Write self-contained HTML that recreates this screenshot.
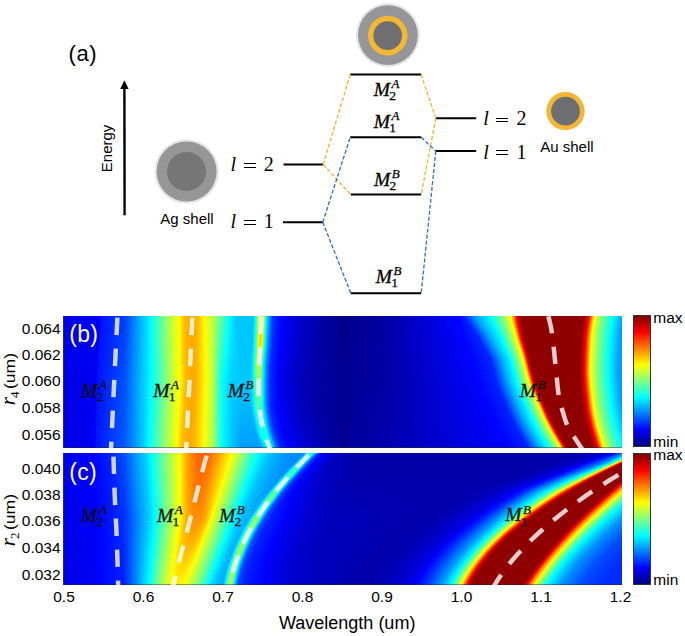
<!DOCTYPE html><html><head><meta charset="utf-8"><style>
html,body{margin:0;padding:0;background:#fff;}
body{width:685px;height:636px;position:relative;overflow:hidden;font-family:'Liberation Sans', sans-serif;}
.t{position:absolute;white-space:nowrap;line-height:1;}
.hm{position:absolute;overflow:hidden;}
.hm i{display:block;width:100%;}
.cb{position:absolute;box-sizing:border-box;border:1px solid #333;background:linear-gradient(180deg,#800000 0%,#ff0000 12.5%,#ffff00 37.5%,#00ffff 62.5%,#0000ff 87.5%,#000080 100%);}
svg{position:absolute;left:0;top:0;}
</style></head><body>
<div class="hm" style="left:63px;top:316px;width:559px;height:132px">
<i style="height:1px;background:linear-gradient(90deg,#0000e6 0px,#0000f5 33.5px,#0004ff 37.5px,#0014ff 38.5px,#003cff 61.5px,#00fbff 87.5px,#2cffd3 92.5px,#e4ff1b 112.5px,#fbff04 115.5px,#ffea00 117.5px,#ffc400 120.5px,#ffaf00 124.5px,#ffa800 130.5px,#ffb800 134.5px,#fffa00 141.5px,#c1ff3e 149.5px,#06fff9 165.5px,#00ebff 168.5px,#00c7ff 173.5px,#00cbff 190.5px,#00edff 191.5px,#0ffff0 192.5px,#37ffc8 193.5px,#d9ff26 195.5px,#ffe700 196.5px,#ffb600 197.5px,#ff9200 198.5px,#ffcf00 199.5px,#eeff11 200.5px,#27ffd8 202.5px,#00ecff 203.5px,#0077ff 207.5px,#002dff 210.5px,#0001ff 219.5px,#0000d3 234.5px,#00009b 265.5px,#00008b 279.5px,#0000a5 322.5px,#0004ff 395.5px,#0022ff 401.5px,#00a1ff 412.5px,#00fcff 427.5px,#40ffbf 433.5px,#95ff6a 440.5px,#fbff04 447.5px,#ffe300 448.5px,#ff9300 450.5px,#fc0000 453.5px,#9c0000 457.5px,#8f0000 458.5px,#8f0000 520.5px,#930000 521.5px,#f10000 525.5px,#ff1200 526.5px,#fffa00 531.5px,#a8ff57 536.5px,#77ff88 539.5px,#04fffb 549.5px,#00abff 559px)"></i>
<i style="height:1px;background:linear-gradient(90deg,#0000e6 0px,#0000f6 33.5px,#0005ff 37.5px,#0015ff 38.5px,#003cff 61.5px,#00fbff 87.5px,#2bffd4 92.5px,#e4ff1b 112.5px,#fbff04 115.5px,#ffea00 117.5px,#ffc400 120.5px,#ffaf00 124.5px,#ffa800 130.5px,#ffb800 134.5px,#fffa00 141.5px,#cbff34 148.5px,#05fffa 165.5px,#00e3ff 169.5px,#00c7ff 173.5px,#00c7ff 189.5px,#00ccff 190.5px,#00edff 191.5px,#10ffef 192.5px,#38ffc7 193.5px,#daff25 195.5px,#ffe800 196.5px,#ffb700 197.5px,#ff9500 198.5px,#ffd200 199.5px,#eaff15 200.5px,#24ffdb 202.5px,#00ebff 203.5px,#0076ff 207.5px,#002dff 210.5px,#0001ff 219.5px,#0000d3 234.5px,#00009d 264.5px,#00008b 278.5px,#0000a5 322.5px,#0003ff 395.5px,#0026ff 402.5px,#009dff 412.5px,#02fffd 428.5px,#90ff6f 440.5px,#f7ff08 447.5px,#ffeb00 448.5px,#ff6d00 451.5px,#ff0100 453.5px,#9f0000 457.5px,#8f0000 458.5px,#8f0000 520.5px,#980000 521.5px,#f50000 525.5px,#ff1b00 526.5px,#feff01 531.5px,#82ff7d 538.5px,#01fffe 549.5px,#00a9ff 559px)"></i>
<i style="height:1px;background:linear-gradient(90deg,#0000e6 0px,#0000f6 33.5px,#0000f9 36.5px,#0006ff 37.5px,#0015ff 38.5px,#003cff 61.5px,#00fbff 87.5px,#2bffd4 92.5px,#e4ff1b 112.5px,#fbff04 115.5px,#ffea00 117.5px,#ffc400 120.5px,#ffaf00 124.5px,#ffa800 130.5px,#ffb800 134.5px,#fffa00 141.5px,#d3ff2c 147.5px,#91ff6e 153.5px,#05fffa 165.5px,#00c7ff 173.5px,#00c7ff 189.5px,#00ccff 190.5px,#00eeff 191.5px,#10ffef 192.5px,#3affc5 193.5px,#daff25 195.5px,#ffe800 196.5px,#ffb800 197.5px,#ff9900 198.5px,#ffd600 199.5px,#e5ff1a 200.5px,#20ffdf 202.5px,#00eaff 203.5px,#0075ff 207.5px,#002dff 210.5px,#0001ff 219.5px,#0000d2 234.5px,#00009d 264.5px,#00008b 278.5px,#0000a5 322.5px,#0003ff 395.5px,#0022ff 402.5px,#00a0ff 413.5px,#00fdff 428.5px,#8cff73 440.5px,#f4ff0b 447.5px,#fff400 448.5px,#ff7700 451.5px,#ff0900 453.5px,#eb0000 454.5px,#a10000 457.5px,#8f0000 458.5px,#8f0000 520.5px,#9c0000 521.5px,#f90000 525.5px,#ff2400 526.5px,#ffdd00 530.5px,#fbff04 531.5px,#7fff80 538.5px,#00feff 549.5px,#00a7ff 559px)"></i>
<i style="height:1px;background:linear-gradient(90deg,#0000e6 0px,#0000f6 33.5px,#0000fa 36.5px,#0015ff 38.5px,#003dff 61.5px,#00fbff 87.5px,#35ffca 93.5px,#e4ff1b 112.5px,#fbff04 115.5px,#ffeb00 117.5px,#ffc400 120.5px,#ffaf00 124.5px,#ffa800 130.5px,#ffb800 134.5px,#fffa00 141.5px,#dbff24 146.5px,#a9ff56 151.5px,#04fffb 165.5px,#00c7ff 173.5px,#00c7ff 189.5px,#00cdff 190.5px,#00efff 191.5px,#11ffee 192.5px,#3bffc4 193.5px,#dbff24 195.5px,#ffe900 196.5px,#ffb800 197.5px,#ff9d00 198.5px,#ffd900 199.5px,#e1ff1e 200.5px,#1dffe2 202.5px,#00e9ff 203.5px,#0074ff 207.5px,#002cff 210.5px,#0001ff 219.5px,#0000d2 234.5px,#00009e 263.5px,#00008b 278.5px,#0000a5 322.5px,#0004ff 396.5px,#0023ff 403.5px,#00a2ff 414.5px,#03fffc 429.5px,#87ff78 440.5px,#fffd00 448.5px,#ff8100 451.5px,#ff1200 453.5px,#ee0000 454.5px,#8f0000 458.5px,#8f0000 520.5px,#b80000 522.5px,#fd0000 525.5px,#ffe500 530.5px,#f7ff08 531.5px,#7dff82 538.5px,#00fdff 549.5px,#00a6ff 559px)"></i>
<i style="height:1px;background:linear-gradient(90deg,#0000e6 0px,#0000f6 33.5px,#0000fa 36.5px,#0015ff 38.5px,#003dff 61.5px,#00fbff 87.5px,#35ffca 93.5px,#e4ff1b 112.5px,#fbff04 115.5px,#ffeb00 117.5px,#ffc400 120.5px,#ffaf00 124.5px,#ffa800 130.5px,#ffb800 134.5px,#fffa00 141.5px,#dbff24 146.5px,#b5ff4a 150.5px,#03fffc 165.5px,#00c7ff 173.5px,#00c7ff 189.5px,#00ceff 190.5px,#00efff 191.5px,#11ffee 192.5px,#3dffc2 193.5px,#dbff24 195.5px,#ffea00 196.5px,#ffb900 197.5px,#ffa100 198.5px,#ffdd00 199.5px,#dcff23 200.5px,#1affe5 202.5px,#00e8ff 203.5px,#0073ff 207.5px,#002cff 210.5px,#0000ff 219.5px,#0000d2 234.5px,#00009e 263.5px,#00008c 279.5px,#0000a5 322.5px,#0004ff 396.5px,#0027ff 404.5px,#009eff 414.5px,#00feff 429.5px,#91ff6e 441.5px,#fcff03 448.5px,#ffb300 450.5px,#ff8900 451.5px,#ff1c00 453.5px,#f20000 454.5px,#900000 458.5px,#8f0000 520.5px,#ff0500 525.5px,#ffed00 530.5px,#f4ff0b 531.5px,#7bff84 538.5px,#07fff8 548.5px,#00f1ff 550.5px,#00a4ff 559px)"></i>
<i style="height:1px;background:linear-gradient(90deg,#0000e6 0px,#0000f6 33.5px,#0000fa 36.5px,#0015ff 38.5px,#003dff 61.5px,#00fbff 87.5px,#34ffcb 93.5px,#e4ff1b 112.5px,#fbff04 115.5px,#fff900 116.5px,#ffc400 120.5px,#ffaf00 124.5px,#ffa800 130.5px,#ffb800 134.5px,#fffa00 141.5px,#e3ff1c 145.5px,#b4ff4b 150.5px,#03fffc 165.5px,#00c7ff 173.5px,#00c7ff 189.5px,#00cfff 190.5px,#00f0ff 191.5px,#12ffed 192.5px,#3effc1 193.5px,#dcff23 195.5px,#ffea00 196.5px,#ffba00 197.5px,#ffa400 198.5px,#ffe100 199.5px,#d8ff27 200.5px,#17ffe8 202.5px,#00e7ff 203.5px,#008bff 206.5px,#002cff 210.5px,#0000ff 219.5px,#0000d2 234.5px,#0000a0 262.5px,#00008b 278.5px,#0000a5 322.5px,#0003ff 396.5px,#0022ff 404.5px,#00a0ff 415.5px,#04fffb 430.5px,#8cff73 441.5px,#f8ff07 448.5px,#ffe600 449.5px,#ff9100 451.5px,#ff2600 453.5px,#f70000 454.5px,#930000 458.5px,#910000 520.5px,#ee0000 524.5px,#ff0d00 525.5px,#fff500 530.5px,#f1ff0e 531.5px,#79ff86 538.5px,#05fffa 548.5px,#00d3ff 553.5px,#00a2ff 559px)"></i>
<i style="height:1px;background:linear-gradient(90deg,#0000e6 0px,#0000f6 33.5px,#0000fa 36.5px,#0015ff 38.5px,#003eff 61.5px,#00fbff 87.5px,#34ffcb 93.5px,#e4ff1b 112.5px,#faff05 115.5px,#fff900 116.5px,#ffc400 120.5px,#ffaf00 124.5px,#ffa800 130.5px,#ffb800 134.5px,#fffa00 141.5px,#e3ff1c 145.5px,#b4ff4b 150.5px,#0efff1 164.5px,#02fffd 165.5px,#00c7ff 173.5px,#00c7ff 189.5px,#00d0ff 190.5px,#00f1ff 191.5px,#12ffed 192.5px,#40ffbf 193.5px,#ddff22 195.5px,#ffea00 196.5px,#ffba00 197.5px,#ffa800 198.5px,#ffe500 199.5px,#d3ff2c 200.5px,#14ffeb 202.5px,#00e5ff 203.5px,#008aff 206.5px,#003fff 209.5px,#002bff 210.5px,#0000ff 219.5px,#0000d2 234.5px,#0000a0 262.5px,#00008c 279.5px,#0000a5 322.5px,#0003ff 396.5px,#0024ff 405.5px,#00a2ff 416.5px,#00feff 430.5px,#87ff78 441.5px,#f5ff0a 448.5px,#fff100 449.5px,#ff6a00 452.5px,#ff3100 453.5px,#fb0000 454.5px,#960000 458.5px,#8f0000 460.5px,#8f0000 519.5px,#950000 520.5px,#f20000 524.5px,#ff1500 525.5px,#fffd00 530.5px,#77ff88 538.5px,#03fffc 548.5px,#00a1ff 559px)"></i>
<i style="height:1px;background:linear-gradient(90deg,#0000e6 0px,#0000f6 33.5px,#0000fa 36.5px,#0015ff 38.5px,#003eff 61.5px,#00fbff 87.5px,#34ffcb 93.5px,#e4ff1b 112.5px,#faff05 115.5px,#fffa00 116.5px,#ffc400 120.5px,#ffaf00 124.5px,#ffa800 130.5px,#ffb800 134.5px,#fffa00 141.5px,#e3ff1c 145.5px,#c1ff3e 149.5px,#2fffd0 161.5px,#02fffd 165.5px,#00c7ff 173.5px,#00c7ff 189.5px,#00d1ff 190.5px,#00f1ff 191.5px,#13ffec 192.5px,#42ffbd 193.5px,#ddff22 195.5px,#ffeb00 196.5px,#ffbb00 197.5px,#ffac00 198.5px,#ffe900 199.5px,#ceff31 200.5px,#10ffef 202.5px,#00e4ff 203.5px,#0089ff 206.5px,#003eff 209.5px,#002bff 210.5px,#0000fe 219.5px,#0000d1 234.5px,#0000a1 261.5px,#00008c 279.5px,#0000a5 322.5px,#0004ff 397.5px,#0028ff 406.5px,#009eff 416.5px,#00fbff 430.5px,#04fffb 431.5px,#91ff6e 442.5px,#fffb00 449.5px,#ff7600 452.5px,#ff0200 454.5px,#9a0000 458.5px,#8f0000 459.5px,#8f0000 519.5px,#990000 520.5px,#f60000 524.5px,#ff1d00 525.5px,#ffd700 529.5px,#fdff02 530.5px,#81ff7e 537.5px,#01fffe 548.5px,#009fff 559px)"></i>
<i style="height:1px;background:linear-gradient(90deg,#0000e6 0px,#0000f6 33.5px,#0000fa 36.5px,#0015ff 38.5px,#003eff 61.5px,#00f4ff 86.5px,#05fffa 88.5px,#dcff23 111.5px,#faff05 115.5px,#fffa00 116.5px,#ffc400 120.5px,#ffaf00 124.5px,#ffa800 130.5px,#ffb800 134.5px,#fffa00 141.5px,#ecff13 144.5px,#c1ff3e 149.5px,#39ffc6 160.5px,#01fffe 165.5px,#00c7ff 173.5px,#00c7ff 189.5px,#00d2ff 190.5px,#00f2ff 191.5px,#14ffeb 192.5px,#43ffbc 193.5px,#deff21 195.5px,#ffeb00 196.5px,#ffbb00 197.5px,#ffb000 198.5px,#ffed00 199.5px,#caff35 200.5px,#0dfff2 202.5px,#00e3ff 203.5px,#0087ff 206.5px,#003dff 209.5px,#002bff 210.5px,#0000fe 219.5px,#0000d1 234.5px,#0000a1 261.5px,#00008c 279.5px,#0000a5 322.5px,#0004ff 397.5px,#0023ff 406.5px,#00a0ff 417.5px,#00feff 431.5px,#8cff73 442.5px,#fcff03 449.5px,#ffae00 451.5px,#ff8200 452.5px,#ff0d00 454.5px,#ea0000 455.5px,#9d0000 458.5px,#8f0000 459.5px,#8f0000 519.5px,#9d0000 520.5px,#fa0000 524.5px,#ff2500 525.5px,#ffde00 529.5px,#faff05 530.5px,#7fff80 537.5px,#00feff 548.5px,#009eff 559px)"></i>
<i style="height:1px;background:linear-gradient(90deg,#0000e6 0px,#0000f6 33.5px,#0000fb 36.5px,#0015ff 38.5px,#003fff 61.5px,#00f4ff 86.5px,#05fffa 88.5px,#dcff23 111.5px,#fffa00 116.5px,#ffc400 120.5px,#ffaf00 124.5px,#ffa800 130.5px,#ffb800 134.5px,#fff900 141.5px,#ecff13 144.5px,#c0ff3f 149.5px,#38ffc7 160.5px,#01fffe 165.5px,#00c7ff 173.5px,#00c7ff 189.5px,#00d3ff 190.5px,#00f3ff 191.5px,#14ffeb 192.5px,#45ffba 193.5px,#dfff20 195.5px,#ffec00 196.5px,#ffbc00 197.5px,#ffb400 198.5px,#fff000 199.5px,#c5ff3a 200.5px,#09fff6 202.5px,#00e1ff 203.5px,#0086ff 206.5px,#003cff 209.5px,#002aff 210.5px,#0000fe 219.5px,#0000d1 234.5px,#0000a2 260.5px,#00008c 279.5px,#0000a5 322.5px,#0003ff 397.5px,#0025ff 407.5px,#00a2ff 418.5px,#00fbff 431.5px,#12ffed 433.5px,#96ff69 443.5px,#f8ff07 449.5px,#ffe600 450.5px,#ff8c00 452.5px,#ff1900 454.5px,#ef0000 455.5px,#a10000 458.5px,#8f0000 459.5px,#8f0000 519.5px,#cf0000 522.5px,#fe0000 524.5px,#ffe500 529.5px,#f7ff08 530.5px,#7dff82 537.5px,#00fdff 548.5px,#009eff 559px)"></i>
<i style="height:1px;background:linear-gradient(90deg,#0000e6 0px,#0000f6 33.5px,#0000fc 36.5px,#0015ff 38.5px,#003fff 61.5px,#00f4ff 86.5px,#05fffa 88.5px,#dcff23 111.5px,#fffa00 116.5px,#ffc500 120.5px,#ffaf00 124.5px,#ffa800 130.5px,#ffb800 134.5px,#fff900 141.5px,#ecff13 144.5px,#c0ff3f 149.5px,#42ffbd 159.5px,#00ffff 165.5px,#00c8ff 173.5px,#00c7ff 189.5px,#00d4ff 190.5px,#00f4ff 191.5px,#15ffea 192.5px,#47ffb8 193.5px,#e0ff1f 195.5px,#ffec00 196.5px,#ffbc00 197.5px,#ffb900 198.5px,#fff500 199.5px,#c0ff3f 200.5px,#06fff9 202.5px,#00a1ff 205.5px,#003bff 209.5px,#002aff 210.5px,#0000fe 219.5px,#0000d3 233.5px,#0000a2 260.5px,#00008c 279.5px,#0000a5 322.5px,#0003ff 397.5px,#0029ff 408.5px,#009eff 418.5px,#00feff 432.5px,#91ff6e 443.5px,#f4ff0b 449.5px,#fff100 450.5px,#ff9700 452.5px,#ff2500 454.5px,#f50000 455.5px,#8f0000 459.5px,#8f0000 519.5px,#ff0400 524.5px,#ffed00 529.5px,#f4ff0b 530.5px,#7bff84 537.5px,#07fff8 547.5px,#00f1ff 549.5px,#009eff 559px)"></i>
<i style="height:1px;background:linear-gradient(90deg,#0000e6 0px,#0000f6 33.5px,#0000fd 36.5px,#0015ff 38.5px,#003fff 61.5px,#00f4ff 86.5px,#05fffa 88.5px,#dcff23 111.5px,#fffa00 116.5px,#ffc500 120.5px,#ffaf00 124.5px,#ffa800 130.5px,#ffb800 134.5px,#fff900 141.5px,#ecff13 144.5px,#c0ff3f 149.5px,#41ffbe 159.5px,#00feff 165.5px,#00c8ff 173.5px,#00c7ff 189.5px,#00d5ff 190.5px,#00f5ff 191.5px,#15ffea 192.5px,#49ffb6 193.5px,#e1ff1e 195.5px,#ffec00 196.5px,#ffbc00 197.5px,#ffbd00 198.5px,#fff900 199.5px,#bbff44 200.5px,#02fffd 202.5px,#0083ff 206.5px,#003aff 209.5px,#002aff 210.5px,#0000fd 219.5px,#0000d2 233.5px,#0000a4 259.5px,#00008d 279.5px,#0000a5 322.5px,#0003ff 397.5px,#0023ff 408.5px,#00a0ff 419.5px,#00fbff 432.5px,#05fffa 433.5px,#8bff74 443.5px,#fffe00 450.5px,#ff7000 453.5px,#ff3300 454.5px,#fa0000 455.5px,#910000 459.5px,#900000 519.5px,#ee0000 523.5px,#ff0c00 524.5px,#fff300 529.5px,#f2ff0d 530.5px,#79ff86 537.5px,#05fffa 547.5px,#00ddff 551.5px,#00a3ff 557.5px,#009eff 559px)"></i>
<i style="height:1px;background:linear-gradient(90deg,#0000e6 0px,#0000f5 32.5px,#0000fe 36.5px,#000fff 37.5px,#001cff 42.5px,#003fff 61.5px,#00f4ff 86.5px,#05fffa 88.5px,#dcff23 111.5px,#fffb00 116.5px,#ffc500 120.5px,#ffaf00 124.5px,#ffa800 130.5px,#ffb800 134.5px,#fff900 141.5px,#ecff13 144.5px,#c0ff3f 149.5px,#40ffbf 159.5px,#00feff 165.5px,#00c9ff 173.5px,#00c7ff 189.5px,#00d6ff 190.5px,#00f6ff 191.5px,#16ffe9 192.5px,#4bffb4 193.5px,#e2ff1d 195.5px,#ffec00 196.5px,#ffbd00 197.5px,#ffc100 198.5px,#fffd00 199.5px,#b6ff49 200.5px,#00fdff 202.5px,#0082ff 206.5px,#0039ff 209.5px,#0029ff 210.5px,#0000fd 219.5px,#0000d2 233.5px,#0000a4 259.5px,#00008d 279.5px,#0000a5 322.5px,#0004ff 398.5px,#0025ff 409.5px,#00a2ff 420.5px,#00feff 433.5px,#84ff7b 443.5px,#fbff04 450.5px,#ffdc00 451.5px,#ff7e00 453.5px,#ff0200 455.5px,#950000 459.5px,#8f0000 461.5px,#8f0000 518.5px,#930000 519.5px,#f10000 523.5px,#ff1200 524.5px,#fffa00 529.5px,#a8ff57 534.5px,#77ff88 537.5px,#04fffb 547.5px,#00a1ff 557.5px,#009eff 559px)"></i>
<i style="height:1px;background:linear-gradient(90deg,#0000e6 0px,#0000f5 32.5px,#0000ff 36.5px,#0010ff 37.5px,#0040ff 61.5px,#00f4ff 86.5px,#05fffa 88.5px,#dcff23 111.5px,#fffb00 116.5px,#ffc500 120.5px,#ffaf00 124.5px,#ffa800 130.5px,#ffb800 134.5px,#fff900 141.5px,#ecff13 144.5px,#c0ff3f 149.5px,#49ffb6 158.5px,#00fdff 165.5px,#00c9ff 173.5px,#00c7ff 189.5px,#00d7ff 190.5px,#00f6ff 191.5px,#17ffe8 192.5px,#4dffb2 193.5px,#e2ff1d 195.5px,#ffec00 196.5px,#ffbd00 197.5px,#ffc500 198.5px,#fdff02 199.5px,#b1ff4e 200.5px,#00fbff 202.5px,#0081ff 206.5px,#0037ff 209.5px,#0029ff 210.5px,#0000fd 219.5px,#0000d2 233.5px,#0000a5 258.5px,#00008d 279.5px,#0000a5 322.5px,#0003ff 398.5px,#0028ff 410.5px,#00a4ff 421.5px,#00faff 433.5px,#05fffa 434.5px,#8fff70 444.5px,#f6ff09 450.5px,#ffe800 451.5px,#ff8a00 453.5px,#ff1000 455.5px,#ea0000 456.5px,#9a0000 459.5px,#8f0000 460.5px,#8f0000 518.5px,#970000 519.5px,#f40000 523.5px,#ff1900 524.5px,#feff01 529.5px,#82ff7d 536.5px,#02fffd 547.5px,#00a0ff 557.5px,#009eff 559px)"></i>
<i style="height:1px;background:linear-gradient(90deg,#0000e6 0px,#0000f5 32.5px,#0001ff 36.5px,#0011ff 37.5px,#0040ff 61.5px,#00f4ff 86.5px,#05fffa 88.5px,#dcff23 111.5px,#fffb00 116.5px,#ffc500 120.5px,#ffaf00 124.5px,#ffa800 130.5px,#ffb800 134.5px,#fff900 141.5px,#f4ff0b 143.5px,#c0ff3f 149.5px,#48ffb7 158.5px,#00fdff 165.5px,#00c7ff 174.5px,#00c7ff 189.5px,#00d8ff 190.5px,#00f7ff 191.5px,#17ffe8 192.5px,#4fffb0 193.5px,#e2ff1d 195.5px,#ffed00 196.5px,#ffbd00 197.5px,#ffca00 198.5px,#f9ff06 199.5px,#acff53 200.5px,#51ffae 201.5px,#00faff 202.5px,#007fff 206.5px,#0036ff 209.5px,#0029ff 210.5px,#0000fd 219.5px,#0000d2 233.5px,#0000a5 258.5px,#00008d 279.5px,#0000a5 322.5px,#0003ff 398.5px,#0023ff 410.5px,#00a7ff 422.5px,#00feff 434.5px,#89ff76 444.5px,#f1ff0e 450.5px,#fff600 451.5px,#ff9600 453.5px,#ff1e00 455.5px,#f00000 456.5px,#9e0000 459.5px,#8f0000 460.5px,#8f0000 518.5px,#9a0000 519.5px,#f70000 523.5px,#ff2000 524.5px,#ffd900 528.5px,#fcff03 529.5px,#80ff7f 536.5px,#00ffff 547.5px,#009eff 557.5px,#009eff 559px)"></i>
<i style="height:1px;background:linear-gradient(90deg,#0000e6 0px,#0000f5 32.5px,#0002ff 36.5px,#0012ff 37.5px,#0040ff 61.5px,#00f4ff 86.5px,#05fffa 88.5px,#dcff23 111.5px,#fffb00 116.5px,#ffc500 120.5px,#ffaf00 124.5px,#ffa800 130.5px,#ffb800 134.5px,#fff900 141.5px,#f5ff0a 143.5px,#c0ff3f 149.5px,#47ffb8 158.5px,#00fcff 165.5px,#00c7ff 174.5px,#00c7ff 189.5px,#00d9ff 190.5px,#00f8ff 191.5px,#18ffe7 192.5px,#51ffae 193.5px,#e2ff1d 195.5px,#ffed00 196.5px,#ffbd00 197.5px,#ffce00 198.5px,#f5ff0a 199.5px,#a7ff58 200.5px,#4dffb2 201.5px,#00f8ff 202.5px,#007eff 206.5px,#0035ff 209.5px,#0023ff 211.5px,#0001ff 218.5px,#0000d2 233.5px,#0000a5 258.5px,#00008d 279.5px,#0000a5 322.5px,#0002ff 398.5px,#0024ff 411.5px,#00a2ff 422.5px,#00faff 434.5px,#05fffa 435.5px,#94ff6b 445.5px,#fdff02 451.5px,#ffa300 453.5px,#ff6e00 454.5px,#ff2d00 455.5px,#f60000 456.5px,#a20000 459.5px,#8f0000 460.5px,#8f0000 518.5px,#9d0000 519.5px,#fa0000 523.5px,#ff2600 524.5px,#ffdf00 528.5px,#faff05 529.5px,#7eff81 536.5px,#00feff 547.5px,#009eff 557.5px,#009eff 559px)"></i>
<i style="height:1px;background:linear-gradient(90deg,#0000e6 0px,#0000f5 32.5px,#0003ff 36.5px,#0012ff 37.5px,#0041ff 61.5px,#00f4ff 86.5px,#05fffa 88.5px,#dcff23 111.5px,#fffb00 116.5px,#ffc500 120.5px,#ffaf00 124.5px,#ffa800 130.5px,#ffb800 134.5px,#fff900 141.5px,#f5ff0a 143.5px,#c0ff3f 149.5px,#46ffb9 158.5px,#00fbff 165.5px,#00c7ff 174.5px,#00c7ff 189.5px,#00dbff 190.5px,#00f9ff 191.5px,#19ffe6 192.5px,#53ffac 193.5px,#e2ff1d 195.5px,#ffed00 196.5px,#ffbd00 197.5px,#ffd200 198.5px,#f0ff0f 199.5px,#a2ff5d 200.5px,#49ffb6 201.5px,#00f7ff 202.5px,#007dff 206.5px,#0034ff 209.5px,#0023ff 211.5px,#0000ff 218.5px,#0000d1 233.5px,#0000a6 257.5px,#00008d 279.5px,#0000a5 322.5px,#0004ff 399.5px,#0028ff 412.5px,#00a4ff 423.5px,#00feff 435.5px,#8dff72 445.5px,#f8ff07 451.5px,#ffe100 452.5px,#ff7e00 454.5px,#fd0000 456.5px,#a70000 459.5px,#8f0000 460.5px,#8f0000 518.5px,#b80000 520.5px,#fd0000 523.5px,#ffe500 528.5px,#f8ff07 529.5px,#7dff82 536.5px,#00fdff 547.5px,#009eff 557.5px,#009eff 559px)"></i>
<i style="height:1px;background:linear-gradient(90deg,#0000e6 0px,#0000f5 32.5px,#0004ff 36.5px,#0013ff 37.5px,#0041ff 61.5px,#00f4ff 86.5px,#05fffa 88.5px,#dbff24 111.5px,#fffc00 116.5px,#ffc500 120.5px,#ffaf00 124.5px,#ffa800 130.5px,#ffb800 134.5px,#fff900 141.5px,#f5ff0a 143.5px,#c0ff3f 149.5px,#45ffba 158.5px,#00fbff 165.5px,#00c7ff 174.5px,#00c7ff 189.5px,#00dcff 190.5px,#00faff 191.5px,#19ffe6 192.5px,#55ffaa 193.5px,#e2ff1d 195.5px,#ffed00 196.5px,#ffbe00 197.5px,#ffd700 198.5px,#ecff13 199.5px,#9dff62 200.5px,#44ffbb 201.5px,#00f5ff 202.5px,#007bff 206.5px,#0033ff 209.5px,#0023ff 211.5px,#0000ff 218.5px,#0000d1 233.5px,#0000a6 257.5px,#00008e 279.5px,#0000a5 322.5px,#0003ff 399.5px,#0023ff 412.5px,#00a6ff 424.5px,#04fffb 436.5px,#86ff79 445.5px,#f3ff0c 451.5px,#ffef00 452.5px,#ff8b00 454.5px,#ff0a00 456.5px,#e60000 457.5px,#940000 460.5px,#8f0000 465.5px,#8f0000 518.5px,#ff0200 523.5px,#ffea00 528.5px,#f6ff09 529.5px,#7cff83 536.5px,#00fcff 547.5px,#009eff 557.5px,#009eff 559px)"></i>
<i style="height:1px;background:linear-gradient(90deg,#0000e6 0px,#0000f5 32.5px,#0005ff 36.5px,#0014ff 37.5px,#0041ff 61.5px,#00f4ff 86.5px,#05fffa 88.5px,#dbff24 111.5px,#fffc00 116.5px,#ffc500 120.5px,#ffaf00 124.5px,#ffa800 130.5px,#ffb800 134.5px,#fff800 141.5px,#f5ff0a 143.5px,#c0ff3f 149.5px,#43ffbc 158.5px,#05fffa 164.5px,#00ebff 167.5px,#00c7ff 174.5px,#00c7ff 189.5px,#00ddff 190.5px,#00fbff 191.5px,#1affe5 192.5px,#57ffa8 193.5px,#e2ff1d 195.5px,#ffed00 196.5px,#ffbe00 197.5px,#ffdb00 198.5px,#e8ff17 199.5px,#98ff67 200.5px,#40ffbf 201.5px,#00f4ff 202.5px,#0094ff 205.5px,#0032ff 209.5px,#0018ff 213.5px,#0000ff 218.5px,#0000d1 233.5px,#0000a6 257.5px,#00008e 279.5px,#0000a5 322.5px,#0002ff 399.5px,#0024ff 413.5px,#00a1ff 424.5px,#00fdff 436.5px,#91ff6e 446.5px,#fffe00 452.5px,#ff9800 454.5px,#ff5d00 455.5px,#ff1a00 456.5px,#ec0000 457.5px,#b00000 459.5px,#980000 460.5px,#8f0000 461.5px,#8f0000 518.5px,#eb0000 522.5px,#ff0700 523.5px,#ffef00 528.5px,#f4ff0b 529.5px,#7aff85 536.5px,#06fff9 546.5px,#00f1ff 548.5px,#009eff 557.5px,#009eff 559px)"></i>
<i style="height:1px;background:linear-gradient(90deg,#0000e6 0px,#0000f5 32.5px,#0000f9 35.5px,#0005ff 36.5px,#0014ff 37.5px,#0042ff 61.5px,#00f4ff 86.5px,#05fffa 88.5px,#dbff24 111.5px,#fffc00 116.5px,#ffc600 120.5px,#ffaf00 124.5px,#ffa800 130.5px,#ffb800 134.5px,#fff800 141.5px,#f5ff0a 143.5px,#c0ff3f 149.5px,#42ffbd 158.5px,#05fffa 164.5px,#00e0ff 169.5px,#00c7ff 174.5px,#00c7ff 189.5px,#00fcff 191.5px,#1bffe4 192.5px,#59ffa6 193.5px,#e2ff1d 195.5px,#ffed00 196.5px,#ffbe00 197.5px,#ffe000 198.5px,#e3ff1c 199.5px,#3bffc4 201.5px,#00f2ff 202.5px,#0092ff 205.5px,#0030ff 209.5px,#0003ff 217.5px,#0000cf 234.5px,#0000a6 257.5px,#00008e 279.5px,#0000a5 322.5px,#0002ff 399.5px,#0028ff 414.5px,#00a4ff 425.5px,#00faff 436.5px,#05fffa 437.5px,#8bff74 446.5px,#faff05 452.5px,#ffd900 453.5px,#ff6e00 455.5px,#ff2a00 456.5px,#f30000 457.5px,#b60000 459.5px,#9d0000 460.5px,#8f0000 461.5px,#900000 518.5px,#ed0000 522.5px,#ff0c00 523.5px,#fff300 528.5px,#f2ff0d 529.5px,#79ff86 536.5px,#05fffa 546.5px,#00ddff 550.5px,#00a3ff 556.5px,#009eff 559px)"></i>
<i style="height:1px;background:linear-gradient(90deg,#0000e6 0px,#0000f5 32.5px,#0000fa 35.5px,#0015ff 37.5px,#0042ff 61.5px,#00f4ff 86.5px,#05fffa 88.5px,#dbff24 111.5px,#fffc00 116.5px,#ffc600 120.5px,#ffaf00 124.5px,#ffa800 130.5px,#ffb800 134.5px,#fff800 141.5px,#f5ff0a 143.5px,#c0ff3f 149.5px,#41ffbe 158.5px,#04fffb 164.5px,#00cbff 173.5px,#00c7ff 189.5px,#00fdff 191.5px,#1cffe3 192.5px,#e2ff1d 195.5px,#ffed00 196.5px,#ffbe00 197.5px,#ffe400 198.5px,#dfff20 199.5px,#37ffc8 201.5px,#00f0ff 202.5px,#0090ff 205.5px,#002fff 209.5px,#0000fe 218.5px,#0000d0 233.5px,#0000a7 256.5px,#00008e 279.5px,#0000a5 322.5px,#0003ff 400.5px,#0023ff 414.5px,#00a8ff 426.5px,#00feff 437.5px,#85ff7a 446.5px,#f5ff0a 452.5px,#ffe600 453.5px,#ff7f00 455.5px,#ff3a00 456.5px,#fa0000 457.5px,#a20000 460.5px,#8f0000 461.5px,#920000 518.5px,#f00000 522.5px,#ff1000 523.5px,#fff800 528.5px,#deff21 530.5px,#78ff87 536.5px,#04fffb 546.5px,#00a2ff 556.5px,#009dff 559px)"></i>
<i style="height:1px;background:linear-gradient(90deg,#0000e6 0px,#0000f5 32.5px,#0000fa 35.5px,#0015ff 37.5px,#0042ff 61.5px,#00f4ff 86.5px,#05fffa 88.5px,#dbff24 111.5px,#fffd00 116.5px,#ffc600 120.5px,#ffaf00 124.5px,#ffa800 130.5px,#ffb800 134.5px,#fff800 141.5px,#f5ff0a 143.5px,#c0ff3f 149.5px,#40ffbf 158.5px,#03fffc 164.5px,#00d5ff 171.5px,#00c7ff 175.5px,#00c7ff 189.5px,#00feff 191.5px,#1cffe3 192.5px,#e3ff1c 195.5px,#ffed00 196.5px,#ffbe00 197.5px,#ffe900 198.5px,#dbff24 199.5px,#33ffcc 201.5px,#00efff 202.5px,#008fff 205.5px,#002eff 209.5px,#0000fe 218.5px,#0000d0 233.5px,#0000a7 256.5px,#00008e 279.5px,#0000a5 322.5px,#0003ff 400.5px,#0027ff 415.5px,#00a4ff 426.5px,#00fbff 437.5px,#16ffe9 439.5px,#91ff6e 447.5px,#f0ff0f 452.5px,#fff500 453.5px,#ff8d00 455.5px,#ff0700 457.5px,#c30000 459.5px,#900000 461.5px,#8f0000 517.5px,#940000 518.5px,#f20000 522.5px,#ff1400 523.5px,#fffc00 528.5px,#77ff88 536.5px,#03fffc 546.5px,#00a1ff 556.5px,#009dff 559px)"></i>
<i style="height:1px;background:linear-gradient(90deg,#0000e6 0px,#0000f5 32.5px,#0000fa 35.5px,#0015ff 37.5px,#0042ff 61.5px,#00f4ff 86.5px,#05fffa 88.5px,#dbff24 111.5px,#fffd00 116.5px,#ffc600 120.5px,#ffaf00 124.5px,#ffa800 130.5px,#ffb800 134.5px,#fff800 141.5px,#f5ff0a 143.5px,#c0ff3f 149.5px,#3effc1 158.5px,#03fffc 164.5px,#00dfff 169.5px,#00c7ff 174.5px,#00c7ff 189.5px,#00ffff 191.5px,#1dffe2 192.5px,#a6ff59 194.5px,#e3ff1c 195.5px,#ffed00 196.5px,#ffbe00 197.5px,#ffee00 198.5px,#d6ff29 199.5px,#2effd1 201.5px,#00edff 202.5px,#008dff 205.5px,#002dff 209.5px,#0000fe 218.5px,#0000d0 233.5px,#0000a7 256.5px,#00008e 279.5px,#0000a5 322.5px,#0002ff 400.5px,#0023ff 415.5px,#00a8ff 427.5px,#01fffe 438.5px,#8bff74 447.5px,#fdff02 453.5px,#ff9b00 455.5px,#ff5f00 456.5px,#ff1900 457.5px,#eb0000 458.5px,#ad0000 460.5px,#960000 461.5px,#8f0000 463.5px,#8f0000 517.5px,#960000 518.5px,#f30000 522.5px,#ff1800 523.5px,#ffff00 528.5px,#83ff7c 535.5px,#02fffd 546.5px,#00a0ff 556.5px,#009dff 559px)"></i>
<i style="height:1px;background:linear-gradient(90deg,#0000e6 0px,#0000f5 32.5px,#0000fa 35.5px,#0015ff 37.5px,#0043ff 61.5px,#00f4ff 86.5px,#05fffa 88.5px,#dbff24 111.5px,#fffd00 116.5px,#ffc600 120.5px,#ffaf00 124.5px,#ffa800 130.5px,#ffb800 134.5px,#fff800 141.5px,#f5ff0a 143.5px,#bfff40 149.5px,#3dffc2 158.5px,#02fffd 164.5px,#00e4ff 168.5px,#00c7ff 174.5px,#00c7ff 189.5px,#01fffe 191.5px,#1effe1 192.5px,#a7ff58 194.5px,#e3ff1c 195.5px,#ffec00 196.5px,#ffbe00 197.5px,#fff200 198.5px,#d2ff2d 199.5px,#2affd5 201.5px,#00ebff 202.5px,#008bff 205.5px,#002cff 209.5px,#0000fd 218.5px,#0000d0 233.5px,#0000a6 256.5px,#00008e 279.5px,#0000a5 322.5px,#0004ff 401.5px,#0026ff 416.5px,#00a4ff 427.5px,#00fcff 438.5px,#37ffc8 442.5px,#97ff68 448.5px,#f7ff08 453.5px,#ffe000 454.5px,#ff7300 456.5px,#ff2c00 457.5px,#f30000 458.5px,#b40000 460.5px,#9c0000 461.5px,#8f0000 462.5px,#8f0000 517.5px,#980000 518.5px,#f50000 522.5px,#ff1b00 523.5px,#feff01 528.5px,#82ff7d 535.5px,#02fffd 546.5px,#009fff 556.5px,#009dff 559px)"></i>
<i style="height:1px;background:linear-gradient(90deg,#0000e6 0px,#0000f5 32.5px,#0000fa 35.5px,#0015ff 37.5px,#0043ff 61.5px,#00f4ff 86.5px,#05fffa 88.5px,#c1ff3e 108.5px,#fffd00 116.5px,#ffc600 120.5px,#ffaf00 124.5px,#ffa800 130.5px,#ffb800 134.5px,#fff800 141.5px,#f5ff0a 143.5px,#bfff40 149.5px,#3cffc3 158.5px,#01fffe 164.5px,#00e9ff 167.5px,#00c7ff 174.5px,#00c7ff 189.5px,#01fffe 191.5px,#1effe1 192.5px,#a9ff56 194.5px,#e3ff1c 195.5px,#ffec00 196.5px,#ffbe00 197.5px,#fff700 198.5px,#cdff32 199.5px,#25ffda 201.5px,#00eaff 202.5px,#0089ff 205.5px,#002aff 209.5px,#0000fd 218.5px,#0000cf 233.5px,#0000a7 255.5px,#00008f 279.5px,#0000a5 322.5px,#0003ff 401.5px,#0023ff 416.5px,#00a8ff 428.5px,#03fffc 439.5px,#90ff6f 448.5px,#f1ff0e 453.5px,#fff000 454.5px,#ff8600 456.5px,#fc0000 458.5px,#a20000 461.5px,#8f0000 462.5px,#8f0000 517.5px,#990000 518.5px,#f60000 522.5px,#ff1e00 523.5px,#ffd700 527.5px,#fdff02 528.5px,#81ff7e 535.5px,#01fffe 546.5px,#009fff 556.5px,#009dff 559px)"></i>
<i style="height:1px;background:linear-gradient(90deg,#0000e6 0px,#0000f5 32.5px,#0000fb 35.5px,#0015ff 37.5px,#0043ff 61.5px,#00f4ff 86.5px,#04fffb 88.5px,#b7ff48 107.5px,#f1ff0e 114.5px,#fffd00 116.5px,#ffc600 120.5px,#ffaf00 124.5px,#ffa800 130.5px,#ffb800 134.5px,#fff800 141.5px,#f6ff09 143.5px,#bfff40 149.5px,#3bffc4 158.5px,#01fffe 164.5px,#00e8ff 167.5px,#00c7ff 175.5px,#00c8ff 189.5px,#02fffd 191.5px,#21ffde 192.5px,#abff54 194.5px,#e3ff1c 195.5px,#ffec00 196.5px,#ffc200 197.5px,#fffb00 198.5px,#c8ff37 199.5px,#21ffde 201.5px,#00e8ff 202.5px,#0087ff 205.5px,#002aff 209.5px,#0000fd 218.5px,#0000cf 233.5px,#0000a7 255.5px,#00008f 279.5px,#0000a5 322.5px,#0002ff 401.5px,#0024ff 417.5px,#00a3ff 428.5px,#00fdff 439.5px,#89ff76 448.5px,#feff01 454.5px,#ff9600 456.5px,#ff0e00 458.5px,#e50000 459.5px,#a80000 461.5px,#900000 462.5px,#8f0000 517.5px,#9a0000 518.5px,#f80000 522.5px,#ff2000 523.5px,#ffda00 527.5px,#fcff03 528.5px,#80ff7f 535.5px,#00ffff 546.5px,#009eff 556.5px,#009dff 559px)"></i>
<i style="height:1px;background:linear-gradient(90deg,#0000e6 0px,#0000f5 32.5px,#0000fb 35.5px,#0015ff 37.5px,#0044ff 61.5px,#00f4ff 86.5px,#04fffb 88.5px,#adff52 106.5px,#eaff15 113.5px,#fffe00 116.5px,#ffc600 120.5px,#ffaf00 124.5px,#ffa800 130.5px,#ffb800 134.5px,#fff800 141.5px,#f6ff09 143.5px,#bfff40 149.5px,#39ffc6 158.5px,#00ffff 164.5px,#00e8ff 167.5px,#00c7ff 175.5px,#00c9ff 189.5px,#03fffc 191.5px,#23ffdc 192.5px,#acff53 194.5px,#e4ff1b 195.5px,#ffec00 196.5px,#ffc600 197.5px,#feff01 198.5px,#c2ff3d 199.5px,#1cffe3 201.5px,#00e6ff 202.5px,#0086ff 205.5px,#0029ff 209.5px,#0000fc 218.5px,#0000cf 233.5px,#0000a7 255.5px,#00008f 279.5px,#0000a4 322.5px,#0003ff 402.5px,#0023ff 417.5px,#004dff 421.5px,#00a7ff 429.5px,#00f9ff 439.5px,#05fffa 440.5px,#95ff6a 449.5px,#f7ff08 454.5px,#ffdd00 455.5px,#ff6c00 457.5px,#ff2400 458.5px,#ef0000 459.5px,#af0000 461.5px,#970000 462.5px,#8f0000 463.5px,#8f0000 517.5px,#9c0000 518.5px,#f90000 522.5px,#ff2300 523.5px,#ffdd00 527.5px,#fbff04 528.5px,#7fff80 535.5px,#00ffff 546.5px,#009eff 556.5px,#009dff 559px)"></i>
<i style="height:1px;background:linear-gradient(90deg,#0000e6 0px,#0000f5 32.5px,#0000fc 35.5px,#0015ff 37.5px,#0044ff 61.5px,#00f4ff 86.5px,#04fffb 88.5px,#a3ff5c 105.5px,#e2ff1d 112.5px,#fffe00 116.5px,#ffc600 120.5px,#ffaf00 124.5px,#ffa800 130.5px,#ffb800 134.5px,#fff800 141.5px,#f6ff09 143.5px,#bfff40 149.5px,#38ffc7 158.5px,#00feff 164.5px,#00e7ff 167.5px,#00c7ff 175.5px,#00cbff 189.5px,#04fffb 191.5px,#26ffd9 192.5px,#aeff51 194.5px,#e4ff1b 195.5px,#ffec00 196.5px,#ffcb00 197.5px,#f9ff06 198.5px,#bcff43 199.5px,#18ffe7 201.5px,#00e4ff 202.5px,#0084ff 205.5px,#0029ff 209.5px,#0000ff 217.5px,#0000cf 233.5px,#0000a7 255.5px,#00008f 279.5px,#0000a4 322.5px,#0003ff 402.5px,#0023ff 418.5px,#00a2ff 429.5px,#00feff 440.5px,#8dff72 449.5px,#f1ff0e 454.5px,#fff000 455.5px,#ff8200 457.5px,#ff3a00 458.5px,#f80000 459.5px,#b70000 461.5px,#9e0000 462.5px,#8f0000 463.5px,#8f0000 517.5px,#9d0000 518.5px,#fa0000 522.5px,#ff2600 523.5px,#ffdf00 527.5px,#faff05 528.5px,#7eff81 535.5px,#00feff 546.5px,#009eff 556.5px,#009dff 559px)"></i>
<i style="height:1px;background:linear-gradient(90deg,#0000e6 0px,#0000f5 32.5px,#0000fd 35.5px,#0015ff 37.5px,#0044ff 61.5px,#00edff 85.5px,#04fffb 88.5px,#a3ff5c 105.5px,#e2ff1d 112.5px,#fffe00 116.5px,#ffc600 120.5px,#ffaf00 124.5px,#ffa800 130.5px,#ffb800 134.5px,#fff700 141.5px,#f6ff09 143.5px,#bfff40 149.5px,#37ffc8 158.5px,#00fdff 164.5px,#00e7ff 167.5px,#00c7ff 175.5px,#00c7ff 188.5px,#00ccff 189.5px,#05fffa 191.5px,#28ffd7 192.5px,#afff50 194.5px,#e4ff1b 195.5px,#ffec00 196.5px,#ffd000 197.5px,#f4ff0b 198.5px,#b7ff48 199.5px,#14ffeb 201.5px,#00e2ff 202.5px,#0083ff 205.5px,#0029ff 209.5px,#0000ff 217.5px,#0000ce 233.5px,#0000a7 255.5px,#00008f 279.5px,#0000a4 322.5px,#0004ff 403.5px,#0027ff 419.5px,#00a6ff 430.5px,#00faff 440.5px,#06fff9 441.5px,#85ff7a 449.5px,#feff01 455.5px,#ff9400 457.5px,#ff0700 459.5px,#c00000 461.5px,#8f0000 463.5px,#8f0000 517.5px,#9e0000 518.5px,#fc0000 522.5px,#ff5800 524.5px,#ffe200 527.5px,#f9ff06 528.5px,#7eff81 535.5px,#00fdff 546.5px,#009eff 556.5px,#009dff 559px)"></i>
<i style="height:1px;background:linear-gradient(90deg,#0000e6 0px,#0000f5 32.5px,#0000fe 35.5px,#0015ff 37.5px,#0045ff 61.5px,#00edff 85.5px,#04fffb 88.5px,#99ff66 104.5px,#e2ff1d 112.5px,#fffe00 116.5px,#ffc700 120.5px,#ffaf00 124.5px,#ffa800 130.5px,#ffb800 134.5px,#fff700 141.5px,#ffff00 142.5px,#bfff40 149.5px,#36ffc9 158.5px,#00fdff 164.5px,#00e6ff 167.5px,#00c7ff 175.5px,#00c7ff 188.5px,#00cdff 189.5px,#06fff9 191.5px,#2bffd4 192.5px,#b1ff4e 194.5px,#e4ff1b 195.5px,#ffed00 196.5px,#ffd600 197.5px,#efff10 198.5px,#b1ff4e 199.5px,#0ffff0 201.5px,#00e1ff 202.5px,#0081ff 205.5px,#0028ff 209.5px,#0000ff 217.5px,#0000d0 232.5px,#0000a7 255.5px,#00008f 279.5px,#0000a4 322.5px,#0003ff 403.5px,#0023ff 419.5px,#00aaff 431.5px,#00feff 441.5px,#92ff6d 450.5px,#f7ff08 455.5px,#ffde00 456.5px,#ff6800 458.5px,#ff1e00 459.5px,#eb0000 460.5px,#ab0000 462.5px,#930000 463.5px,#8f0000 469.5px,#8f0000 517.5px,#b70000 519.5px,#fd0000 522.5px,#ffe400 527.5px,#f8ff07 528.5px,#7dff82 535.5px,#00fdff 546.5px,#009eff 556.5px,#009dff 559px)"></i>
<i style="height:1px;background:linear-gradient(90deg,#0000e6 0px,#0000f4 31.5px,#0000ff 35.5px,#0016ff 37.5px,#0045ff 61.5px,#00edff 85.5px,#04fffb 88.5px,#98ff67 104.5px,#e2ff1d 112.5px,#fffe00 116.5px,#ffc700 120.5px,#ffb000 124.5px,#ffa800 130.5px,#ffb800 134.5px,#fff700 141.5px,#ffff00 142.5px,#bfff40 149.5px,#34ffcb 158.5px,#00fcff 164.5px,#00e5ff 167.5px,#00c7ff 175.5px,#00c7ff 188.5px,#00cfff 189.5px,#07fff8 191.5px,#2effd1 192.5px,#b3ff4c 194.5px,#e4ff1b 195.5px,#ffee00 196.5px,#ffde00 197.5px,#e9ff16 198.5px,#abff54 199.5px,#0bfff4 201.5px,#00deff 202.5px,#007fff 205.5px,#0028ff 209.5px,#0000fe 217.5px,#0000d0 232.5px,#0000a7 255.5px,#00008f 279.5px,#0000a4 322.5px,#0002ff 403.5px,#0025ff 420.5px,#00a5ff 431.5px,#00faff 441.5px,#07fff8 442.5px,#8aff75 450.5px,#f0ff0f 455.5px,#fff000 456.5px,#ff8000 458.5px,#ff3500 459.5px,#f50000 460.5px,#b20000 462.5px,#9a0000 463.5px,#8f0000 464.5px,#8f0000 517.5px,#e70000 521.5px,#fe0000 522.5px,#ffe700 527.5px,#f7ff08 528.5px,#7cff83 535.5px,#00fcff 546.5px,#009eff 556.5px,#009dff 559px)"></i>
<i style="height:1px;background:linear-gradient(90deg,#0000e6 0px,#0000f4 31.5px,#0001ff 35.5px,#0010ff 36.5px,#0037ff 55.5px,#0045ff 61.5px,#00edff 85.5px,#04fffb 88.5px,#98ff67 104.5px,#e2ff1d 112.5px,#ffff00 116.5px,#ffc700 120.5px,#ffb000 124.5px,#ffa800 130.5px,#ffb800 134.5px,#ffff00 142.5px,#bfff40 149.5px,#33ffcc 158.5px,#00fbff 164.5px,#00e5ff 167.5px,#00c7ff 175.5px,#00c7ff 188.5px,#00d0ff 189.5px,#00ecff 190.5px,#08fff7 191.5px,#31ffce 192.5px,#b5ff4a 194.5px,#e4ff1b 195.5px,#ffef00 196.5px,#ffe500 197.5px,#e3ff1c 198.5px,#a4ff5b 199.5px,#05fffa 201.5px,#007dff 205.5px,#0038ff 208.5px,#0027ff 209.5px,#0000fe 217.5px,#0000d0 232.5px,#0000a8 254.5px,#000090 279.5px,#0000a4 322.5px,#0004ff 404.5px,#0023ff 420.5px,#0071ff 427.5px,#00a9ff 432.5px,#00ffff 442.5px,#96ff69 451.5px,#fdff02 456.5px,#ff9200 458.5px,#ff0100 460.5px,#bc0000 462.5px,#a10000 463.5px,#8f0000 464.5px,#8f0000 517.5px,#ff0100 522.5px,#ffe900 527.5px,#f6ff09 528.5px,#7cff83 535.5px,#00fcff 546.5px,#009eff 556.5px,#009dff 559px)"></i>
<i style="height:1px;background:linear-gradient(90deg,#0000e6 0px,#0000f4 31.5px,#0002ff 35.5px,#0010ff 36.5px,#0045ff 61.5px,#00edff 85.5px,#04fffb 88.5px,#8eff71 103.5px,#dbff24 111.5px,#ffff00 116.5px,#ffc700 120.5px,#ffb000 124.5px,#ffa800 130.5px,#ffb800 134.5px,#ffff00 142.5px,#bfff40 149.5px,#32ffcd 158.5px,#00faff 164.5px,#00e4ff 167.5px,#00c7ff 175.5px,#00c7ff 188.5px,#00d2ff 189.5px,#00edff 190.5px,#0afff5 191.5px,#35ffca 192.5px,#b8ff47 194.5px,#e4ff1b 195.5px,#fff100 196.5px,#ffed00 197.5px,#dcff23 198.5px,#9dff62 199.5px,#00ffff 201.5px,#0098ff 204.5px,#004dff 207.5px,#0027ff 209.5px,#0000fe 217.5px,#0000cf 232.5px,#0000a8 254.5px,#000090 279.5px,#0000a4 322.5px,#0003ff 404.5px,#0024ff 421.5px,#00a4ff 432.5px,#00fbff 442.5px,#19ffe6 444.5px,#8eff71 451.5px,#f6ff09 456.5px,#ffde00 457.5px,#ff6500 459.5px,#ff1900 460.5px,#e80000 461.5px,#a80000 463.5px,#900000 464.5px,#8f0000 517.5px,#ff0300 522.5px,#ffec00 527.5px,#f5ff0a 528.5px,#7bff84 535.5px,#00fbff 546.5px,#009eff 556.5px,#009dff 559px)"></i>
<i style="height:1px;background:linear-gradient(90deg,#0000e6 0px,#0000f4 31.5px,#0003ff 35.5px,#0011ff 36.5px,#0046ff 61.5px,#00edff 85.5px,#04fffb 88.5px,#8eff71 103.5px,#dbff24 111.5px,#ffff00 116.5px,#ffc700 120.5px,#ffb000 124.5px,#ffa800 130.5px,#ffb800 134.5px,#ffff00 142.5px,#bfff40 149.5px,#30ffcf 158.5px,#04fffb 163.5px,#00e4ff 167.5px,#00c7ff 175.5px,#00c7ff 188.5px,#00d4ff 189.5px,#00efff 190.5px,#0bfff4 191.5px,#39ffc6 192.5px,#bbff44 194.5px,#e4ff1b 195.5px,#fff200 196.5px,#fff500 197.5px,#d6ff29 198.5px,#96ff69 199.5px,#00f9ff 201.5px,#0079ff 205.5px,#0035ff 208.5px,#0026ff 209.5px,#0000fd 217.5px,#0000cf 232.5px,#0000a7 254.5px,#000090 279.5px,#0000a4 322.5px,#0004ff 405.5px,#0028ff 422.5px,#00a8ff 433.5px,#01fffe 443.5px,#86ff79 451.5px,#efff10 456.5px,#fff100 457.5px,#ff7d00 459.5px,#ff3000 460.5px,#f20000 461.5px,#ae0000 463.5px,#970000 464.5px,#8f0000 466.5px,#8f0000 517.5px,#eb0000 521.5px,#ff0600 522.5px,#ffee00 527.5px,#f4ff0b 528.5px,#7bff84 535.5px,#07fff8 545.5px,#00f1ff 547.5px,#009eff 556.5px,#009dff 559px)"></i>
<i style="height:1px;background:linear-gradient(90deg,#0000e6 0px,#0000f4 31.5px,#0003ff 35.5px,#0012ff 36.5px,#0046ff 61.5px,#00edff 85.5px,#04fffb 88.5px,#8eff71 103.5px,#daff25 111.5px,#ffff00 116.5px,#ffc700 120.5px,#ffb000 124.5px,#ffa800 130.5px,#ffb800 134.5px,#fff700 141.5px,#ffff00 142.5px,#bfff40 149.5px,#2fffd0 158.5px,#03fffc 163.5px,#00e3ff 167.5px,#00c7ff 175.5px,#00c7ff 188.5px,#00d6ff 189.5px,#00f1ff 190.5px,#0dfff2 191.5px,#3dffc2 192.5px,#bcff43 194.5px,#e4ff1b 195.5px,#fff300 196.5px,#fffd00 197.5px,#d0ff2f 198.5px,#8fff70 199.5px,#41ffbe 200.5px,#00f5ff 201.5px,#0092ff 204.5px,#0033ff 208.5px,#0021ff 210.5px,#0000fd 217.5px,#0000cf 232.5px,#0000a7 254.5px,#000090 279.5px,#0000a4 322.5px,#0003ff 405.5px,#0023ff 422.5px,#00acff 434.5px,#00fcff 443.5px,#1bffe4 445.5px,#93ff6c 452.5px,#fdff02 457.5px,#ff8f00 459.5px,#fc0000 461.5px,#b60000 463.5px,#9d0000 464.5px,#8f0000 465.5px,#8f0000 517.5px,#ec0000 521.5px,#ff0800 522.5px,#fff000 527.5px,#f3ff0c 528.5px,#7aff85 535.5px,#06fff9 545.5px,#00f1ff 547.5px,#009eff 556.5px,#009dff 559px)"></i>
<i style="height:1px;background:linear-gradient(90deg,#0000e6 0px,#0000f4 31.5px,#0004ff 35.5px,#0013ff 36.5px,#0046ff 61.5px,#00edff 85.5px,#04fffb 88.5px,#8dff72 103.5px,#daff25 111.5px,#ffff00 116.5px,#ffc700 120.5px,#ffb000 124.5px,#ffa800 130.5px,#ffb800 134.5px,#fff700 141.5px,#ffff00 142.5px,#bfff40 149.5px,#2effd1 158.5px,#02fffd 163.5px,#00e3ff 167.5px,#00c7ff 176.5px,#00c7ff 188.5px,#00d8ff 189.5px,#00f3ff 190.5px,#0efff1 191.5px,#41ffbe 192.5px,#bdff42 194.5px,#e3ff1c 195.5px,#fff400 196.5px,#f9ff06 197.5px,#c9ff36 198.5px,#87ff78 199.5px,#3affc5 200.5px,#00f2ff 201.5px,#008fff 204.5px,#0031ff 208.5px,#0020ff 210.5px,#0000fc 217.5px,#0000ce 232.5px,#0000a8 253.5px,#000090 279.5px,#0000a4 322.5px,#0003ff 405.5px,#0026ff 423.5px,#00a7ff 434.5px,#03fffc 444.5px,#8cff73 452.5px,#f6ff09 457.5px,#ffdc00 458.5px,#ffa100 459.5px,#ff5e00 460.5px,#ff1000 461.5px,#e30000 462.5px,#a40000 464.5px,#8f0000 465.5px,#8f0000 517.5px,#ed0000 521.5px,#ff0a00 522.5px,#fff200 527.5px,#f2ff0d 528.5px,#79ff86 535.5px,#06fff9 545.5px,#00e7ff 548.5px,#00a3ff 555.5px,#009dff 559px)"></i>
<i style="height:1px;background:linear-gradient(90deg,#0000e6 0px,#0000f4 31.5px,#0005ff 35.5px,#0013ff 36.5px,#0047ff 61.5px,#00edff 85.5px,#04fffb 88.5px,#83ff7c 102.5px,#daff25 111.5px,#ffff00 116.5px,#ffc800 120.5px,#ffb000 124.5px,#ffa800 130.5px,#ffb800 134.5px,#fff700 141.5px,#ffff00 142.5px,#bfff40 149.5px,#2cffd3 158.5px,#01fffe 163.5px,#00e2ff 167.5px,#00c7ff 176.5px,#00c7ff 188.5px,#00f4ff 190.5px,#10ffef 191.5px,#45ffba 192.5px,#beff41 194.5px,#e3ff1c 195.5px,#fff600 196.5px,#f1ff0e 197.5px,#c3ff3c 198.5px,#7fff80 199.5px,#33ffcc 200.5px,#00efff 201.5px,#008cff 204.5px,#002fff 208.5px,#0010ff 213.5px,#0000fc 217.5px,#0000ce 232.5px,#0000a8 253.5px,#000090 279.5px,#0000a4 322.5px,#0004ff 406.5px,#0023ff 423.5px,#00abff 435.5px,#00fcff 444.5px,#61ff9e 450.5px,#99ff66 453.5px,#f0ff0f 457.5px,#ffee00 458.5px,#ff7500 460.5px,#ff2600 461.5px,#ec0000 462.5px,#aa0000 464.5px,#920000 465.5px,#900000 517.5px,#ee0000 521.5px,#ff0d00 522.5px,#fff400 527.5px,#f1ff0e 528.5px,#79ff86 535.5px,#05fffa 545.5px,#00dcff 549.5px,#00a2ff 555.5px,#009dff 559px)"></i>
<i style="height:1px;background:linear-gradient(90deg,#0000e6 0px,#0000f4 31.5px,#0000f9 34.5px,#0006ff 35.5px,#0014ff 36.5px,#0047ff 61.5px,#00f4ff 86.5px,#04fffb 88.5px,#83ff7c 102.5px,#daff25 111.5px,#ffff00 116.5px,#ffc800 120.5px,#ffb000 124.5px,#ffa800 130.5px,#ffb800 134.5px,#fff700 141.5px,#fffe00 142.5px,#bfff40 149.5px,#2bffd4 158.5px,#00ffff 163.5px,#00e2ff 167.5px,#00c7ff 176.5px,#00c7ff 188.5px,#00f6ff 190.5px,#12ffed 191.5px,#bfff40 194.5px,#fff700 196.5px,#eaff15 197.5px,#bdff42 198.5px,#2cffd3 200.5px,#00ecff 201.5px,#0089ff 204.5px,#002cff 208.5px,#0000ff 216.5px,#0000ce 232.5px,#0000a8 253.5px,#000090 279.5px,#0000a4 322.5px,#0003ff 406.5px,#0025ff 424.5px,#00a7ff 435.5px,#00f9ff 444.5px,#05fffa 445.5px,#92ff6d 453.5px,#feff01 458.5px,#ff8900 460.5px,#ff3c00 461.5px,#f60000 462.5px,#b00000 464.5px,#980000 465.5px,#8f0000 466.5px,#910000 517.5px,#ef0000 521.5px,#ff0f00 522.5px,#fff600 527.5px,#f1ff0e 528.5px,#78ff87 535.5px,#05fffa 545.5px,#00b5ff 553.5px,#009eff 556.5px,#009dff 559px)"></i>
<i style="height:1px;background:linear-gradient(90deg,#0000e6 0px,#0000f4 31.5px,#0000fa 34.5px,#0014ff 36.5px,#0047ff 61.5px,#00f4ff 86.5px,#04fffb 88.5px,#83ff7c 102.5px,#daff25 111.5px,#feff01 116.5px,#ffc800 120.5px,#ffb000 124.5px,#ffa800 130.5px,#ffb800 134.5px,#fff700 141.5px,#fffe00 142.5px,#beff41 149.5px,#2affd5 158.5px,#00feff 163.5px,#00e1ff 167.5px,#00c7ff 176.5px,#00c7ff 188.5px,#00f8ff 190.5px,#13ffec 191.5px,#8cff73 193.5px,#c0ff3f 194.5px,#fff900 196.5px,#e2ff1d 197.5px,#b7ff48 198.5px,#25ffda 200.5px,#00e9ff 201.5px,#0086ff 204.5px,#002aff 208.5px,#0000ff 216.5px,#0000cf 231.5px,#0000a8 253.5px,#000091 279.5px,#0000a4 322.5px,#0003ff 406.5px,#0023ff 424.5px,#0067ff 430.5px,#00b4ff 437.5px,#00feff 445.5px,#8aff75 453.5px,#f8ff07 458.5px,#ffd700 459.5px,#ff9a00 460.5px,#ff5200 461.5px,#ff0200 462.5px,#b70000 464.5px,#9e0000 465.5px,#8f0000 466.5px,#920000 517.5px,#f00000 521.5px,#ff1100 522.5px,#fff800 527.5px,#deff21 529.5px,#78ff87 535.5px,#04fffb 545.5px,#00a1ff 555.5px,#009dff 559px)"></i>
<i style="height:1px;background:linear-gradient(90deg,#0000e6 0px,#0000f4 31.5px,#0000fa 34.5px,#0015ff 36.5px,#0048ff 61.5px,#00f4ff 86.5px,#04fffb 88.5px,#82ff7d 102.5px,#daff25 111.5px,#feff01 116.5px,#ffc800 120.5px,#ffb000 124.5px,#ffa800 130.5px,#ffb800 134.5px,#fff600 141.5px,#f7ff08 143.5px,#beff41 149.5px,#28ffd7 158.5px,#00feff 163.5px,#00e1ff 167.5px,#00c7ff 176.5px,#00c7ff 188.5px,#00faff 190.5px,#15ffea 191.5px,#90ff6f 193.5px,#c1ff3e 194.5px,#fffb00 196.5px,#b2ff4d 198.5px,#1effe1 200.5px,#00e6ff 201.5px,#0082ff 204.5px,#0028ff 208.5px,#0000fe 216.5px,#0000cf 231.5px,#0000a7 253.5px,#000091 279.5px,#0000a4 322.5px,#0004ff 407.5px,#0024ff 425.5px,#00a6ff 436.5px,#00faff 445.5px,#07fff8 446.5px,#82ff7d 453.5px,#f1ff0e 458.5px,#ffe900 459.5px,#ff6900 461.5px,#ff1800 462.5px,#e50000 463.5px,#a40000 465.5px,#8f0000 466.5px,#8f0000 516.5px,#930000 517.5px,#f10000 521.5px,#ff1200 522.5px,#fffa00 527.5px,#a8ff57 532.5px,#77ff88 535.5px,#04fffb 545.5px,#00a1ff 555.5px,#009dff 559px)"></i>
<i style="height:1px;background:linear-gradient(90deg,#0000e6 0px,#0000f4 31.5px,#0000fa 34.5px,#0015ff 36.5px,#0048ff 61.5px,#00f4ff 86.5px,#04fffb 88.5px,#82ff7d 102.5px,#daff25 111.5px,#feff01 116.5px,#ffc800 120.5px,#ffb000 124.5px,#ffa800 130.5px,#ffb800 134.5px,#fff600 141.5px,#f7ff08 143.5px,#beff41 149.5px,#27ffd8 158.5px,#00fdff 163.5px,#00e0ff 167.5px,#00c7ff 176.5px,#00c9ff 188.5px,#00fcff 190.5px,#19ffe6 191.5px,#94ff6b 193.5px,#c1ff3e 194.5px,#fcff03 196.5px,#aaff55 198.5px,#17ffe8 200.5px,#00e3ff 201.5px,#0080ff 204.5px,#0027ff 208.5px,#0000fe 216.5px,#0000cf 231.5px,#0000a8 252.5px,#000091 279.5px,#0000a4 322.5px,#0003ff 407.5px,#0023ff 425.5px,#0041ff 428.5px,#00abff 437.5px,#00ffff 446.5px,#90ff6f 454.5px,#fffb00 459.5px,#ff8000 461.5px,#ff2e00 462.5px,#ef0000 463.5px,#aa0000 465.5px,#920000 466.5px,#8f0000 516.5px,#940000 517.5px,#f20000 521.5px,#ff1400 522.5px,#fffc00 527.5px,#77ff88 535.5px,#03fffc 545.5px,#00a1ff 555.5px,#009dff 559px)"></i>
<i style="height:1px;background:linear-gradient(90deg,#0000e6 0px,#0000f4 31.5px,#0000fa 34.5px,#0015ff 36.5px,#0048ff 61.5px,#00f4ff 86.5px,#04fffb 88.5px,#82ff7d 102.5px,#daff25 111.5px,#feff01 116.5px,#ffc900 120.5px,#ffb000 124.5px,#ffa800 130.5px,#ffb800 134.5px,#fff600 141.5px,#f7ff08 143.5px,#beff41 149.5px,#26ffd9 158.5px,#00fcff 163.5px,#00dfff 167.5px,#00c7ff 176.5px,#00cbff 188.5px,#00feff 190.5px,#1dffe2 191.5px,#98ff67 193.5px,#c1ff3e 194.5px,#e0ff1f 195.5px,#f4ff0b 196.5px,#a2ff5d 198.5px,#10ffef 200.5px,#00e0ff 201.5px,#007dff 204.5px,#0027ff 208.5px,#0000fd 216.5px,#0000ce 231.5px,#0000a8 252.5px,#000091 280.5px,#0000a5 323.5px,#0004ff 408.5px,#0024ff 426.5px,#00afff 438.5px,#00fbff 446.5px,#1cffe3 448.5px,#89ff76 454.5px,#faff05 459.5px,#ffcf00 460.5px,#ff9100 461.5px,#ff4400 462.5px,#f80000 463.5px,#af0000 465.5px,#980000 466.5px,#8f0000 467.5px,#8f0000 516.5px,#950000 517.5px,#f30000 521.5px,#ff1600 522.5px,#fffd00 527.5px,#84ff7b 534.5px,#03fffc 545.5px,#00a0ff 555.5px,#009dff 559px)"></i>
<i style="height:1px;background:linear-gradient(90deg,#0000e6 0px,#0000f4 31.5px,#0000fb 34.5px,#0015ff 36.5px,#0049ff 61.5px,#00f4ff 86.5px,#04fffb 88.5px,#82ff7d 102.5px,#daff25 111.5px,#feff01 116.5px,#ffc900 120.5px,#ffb000 124.5px,#ffa800 130.5px,#ffb800 134.5px,#fff600 141.5px,#f7ff08 143.5px,#beff41 149.5px,#24ffdb 158.5px,#00fbff 163.5px,#00dfff 167.5px,#00c7ff 176.5px,#00c7ff 187.5px,#00cdff 188.5px,#00ffff 190.5px,#22ffdd 191.5px,#9bff64 193.5px,#c1ff3e 194.5px,#deff21 195.5px,#ecff13 196.5px,#c7ff38 197.5px,#9aff65 198.5px,#09fff6 200.5px,#00ddff 201.5px,#007bff 204.5px,#0026ff 208.5px,#0000fd 216.5px,#0000ce 231.5px,#0000a8 252.5px,#000091 280.5px,#0000a5 323.5px,#0004ff 408.5px,#0028ff 427.5px,#00abff 438.5px,#03fffc 447.5px,#81ff7e 454.5px,#f3ff0c 459.5px,#ffe200 460.5px,#ffa300 461.5px,#ff5b00 462.5px,#ff0700 463.5px,#b70000 465.5px,#9e0000 466.5px,#8f0000 467.5px,#8f0000 516.5px,#960000 517.5px,#f30000 521.5px,#ff1800 522.5px,#ffff00 527.5px,#83ff7c 534.5px,#02fffd 545.5px,#00a0ff 555.5px,#009dff 559px)"></i>
<i style="height:1px;background:linear-gradient(90deg,#0000e6 0px,#0000f4 31.5px,#0000fc 34.5px,#0015ff 36.5px,#0049ff 61.5px,#00f4ff 86.5px,#04fffb 88.5px,#82ff7d 102.5px,#daff25 111.5px,#feff01 116.5px,#ffc900 120.5px,#ffb000 124.5px,#ffa800 130.5px,#ffb800 134.5px,#fff600 141.5px,#f8ff07 143.5px,#beff41 149.5px,#23ffdc 158.5px,#00faff 163.5px,#00deff 167.5px,#00c7ff 176.5px,#00c7ff 187.5px,#00cfff 188.5px,#02fffd 190.5px,#26ffd9 191.5px,#9eff61 193.5px,#ddff22 195.5px,#e5ff1a 196.5px,#c2ff3d 197.5px,#93ff6c 198.5px,#03fffc 200.5px,#0079ff 204.5px,#0026ff 208.5px,#0000fc 216.5px,#0000ce 231.5px,#0000a8 252.5px,#000092 280.5px,#0000a5 323.5px,#0003ff 408.5px,#0023ff 427.5px,#00afff 439.5px,#00fcff 447.5px,#56ffa9 452.5px,#90ff6f 455.5px,#ecff13 459.5px,#fff400 460.5px,#ff7200 462.5px,#ff1e00 463.5px,#e60000 464.5px,#c00000 465.5px,#a30000 466.5px,#8f0000 467.5px,#8f0000 516.5px,#970000 517.5px,#f40000 521.5px,#ff1900 522.5px,#feff01 527.5px,#82ff7d 534.5px,#02fffd 545.5px,#00a0ff 555.5px,#009dff 559px)"></i>
<i style="height:1px;background:linear-gradient(90deg,#0000e6 0px,#0000f5 31.5px,#0000fd 34.5px,#0015ff 36.5px,#0049ff 61.5px,#00f4ff 86.5px,#04fffb 88.5px,#77ff88 101.5px,#daff25 111.5px,#feff01 116.5px,#ffc900 120.5px,#ffb000 124.5px,#ffa800 130.5px,#ffb800 134.5px,#fff600 141.5px,#f8ff07 143.5px,#beff41 149.5px,#22ffdd 158.5px,#02fffd 162.5px,#00deff 167.5px,#00c7ff 176.5px,#00c7ff 187.5px,#00d1ff 188.5px,#03fffc 190.5px,#2affd5 191.5px,#a1ff5e 193.5px,#dbff24 195.5px,#deff21 196.5px,#bcff43 197.5px,#8cff73 198.5px,#00fdff 200.5px,#0094ff 203.5px,#0061ff 205.5px,#0034ff 207.5px,#0025ff 208.5px,#0000fc 216.5px,#0000ce 231.5px,#0000a8 252.5px,#000092 280.5px,#0000a5 323.5px,#0004ff 409.5px,#0029ff 428.5px,#00acff 439.5px,#00f9ff 447.5px,#07fff8 448.5px,#89ff76 455.5px,#fdff02 460.5px,#ff8600 462.5px,#ff3300 463.5px,#f00000 464.5px,#a90000 466.5px,#910000 467.5px,#8f0000 516.5px,#970000 517.5px,#f50000 521.5px,#ff1a00 522.5px,#feff01 527.5px,#82ff7d 534.5px,#02fffd 545.5px,#009fff 555.5px,#009dff 559px)"></i>
<i style="height:1px;background:linear-gradient(90deg,#0000e6 0px,#0000f5 31.5px,#0000fd 34.5px,#0015ff 36.5px,#0049ff 61.5px,#00f4ff 86.5px,#04fffb 88.5px,#77ff88 101.5px,#daff25 111.5px,#feff01 116.5px,#ffca00 120.5px,#ffb000 124.5px,#ffa800 130.5px,#ffb800 134.5px,#fff600 141.5px,#f8ff07 143.5px,#beff41 149.5px,#20ffdf 158.5px,#01fffe 162.5px,#00ddff 167.5px,#00c7ff 177.5px,#00c7ff 187.5px,#00d2ff 188.5px,#05fffa 190.5px,#2dffd2 191.5px,#a3ff5c 193.5px,#d8ff27 195.5px,#d7ff28 196.5px,#b7ff48 197.5px,#85ff7a 198.5px,#00f7ff 200.5px,#0091ff 203.5px,#005fff 205.5px,#0033ff 207.5px,#0025ff 208.5px,#0000fb 216.5px,#0000cd 231.5px,#0000a7 252.5px,#000092 280.5px,#0000a5 323.5px,#0003ff 409.5px,#0026ff 428.5px,#00a9ff 439.5px,#03fffc 448.5px,#83ff7c 455.5px,#f7ff08 460.5px,#ffd500 461.5px,#ff9600 462.5px,#f90000 464.5px,#af0000 466.5px,#970000 467.5px,#8f0000 468.5px,#8f0000 516.5px,#980000 517.5px,#f50000 521.5px,#ff1c00 522.5px,#fdff02 527.5px,#81ff7e 534.5px,#01fffe 545.5px,#009fff 555.5px,#009dff 559px)"></i>
<i style="height:1px;background:linear-gradient(90deg,#0000e6 0px,#0000f5 31.5px,#0000fe 34.5px,#0015ff 36.5px,#004aff 61.5px,#00f4ff 86.5px,#04fffb 88.5px,#76ff89 101.5px,#daff25 111.5px,#feff01 116.5px,#ffca00 120.5px,#ffb000 124.5px,#ffa800 130.5px,#ffb800 134.5px,#fff600 141.5px,#f8ff07 143.5px,#beff41 149.5px,#1fffe0 158.5px,#00ffff 162.5px,#00ddff 167.5px,#00c7ff 177.5px,#00c7ff 187.5px,#00d4ff 188.5px,#06fff9 190.5px,#30ffcf 191.5px,#a4ff5b 193.5px,#d6ff29 195.5px,#d1ff2e 196.5px,#b2ff4d 197.5px,#7fff80 198.5px,#39ffc6 199.5px,#00f3ff 200.5px,#008eff 203.5px,#0047ff 206.5px,#0031ff 207.5px,#001fff 209.5px,#0000ff 215.5px,#0000cd 231.5px,#0000a7 252.5px,#000092 280.5px,#0000a5 323.5px,#0003ff 409.5px,#0024ff 428.5px,#00b1ff 440.5px,#00feff 448.5px,#7eff81 455.5px,#f1ff0e 460.5px,#ffe500 461.5px,#ffa500 462.5px,#ff5d00 463.5px,#ff0800 464.5px,#b60000 466.5px,#9d0000 467.5px,#8f0000 468.5px,#8f0000 516.5px,#990000 517.5px,#f60000 521.5px,#ff1d00 522.5px,#ffd700 526.5px,#fdff02 527.5px,#81ff7e 534.5px,#01fffe 545.5px,#009fff 555.5px,#009dff 559px)"></i>
<i style="height:1px;background:linear-gradient(90deg,#0000e6 0px,#0000f5 31.5px,#0000ff 34.5px,#0015ff 36.5px,#004aff 61.5px,#00f4ff 86.5px,#04fffb 88.5px,#76ff89 101.5px,#daff25 111.5px,#fdff02 116.5px,#ffc200 121.5px,#ffad00 125.5px,#ffaa00 131.5px,#ffb800 134.5px,#fff600 141.5px,#f8ff07 143.5px,#beff41 149.5px,#1effe1 158.5px,#00feff 162.5px,#00dcff 167.5px,#00c7ff 177.5px,#00c7ff 187.5px,#00d5ff 188.5px,#07fff8 190.5px,#33ffcc 191.5px,#a4ff5b 193.5px,#d3ff2c 195.5px,#cbff34 196.5px,#aeff51 197.5px,#79ff86 198.5px,#34ffcb 199.5px,#00f1ff 200.5px,#008cff 203.5px,#002fff 207.5px,#001eff 209.5px,#0000ff 215.5px,#0000cd 231.5px,#0000a7 252.5px,#000092 280.5px,#0000a5 323.5px,#0004ff 410.5px,#0023ff 428.5px,#00aeff 440.5px,#00fcff 448.5px,#1effe1 450.5px,#8fff70 456.5px,#ecff13 460.5px,#fff500 461.5px,#ff7200 463.5px,#ff1d00 464.5px,#e60000 465.5px,#bf0000 466.5px,#a30000 467.5px,#8f0000 468.5px,#8f0000 516.5px,#990000 517.5px,#f60000 521.5px,#ff1e00 522.5px,#ffd800 526.5px,#fdff02 527.5px,#81ff7e 534.5px,#01fffe 545.5px,#009fff 555.5px,#009dff 559px)"></i>
<i style="height:1px;background:linear-gradient(90deg,#0000e6 0px,#0000f5 31.5px,#0001ff 34.5px,#0016ff 36.5px,#004aff 61.5px,#00fbff 87.5px,#61ff9e 99.5px,#daff25 111.5px,#fdff02 116.5px,#ffc200 121.5px,#ffad00 125.5px,#ffaa00 131.5px,#ffb800 134.5px,#fff600 141.5px,#f8ff07 143.5px,#beff41 149.5px,#1cffe3 158.5px,#00fdff 162.5px,#00dbff 167.5px,#00c7ff 177.5px,#00c7ff 187.5px,#00d6ff 188.5px,#07fff8 190.5px,#35ffca 191.5px,#a3ff5c 193.5px,#d0ff2f 195.5px,#c6ff39 196.5px,#aaff55 197.5px,#74ff8b 198.5px,#2fffd0 199.5px,#00efff 200.5px,#0089ff 203.5px,#002eff 207.5px,#0019ff 210.5px,#0000fe 215.5px,#0000cc 231.5px,#0000a8 251.5px,#000092 280.5px,#0000a5 323.5px,#0004ff 410.5px,#0023ff 428.5px,#0035ff 430.5px,#00acff 440.5px,#00f9ff 448.5px,#08fff7 449.5px,#89ff76 456.5px,#fdff02 461.5px,#ff8500 463.5px,#ff3200 464.5px,#ef0000 465.5px,#a90000 467.5px,#910000 468.5px,#8f0000 516.5px,#9a0000 517.5px,#f70000 521.5px,#ff1f00 522.5px,#ffd800 526.5px,#fcff03 527.5px,#80ff7f 534.5px,#01fffe 545.5px,#009fff 555.5px,#009dff 559px)"></i>
<i style="height:1px;background:linear-gradient(90deg,#0000e6 0px,#0000f5 31.5px,#0002ff 34.5px,#0016ff 36.5px,#004bff 61.5px,#00fbff 87.5px,#61ff9e 99.5px,#daff25 111.5px,#fdff02 116.5px,#ffc200 121.5px,#ffad00 125.5px,#ffaa00 131.5px,#ffb800 134.5px,#ffee00 140.5px,#fffd00 142.5px,#cbff34 148.5px,#3fffc0 156.5px,#1bffe4 158.5px,#00fcff 162.5px,#00dbff 167.5px,#00c7ff 177.5px,#00c7ff 187.5px,#00efff 189.5px,#08fff7 190.5px,#37ffc8 191.5px,#a2ff5d 193.5px,#ccff33 195.5px,#c0ff3f 196.5px,#a6ff59 197.5px,#6fff90 198.5px,#2bffd4 199.5px,#00edff 200.5px,#0087ff 203.5px,#002dff 207.5px,#0013ff 211.5px,#0000fa 216.5px,#0000cc 231.5px,#0000a8 251.5px,#000092 280.5px,#0000a5 323.5px,#0003ff 410.5px,#0026ff 429.5px,#00a9ff 440.5px,#03fffc 449.5px,#83ff7c 456.5px,#f7ff08 461.5px,#ffd500 462.5px,#ff9500 463.5px,#f90000 465.5px,#af0000 467.5px,#970000 468.5px,#8f0000 469.5px,#8f0000 516.5px,#9a0000 517.5px,#f70000 521.5px,#ff2000 522.5px,#ffd900 526.5px,#fcff03 527.5px,#80ff7f 534.5px,#00ffff 545.5px,#009eff 555.5px,#009dff 559px)"></i>
<i style="height:1px;background:linear-gradient(90deg,#0000e6 0px,#0000f5 31.5px,#0002ff 34.5px,#0016ff 36.5px,#004bff 61.5px,#00fbff 87.5px,#61ff9e 99.5px,#daff25 111.5px,#fdff02 116.5px,#ffc200 121.5px,#ffaa00 126.5px,#ffad00 132.5px,#ffc200 135.5px,#fffd00 142.5px,#cbff34 148.5px,#50ffaf 155.5px,#1affe5 158.5px,#00fbff 162.5px,#00daff 167.5px,#00c7ff 177.5px,#00c7ff 187.5px,#00f0ff 189.5px,#08fff7 190.5px,#38ffc7 191.5px,#71ff8e 192.5px,#a1ff5e 193.5px,#c9ff36 195.5px,#bcff43 196.5px,#a3ff5c 197.5px,#6bff94 198.5px,#28ffd7 199.5px,#00ebff 200.5px,#0085ff 203.5px,#002cff 207.5px,#0000fe 215.5px,#0000cc 231.5px,#0000a7 251.5px,#000093 280.5px,#0000a5 323.5px,#0004ff 411.5px,#0024ff 429.5px,#00b1ff 441.5px,#00feff 449.5px,#7eff81 456.5px,#f1ff0e 461.5px,#ffe500 462.5px,#ffa500 463.5px,#ff5d00 464.5px,#ff0800 465.5px,#b60000 467.5px,#9d0000 468.5px,#8f0000 469.5px,#8f0000 516.5px,#9a0000 517.5px,#f80000 521.5px,#ff2000 522.5px,#ffda00 526.5px,#fcff03 527.5px,#80ff7f 534.5px,#00ffff 545.5px,#009eff 555.5px,#009dff 559px)"></i>
<i style="height:1px;background:linear-gradient(90deg,#0000e6 0px,#0000f5 31.5px,#0003ff 34.5px,#0011ff 35.5px,#004bff 61.5px,#00fbff 87.5px,#60ff9f 99.5px,#daff25 111.5px,#fdff02 116.5px,#ffc200 121.5px,#ffaa00 126.5px,#ffad00 132.5px,#ffc200 135.5px,#fffd00 142.5px,#cbff34 148.5px,#50ffaf 155.5px,#19ffe6 158.5px,#00faff 162.5px,#00daff 167.5px,#00c7ff 178.5px,#00c7ff 187.5px,#00f0ff 189.5px,#09fff6 190.5px,#71ff8e 192.5px,#9fff60 193.5px,#c5ff3a 195.5px,#b7ff48 196.5px,#a0ff5f 197.5px,#67ff98 198.5px,#25ffda 199.5px,#00eaff 200.5px,#0084ff 203.5px,#002bff 207.5px,#0000fd 215.5px,#0000cc 231.5px,#0000a7 251.5px,#000093 280.5px,#0000a5 323.5px,#0004ff 411.5px,#0023ff 429.5px,#00aeff 441.5px,#00fcff 449.5px,#1effe1 451.5px,#8fff70 457.5px,#ebff14 461.5px,#fff500 462.5px,#ff7200 464.5px,#ff1d00 465.5px,#e60000 466.5px,#c00000 467.5px,#a30000 468.5px,#8f0000 469.5px,#8f0000 516.5px,#9a0000 517.5px,#f80000 521.5px,#ff2100 522.5px,#ffda00 526.5px,#fcff03 527.5px,#80ff7f 534.5px,#00ffff 545.5px,#009eff 555.5px,#009dff 559px)"></i>
<i style="height:1px;background:linear-gradient(90deg,#0000e6 0px,#0000f5 31.5px,#0004ff 34.5px,#0011ff 35.5px,#004cff 61.5px,#00fbff 87.5px,#60ff9f 99.5px,#d9ff26 111.5px,#fdff02 116.5px,#ffc200 121.5px,#ffaa00 126.5px,#ffad00 132.5px,#ffc200 135.5px,#fffd00 142.5px,#cbff34 148.5px,#61ff9e 154.5px,#18ffe7 158.5px,#01fffe 161.5px,#00d9ff 167.5px,#00c7ff 178.5px,#00c7ff 187.5px,#00f0ff 189.5px,#09fff6 190.5px,#71ff8e 192.5px,#9eff61 193.5px,#c0ff3f 195.5px,#b3ff4c 196.5px,#9dff62 197.5px,#65ff9a 198.5px,#23ffdc 199.5px,#00e9ff 200.5px,#0083ff 203.5px,#002aff 207.5px,#0000fd 215.5px,#0000cb 231.5px,#0000a7 251.5px,#000093 280.5px,#0000a5 323.5px,#0003ff 411.5px,#0029ff 430.5px,#00acff 441.5px,#00f9ff 449.5px,#07fff8 450.5px,#89ff76 457.5px,#fdff02 462.5px,#ff8600 464.5px,#ff3300 465.5px,#f00000 466.5px,#a90000 468.5px,#910000 469.5px,#8f0000 516.5px,#9b0000 517.5px,#f80000 521.5px,#ff2100 522.5px,#ffda00 526.5px,#fcff03 527.5px,#80ff7f 534.5px,#00ffff 545.5px,#009eff 555.5px,#009dff 559px)"></i>
<i style="height:1px;background:linear-gradient(90deg,#0000e6 0px,#0000f3 30.5px,#0005ff 34.5px,#0012ff 35.5px,#004cff 61.5px,#00fbff 87.5px,#6aff95 100.5px,#d9ff26 111.5px,#fdff02 116.5px,#ffc200 121.5px,#ffaa00 126.5px,#ffad00 132.5px,#ffc200 135.5px,#fffd00 142.5px,#cbff34 148.5px,#61ff9e 154.5px,#17ffe8 158.5px,#00ffff 161.5px,#00d8ff 167.5px,#00c7ff 178.5px,#00c7ff 187.5px,#00f0ff 189.5px,#08fff7 190.5px,#70ff8f 192.5px,#9cff63 193.5px,#bcff43 195.5px,#9bff64 197.5px,#63ff9c 198.5px,#21ffde 199.5px,#00e8ff 200.5px,#0082ff 203.5px,#002aff 207.5px,#0000fd 215.5px,#0000cb 231.5px,#0000a7 251.5px,#000093 280.5px,#0000a5 323.5px,#0004ff 412.5px,#0025ff 430.5px,#00a9ff 441.5px,#02fffd 450.5px,#83ff7c 457.5px,#f6ff09 462.5px,#ffd700 463.5px,#ff9700 464.5px,#fa0000 466.5px,#af0000 468.5px,#980000 469.5px,#8f0000 470.5px,#8f0000 516.5px,#9b0000 517.5px,#f80000 521.5px,#ff2100 522.5px,#ffdb00 526.5px,#fbff04 527.5px,#80ff7f 534.5px,#00ffff 545.5px,#009eff 555.5px,#009dff 559px)"></i>
<i style="height:1px;background:linear-gradient(90deg,#0000e6 0px,#0000f3 30.5px,#0000f9 33.5px,#0013ff 35.5px,#004cff 61.5px,#00fbff 87.5px,#6aff95 100.5px,#d9ff26 111.5px,#fdff02 116.5px,#ffc200 121.5px,#ffaa00 126.5px,#ffad00 132.5px,#ffc200 135.5px,#fff500 141.5px,#f9ff06 143.5px,#beff41 149.5px,#15ffea 158.5px,#00feff 161.5px,#00d8ff 167.5px,#00c7ff 178.5px,#00c7ff 187.5px,#00f0ff 189.5px,#08fff7 190.5px,#6fff90 192.5px,#99ff66 193.5px,#b8ff47 195.5px,#99ff66 197.5px,#61ff9e 198.5px,#21ffde 199.5px,#00e8ff 200.5px,#0081ff 203.5px,#002aff 207.5px,#0000fd 215.5px,#0000cb 231.5px,#0000a7 251.5px,#000093 280.5px,#0000a5 323.5px,#0004ff 412.5px,#0023ff 430.5px,#00b0ff 442.5px,#00feff 450.5px,#7dff82 457.5px,#f0ff0f 462.5px,#ffe800 463.5px,#ff6000 465.5px,#ff0b00 466.5px,#de0000 467.5px,#b80000 468.5px,#9e0000 469.5px,#8f0000 470.5px,#8f0000 516.5px,#9b0000 517.5px,#f80000 521.5px,#ff2100 522.5px,#ffdb00 526.5px,#fbff04 527.5px,#80ff7f 534.5px,#00ffff 545.5px,#009eff 555.5px,#009dff 559px)"></i>
<i style="height:1px;background:linear-gradient(90deg,#0000e6 0px,#0000f3 30.5px,#0000fa 33.5px,#0014ff 35.5px,#004cff 61.5px,#04fffb 88.5px,#74ff8b 101.5px,#d9ff26 111.5px,#fdff02 116.5px,#ffc200 121.5px,#ffaa00 126.5px,#ffad00 132.5px,#ffc200 135.5px,#fff500 141.5px,#f9ff06 143.5px,#cbff34 148.5px,#72ff8d 153.5px,#14ffeb 158.5px,#00fdff 161.5px,#00d7ff 167.5px,#00c7ff 178.5px,#00c7ff 187.5px,#00f0ff 189.5px,#07fff8 190.5px,#6dff92 192.5px,#97ff68 193.5px,#b5ff4a 195.5px,#97ff68 197.5px,#60ff9f 198.5px,#20ffdf 199.5px,#00e8ff 200.5px,#0081ff 203.5px,#002aff 207.5px,#0000fd 215.5px,#0000cb 231.5px,#0000a7 251.5px,#000093 280.5px,#0000a5 323.5px,#0003ff 412.5px,#0023ff 430.5px,#00aeff 442.5px,#00fbff 450.5px,#1dffe2 452.5px,#8dff72 458.5px,#eaff15 462.5px,#fff900 463.5px,#ff7700 465.5px,#ff2200 466.5px,#e80000 467.5px,#c20000 468.5px,#a40000 469.5px,#8f0000 470.5px,#8f0000 516.5px,#9a0000 517.5px,#f80000 521.5px,#ff2100 522.5px,#ffda00 526.5px,#fcff03 527.5px,#80ff7f 534.5px,#00ffff 545.5px,#009eff 555.5px,#009dff 559px)"></i>
<i style="height:1px;background:linear-gradient(90deg,#0000e6 0px,#0000f3 30.5px,#0000fa 33.5px,#0014ff 35.5px,#004dff 61.5px,#04fffb 88.5px,#74ff8b 101.5px,#d9ff26 111.5px,#fcff03 116.5px,#ffc300 121.5px,#ffaa00 126.5px,#ffad00 132.5px,#ffc200 135.5px,#fff500 141.5px,#f9ff06 143.5px,#cbff34 148.5px,#72ff8d 153.5px,#13ffec 158.5px,#00fcff 161.5px,#00d7ff 167.5px,#00c7ff 179.5px,#00c7ff 187.5px,#00efff 189.5px,#07fff8 190.5px,#6cff93 192.5px,#95ff6a 193.5px,#b1ff4e 195.5px,#95ff6a 197.5px,#5effa1 198.5px,#1fffe0 199.5px,#00e8ff 200.5px,#0081ff 203.5px,#0029ff 207.5px,#0000fc 215.5px,#0000cb 231.5px,#0000a7 251.5px,#000093 280.5px,#0000a5 323.5px,#0004ff 413.5px,#0028ff 431.5px,#00abff 442.5px,#00f9ff 450.5px,#06fff9 451.5px,#87ff78 458.5px,#fbff04 463.5px,#ffca00 464.5px,#ff8a00 465.5px,#ff3900 466.5px,#f20000 467.5px,#ab0000 469.5px,#930000 470.5px,#8f0000 516.5px,#9a0000 517.5px,#f80000 521.5px,#ff2000 522.5px,#ffda00 526.5px,#fcff03 527.5px,#80ff7f 534.5px,#00ffff 545.5px,#009eff 555.5px,#009dff 559px)"></i>
<i style="height:1px;background:linear-gradient(90deg,#0000e6 0px,#0000f3 30.5px,#0000fa 33.5px,#0015ff 35.5px,#004dff 61.5px,#04fffb 88.5px,#73ff8c 101.5px,#d9ff26 111.5px,#fcff03 116.5px,#ffc300 121.5px,#ffaa00 126.5px,#ffad00 132.5px,#ffc200 135.5px,#fff500 141.5px,#f9ff06 143.5px,#cbff34 148.5px,#71ff8e 153.5px,#12ffed 158.5px,#00fbff 161.5px,#00d6ff 167.5px,#00c7ff 179.5px,#00c7ff 187.5px,#06fff9 190.5px,#6aff95 192.5px,#93ff6c 193.5px,#aeff51 195.5px,#93ff6c 197.5px,#5dffa2 198.5px,#1fffe0 199.5px,#00e7ff 200.5px,#0080ff 203.5px,#0029ff 207.5px,#0000fc 215.5px,#0000cb 231.5px,#0000a7 251.5px,#000094 280.5px,#0000a5 323.5px,#0004ff 413.5px,#0025ff 431.5px,#00a8ff 442.5px,#01fffe 451.5px,#81ff7e 458.5px,#f5ff0a 463.5px,#ffdb00 464.5px,#ff9b00 465.5px,#fc0000 467.5px,#b10000 469.5px,#990000 470.5px,#8f0000 471.5px,#8f0000 516.5px,#9a0000 517.5px,#f70000 521.5px,#ff1f00 522.5px,#ffd900 526.5px,#fcff03 527.5px,#80ff7f 534.5px,#01fffe 545.5px,#009fff 555.5px,#009dff 559px)"></i>
<i style="height:1px;background:linear-gradient(90deg,#0000e6 0px,#0000f3 30.5px,#0000fa 33.5px,#0015ff 35.5px,#004dff 61.5px,#04fffb 88.5px,#73ff8c 101.5px,#d9ff26 111.5px,#fcff03 116.5px,#ffda00 119.5px,#ffbc00 122.5px,#ffa800 127.5px,#ffad00 132.5px,#ffc200 135.5px,#fff500 141.5px,#f9ff06 143.5px,#cbff34 148.5px,#71ff8e 153.5px,#11ffee 158.5px,#01fffe 160.5px,#00d5ff 167.5px,#00c7ff 179.5px,#00c7ff 187.5px,#05fffa 190.5px,#69ff96 192.5px,#91ff6e 193.5px,#abff54 195.5px,#91ff6e 197.5px,#5cffa3 198.5px,#1effe1 199.5px,#00e7ff 200.5px,#0080ff 203.5px,#0029ff 207.5px,#0000fc 215.5px,#0000cb 231.5px,#0000a7 251.5px,#000094 281.5px,#0000a5 323.5px,#0003ff 413.5px,#0023ff 431.5px,#00b0ff 443.5px,#00fdff 451.5px,#92ff6d 459.5px,#efff10 463.5px,#ffec00 464.5px,#ff6600 466.5px,#ff1100 467.5px,#e00000 468.5px,#ba0000 469.5px,#9f0000 470.5px,#8f0000 471.5px,#8f0000 516.5px,#990000 517.5px,#f60000 521.5px,#ff1e00 522.5px,#ffd700 526.5px,#fdff02 527.5px,#81ff7e 534.5px,#01fffe 545.5px,#009fff 555.5px,#009dff 559px)"></i>
<i style="height:1px;background:linear-gradient(90deg,#0000e6 0px,#0000f3 30.5px,#0000fb 33.5px,#0015ff 35.5px,#004eff 61.5px,#04fffb 88.5px,#73ff8c 101.5px,#d9ff26 111.5px,#fcff03 116.5px,#ffdb00 119.5px,#ffbc00 122.5px,#ffa800 127.5px,#ffad00 132.5px,#ffc200 135.5px,#fff500 141.5px,#f9ff06 143.5px,#cbff34 148.5px,#84ff7b 152.5px,#10ffef 158.5px,#00ffff 160.5px,#00d5ff 167.5px,#00c7ff 179.5px,#00c7ff 187.5px,#05fffa 190.5px,#67ff98 192.5px,#8fff70 193.5px,#a8ff57 195.5px,#8fff70 197.5px,#5affa5 198.5px,#1dffe2 199.5px,#00e7ff 200.5px,#007fff 203.5px,#0029ff 207.5px,#0000fc 215.5px,#0000ca 231.5px,#0000a6 251.5px,#000094 281.5px,#0000a5 323.5px,#0004ff 414.5px,#0023ff 431.5px,#005bff 436.5px,#00adff 443.5px,#00faff 451.5px,#0afff5 452.5px,#8cff73 459.5px,#fffd00 464.5px,#ff7d00 466.5px,#ff2800 467.5px,#eb0000 468.5px,#a60000 470.5px,#8f0000 471.5px,#8f0000 516.5px,#980000 517.5px,#f60000 521.5px,#ff1c00 522.5px,#ffd600 526.5px,#fdff02 527.5px,#81ff7e 534.5px,#01fffe 545.5px,#009fff 555.5px,#009dff 559px)"></i>
<i style="height:1px;background:linear-gradient(90deg,#0000e6 0px,#0000f3 30.5px,#0000fc 33.5px,#0015ff 35.5px,#004eff 61.5px,#04fffb 88.5px,#73ff8c 101.5px,#d9ff26 111.5px,#fcff03 116.5px,#ffdb00 119.5px,#ffbc00 122.5px,#ffa800 127.5px,#ffad00 132.5px,#ffc200 135.5px,#fff500 141.5px,#faff05 143.5px,#ccff33 148.5px,#83ff7c 152.5px,#0ffff0 158.5px,#00fdff 160.5px,#00d4ff 167.5px,#00c7ff 180.5px,#00c7ff 187.5px,#04fffb 190.5px,#66ff99 192.5px,#8dff72 193.5px,#a4ff5b 195.5px,#8dff72 197.5px,#59ffa6 198.5px,#1cffe3 199.5px,#00e7ff 200.5px,#007fff 203.5px,#0029ff 207.5px,#0000fc 215.5px,#0000ca 231.5px,#0000a6 251.5px,#000094 281.5px,#0000a5 323.5px,#0003ff 414.5px,#0027ff 432.5px,#00aaff 443.5px,#00f8ff 451.5px,#05fffa 452.5px,#86ff79 459.5px,#f9ff06 464.5px,#ffcf00 465.5px,#ff8f00 466.5px,#ff3f00 467.5px,#f50000 468.5px,#ac0000 470.5px,#950000 471.5px,#8f0000 474.5px,#8f0000 516.5px,#970000 517.5px,#f50000 521.5px,#ff1a00 522.5px,#feff01 527.5px,#82ff7d 534.5px,#02fffd 545.5px,#00a0ff 555.5px,#009dff 559px)"></i>
<i style="height:1px;background:linear-gradient(90deg,#0000e6 0px,#0000f3 30.5px,#0000fd 33.5px,#0015ff 35.5px,#004eff 61.5px,#04fffb 88.5px,#72ff8d 101.5px,#d9ff26 111.5px,#fcff03 116.5px,#ffe900 118.5px,#ffc300 121.5px,#ffaa00 126.5px,#ffad00 132.5px,#ffc200 135.5px,#fff500 141.5px,#faff05 143.5px,#ccff33 148.5px,#83ff7c 152.5px,#0efff1 158.5px,#00fcff 160.5px,#00d3ff 167.5px,#00c7ff 180.5px,#00c7ff 187.5px,#04fffb 190.5px,#64ff9b 192.5px,#8bff74 193.5px,#a1ff5e 195.5px,#8bff74 197.5px,#58ffa7 198.5px,#1cffe3 199.5px,#00e6ff 200.5px,#007eff 203.5px,#0029ff 207.5px,#0000fc 215.5px,#0000ca 231.5px,#0000a6 251.5px,#000094 281.5px,#0000a5 323.5px,#0003ff 414.5px,#0024ff 432.5px,#00a8ff 443.5px,#00ffff 452.5px,#7fff80 459.5px,#f3ff0c 464.5px,#ffe000 465.5px,#ffa000 466.5px,#ff5600 467.5px,#ff0100 468.5px,#b30000 470.5px,#9b0000 471.5px,#8f0000 472.5px,#8f0000 516.5px,#960000 517.5px,#f30000 521.5px,#ff1800 522.5px,#ffff00 527.5px,#83ff7c 534.5px,#02fffd 545.5px,#00a0ff 555.5px,#009dff 559px)"></i>
<i style="height:1px;background:linear-gradient(90deg,#0000e6 0px,#0000f3 30.5px,#0000fe 33.5px,#0015ff 35.5px,#004fff 61.5px,#04fffb 88.5px,#72ff8d 101.5px,#d9ff26 111.5px,#fcff03 116.5px,#ffe900 118.5px,#ffc300 121.5px,#ffaa00 126.5px,#ffad00 132.5px,#ffc200 135.5px,#fff500 141.5px,#faff05 143.5px,#ccff33 148.5px,#83ff7c 152.5px,#0dfff2 158.5px,#02fffd 159.5px,#00d3ff 167.5px,#00c7ff 181.5px,#00c7ff 187.5px,#03fffc 190.5px,#63ff9c 192.5px,#89ff76 193.5px,#9eff61 195.5px,#89ff76 197.5px,#56ffa9 198.5px,#1bffe4 199.5px,#00e6ff 200.5px,#007eff 203.5px,#0028ff 207.5px,#0000fb 215.5px,#0000ca 231.5px,#0000a6 251.5px,#000095 281.5px,#0000a4 323.5px,#0004ff 415.5px,#0023ff 432.5px,#00afff 444.5px,#00fcff 452.5px,#31ffce 455.5px,#90ff6f 460.5px,#edff12 464.5px,#fff200 465.5px,#ff6e00 467.5px,#ff1900 468.5px,#e40000 469.5px,#be0000 470.5px,#a20000 471.5px,#8f0000 472.5px,#8f0000 516.5px,#950000 517.5px,#f20000 521.5px,#ff1500 522.5px,#fffd00 527.5px,#77ff88 535.5px,#03fffc 545.5px,#00a1ff 555.5px,#009dff 559px)"></i>
<i style="height:1px;background:linear-gradient(90deg,#0000e6 0px,#0000f3 30.5px,#0000fe 33.5px,#0015ff 35.5px,#004fff 61.5px,#04fffb 88.5px,#72ff8d 101.5px,#d9ff26 111.5px,#fcff03 116.5px,#ffe900 118.5px,#ffc300 121.5px,#ffaa00 126.5px,#ffad00 132.5px,#ffc200 135.5px,#fff400 141.5px,#faff05 143.5px,#ccff33 148.5px,#82ff7d 152.5px,#0cfff3 158.5px,#01fffe 159.5px,#00d2ff 167.5px,#00c7ff 181.5px,#00c7ff 187.5px,#02fffd 190.5px,#61ff9e 192.5px,#87ff78 193.5px,#9aff65 195.5px,#87ff78 197.5px,#55ffaa 198.5px,#1affe5 199.5px,#00e6ff 200.5px,#007dff 203.5px,#0028ff 207.5px,#0000fb 215.5px,#0000ca 231.5px,#0000a7 250.5px,#000095 281.5px,#0000a4 323.5px,#0003ff 415.5px,#0023ff 432.5px,#0035ff 434.5px,#00acff 444.5px,#00f9ff 452.5px,#08fff7 453.5px,#89ff76 460.5px,#fdff02 465.5px,#ff8500 467.5px,#ff3200 468.5px,#ef0000 469.5px,#a90000 471.5px,#910000 472.5px,#8f0000 516.5px,#930000 517.5px,#f10000 521.5px,#ff1300 522.5px,#fffa00 527.5px,#a8ff57 532.5px,#77ff88 535.5px,#04fffb 545.5px,#00a1ff 555.5px,#009dff 559px)"></i>
<i style="height:1px;background:linear-gradient(90deg,#0000e6 0px,#0000f3 30.5px,#0000ff 33.5px,#0015ff 35.5px,#004fff 61.5px,#04fffb 88.5px,#72ff8d 101.5px,#d9ff26 111.5px,#fcff03 116.5px,#ffea00 118.5px,#ffc300 121.5px,#ffaa00 126.5px,#ffad00 132.5px,#ffc200 135.5px,#fff400 141.5px,#faff05 143.5px,#ccff33 148.5px,#82ff7d 152.5px,#0bfff4 158.5px,#00feff 159.5px,#00d2ff 167.5px,#00c7ff 182.5px,#00c7ff 187.5px,#02fffd 190.5px,#5fffa0 192.5px,#85ff7a 193.5px,#97ff68 195.5px,#85ff7a 197.5px,#54ffab 198.5px,#1affe5 199.5px,#00e6ff 200.5px,#007dff 203.5px,#0028ff 207.5px,#0000fb 215.5px,#0000ca 231.5px,#0000a7 250.5px,#000095 281.5px,#0000a4 323.5px,#0003ff 415.5px,#0025ff 433.5px,#00a9ff 444.5px,#02fffd 453.5px,#82ff7d 460.5px,#f6ff09 465.5px,#ffd700 466.5px,#ff9800 467.5px,#fa0000 469.5px,#b00000 471.5px,#980000 472.5px,#8f0000 473.5px,#920000 517.5px,#ef0000 521.5px,#ff1000 522.5px,#fff700 527.5px,#dfff20 529.5px,#78ff87 535.5px,#04fffb 545.5px,#00a2ff 555.5px,#009dff 559px)"></i>
<i style="height:1px;background:linear-gradient(90deg,#0000e6 0px,#0000f3 30.5px,#0001ff 33.5px,#0015ff 35.5px,#0050ff 61.5px,#04fffb 88.5px,#71ff8e 101.5px,#d9ff26 111.5px,#fcff03 116.5px,#ffea00 118.5px,#ffc300 121.5px,#ffaa00 126.5px,#ffad00 132.5px,#ffc200 135.5px,#fff400 141.5px,#faff05 143.5px,#ccff33 148.5px,#81ff7e 152.5px,#0afff5 158.5px,#00fdff 159.5px,#00d1ff 167.5px,#00c7ff 183.5px,#00c7ff 187.5px,#01fffe 190.5px,#5effa1 192.5px,#83ff7c 193.5px,#94ff6b 195.5px,#83ff7c 197.5px,#52ffad 198.5px,#19ffe6 199.5px,#00e5ff 200.5px,#007dff 203.5px,#0028ff 207.5px,#0000fb 215.5px,#0000c9 231.5px,#0000a6 250.5px,#000095 281.5px,#0000a4 323.5px,#0004ff 416.5px,#0023ff 433.5px,#00b0ff 445.5px,#00fdff 453.5px,#93ff6c 461.5px,#efff10 465.5px,#ffea00 466.5px,#ff6400 468.5px,#ff0f00 469.5px,#e00000 470.5px,#b90000 471.5px,#9f0000 472.5px,#8f0000 473.5px,#900000 517.5px,#ee0000 521.5px,#ff0c00 522.5px,#fff400 527.5px,#f2ff0d 528.5px,#79ff86 535.5px,#05fffa 545.5px,#00dcff 549.5px,#00a2ff 555.5px,#009dff 559px)"></i>
<i style="height:1px;background:linear-gradient(90deg,#0000e6 0px,#0000f4 30.5px,#0001ff 33.5px,#0016ff 35.5px,#0050ff 61.5px,#00fcff 87.5px,#67ff98 100.5px,#d9ff26 111.5px,#fcff03 116.5px,#ffea00 118.5px,#ffc300 121.5px,#ffaa00 126.5px,#ffad00 132.5px,#ffc200 135.5px,#fff400 141.5px,#faff05 143.5px,#cbff34 148.5px,#81ff7e 152.5px,#0afff5 158.5px,#00fcff 159.5px,#00d1ff 167.5px,#00c7ff 183.5px,#00c7ff 187.5px,#01fffe 190.5px,#5cffa3 192.5px,#81ff7e 193.5px,#91ff6e 195.5px,#80ff7f 197.5px,#51ffae 198.5px,#18ffe7 199.5px,#00e5ff 200.5px,#007cff 203.5px,#0028ff 207.5px,#0000fb 215.5px,#0000c9 231.5px,#0000a6 250.5px,#000095 281.5px,#0000a4 323.5px,#0003ff 416.5px,#0023ff 433.5px,#004fff 437.5px,#00adff 445.5px,#00faff 453.5px,#09fff6 454.5px,#8bff74 461.5px,#fffe00 466.5px,#ff7e00 468.5px,#ff2900 469.5px,#eb0000 470.5px,#a60000 472.5px,#8f0000 473.5px,#8f0000 517.5px,#ec0000 521.5px,#ff0900 522.5px,#fff100 527.5px,#f3ff0c 528.5px,#7aff85 535.5px,#06fff9 545.5px,#00e7ff 548.5px,#009eff 556.5px,#009dff 559px)"></i>
<i style="height:1px;background:linear-gradient(90deg,#0000e6 0px,#0000f4 30.5px,#0002ff 33.5px,#0016ff 35.5px,#0050ff 61.5px,#00fcff 87.5px,#67ff98 100.5px,#d9ff26 111.5px,#fcff03 116.5px,#ffe900 118.5px,#ffc300 121.5px,#ffaa00 126.5px,#ffaa00 131.5px,#ffb800 134.5px,#ffed00 140.5px,#faff05 143.5px,#cbff34 148.5px,#81ff7e 152.5px,#0afff5 158.5px,#00fcff 159.5px,#00d0ff 167.5px,#00c6ff 183.5px,#00c6ff 187.5px,#00ffff 190.5px,#5bffa4 192.5px,#7fff80 193.5px,#8dff72 195.5px,#7eff81 197.5px,#4fffb0 198.5px,#17ffe8 199.5px,#00e5ff 200.5px,#007cff 203.5px,#0028ff 207.5px,#0000fb 215.5px,#0000ca 231.5px,#0000a7 250.5px,#000095 281.5px,#0000a5 323.5px,#0003ff 416.5px,#0026ff 434.5px,#00aaff 445.5px,#04fffb 454.5px,#84ff7b 461.5px,#f8ff07 466.5px,#ffd300 467.5px,#ff9300 468.5px,#ff4400 469.5px,#f80000 470.5px,#ae0000 472.5px,#960000 473.5px,#8f0000 475.5px,#8f0000 517.5px,#ea0000 521.5px,#ff0500 522.5px,#ffed00 527.5px,#f4ff0b 528.5px,#7bff84 535.5px,#07fff8 545.5px,#00f1ff 547.5px,#009eff 556.5px,#009dff 559px)"></i>
<i style="height:1px;background:linear-gradient(90deg,#0000e6 0px,#0000f4 30.5px,#0002ff 33.5px,#0016ff 35.5px,#0050ff 61.5px,#00fcff 87.5px,#68ff97 100.5px,#d9ff26 111.5px,#fcff03 116.5px,#ffda00 119.5px,#ffbc00 122.5px,#ffa800 127.5px,#ffae00 132.5px,#ffc300 135.5px,#fff500 141.5px,#faff05 143.5px,#cbff34 148.5px,#81ff7e 152.5px,#0afff5 158.5px,#00fcff 159.5px,#00d0ff 167.5px,#00c5ff 182.5px,#00c5ff 187.5px,#00feff 190.5px,#59ffa6 192.5px,#7cff83 193.5px,#8aff75 195.5px,#7cff83 197.5px,#4effb1 198.5px,#16ffe9 199.5px,#00e4ff 200.5px,#007bff 203.5px,#0028ff 207.5px,#0000fb 215.5px,#0000ca 231.5px,#0000a7 250.5px,#000095 281.5px,#0000a5 323.5px,#0004ff 417.5px,#0023ff 434.5px,#00b0ff 446.5px,#00feff 454.5px,#7dff82 461.5px,#f0ff0f 466.5px,#ffe800 467.5px,#ff6000 469.5px,#ff0b00 470.5px,#de0000 471.5px,#b80000 472.5px,#9e0000 473.5px,#8f0000 474.5px,#8f0000 517.5px,#ff0200 522.5px,#ffea00 527.5px,#f6ff09 528.5px,#7cff83 535.5px,#00fcff 546.5px,#009eff 556.5px,#009dff 559px)"></i>
<i style="height:1px;background:linear-gradient(90deg,#0000e6 0px,#0000f4 30.5px,#0003ff 33.5px,#0016ff 35.5px,#0050ff 61.5px,#00f5ff 86.5px,#05fffa 88.5px,#73ff8c 101.5px,#daff25 111.5px,#fdff02 116.5px,#ffc200 121.5px,#ffa900 126.5px,#ffab00 131.5px,#ffb900 134.5px,#ffee00 140.5px,#f9ff06 143.5px,#caff35 148.5px,#81ff7e 152.5px,#0afff5 158.5px,#00fcff 159.5px,#00d0ff 167.5px,#00c5ff 182.5px,#00c5ff 187.5px,#00fdff 190.5px,#57ffa8 192.5px,#7aff85 193.5px,#87ff78 195.5px,#7aff85 197.5px,#4cffb3 198.5px,#15ffea 199.5px,#00e4ff 200.5px,#007bff 203.5px,#0028ff 207.5px,#0000fb 215.5px,#0000ca 231.5px,#0000a7 250.5px,#000095 281.5px,#0000a5 323.5px,#0003ff 417.5px,#0023ff 434.5px,#005bff 439.5px,#00adff 446.5px,#00faff 454.5px,#0afff5 455.5px,#8cff73 462.5px,#fffd00 467.5px,#ff7d00 469.5px,#ff2800 470.5px,#eb0000 471.5px,#a60000 473.5px,#8f0000 474.5px,#8f0000 517.5px,#cf0000 520.5px,#fe0000 522.5px,#ffe600 527.5px,#f7ff08 528.5px,#7dff82 535.5px,#00fdff 546.5px,#009eff 556.5px,#009dff 559px)"></i>
<i style="height:1px;background:linear-gradient(90deg,#0000e6 0px,#0000f4 30.5px,#0003ff 33.5px,#0016ff 35.5px,#0050ff 61.5px,#00eeff 85.5px,#05fffa 88.5px,#74ff8b 101.5px,#daff25 111.5px,#fdff02 116.5px,#ffc200 121.5px,#ffa900 126.5px,#ffab00 131.5px,#ffba00 134.5px,#ffee00 140.5px,#f9ff06 143.5px,#caff35 148.5px,#80ff7f 152.5px,#0afff5 158.5px,#00fcff 159.5px,#00d0ff 167.5px,#00c4ff 181.5px,#00c4ff 187.5px,#00fdff 190.5px,#56ffa9 192.5px,#78ff87 193.5px,#83ff7c 195.5px,#78ff87 197.5px,#4bffb4 198.5px,#15ffea 199.5px,#00e3ff 200.5px,#007bff 203.5px,#0028ff 207.5px,#0000fb 215.5px,#0000ca 231.5px,#0000a7 250.5px,#000095 281.5px,#0000a5 323.5px,#0003ff 417.5px,#0026ff 435.5px,#00a9ff 446.5px,#03fffc 455.5px,#83ff7c 462.5px,#f7ff08 467.5px,#ffd400 468.5px,#ff9400 469.5px,#f80000 471.5px,#ae0000 473.5px,#970000 474.5px,#8f0000 476.5px,#8f0000 517.5px,#b60000 519.5px,#fc0000 522.5px,#ff5800 524.5px,#ffe200 527.5px,#f9ff06 528.5px,#7eff81 535.5px,#00fdff 546.5px,#009eff 556.5px,#009dff 559px)"></i>
<i style="height:1px;background:linear-gradient(90deg,#0000e6 0px,#0000f4 30.5px,#0003ff 33.5px,#0016ff 35.5px,#0051ff 61.5px,#00efff 85.5px,#05fffa 88.5px,#74ff8b 101.5px,#daff25 111.5px,#fdff02 116.5px,#ffc200 121.5px,#ffa900 126.5px,#ffab00 131.5px,#ffba00 134.5px,#ffee00 140.5px,#fffd00 142.5px,#caff35 148.5px,#80ff7f 152.5px,#0afff5 158.5px,#00fcff 159.5px,#00d0ff 167.5px,#00c3ff 181.5px,#00c3ff 187.5px,#00fcff 190.5px,#26ffd9 191.5px,#54ffab 192.5px,#76ff89 193.5px,#80ff7f 195.5px,#76ff89 197.5px,#49ffb6 198.5px,#14ffeb 199.5px,#00e3ff 200.5px,#007bff 203.5px,#0028ff 207.5px,#0000fb 215.5px,#0000ca 231.5px,#0000a6 251.5px,#000095 281.5px,#0000a5 323.5px,#0004ff 418.5px,#0023ff 435.5px,#00b0ff 447.5px,#00fdff 455.5px,#92ff6d 463.5px,#efff10 467.5px,#ffec00 468.5px,#ff6600 470.5px,#ff1100 471.5px,#e00000 472.5px,#ba0000 473.5px,#9f0000 474.5px,#8f0000 475.5px,#8f0000 517.5px,#9c0000 518.5px,#fa0000 522.5px,#ff2400 523.5px,#ffde00 527.5px,#faff05 528.5px,#7fff80 535.5px,#00feff 546.5px,#009eff 556.5px,#009dff 559px)"></i>
<i style="height:1px;background:linear-gradient(90deg,#0000e6 0px,#0000f4 30.5px,#0004ff 33.5px,#0016ff 35.5px,#0051ff 61.5px,#00e8ff 84.5px,#00fdff 87.5px,#6aff95 100.5px,#dbff24 111.5px,#feff01 116.5px,#ffca00 120.5px,#ffb000 124.5px,#ffa800 129.5px,#ffb200 133.5px,#ffef00 140.5px,#fffd00 142.5px,#caff35 148.5px,#80ff7f 152.5px,#0afff5 158.5px,#00fcff 159.5px,#00d0ff 167.5px,#00c3ff 181.5px,#00c3ff 187.5px,#00fbff 190.5px,#25ffda 191.5px,#52ffad 192.5px,#74ff8b 193.5px,#7dff82 195.5px,#73ff8c 197.5px,#48ffb7 198.5px,#13ffec 199.5px,#00e2ff 200.5px,#007aff 203.5px,#0028ff 207.5px,#0000fb 215.5px,#0000ca 231.5px,#0000a7 251.5px,#000095 281.5px,#0000a6 324.5px,#0003ff 418.5px,#0023ff 435.5px,#0035ff 437.5px,#00acff 447.5px,#00f9ff 455.5px,#08fff7 456.5px,#89ff76 463.5px,#fdff02 468.5px,#ff8500 470.5px,#ff3200 471.5px,#ef0000 472.5px,#a90000 474.5px,#910000 475.5px,#8f0000 517.5px,#9a0000 518.5px,#f80000 522.5px,#ff2000 523.5px,#ffda00 527.5px,#fcff03 528.5px,#80ff7f 535.5px,#00ffff 546.5px,#009eff 556.5px,#009dff 559px)"></i>
<i style="height:1px;background:linear-gradient(90deg,#0000e6 0px,#0000f4 30.5px,#0004ff 33.5px,#0016ff 35.5px,#0051ff 61.5px,#00e8ff 84.5px,#00fdff 87.5px,#6bff94 100.5px,#d4ff2b 110.5px,#feff01 116.5px,#ffc900 120.5px,#ffb000 124.5px,#ffa800 129.5px,#ffb200 133.5px,#ffef00 140.5px,#fffd00 142.5px,#c9ff36 148.5px,#80ff7f 152.5px,#0afff5 158.5px,#00fcff 159.5px,#00cfff 167.5px,#00c2ff 181.5px,#00c2ff 187.5px,#00faff 190.5px,#23ffdc 191.5px,#51ffae 192.5px,#71ff8e 193.5px,#7aff85 195.5px,#71ff8e 197.5px,#46ffb9 198.5px,#12ffed 199.5px,#00e2ff 200.5px,#007aff 203.5px,#0028ff 207.5px,#0000fb 215.5px,#0000cb 231.5px,#0000a7 251.5px,#000095 281.5px,#0000a6 324.5px,#0002ff 418.5px,#0024ff 436.5px,#00a8ff 447.5px,#00ffff 456.5px,#80ff7f 463.5px,#f4ff0b 468.5px,#ffde00 469.5px,#ff9e00 470.5px,#ff5400 471.5px,#fe0000 472.5px,#b20000 474.5px,#9a0000 475.5px,#8f0000 476.5px,#8f0000 517.5px,#980000 518.5px,#f50000 522.5px,#ff1b00 523.5px,#feff01 528.5px,#82ff7d 535.5px,#01fffe 546.5px,#009fff 556.5px,#009dff 559px)"></i>
<i style="height:1px;background:linear-gradient(90deg,#0000e6 0px,#0000f4 30.5px,#0005ff 33.5px,#0011ff 34.5px,#0051ff 61.5px,#00e1ff 83.5px,#00fdff 87.5px,#6cff93 100.5px,#d4ff2b 110.5px,#feff01 116.5px,#ffc800 120.5px,#ffaf00 124.5px,#ffa800 129.5px,#ffb200 133.5px,#ffe800 139.5px,#fffd00 142.5px,#c9ff36 148.5px,#80ff7f 152.5px,#0afff5 158.5px,#00fcff 159.5px,#00cfff 167.5px,#00c2ff 181.5px,#00c2ff 187.5px,#00f9ff 190.5px,#22ffdd 191.5px,#4fffb0 192.5px,#6fff90 193.5px,#76ff89 195.5px,#6fff90 197.5px,#45ffba 198.5px,#11ffee 199.5px,#00e1ff 200.5px,#007aff 203.5px,#0028ff 207.5px,#0000fb 215.5px,#0000cb 231.5px,#0000a7 251.5px,#000095 281.5px,#0000a6 324.5px,#0003ff 419.5px,#0023ff 436.5px,#00aeff 448.5px,#00fbff 456.5px,#1dffe2 458.5px,#8eff71 464.5px,#eaff15 468.5px,#fff800 469.5px,#ff7700 471.5px,#ff2200 472.5px,#e80000 473.5px,#c20000 474.5px,#a40000 475.5px,#8f0000 476.5px,#8f0000 517.5px,#960000 518.5px,#f30000 522.5px,#ff1700 523.5px,#fffe00 528.5px,#83ff7c 535.5px,#02fffd 546.5px,#00a0ff 556.5px,#009dff 559px)"></i>
<i style="height:1px;background:linear-gradient(90deg,#0000e6 0px,#0000f4 30.5px,#0005ff 33.5px,#0012ff 34.5px,#0051ff 61.5px,#00e1ff 83.5px,#00feff 87.5px,#6cff93 100.5px,#d4ff2b 110.5px,#ffff00 116.5px,#ffc800 120.5px,#ffaf00 124.5px,#ffa800 129.5px,#ffb200 133.5px,#ffe800 139.5px,#fffe00 142.5px,#c9ff36 148.5px,#7fff80 152.5px,#0afff5 158.5px,#00fcff 159.5px,#00cfff 167.5px,#00c1ff 180.5px,#00c1ff 187.5px,#00f9ff 190.5px,#21ffde 191.5px,#4dffb2 192.5px,#6dff92 193.5px,#71ff8e 196.5px,#6dff92 197.5px,#43ffbc 198.5px,#10ffef 199.5px,#00e1ff 200.5px,#0079ff 203.5px,#0028ff 207.5px,#0000fb 215.5px,#0000cb 231.5px,#0000a7 251.5px,#000095 281.5px,#0000a6 324.5px,#0003ff 419.5px,#0026ff 437.5px,#00aaff 448.5px,#03fffc 457.5px,#84ff7b 464.5px,#f8ff07 469.5px,#ffd300 470.5px,#ff9400 471.5px,#ff4500 472.5px,#f80000 473.5px,#ae0000 475.5px,#960000 476.5px,#8f0000 478.5px,#8f0000 517.5px,#930000 518.5px,#f10000 522.5px,#ff1200 523.5px,#fffa00 528.5px,#baff45 532.5px,#78ff87 536.5px,#04fffb 546.5px,#00a1ff 556.5px,#009dff 559px)"></i>
<i style="height:1px;background:linear-gradient(90deg,#0000e6 0px,#0000f4 30.5px,#0005ff 33.5px,#0012ff 34.5px,#0051ff 61.5px,#00e1ff 83.5px,#00feff 87.5px,#6dff92 100.5px,#d5ff2a 110.5px,#ffff00 116.5px,#ffc700 120.5px,#ffaf00 124.5px,#ffa800 128.5px,#ffaf00 132.5px,#ffbc00 134.5px,#ffef00 140.5px,#fffe00 142.5px,#c8ff37 148.5px,#7fff80 152.5px,#0afff5 158.5px,#00fcff 159.5px,#00cfff 167.5px,#00c0ff 180.5px,#00c0ff 187.5px,#00f8ff 190.5px,#20ffdf 191.5px,#4bffb4 192.5px,#6bff94 193.5px,#6eff91 196.5px,#6bff94 197.5px,#42ffbd 198.5px,#0ffff0 199.5px,#00e0ff 200.5px,#0079ff 203.5px,#0028ff 207.5px,#0000fb 215.5px,#0000cb 231.5px,#0000a7 251.5px,#000095 281.5px,#0000a7 324.5px,#0004ff 420.5px,#0023ff 437.5px,#00afff 449.5px,#00fdff 457.5px,#7bff84 464.5px,#eeff11 469.5px,#ffee00 470.5px,#ff6900 472.5px,#ff1400 473.5px,#e20000 474.5px,#bc0000 475.5px,#a00000 476.5px,#8f0000 477.5px,#910000 518.5px,#ee0000 522.5px,#ff0d00 523.5px,#fff500 528.5px,#f1ff0e 529.5px,#79ff86 536.5px,#05fffa 546.5px,#00d3ff 551.5px,#00a2ff 556.5px,#009dff 559px)"></i>
<i style="height:1px;background:linear-gradient(90deg,#0000e6 0px,#0000f4 30.5px,#0006ff 33.5px,#0013ff 34.5px,#0051ff 61.5px,#00daff 82.5px,#00feff 87.5px,#6eff91 100.5px,#d5ff2a 110.5px,#ffff00 116.5px,#ffc700 120.5px,#ffaf00 124.5px,#ffa800 128.5px,#ffaf00 132.5px,#ffbd00 134.5px,#fff000 140.5px,#fffe00 142.5px,#c8ff37 148.5px,#7fff80 152.5px,#0afff5 158.5px,#00fcff 159.5px,#00cfff 167.5px,#00c0ff 180.5px,#00c0ff 187.5px,#00f7ff 190.5px,#1fffe0 191.5px,#4affb5 192.5px,#69ff96 193.5px,#69ff96 197.5px,#40ffbf 198.5px,#0efff1 199.5px,#00e0ff 200.5px,#0079ff 203.5px,#0028ff 207.5px,#0000fb 215.5px,#0000cb 231.5px,#0000a7 251.5px,#000095 281.5px,#0000a7 324.5px,#0003ff 420.5px,#0028ff 438.5px,#00abff 449.5px,#00f8ff 457.5px,#06fff9 458.5px,#87ff78 465.5px,#fbff04 470.5px,#ffca00 471.5px,#ff8b00 472.5px,#ff3900 473.5px,#f20000 474.5px,#ab0000 476.5px,#930000 477.5px,#8f0000 512.5px,#8f0000 518.5px,#ec0000 522.5px,#ff0900 523.5px,#fff000 528.5px,#f3ff0c 529.5px,#7aff85 536.5px,#06fff9 546.5px,#00f1ff 548.5px,#009eff 557.5px,#009eff 559px)"></i>
<i style="height:1px;background:linear-gradient(90deg,#0000e6 0px,#0000f4 30.5px,#0000fa 32.5px,#0013ff 34.5px,#0052ff 61.5px,#00daff 82.5px,#00feff 87.5px,#6eff91 100.5px,#d5ff2a 110.5px,#fffe00 116.5px,#ffc600 120.5px,#ffab00 125.5px,#ffac00 131.5px,#ffb300 133.5px,#ffe900 139.5px,#fffe00 142.5px,#c8ff37 148.5px,#7fff80 152.5px,#0afff5 158.5px,#00fcff 159.5px,#00cfff 167.5px,#00bfff 180.5px,#00bfff 187.5px,#00f6ff 190.5px,#1dffe2 191.5px,#48ffb7 192.5px,#66ff99 193.5px,#66ff99 197.5px,#3fffc0 198.5px,#0dfff2 199.5px,#00dfff 200.5px,#0078ff 203.5px,#0028ff 207.5px,#0000fb 215.5px,#0000cb 231.5px,#0000a7 251.5px,#000095 280.5px,#0000a7 324.5px,#0004ff 421.5px,#0023ff 438.5px,#00b0ff 450.5px,#00feff 458.5px,#7eff81 465.5px,#f1ff0e 470.5px,#ffe600 471.5px,#ffa600 472.5px,#ff5e00 473.5px,#ff0900 474.5px,#dd0000 475.5px,#b70000 476.5px,#9d0000 477.5px,#8f0000 478.5px,#8f0000 518.5px,#ff0400 523.5px,#ffec00 528.5px,#f5ff0a 529.5px,#7bff84 536.5px,#00fbff 547.5px,#009eff 557.5px,#009eff 559px)"></i>
<i style="height:1px;background:linear-gradient(90deg,#0000e6 0px,#0000f4 30.5px,#0000fa 32.5px,#0013ff 34.5px,#0052ff 61.5px,#00daff 82.5px,#00feff 87.5px,#79ff86 101.5px,#d5ff2a 110.5px,#fffd00 116.5px,#ffc600 120.5px,#ffab00 125.5px,#ffac00 131.5px,#ffbd00 134.5px,#fff000 140.5px,#fffe00 142.5px,#c7ff38 148.5px,#7fff80 152.5px,#0afff5 158.5px,#00fcff 159.5px,#00ceff 167.5px,#00beff 180.5px,#00beff 187.5px,#00f6ff 190.5px,#1cffe3 191.5px,#46ffb9 192.5px,#64ff9b 193.5px,#64ff9b 197.5px,#3dffc2 198.5px,#0cfff3 199.5px,#00dfff 200.5px,#0078ff 203.5px,#0028ff 207.5px,#0000fb 215.5px,#0000cb 231.5px,#0000a7 251.5px,#000095 280.5px,#0000a7 324.5px,#0003ff 421.5px,#0023ff 438.5px,#0042ff 441.5px,#00acff 450.5px,#00faff 458.5px,#08fff7 459.5px,#8aff75 466.5px,#feff01 471.5px,#ff8300 473.5px,#ff2f00 474.5px,#ee0000 475.5px,#a80000 477.5px,#900000 478.5px,#8f0000 518.5px,#fe0000 523.5px,#ffe700 528.5px,#f7ff08 529.5px,#7cff83 536.5px,#00fcff 547.5px,#009eff 557.5px,#009eff 559px)"></i>
<i style="height:1px;background:linear-gradient(90deg,#0000e6 0px,#0000f4 30.5px,#0000fa 32.5px,#0014ff 34.5px,#0052ff 61.5px,#00daff 82.5px,#00ffff 87.5px,#7aff85 101.5px,#d6ff29 110.5px,#fffd00 116.5px,#ffc600 120.5px,#ffab00 125.5px,#ffac00 131.5px,#ffbe00 134.5px,#fff000 140.5px,#ffff00 142.5px,#c7ff38 148.5px,#7eff81 152.5px,#0afff5 158.5px,#00fcff 159.5px,#00ceff 167.5px,#00beff 180.5px,#00beff 187.5px,#00f5ff 190.5px,#1bffe4 191.5px,#45ffba 192.5px,#62ff9d 193.5px,#62ff9d 197.5px,#3cffc3 198.5px,#0bfff4 199.5px,#00dfff 200.5px,#0078ff 203.5px,#0028ff 207.5px,#0000fb 215.5px,#0000cc 231.5px,#0000a8 251.5px,#000095 280.5px,#0000a8 325.5px,#0002ff 421.5px,#0024ff 439.5px,#00a8ff 450.5px,#00ffff 459.5px,#80ff7f 466.5px,#f4ff0b 471.5px,#ffde00 472.5px,#ff9e00 473.5px,#ff5400 474.5px,#fe0000 475.5px,#b20000 477.5px,#9a0000 478.5px,#8f0000 479.5px,#8f0000 518.5px,#b60000 520.5px,#fc0000 523.5px,#ff5800 525.5px,#ffe200 528.5px,#f8ff07 529.5px,#7eff81 536.5px,#00fdff 547.5px,#009eff 557.5px,#009eff 559px)"></i>
<i style="height:1px;background:linear-gradient(90deg,#0000e6 0px,#0000f4 30.5px,#0000fa 32.5px,#0014ff 34.5px,#0052ff 61.5px,#00d3ff 81.5px,#00ffff 87.5px,#7aff85 101.5px,#d6ff29 110.5px,#fffc00 116.5px,#ffc500 120.5px,#ffab00 125.5px,#ffac00 131.5px,#ffbe00 134.5px,#fff100 140.5px,#ffff00 142.5px,#c7ff38 148.5px,#6bff94 153.5px,#0afff5 158.5px,#00fcff 159.5px,#00ceff 167.5px,#00bdff 180.5px,#00bdff 187.5px,#00f4ff 190.5px,#1affe5 191.5px,#43ffbc 192.5px,#60ff9f 193.5px,#60ff9f 197.5px,#3affc5 198.5px,#0bfff4 199.5px,#00deff 200.5px,#0077ff 203.5px,#0028ff 207.5px,#0000fb 215.5px,#0000cc 231.5px,#0000a8 251.5px,#000095 280.5px,#0000a8 325.5px,#0003ff 422.5px,#0023ff 439.5px,#00adff 451.5px,#00fbff 459.5px,#1dffe2 461.5px,#8dff72 467.5px,#fffa00 472.5px,#ff7900 474.5px,#ff2400 475.5px,#e90000 476.5px,#c30000 477.5px,#8f0000 479.5px,#8f0000 518.5px,#9c0000 519.5px,#f90000 523.5px,#ff2400 524.5px,#ffdd00 528.5px,#faff05 529.5px,#7fff80 536.5px,#00feff 547.5px,#009eff 557.5px,#009eff 559px)"></i>
<i style="height:1px;background:linear-gradient(90deg,#0000e6 0px,#0000f4 30.5px,#0000fa 32.5px,#0014ff 34.5px,#0052ff 61.5px,#00d3ff 81.5px,#00ffff 87.5px,#7bff84 101.5px,#d6ff29 110.5px,#fffb00 116.5px,#ffc500 120.5px,#ffab00 125.5px,#ffad00 131.5px,#ffbf00 134.5px,#fff100 140.5px,#ffff00 142.5px,#c6ff39 148.5px,#6bff94 153.5px,#0afff5 158.5px,#00fcff 159.5px,#00ccff 168.5px,#00bdff 180.5px,#00bdff 187.5px,#00f3ff 190.5px,#19ffe6 191.5px,#41ffbe 192.5px,#5effa1 193.5px,#5effa1 197.5px,#38ffc7 198.5px,#0afff5 199.5px,#00deff 200.5px,#0077ff 203.5px,#0028ff 207.5px,#0000fb 215.5px,#0000ca 232.5px,#0000a8 251.5px,#000095 280.5px,#0000a8 325.5px,#0003ff 422.5px,#0025ff 440.5px,#00a9ff 451.5px,#03fffc 460.5px,#83ff7c 467.5px,#f7ff08 472.5px,#ffd600 473.5px,#ff9600 474.5px,#fa0000 476.5px,#af0000 478.5px,#970000 479.5px,#8f0000 480.5px,#8f0000 518.5px,#9a0000 519.5px,#f70000 523.5px,#ff1f00 524.5px,#ffd900 528.5px,#fcff03 529.5px,#80ff7f 536.5px,#00ffff 547.5px,#009fff 557.5px,#009eff 559px)"></i>
<i style="height:1px;background:linear-gradient(90deg,#0000e6 0px,#0000f4 30.5px,#0000fa 32.5px,#0014ff 34.5px,#0052ff 61.5px,#00d3ff 81.5px,#00ffff 87.5px,#7cff83 101.5px,#d6ff29 110.5px,#fffb00 116.5px,#ffc500 120.5px,#ffab00 125.5px,#ffad00 131.5px,#ffbf00 134.5px,#fff100 140.5px,#ffff00 142.5px,#c6ff39 148.5px,#6aff95 153.5px,#0afff5 158.5px,#00fcff 159.5px,#00ccff 168.5px,#00bcff 179.5px,#00bcff 187.5px,#00f2ff 190.5px,#18ffe7 191.5px,#40ffbf 192.5px,#5bffa4 193.5px,#5bffa4 197.5px,#37ffc8 198.5px,#09fff6 199.5px,#00ddff 200.5px,#0077ff 203.5px,#0028ff 207.5px,#0000fb 215.5px,#0000ca 232.5px,#0000a8 251.5px,#000095 280.5px,#0000a8 325.5px,#0004ff 423.5px,#0023ff 440.5px,#00afff 452.5px,#00fcff 460.5px,#44ffbb 464.5px,#90ff6f 468.5px,#edff12 472.5px,#fff100 473.5px,#ff6d00 475.5px,#ff1800 476.5px,#e40000 477.5px,#bd0000 478.5px,#a20000 479.5px,#8f0000 480.5px,#8f0000 518.5px,#970000 519.5px,#f50000 523.5px,#ff1a00 524.5px,#feff01 529.5px,#82ff7d 536.5px,#02fffd 547.5px,#00a0ff 557.5px,#009eff 559px)"></i>
<i style="height:1px;background:linear-gradient(90deg,#0000e6 0px,#0000f4 30.5px,#0000fb 32.5px,#0015ff 34.5px,#0052ff 61.5px,#00d4ff 81.5px,#01fffe 87.5px,#7cff83 101.5px,#d7ff28 110.5px,#faff05 115.5px,#fffa00 116.5px,#ffc400 120.5px,#ffaa00 125.5px,#ffad00 131.5px,#ffbf00 134.5px,#fff800 141.5px,#feff01 142.5px,#c6ff39 148.5px,#6aff95 153.5px,#0afff5 158.5px,#00fcff 159.5px,#00ccff 168.5px,#00bbff 179.5px,#00bbff 187.5px,#00f2ff 190.5px,#16ffe9 191.5px,#3effc1 192.5px,#59ffa6 193.5px,#59ffa6 197.5px,#35ffca 198.5px,#08fff7 199.5px,#00bbff 201.5px,#0076ff 203.5px,#0028ff 207.5px,#0000fb 215.5px,#0000ca 232.5px,#0000a8 251.5px,#000095 280.5px,#0000a8 325.5px,#0003ff 423.5px,#0027ff 441.5px,#00abff 452.5px,#00f8ff 460.5px,#05fffa 461.5px,#86ff79 468.5px,#faff05 473.5px,#ffcd00 474.5px,#ff8d00 475.5px,#ff3c00 476.5px,#f40000 477.5px,#ac0000 479.5px,#940000 480.5px,#8f0000 484.5px,#8f0000 518.5px,#950000 519.5px,#f20000 523.5px,#ff1500 524.5px,#fffd00 529.5px,#77ff88 537.5px,#03fffc 547.5px,#00a1ff 557.5px,#009eff 559px)"></i>
<i style="height:1px;background:linear-gradient(90deg,#0000e6 0px,#0000f4 30.5px,#0000fb 32.5px,#0015ff 34.5px,#0053ff 61.5px,#00d4ff 81.5px,#01fffe 87.5px,#7dff82 101.5px,#d7ff28 110.5px,#fbff04 115.5px,#fff900 116.5px,#ffc400 120.5px,#ffaa00 125.5px,#ffad00 131.5px,#ffc000 134.5px,#fff900 141.5px,#feff01 142.5px,#c5ff3a 148.5px,#6aff95 153.5px,#0afff5 158.5px,#00fcff 159.5px,#00ccff 168.5px,#00bbff 179.5px,#00bbff 187.5px,#00f1ff 190.5px,#14ffeb 191.5px,#3cffc3 192.5px,#57ffa8 193.5px,#57ffa8 197.5px,#35ffca 198.5px,#08fff7 199.5px,#00bbff 201.5px,#0077ff 203.5px,#0028ff 207.5px,#0000fb 215.5px,#0000ca 232.5px,#0000a8 251.5px,#000095 280.5px,#0000a9 326.5px,#0004ff 424.5px,#0023ff 441.5px,#00b0ff 453.5px,#00feff 461.5px,#7dff82 468.5px,#f0ff0f 473.5px,#ffe800 474.5px,#ff6000 476.5px,#ff0b00 477.5px,#de0000 478.5px,#b80000 479.5px,#9e0000 480.5px,#8f0000 481.5px,#920000 519.5px,#f00000 523.5px,#ff1000 524.5px,#fff700 529.5px,#dfff20 531.5px,#78ff87 537.5px,#04fffb 547.5px,#00a2ff 557.5px,#009eff 559px)"></i>
<i style="height:1px;background:linear-gradient(90deg,#0000e6 0px,#0000f4 30.5px,#0000fc 32.5px,#0015ff 34.5px,#0053ff 61.5px,#00ccff 80.5px,#01fffe 87.5px,#7dff82 101.5px,#d7ff28 110.5px,#fbff04 115.5px,#ffeb00 117.5px,#ffc400 120.5px,#ffaa00 125.5px,#ffad00 131.5px,#ffc000 134.5px,#fff900 141.5px,#feff01 142.5px,#c5ff3a 148.5px,#6aff95 153.5px,#0afff5 158.5px,#00fcff 159.5px,#00ccff 168.5px,#00baff 179.5px,#00baff 187.5px,#00efff 190.5px,#12ffed 191.5px,#38ffc7 192.5px,#55ffaa 193.5px,#52ffad 196.5px,#55ffaa 197.5px,#35ffca 198.5px,#08fff7 199.5px,#00deff 200.5px,#0078ff 203.5px,#0028ff 207.5px,#0000fb 215.5px,#0000cb 232.5px,#0000a8 251.5px,#000095 280.5px,#0000a9 326.5px,#0003ff 424.5px,#0023ff 441.5px,#0042ff 444.5px,#00acff 453.5px,#00faff 461.5px,#08fff7 462.5px,#8aff75 469.5px,#feff01 474.5px,#ff8300 476.5px,#ff2f00 477.5px,#ee0000 478.5px,#a80000 480.5px,#900000 481.5px,#8f0000 519.5px,#ed0000 523.5px,#ff0a00 524.5px,#fff200 529.5px,#f2ff0d 530.5px,#7aff85 537.5px,#06fff9 547.5px,#00e7ff 550.5px,#00a3ff 557.5px,#009eff 559px)"></i>
<i style="height:1px;background:linear-gradient(90deg,#0000e6 0px,#0000f4 30.5px,#0000fc 32.5px,#0015ff 34.5px,#0053ff 61.5px,#00ccff 80.5px,#01fffe 87.5px,#7eff81 101.5px,#d8ff27 110.5px,#fbff04 115.5px,#ffea00 117.5px,#ffc400 120.5px,#ffaa00 125.5px,#ffad00 131.5px,#ffc100 134.5px,#fff900 141.5px,#f4ff0b 143.5px,#c5ff3a 148.5px,#6aff95 153.5px,#0afff5 158.5px,#00fcff 159.5px,#00cbff 168.5px,#00b9ff 179.5px,#00b9ff 187.5px,#00edff 190.5px,#0ffff0 191.5px,#53ffac 193.5px,#50ffaf 196.5px,#53ffac 197.5px,#35ffca 198.5px,#0afff5 199.5px,#00dfff 200.5px,#0079ff 203.5px,#0029ff 207.5px,#0002ff 214.5px,#0000cb 232.5px,#0000a9 251.5px,#000095 280.5px,#0000aa 326.5px,#0002ff 424.5px,#0024ff 442.5px,#00a8ff 453.5px,#01fffe 462.5px,#80ff7f 469.5px,#f4ff0b 474.5px,#ffdd00 475.5px,#ff9d00 476.5px,#fe0000 478.5px,#b20000 480.5px,#9a0000 481.5px,#8f0000 482.5px,#8f0000 519.5px,#ff0400 524.5px,#ffec00 529.5px,#f5ff0a 530.5px,#7bff84 537.5px,#07fff8 547.5px,#00f2ff 549.5px,#009eff 559px)"></i>
<i style="height:1px;background:linear-gradient(90deg,#0000e6 0px,#0000f4 30.5px,#0000fc 32.5px,#0015ff 34.5px,#0053ff 61.5px,#00ccff 80.5px,#02fffd 87.5px,#7eff81 101.5px,#d8ff27 110.5px,#fcff03 115.5px,#ffe900 117.5px,#ffc300 120.5px,#ffaa00 125.5px,#ffaa00 130.5px,#ffb800 133.5px,#fff200 140.5px,#fdff02 142.5px,#c5ff3a 148.5px,#6aff95 153.5px,#0afff5 158.5px,#00fcff 159.5px,#00cbff 168.5px,#00b9ff 179.5px,#00b9ff 187.5px,#00d8ff 189.5px,#00ebff 190.5px,#0bfff4 191.5px,#51ffae 193.5px,#4dffb2 196.5px,#50ffaf 197.5px,#37ffc8 198.5px,#0cfff3 199.5px,#00e1ff 200.5px,#007bff 203.5px,#003dff 206.5px,#002bff 207.5px,#0011ff 211.5px,#0000fc 215.5px,#0000cb 232.5px,#0000a9 251.5px,#000095 280.5px,#0000aa 326.5px,#0003ff 425.5px,#0023ff 442.5px,#00aeff 454.5px,#00fbff 462.5px,#1dffe2 464.5px,#8eff71 470.5px,#eaff15 474.5px,#fff800 475.5px,#ff7600 477.5px,#ff2100 478.5px,#e80000 479.5px,#c10000 480.5px,#a40000 481.5px,#8f0000 482.5px,#8f0000 519.5px,#d00000 522.5px,#fe0000 524.5px,#ffe600 529.5px,#f7ff08 530.5px,#7dff82 537.5px,#00fdff 548.5px,#009eff 559px)"></i>
<i style="height:1px;background:linear-gradient(90deg,#0000e6 0px,#0000f4 30.5px,#0000fd 32.5px,#0015ff 34.5px,#0053ff 61.5px,#00cdff 80.5px,#02fffd 87.5px,#7fff80 101.5px,#d8ff27 110.5px,#fcff03 115.5px,#ffdb00 118.5px,#ffbc00 121.5px,#ffa800 126.5px,#ffae00 131.5px,#ffc100 134.5px,#fff900 141.5px,#f3ff0c 143.5px,#c4ff3b 148.5px,#69ff96 153.5px,#0afff5 158.5px,#00fcff 159.5px,#00cbff 168.5px,#00b8ff 179.5px,#00b8ff 187.5px,#00c3ff 188.5px,#00e9ff 190.5px,#07fff8 191.5px,#4fffb0 193.5px,#4bffb4 196.5px,#4effb1 197.5px,#38ffc7 198.5px,#0efff1 199.5px,#00e3ff 200.5px,#007dff 203.5px,#0051ff 205.5px,#002cff 207.5px,#001cff 209.5px,#0000fc 215.5px,#0000cc 232.5px,#0000a9 251.5px,#000095 280.5px,#0000aa 326.5px,#0003ff 425.5px,#0026ff 443.5px,#00aaff 454.5px,#04fffb 463.5px,#84ff7b 470.5px,#f8ff07 475.5px,#ffd300 476.5px,#ff9300 477.5px,#ff4400 478.5px,#f70000 479.5px,#ae0000 481.5px,#960000 482.5px,#8f0000 484.5px,#8f0000 519.5px,#9d0000 520.5px,#fb0000 524.5px,#ff2600 525.5px,#ffe000 529.5px,#f9ff06 530.5px,#7eff81 537.5px,#00feff 548.5px,#009eff 559px)"></i>
<i style="height:1px;background:linear-gradient(90deg,#0000e6 0px,#0000f4 30.5px,#0000fd 32.5px,#0015ff 34.5px,#0053ff 61.5px,#00cdff 80.5px,#02fffd 87.5px,#80ff7f 101.5px,#d8ff27 110.5px,#fcff03 115.5px,#ffc300 120.5px,#ffaa00 125.5px,#ffaa00 130.5px,#ffb800 133.5px,#fff300 140.5px,#fdff02 142.5px,#c4ff3b 148.5px,#69ff96 153.5px,#0afff5 158.5px,#00fcff 159.5px,#00cbff 168.5px,#00b8ff 179.5px,#00b8ff 187.5px,#00c0ff 188.5px,#03fffc 191.5px,#4cffb3 193.5px,#48ffb7 196.5px,#4cffb3 197.5px,#3affc5 198.5px,#11ffee 199.5px,#00e6ff 200.5px,#0080ff 203.5px,#0065ff 204.5px,#002eff 207.5px,#001cff 209.5px,#0000fd 215.5px,#0000cc 232.5px,#0000a9 251.5px,#000095 280.5px,#0000ab 327.5px,#0004ff 426.5px,#0023ff 443.5px,#00afff 455.5px,#00fdff 463.5px,#7bff84 470.5px,#eeff11 475.5px,#ffed00 476.5px,#ff6800 478.5px,#ff1300 479.5px,#e10000 480.5px,#bb0000 481.5px,#a00000 482.5px,#8f0000 483.5px,#8f0000 519.5px,#9a0000 520.5px,#f70000 524.5px,#ff1f00 525.5px,#ffd900 529.5px,#fcff03 530.5px,#80ff7f 537.5px,#00ffff 548.5px,#009eff 559px)"></i>
<i style="height:1px;background:linear-gradient(90deg,#0000e6 0px,#0000f4 30.5px,#0000fe 32.5px,#0015ff 34.5px,#0054ff 61.5px,#00cdff 80.5px,#02fffd 87.5px,#80ff7f 101.5px,#d9ff26 110.5px,#fdff02 115.5px,#ffc200 120.5px,#ffa900 125.5px,#ffab00 130.5px,#ffb900 133.5px,#fffa00 141.5px,#f3ff0c 143.5px,#c4ff3b 148.5px,#69ff96 153.5px,#0afff5 158.5px,#00fcff 159.5px,#00cbff 168.5px,#00b7ff 179.5px,#00b7ff 187.5px,#00beff 188.5px,#00e4ff 190.5px,#00fdff 191.5px,#46ffb9 193.5px,#49ffb6 197.5px,#3dffc2 198.5px,#14ffeb 199.5px,#00eaff 200.5px,#0083ff 203.5px,#0067ff 204.5px,#0022ff 208.5px,#0000fd 215.5px,#0000cc 232.5px,#0000a9 252.5px,#000095 280.5px,#0000ab 327.5px,#0003ff 426.5px,#0028ff 444.5px,#00abff 455.5px,#00f9ff 463.5px,#07fff8 464.5px,#88ff77 471.5px,#fcff03 476.5px,#ffc800 477.5px,#ff8800 478.5px,#ff3600 479.5px,#f10000 480.5px,#aa0000 482.5px,#920000 483.5px,#8f0000 519.5px,#960000 520.5px,#f40000 524.5px,#ff1800 525.5px,#ffff00 530.5px,#83ff7c 537.5px,#02fffd 548.5px,#00a0ff 559px)"></i>
<i style="height:1px;background:linear-gradient(90deg,#0000e6 0px,#0000f5 30.5px,#0000fe 32.5px,#0015ff 34.5px,#0054ff 61.5px,#00cdff 80.5px,#03fffc 87.5px,#81ff7e 101.5px,#d9ff26 110.5px,#fdff02 115.5px,#ffc200 120.5px,#ffa900 125.5px,#ffab00 130.5px,#ffb900 133.5px,#fffa00 141.5px,#f3ff0c 143.5px,#c3ff3c 148.5px,#69ff96 153.5px,#0afff5 158.5px,#00fcff 159.5px,#00caff 168.5px,#00b6ff 179.5px,#00b6ff 187.5px,#00bbff 188.5px,#00f8ff 191.5px,#40ffbf 193.5px,#47ffb8 194.5px,#42ffbd 196.5px,#46ffb9 197.5px,#40ffbf 198.5px,#17ffe8 199.5px,#00eeff 200.5px,#0069ff 204.5px,#0022ff 208.5px,#0000fe 215.5px,#0000cd 232.5px,#0000a9 252.5px,#000095 280.5px,#0000ab 327.5px,#0004ff 427.5px,#0024ff 444.5px,#00a7ff 455.5px,#00feff 464.5px,#7eff81 471.5px,#f2ff0d 476.5px,#ffe300 477.5px,#ffa300 478.5px,#ff5a00 479.5px,#ff0500 480.5px,#b50000 482.5px,#9c0000 483.5px,#8f0000 484.5px,#920000 520.5px,#f00000 524.5px,#ff1100 525.5px,#fff800 530.5px,#deff21 532.5px,#78ff87 538.5px,#04fffb 548.5px,#00a1ff 559px)"></i>
<i style="height:1px;background:linear-gradient(90deg,#0000e6 0px,#0000f1 29.5px,#0000fe 32.5px,#0015ff 34.5px,#0054ff 61.5px,#00cdff 80.5px,#03fffc 87.5px,#81ff7e 101.5px,#d9ff26 110.5px,#fdff02 115.5px,#ffc200 120.5px,#ffa900 125.5px,#ffab00 130.5px,#ffba00 133.5px,#fffa00 141.5px,#f2ff0d 143.5px,#b5ff4a 149.5px,#0afff5 158.5px,#00fcff 159.5px,#00caff 168.5px,#00b6ff 179.5px,#00b8ff 188.5px,#00f3ff 191.5px,#17ffe8 192.5px,#3affc5 193.5px,#45ffba 194.5px,#3fffc0 196.5px,#43ffbc 198.5px,#1bffe4 199.5px,#00f2ff 200.5px,#006bff 204.5px,#0023ff 208.5px,#0000fe 215.5px,#0000cd 232.5px,#0000a9 252.5px,#000095 280.5px,#0000ac 328.5px,#0003ff 427.5px,#0023ff 444.5px,#004fff 448.5px,#00adff 456.5px,#00faff 464.5px,#09fff6 465.5px,#8cff73 472.5px,#fffe00 477.5px,#ff7e00 479.5px,#ff2900 480.5px,#eb0000 481.5px,#a60000 483.5px,#8f0000 484.5px,#8f0000 520.5px,#ec0000 524.5px,#ff0900 525.5px,#fff100 530.5px,#f3ff0c 531.5px,#7aff85 538.5px,#06fff9 548.5px,#00e7ff 551.5px,#00a3ff 559px)"></i>
<i style="height:1px;background:linear-gradient(90deg,#0000e6 0px,#0000f1 29.5px,#0000ff 32.5px,#0015ff 34.5px,#0054ff 61.5px,#00c5ff 79.5px,#03fffc 87.5px,#8cff73 102.5px,#d9ff26 110.5px,#feff01 115.5px,#ffc900 119.5px,#ffb000 123.5px,#ffa800 128.5px,#ffb200 132.5px,#fffb00 141.5px,#e9ff16 144.5px,#b4ff4b 149.5px,#09fff6 158.5px,#00fcff 159.5px,#00caff 168.5px,#00b5ff 179.5px,#00b5ff 188.5px,#00edff 191.5px,#11ffee 192.5px,#33ffcc 193.5px,#44ffbb 194.5px,#3cffc3 196.5px,#45ffba 198.5px,#1fffe0 199.5px,#00f7ff 200.5px,#006dff 204.5px,#0024ff 208.5px,#0000ff 215.5px,#0000cd 232.5px,#0000a9 252.5px,#000095 280.5px,#0000ac 328.5px,#0002ff 427.5px,#0025ff 445.5px,#00a9ff 456.5px,#02fffd 465.5px,#82ff7d 472.5px,#f6ff09 477.5px,#ffd900 478.5px,#ff9900 479.5px,#fb0000 481.5px,#b00000 483.5px,#980000 484.5px,#8f0000 485.5px,#8f0000 520.5px,#ff0100 525.5px,#ffe900 530.5px,#f6ff09 531.5px,#7cff83 538.5px,#00fcff 549.5px,#00a5ff 559px)"></i>
<i style="height:1px;background:linear-gradient(90deg,#0000e6 0px,#0000f1 29.5px,#0000ff 32.5px,#0015ff 34.5px,#0054ff 61.5px,#00c5ff 79.5px,#04fffb 87.5px,#8cff73 102.5px,#daff25 110.5px,#feff01 115.5px,#ffc900 119.5px,#ffb000 123.5px,#ffa800 128.5px,#ffb200 132.5px,#fffb00 141.5px,#e8ff17 144.5px,#b4ff4b 149.5px,#09fff6 158.5px,#00fcff 159.5px,#00caff 168.5px,#00b4ff 179.5px,#00b4ff 188.5px,#00eaff 191.5px,#0bfff4 192.5px,#2dffd2 193.5px,#42ffbd 194.5px,#3affc5 196.5px,#43ffbc 198.5px,#00fbff 200.5px,#0071ff 204.5px,#0027ff 208.5px,#0001ff 215.5px,#0000cc 233.5px,#0000aa 252.5px,#000095 280.5px,#0000ac 328.5px,#0004ff 428.5px,#0023ff 445.5px,#00aeff 457.5px,#00fcff 465.5px,#1effe1 467.5px,#8fff70 473.5px,#ecff13 477.5px,#fff500 478.5px,#ff7200 480.5px,#ff1d00 481.5px,#e60000 482.5px,#bf0000 483.5px,#a30000 484.5px,#8f0000 485.5px,#8f0000 520.5px,#9e0000 521.5px,#fb0000 525.5px,#ff5700 527.5px,#ffe100 530.5px,#f9ff06 531.5px,#7eff81 538.5px,#00feff 549.5px,#00a6ff 559px)"></i>
<i style="height:1px;background:linear-gradient(90deg,#0000e6 0px,#0000f1 29.5px,#0000ff 32.5px,#0015ff 34.5px,#0054ff 61.5px,#00c6ff 79.5px,#04fffb 87.5px,#8dff72 102.5px,#daff25 110.5px,#feff01 115.5px,#ffc800 119.5px,#ffaf00 123.5px,#ffa800 128.5px,#ffb200 132.5px,#fffb00 141.5px,#deff21 145.5px,#b4ff4b 149.5px,#09fff6 158.5px,#00fcff 159.5px,#00caff 168.5px,#00b4ff 178.5px,#00b4ff 188.5px,#00e6ff 191.5px,#05fffa 192.5px,#40ffbf 194.5px,#38ffc7 196.5px,#40ffbf 198.5px,#27ffd8 199.5px,#01fffe 200.5px,#0076ff 204.5px,#0029ff 208.5px,#0000fb 216.5px,#0000ca 234.5px,#0000a9 253.5px,#000095 280.5px,#0000ac 328.5px,#0003ff 428.5px,#0027ff 446.5px,#00aaff 457.5px,#04fffb 466.5px,#85ff7a 473.5px,#f9ff06 478.5px,#ffd000 479.5px,#ff9100 480.5px,#ff4100 481.5px,#f60000 482.5px,#ad0000 484.5px,#950000 485.5px,#8f0000 487.5px,#8f0000 520.5px,#9a0000 521.5px,#f70000 525.5px,#ff1f00 526.5px,#ffd900 530.5px,#fcff03 531.5px,#80ff7f 538.5px,#00ffff 549.5px,#00a8ff 559px)"></i>
<i style="height:1px;background:linear-gradient(90deg,#0000e6 0px,#0000f1 29.5px,#0001ff 32.5px,#0015ff 34.5px,#0054ff 61.5px,#00c6ff 79.5px,#04fffb 87.5px,#8dff72 102.5px,#daff25 110.5px,#ffff00 115.5px,#ffc800 119.5px,#ffaf00 123.5px,#ffa800 127.5px,#ffaf00 131.5px,#ffc400 134.5px,#fffb00 141.5px,#deff21 145.5px,#b4ff4b 149.5px,#09fff6 158.5px,#00fcff 159.5px,#00caff 168.5px,#00b3ff 178.5px,#00b3ff 188.5px,#00bdff 189.5px,#00e3ff 191.5px,#00fdff 192.5px,#3fffc0 194.5px,#37ffc8 197.5px,#3dffc2 198.5px,#2bffd4 199.5px,#06fff9 200.5px,#009cff 203.5px,#007bff 204.5px,#0050ff 206.5px,#002cff 208.5px,#0017ff 211.5px,#0000fc 216.5px,#0000cb 234.5px,#0000a9 253.5px,#000095 280.5px,#0000ad 329.5px,#0004ff 429.5px,#0023ff 446.5px,#00afff 458.5px,#00fdff 466.5px,#92ff6d 474.5px,#efff10 478.5px,#ffec00 479.5px,#ff6600 481.5px,#ff1100 482.5px,#e10000 483.5px,#ba0000 484.5px,#a00000 485.5px,#8f0000 486.5px,#8f0000 520.5px,#950000 521.5px,#f30000 525.5px,#ff1700 526.5px,#fffe00 531.5px,#83ff7c 538.5px,#03fffc 549.5px,#00aaff 559px)"></i>
<i style="height:1px;background:linear-gradient(90deg,#0000e6 0px,#0000f1 29.5px,#0001ff 32.5px,#0016ff 34.5px,#0055ff 61.5px,#00c6ff 79.5px,#04fffb 87.5px,#8eff71 102.5px,#dbff24 110.5px,#ffff00 115.5px,#ffc700 119.5px,#ffaf00 123.5px,#ffa800 127.5px,#ffaf00 131.5px,#ffc500 134.5px,#fffb00 141.5px,#cbff34 147.5px,#b3ff4c 149.5px,#09fff6 158.5px,#00fcff 159.5px,#00c9ff 168.5px,#00b3ff 178.5px,#00b3ff 188.5px,#00baff 189.5px,#00f7ff 192.5px,#3affc5 194.5px,#34ffcb 197.5px,#3affc5 198.5px,#2fffd0 199.5px,#0afff5 200.5px,#00e4ff 201.5px,#0080ff 204.5px,#0064ff 205.5px,#0022ff 209.5px,#0000fd 216.5px,#0000cb 234.5px,#0000a9 253.5px,#000095 280.5px,#0000ad 329.5px,#0003ff 429.5px,#0028ff 447.5px,#00abff 458.5px,#00f9ff 466.5px,#06fff9 467.5px,#88ff77 474.5px,#fcff03 479.5px,#ffc900 480.5px,#ff8900 481.5px,#ff3700 482.5px,#f20000 483.5px,#aa0000 485.5px,#920000 486.5px,#910000 521.5px,#ef0000 525.5px,#ff0e00 526.5px,#fff600 531.5px,#f1ff0e 532.5px,#79ff86 539.5px,#05fffa 549.5px,#00c9ff 555.5px,#00acff 559px)"></i>
<i style="height:1px;background:linear-gradient(90deg,#0000e6 0px,#0000f1 29.5px,#0002ff 32.5px,#0016ff 34.5px,#0055ff 61.5px,#00c6ff 79.5px,#00fbff 86.5px,#71ff8e 99.5px,#dbff24 110.5px,#fffe00 115.5px,#ffc700 119.5px,#ffaf00 123.5px,#ffa800 128.5px,#ffb300 132.5px,#fffc00 141.5px,#c1ff3e 148.5px,#55ffaa 154.5px,#09fff6 158.5px,#00fcff 159.5px,#00c9ff 168.5px,#00b2ff 178.5px,#00b6ff 189.5px,#00f1ff 192.5px,#12ffed 193.5px,#32ffcd 194.5px,#38ffc7 195.5px,#31ffce 197.5px,#37ffc8 198.5px,#33ffcc 199.5px,#0ffff0 200.5px,#00eaff 201.5px,#0067ff 205.5px,#0023ff 209.5px,#0000fe 216.5px,#0000cc 234.5px,#0000aa 253.5px,#000095 280.5px,#0000ae 330.5px,#0004ff 430.5px,#0024ff 447.5px,#00b1ff 459.5px,#00feff 467.5px,#7eff81 474.5px,#f1ff0e 479.5px,#ffe500 480.5px,#ffa600 481.5px,#ff5d00 482.5px,#ff0800 483.5px,#dc0000 484.5px,#b60000 485.5px,#9d0000 486.5px,#8f0000 487.5px,#8f0000 521.5px,#ff0500 526.5px,#ffed00 531.5px,#f4ff0b 532.5px,#7bff84 539.5px,#07fff8 549.5px,#00f1ff 551.5px,#00aeff 559px)"></i>
<i style="height:1px;background:linear-gradient(90deg,#0000e6 0px,#0000f1 29.5px,#0002ff 32.5px,#0016ff 34.5px,#0055ff 61.5px,#00c6ff 79.5px,#00fcff 86.5px,#85ff7a 101.5px,#dbff24 110.5px,#fffe00 115.5px,#ffc600 119.5px,#ffab00 124.5px,#ffac00 130.5px,#ffbc00 133.5px,#fffc00 141.5px,#c1ff3e 148.5px,#42ffbd 155.5px,#09fff6 158.5px,#00fcff 159.5px,#00c9ff 168.5px,#00b1ff 178.5px,#00b3ff 189.5px,#00ebff 192.5px,#0cfff3 193.5px,#2bffd4 194.5px,#36ffc9 195.5px,#2dffd2 197.5px,#37ffc8 199.5px,#13ffec 200.5px,#00efff 201.5px,#0069ff 205.5px,#0023ff 209.5px,#0000ff 216.5px,#0000cc 234.5px,#0000aa 253.5px,#000095 280.5px,#0000ae 330.5px,#0003ff 430.5px,#0023ff 447.5px,#0042ff 450.5px,#00acff 459.5px,#00faff 467.5px,#08fff7 468.5px,#8aff75 475.5px,#feff01 480.5px,#ff8300 482.5px,#ff2f00 483.5px,#ee0000 484.5px,#a80000 486.5px,#900000 487.5px,#8f0000 521.5px,#b70000 523.5px,#fd0000 526.5px,#ffe400 531.5px,#f8ff07 532.5px,#7dff82 539.5px,#00fdff 550.5px,#00afff 559px)"></i>
<i style="height:1px;background:linear-gradient(90deg,#0000e6 0px,#0000f1 29.5px,#0002ff 32.5px,#0016ff 34.5px,#0055ff 61.5px,#00c6ff 79.5px,#00fcff 86.5px,#86ff79 101.5px,#dbff24 110.5px,#fffd00 115.5px,#ffc600 119.5px,#ffab00 124.5px,#ffac00 130.5px,#ffbd00 133.5px,#fffc00 141.5px,#c0ff3f 148.5px,#42ffbd 155.5px,#09fff6 158.5px,#00fcff 159.5px,#00c9ff 168.5px,#00b1ff 178.5px,#00b1ff 189.5px,#00e6ff 192.5px,#05fffa 193.5px,#25ffda 194.5px,#35ffca 195.5px,#2bffd4 197.5px,#36ffc9 199.5px,#18ffe7 200.5px,#00f4ff 201.5px,#006dff 205.5px,#0025ff 209.5px,#0000ff 216.5px,#0000cd 234.5px,#0000aa 253.5px,#000095 279.5px,#0000ae 330.5px,#0002ff 430.5px,#0024ff 448.5px,#00a8ff 459.5px,#00ffff 468.5px,#7fff80 475.5px,#f3ff0c 480.5px,#ffe000 481.5px,#ffa000 482.5px,#ff5600 483.5px,#ff0100 484.5px,#b30000 486.5px,#9b0000 487.5px,#8f0000 488.5px,#8f0000 521.5px,#9b0000 522.5px,#f80000 526.5px,#ff2100 527.5px,#ffdb00 531.5px,#fbff04 532.5px,#7fff80 539.5px,#00ffff 550.5px,#00b1ff 559px)"></i>
<i style="height:1px;background:linear-gradient(90deg,#0000e6 0px,#0000f1 29.5px,#0003ff 32.5px,#0016ff 34.5px,#0055ff 61.5px,#00c6ff 79.5px,#00fcff 86.5px,#86ff79 101.5px,#dcff23 110.5px,#fffc00 115.5px,#ffc600 119.5px,#ffab00 124.5px,#ffac00 130.5px,#ffbd00 133.5px,#fffc00 141.5px,#c0ff3f 148.5px,#42ffbd 155.5px,#09fff6 158.5px,#00fcff 159.5px,#00c9ff 168.5px,#00b0ff 178.5px,#00b0ff 189.5px,#00e3ff 192.5px,#00feff 193.5px,#34ffcb 195.5px,#29ffd6 197.5px,#33ffcc 199.5px,#00f8ff 201.5px,#0072ff 205.5px,#0028ff 209.5px,#0000fb 217.5px,#0000c9 236.5px,#0000a9 254.5px,#000095 279.5px,#0000af 331.5px,#0003ff 431.5px,#0023ff 448.5px,#005bff 453.5px,#00adff 460.5px,#00faff 468.5px,#09fff6 469.5px,#8cff73 476.5px,#fffe00 481.5px,#ff7e00 483.5px,#ff2900 484.5px,#eb0000 485.5px,#a60000 487.5px,#8f0000 488.5px,#8f0000 521.5px,#960000 522.5px,#f40000 526.5px,#ff1800 527.5px,#ffff00 532.5px,#83ff7c 539.5px,#02fffd 550.5px,#00b3ff 559px)"></i>
<i style="height:1px;background:linear-gradient(90deg,#0000e6 0px,#0000f1 29.5px,#0003ff 32.5px,#0016ff 34.5px,#0055ff 61.5px,#00c6ff 79.5px,#00fcff 86.5px,#87ff78 101.5px,#dcff23 110.5px,#fffc00 115.5px,#ffc500 119.5px,#ffab00 124.5px,#ffac00 130.5px,#ffbd00 133.5px,#fffd00 141.5px,#c0ff3f 148.5px,#41ffbe 155.5px,#09fff6 158.5px,#00fcff 159.5px,#00c9ff 168.5px,#00afff 178.5px,#00afff 189.5px,#00ccff 191.5px,#00f8ff 193.5px,#33ffcc 195.5px,#27ffd8 197.5px,#30ffcf 199.5px,#20ffdf 200.5px,#00fdff 201.5px,#0078ff 205.5px,#004eff 207.5px,#002bff 209.5px,#0011ff 213.5px,#0000fc 217.5px,#0000ca 236.5px,#0000aa 254.5px,#000095 279.5px,#0000af 331.5px,#0002ff 431.5px,#0024ff 449.5px,#00a8ff 460.5px,#01fffe 469.5px,#80ff7f 476.5px,#f4ff0b 481.5px,#ffdc00 482.5px,#ff9d00 483.5px,#fd0000 485.5px,#b20000 487.5px,#9a0000 488.5px,#8f0000 489.5px,#910000 522.5px,#ef0000 526.5px,#ff0e00 527.5px,#fff600 532.5px,#f1ff0e 533.5px,#79ff86 540.5px,#05fffa 550.5px,#00bfff 557.5px,#00b5ff 559px)"></i>
<i style="height:1px;background:linear-gradient(90deg,#0000e6 0px,#0000f2 29.5px,#0004ff 32.5px,#0016ff 34.5px,#0056ff 61.5px,#00c6ff 79.5px,#00fdff 86.5px,#91ff6e 102.5px,#dcff23 110.5px,#fffb00 115.5px,#ffc500 119.5px,#ffab00 124.5px,#ffad00 130.5px,#ffbe00 133.5px,#fffd00 141.5px,#c0ff3f 148.5px,#41ffbe 155.5px,#09fff6 158.5px,#00fcff 159.5px,#00c8ff 168.5px,#00afff 178.5px,#00afff 189.5px,#00b6ff 190.5px,#00f2ff 193.5px,#11ffee 194.5px,#2fffd0 195.5px,#26ffd9 198.5px,#2dffd2 199.5px,#23ffdc 200.5px,#02fffd 201.5px,#007dff 205.5px,#0062ff 206.5px,#0022ff 210.5px,#0000fd 217.5px,#0000ca 236.5px,#0000a9 255.5px,#000095 279.5px,#0000b0 332.5px,#0003ff 432.5px,#0023ff 449.5px,#0074ff 456.5px,#00c1ff 463.5px,#00fbff 469.5px,#0afff5 470.5px,#8cff73 477.5px,#fffb00 482.5px,#ff7b00 484.5px,#ff2600 485.5px,#ea0000 486.5px,#c30000 487.5px,#8f0000 489.5px,#8f0000 522.5px,#ff0500 527.5px,#ffed00 532.5px,#f4ff0b 533.5px,#7bff84 540.5px,#07fff8 550.5px,#00f1ff 552.5px,#00b7ff 559px)"></i>
<i style="height:1px;background:linear-gradient(90deg,#0000e6 0px,#0000f2 29.5px,#0004ff 32.5px,#0016ff 34.5px,#0056ff 61.5px,#00c6ff 79.5px,#00fdff 86.5px,#92ff6d 102.5px,#ddff22 110.5px,#fffa00 115.5px,#ffc500 119.5px,#ffab00 124.5px,#ffad00 130.5px,#ffbe00 133.5px,#fffd00 141.5px,#bfff40 148.5px,#41ffbe 155.5px,#09fff6 158.5px,#00fcff 159.5px,#00c8ff 168.5px,#00aeff 178.5px,#00aeff 189.5px,#00b3ff 190.5px,#00ecff 193.5px,#0afff5 194.5px,#28ffd7 195.5px,#2bffd4 196.5px,#24ffdb 198.5px,#2affd5 199.5px,#27ffd8 200.5px,#07fff8 201.5px,#00c4ff 203.5px,#0065ff 206.5px,#0022ff 210.5px,#0000fe 217.5px,#0000cb 236.5px,#0000a9 255.5px,#000095 279.5px,#0000b0 332.5px,#0002ff 432.5px,#0024ff 450.5px,#00a8ff 461.5px,#01fffe 470.5px,#81ff7e 477.5px,#f5ff0a 482.5px,#ffdb00 483.5px,#ff9b00 484.5px,#fd0000 486.5px,#b10000 488.5px,#990000 489.5px,#8f0000 490.5px,#8f0000 522.5px,#b70000 524.5px,#fc0000 527.5px,#ffe300 532.5px,#f8ff07 533.5px,#7dff82 540.5px,#00fdff 551.5px,#00b9ff 559px)"></i>
<i style="height:1px;background:linear-gradient(90deg,#0000e6 0px,#0000f2 29.5px,#0004ff 32.5px,#0016ff 34.5px,#0056ff 61.5px,#00c6ff 79.5px,#00fdff 86.5px,#92ff6d 102.5px,#ddff22 110.5px,#faff05 114.5px,#fffa00 115.5px,#ffc400 119.5px,#ffaa00 124.5px,#ffad00 130.5px,#ffbf00 133.5px,#fffd00 141.5px,#bfff40 148.5px,#2fffd0 156.5px,#09fff6 158.5px,#00fcff 159.5px,#00c8ff 168.5px,#00adff 178.5px,#00afff 190.5px,#00e6ff 193.5px,#04fffb 194.5px,#20ffdf 195.5px,#2affd5 196.5px,#22ffdd 198.5px,#2bffd4 200.5px,#0bfff4 201.5px,#00eaff 202.5px,#0067ff 206.5px,#0023ff 210.5px,#0000ff 217.5px,#0000cd 235.5px,#0000aa 255.5px,#000095 279.5px,#0000b1 333.5px,#0003ff 433.5px,#0023ff 450.5px,#0074ff 457.5px,#00c1ff 464.5px,#00fbff 470.5px,#0afff5 471.5px,#8cff73 478.5px,#fffb00 483.5px,#ff7b00 485.5px,#ff2600 486.5px,#ea0000 487.5px,#c30000 488.5px,#8f0000 490.5px,#8f0000 522.5px,#9a0000 523.5px,#f70000 527.5px,#ff1f00 528.5px,#ffd800 532.5px,#fcff03 533.5px,#80ff7f 540.5px,#01fffe 551.5px,#00bcff 559px)"></i>
<i style="height:1px;background:linear-gradient(90deg,#0000e6 0px,#0000f2 29.5px,#0005ff 32.5px,#0012ff 33.5px,#0056ff 61.5px,#00c6ff 79.5px,#00fdff 86.5px,#9cff63 103.5px,#ddff22 110.5px,#fbff04 114.5px,#fff900 115.5px,#ffc400 119.5px,#ffaa00 124.5px,#ffad00 130.5px,#ffbf00 133.5px,#fffd00 141.5px,#bfff40 148.5px,#2effd1 156.5px,#09fff6 158.5px,#00fcff 159.5px,#00c8ff 168.5px,#00adff 178.5px,#00adff 190.5px,#00e1ff 193.5px,#00fcff 194.5px,#19ffe6 195.5px,#29ffd6 196.5px,#22ffdd 198.5px,#2affd5 200.5px,#10ffef 201.5px,#00f0ff 202.5px,#006cff 206.5px,#0026ff 210.5px,#0001ff 217.5px,#0000cc 236.5px,#0000aa 255.5px,#000095 279.5px,#0000b1 333.5px,#0002ff 433.5px,#0024ff 451.5px,#00a8ff 462.5px,#01fffe 471.5px,#81ff7e 478.5px,#f4ff0b 483.5px,#ffdc00 484.5px,#ff9c00 485.5px,#fd0000 487.5px,#b10000 489.5px,#9a0000 490.5px,#8f0000 491.5px,#8f0000 522.5px,#940000 523.5px,#f10000 527.5px,#ff1300 528.5px,#fffb00 533.5px,#77ff88 541.5px,#03fffc 551.5px,#00beff 559px)"></i>
<i style="height:1px;background:linear-gradient(90deg,#0000e6 0px,#0000f2 29.5px,#0005ff 32.5px,#0012ff 33.5px,#0056ff 61.5px,#00beff 78.5px,#00fdff 86.5px,#a7ff58 104.5px,#e5ff1a 111.5px,#fbff04 114.5px,#ffeb00 116.5px,#ffc400 119.5px,#ffaa00 124.5px,#ffad00 130.5px,#ffbf00 133.5px,#fffe00 141.5px,#beff41 148.5px,#2effd1 156.5px,#09fff6 158.5px,#00fcff 159.5px,#00c8ff 168.5px,#00acff 178.5px,#00acff 190.5px,#00ddff 193.5px,#00f5ff 194.5px,#12ffed 195.5px,#28ffd7 196.5px,#23ffdc 199.5px,#27ffd8 200.5px,#14ffeb 201.5px,#00f5ff 202.5px,#0073ff 206.5px,#0029ff 210.5px,#0000fc 218.5px,#0000c8 238.5px,#0000a9 256.5px,#000095 279.5px,#0000b2 334.5px,#0003ff 434.5px,#0023ff 451.5px,#005bff 456.5px,#00adff 463.5px,#00faff 471.5px,#0afff5 472.5px,#8cff73 479.5px,#fffd00 484.5px,#ff7d00 486.5px,#ff2800 487.5px,#eb0000 488.5px,#a60000 490.5px,#8f0000 491.5px,#8f0000 523.5px,#ec0000 527.5px,#ff0800 528.5px,#fff000 533.5px,#f3ff0c 534.5px,#7aff85 541.5px,#06fff9 551.5px,#00f1ff 553.5px,#00c0ff 559px)"></i>
<i style="height:1px;background:linear-gradient(90deg,#0000e6 0px,#0000f2 29.5px,#0006ff 32.5px,#0012ff 33.5px,#0056ff 61.5px,#00beff 78.5px,#00feff 86.5px,#b1ff4e 105.5px,#edff12 112.5px,#fbff04 114.5px,#ffea00 116.5px,#ffc300 119.5px,#ffaa00 124.5px,#ffad00 130.5px,#ffc800 134.5px,#fffe00 141.5px,#beff41 148.5px,#2effd1 156.5px,#09fff6 158.5px,#00fcff 159.5px,#00c8ff 168.5px,#00acff 178.5px,#00acff 190.5px,#00b4ff 191.5px,#00eeff 194.5px,#0bfff4 195.5px,#26ffd9 196.5px,#21ffde 199.5px,#25ffda 200.5px,#19ffe6 201.5px,#00faff 202.5px,#0079ff 206.5px,#0060ff 207.5px,#002dff 210.5px,#001cff 212.5px,#0000fd 218.5px,#0000cb 237.5px,#0000a9 256.5px,#000095 279.5px,#0000b3 335.5px,#0002ff 434.5px,#0024ff 452.5px,#00a8ff 463.5px,#00ffff 472.5px,#7fff80 479.5px,#f3ff0c 484.5px,#ffdf00 485.5px,#ff9f00 486.5px,#ff5500 487.5px,#ff0000 488.5px,#b30000 490.5px,#9b0000 491.5px,#8f0000 492.5px,#8f0000 523.5px,#b70000 525.5px,#fd0000 528.5px,#ffe400 533.5px,#f8ff07 534.5px,#7dff82 541.5px,#00fdff 552.5px,#00c3ff 559px)"></i>
<i style="height:1px;background:linear-gradient(90deg,#0000e6 0px,#0000f2 29.5px,#0006ff 32.5px,#0013ff 33.5px,#0056ff 61.5px,#00beff 78.5px,#00feff 86.5px,#c5ff3a 107.5px,#fcff03 114.5px,#ffe900 116.5px,#ffc300 119.5px,#ffaa00 124.5px,#ffaa00 129.5px,#ffb700 132.5px,#fffe00 141.5px,#beff41 148.5px,#1cffe3 157.5px,#09fff6 158.5px,#00fcff 159.5px,#00c8ff 168.5px,#00abff 178.5px,#00afff 191.5px,#03fffc 195.5px,#1effe1 196.5px,#21ffde 198.5px,#1effe1 201.5px,#01fffe 202.5px,#0063ff 207.5px,#0022ff 211.5px,#0000fe 218.5px,#0000cb 237.5px,#0000aa 256.5px,#000095 279.5px,#0000b4 336.5px,#0003ff 435.5px,#0023ff 452.5px,#0042ff 455.5px,#00acff 464.5px,#00faff 472.5px,#08fff7 473.5px,#8aff75 480.5px,#feff01 485.5px,#ff8200 487.5px,#ff2d00 488.5px,#ed0000 489.5px,#a70000 491.5px,#900000 492.5px,#8f0000 523.5px,#990000 524.5px,#f70000 528.5px,#ff1f00 529.5px,#ffd800 533.5px,#fcff03 534.5px,#80ff7f 541.5px,#01fffe 552.5px,#00c5ff 559px)"></i>
<i style="height:1px;background:linear-gradient(90deg,#0000e6 0px,#0000f2 29.5px,#0000fa 31.5px,#0013ff 33.5px,#0057ff 61.5px,#00beff 78.5px,#00feff 86.5px,#deff21 110.5px,#fcff03 114.5px,#ffdb00 117.5px,#ffbc00 120.5px,#ffa800 125.5px,#ffae00 130.5px,#ffc900 134.5px,#fffe00 141.5px,#bdff42 148.5px,#1cffe3 157.5px,#09fff6 158.5px,#00fcff 159.5px,#00c7ff 168.5px,#00aaff 178.5px,#00aaff 191.5px,#00e1ff 194.5px,#00fbff 195.5px,#16ffe9 196.5px,#22ffdd 197.5px,#20ffdf 200.5px,#22ffdd 201.5px,#06fff9 202.5px,#00e8ff 203.5px,#0067ff 207.5px,#0024ff 211.5px,#0000ff 218.5px,#0000cc 237.5px,#0000aa 256.5px,#000095 279.5px,#0000b4 337.5px,#0004ff 436.5px,#0024ff 453.5px,#00b1ff 465.5px,#00feff 473.5px,#7eff81 480.5px,#f2ff0d 485.5px,#ffe400 486.5px,#ffa400 487.5px,#ff5b00 488.5px,#ff0600 489.5px,#b50000 491.5px,#9c0000 492.5px,#8f0000 493.5px,#8f0000 523.5px,#930000 524.5px,#f10000 528.5px,#ff1200 529.5px,#fff900 534.5px,#ccff33 537.5px,#78ff87 542.5px,#04fffb 552.5px,#00c8ff 559px)"></i>
<i style="height:1px;background:linear-gradient(90deg,#0000e6 0px,#0000f2 29.5px,#0000fa 31.5px,#0014ff 33.5px,#0057ff 61.5px,#00beff 78.5px,#00feff 86.5px,#dfff20 110.5px,#fcff03 114.5px,#ffc300 119.5px,#ffaa00 124.5px,#ffaa00 129.5px,#ffb800 132.5px,#ffff00 141.5px,#afff50 149.5px,#09fff6 158.5px,#00fcff 159.5px,#00c7ff 168.5px,#00aaff 178.5px,#00aaff 191.5px,#00dbff 194.5px,#00f3ff 195.5px,#0efff1 196.5px,#20ffdf 197.5px,#20ffdf 201.5px,#0bfff4 202.5px,#00eeff 203.5px,#006eff 207.5px,#0028ff 211.5px,#0000fb 219.5px,#0000c7 240.5px,#0000a8 258.5px,#000095 279.5px,#0000b5 338.5px,#0003ff 436.5px,#0028ff 454.5px,#00abff 465.5px,#00f9ff 473.5px,#07fff8 474.5px,#88ff77 481.5px,#fcff03 486.5px,#ff8700 488.5px,#ff3500 489.5px,#f00000 490.5px,#a90000 492.5px,#920000 493.5px,#8f0000 524.5px,#ff0500 529.5px,#ffed00 534.5px,#f4ff0b 535.5px,#7bff84 542.5px,#07fff8 552.5px,#00f1ff 554.5px,#00cbff 559px)"></i>
<i style="height:1px;background:linear-gradient(90deg,#0000e6 0px,#0000f2 29.5px,#0000fa 31.5px,#0014ff 33.5px,#0057ff 61.5px,#00bfff 78.5px,#00ffff 86.5px,#dfff20 110.5px,#fdff02 114.5px,#ffc200 119.5px,#ffa900 124.5px,#ffab00 129.5px,#ffb800 132.5px,#ffff00 141.5px,#afff50 149.5px,#09fff6 158.5px,#00fcff 159.5px,#00c7ff 168.5px,#00a9ff 178.5px,#00a9ff 191.5px,#00b2ff 192.5px,#00ecff 195.5px,#06fff9 196.5px,#1fffe0 197.5px,#1effe1 201.5px,#10ffef 202.5px,#00f4ff 203.5px,#0097ff 206.5px,#0076ff 207.5px,#004dff 209.5px,#0021ff 212.5px,#0000fc 219.5px,#0000c9 239.5px,#0000a8 258.5px,#000095 279.5px,#0000b6 339.5px,#0004ff 437.5px,#0023ff 454.5px,#00b0ff 466.5px,#00fdff 474.5px,#93ff6c 482.5px,#efff10 486.5px,#ffea00 487.5px,#ff6400 489.5px,#ff0f00 490.5px,#df0000 491.5px,#b90000 492.5px,#9f0000 493.5px,#8f0000 494.5px,#8f0000 524.5px,#9e0000 525.5px,#fb0000 529.5px,#ff2700 530.5px,#ffe000 534.5px,#f9ff06 535.5px,#7eff81 542.5px,#00feff 553.5px,#00cdff 559px)"></i>
<i style="height:1px;background:linear-gradient(90deg,#0000e6 0px,#0000f2 29.5px,#0000fa 31.5px,#0014ff 33.5px,#0057ff 61.5px,#00bfff 78.5px,#00ffff 86.5px,#dfff20 110.5px,#fdff02 114.5px,#ffc200 119.5px,#ffa900 124.5px,#ffab00 129.5px,#ffb900 132.5px,#ffff00 141.5px,#aeff51 149.5px,#09fff6 158.5px,#00fcff 159.5px,#00c4ff 169.5px,#00a8ff 178.5px,#00a8ff 191.5px,#00adff 192.5px,#00e4ff 195.5px,#00fdff 196.5px,#17ffe8 197.5px,#1cffe3 200.5px,#16ffe9 202.5px,#00faff 203.5px,#009fff 206.5px,#0062ff 208.5px,#0022ff 212.5px,#0000fe 219.5px,#0000ca 239.5px,#0000a9 258.5px,#000095 279.5px,#0000b7 340.5px,#0003ff 437.5px,#0027ff 455.5px,#00aaff 466.5px,#00f8ff 474.5px,#05fffa 475.5px,#86ff79 482.5px,#faff05 487.5px,#ffce00 488.5px,#ff8e00 489.5px,#ff3e00 490.5px,#f50000 491.5px,#ac0000 493.5px,#940000 494.5px,#8f0000 497.5px,#8f0000 524.5px,#970000 525.5px,#f40000 529.5px,#ff1900 530.5px,#feff01 535.5px,#82ff7d 542.5px,#02fffd 553.5px,#00d0ff 559px)"></i>
<i style="height:1px;background:linear-gradient(90deg,#0000e6 0px,#0000f2 29.5px,#0000fa 31.5px,#0014ff 33.5px,#0057ff 61.5px,#00bfff 78.5px,#00ffff 86.5px,#e0ff1f 110.5px,#fdff02 114.5px,#ffc200 119.5px,#ffa900 124.5px,#ffab00 129.5px,#ffb900 132.5px,#ffff00 141.5px,#aeff51 149.5px,#09fff6 158.5px,#00fcff 159.5px,#00c4ff 169.5px,#00a8ff 178.5px,#00a8ff 192.5px,#00ddff 195.5px,#00f5ff 196.5px,#0efff1 197.5px,#1bffe4 198.5px,#1bffe4 202.5px,#01fffe 203.5px,#00a8ff 206.5px,#0066ff 208.5px,#0024ff 212.5px,#0000ff 219.5px,#0000cd 238.5px,#0000a9 258.5px,#000095 279.5px,#0000b7 341.5px,#0004ff 438.5px,#0023ff 455.5px,#00afff 467.5px,#00fcff 475.5px,#44ffbb 479.5px,#90ff6f 483.5px,#edff12 487.5px,#fff200 488.5px,#ff6e00 490.5px,#ff1900 491.5px,#e40000 492.5px,#be0000 493.5px,#a20000 494.5px,#8f0000 495.5px,#900000 525.5px,#ed0000 529.5px,#ff0b00 530.5px,#fff300 535.5px,#f2ff0d 536.5px,#79ff86 543.5px,#05fffa 553.5px,#00ddff 557.5px,#00d3ff 559px)"></i>
<i style="height:1px;background:linear-gradient(90deg,#0000e6 0px,#0000f2 29.5px,#0000fb 31.5px,#0015ff 33.5px,#0057ff 61.5px,#00bfff 78.5px,#00ffff 86.5px,#e0ff1f 110.5px,#feff01 114.5px,#ffc900 118.5px,#ffb000 122.5px,#ffa800 127.5px,#ffb200 131.5px,#feff01 141.5px,#aeff51 149.5px,#09fff6 158.5px,#00fcff 159.5px,#00c3ff 169.5px,#00a7ff 178.5px,#00a7ff 192.5px,#00d7ff 195.5px,#06fff9 197.5px,#19ffe6 198.5px,#19ffe6 202.5px,#06fff9 203.5px,#00d1ff 205.5px,#006fff 208.5px,#0028ff 212.5px,#0000fb 220.5px,#0000c7 241.5px,#0000a7 260.5px,#000095 279.5px,#0000b8 342.5px,#0003ff 438.5px,#0025ff 456.5px,#00a9ff 467.5px,#03fffc 476.5px,#83ff7c 483.5px,#f7ff08 488.5px,#ffd600 489.5px,#ff9600 490.5px,#fa0000 492.5px,#af0000 494.5px,#970000 495.5px,#8f0000 496.5px,#8f0000 525.5px,#cf0000 528.5px,#fe0000 530.5px,#ffe600 535.5px,#f7ff08 536.5px,#7dff82 543.5px,#00fdff 554.5px,#00d6ff 559px)"></i>
<i style="height:1px;background:linear-gradient(90deg,#0000e6 0px,#0000f2 29.5px,#0000fb 31.5px,#0015ff 33.5px,#0058ff 61.5px,#00bfff 78.5px,#01fffe 86.5px,#e0ff1f 110.5px,#feff01 114.5px,#ffc900 118.5px,#ffb000 122.5px,#ffa800 127.5px,#ffb200 131.5px,#feff01 141.5px,#aeff51 149.5px,#09fff6 158.5px,#00fcff 159.5px,#00c3ff 169.5px,#00a7ff 178.5px,#00a7ff 192.5px,#00aeff 193.5px,#00fdff 197.5px,#15ffea 198.5px,#17ffe8 202.5px,#0cfff3 203.5px,#00f2ff 204.5px,#00b9ff 206.5px,#0078ff 208.5px,#005eff 209.5px,#0021ff 213.5px,#0000fd 220.5px,#0000c8 241.5px,#0000a6 261.5px,#000095 279.5px,#0000ba 344.5px,#0003ff 439.5px,#0023ff 456.5px,#008dff 465.5px,#00fbff 476.5px,#1dffe2 478.5px,#8dff72 484.5px,#fffa00 489.5px,#ff7900 491.5px,#ff2400 492.5px,#e90000 493.5px,#c30000 494.5px,#8f0000 496.5px,#8f0000 525.5px,#990000 526.5px,#f70000 530.5px,#ff1f00 531.5px,#ffd800 535.5px,#fcff03 536.5px,#80ff7f 543.5px,#01fffe 554.5px,#00d9ff 559px)"></i>
<i style="height:1px;background:linear-gradient(90deg,#0000e6 0px,#0000f2 29.5px,#0000fb 31.5px,#0015ff 33.5px,#0058ff 61.5px,#00bfff 78.5px,#01fffe 86.5px,#e0ff1f 110.5px,#feff01 114.5px,#ffc800 118.5px,#ffaf00 122.5px,#ffa800 127.5px,#ffb200 131.5px,#feff01 141.5px,#adff52 149.5px,#09fff6 158.5px,#00fcff 159.5px,#00c3ff 169.5px,#00a6ff 178.5px,#00a8ff 193.5px,#00f5ff 197.5px,#0cfff3 198.5px,#17ffe8 200.5px,#11ffee 203.5px,#00f8ff 204.5px,#00c2ff 206.5px,#0063ff 209.5px,#0023ff 213.5px,#0000fe 220.5px,#0000cb 240.5px,#0000a8 260.5px,#000095 279.5px,#0000bb 346.5px,#0002ff 439.5px,#0024ff 457.5px,#00a8ff 468.5px,#00ffff 477.5px,#7fff80 484.5px,#f3ff0c 489.5px,#ffdf00 490.5px,#ff9f00 491.5px,#ff5500 492.5px,#ff0000 493.5px,#b30000 495.5px,#9b0000 496.5px,#8f0000 497.5px,#920000 526.5px,#f00000 530.5px,#ff1100 531.5px,#fff800 536.5px,#deff21 538.5px,#78ff87 544.5px,#04fffb 554.5px,#00dcff 559px)"></i>
<i style="height:1px;background:linear-gradient(90deg,#0000e6 0px,#0000f2 29.5px,#0000fc 31.5px,#0015ff 33.5px,#0058ff 61.5px,#00bfff 78.5px,#01fffe 86.5px,#e1ff1e 110.5px,#ffff00 114.5px,#ffc700 118.5px,#ffaf00 122.5px,#ffa800 126.5px,#ffaf00 130.5px,#ffcc00 134.5px,#feff01 141.5px,#adff52 149.5px,#09fff6 158.5px,#00fcff 159.5px,#00c3ff 169.5px,#00a5ff 178.5px,#00a5ff 193.5px,#04fffb 198.5px,#13ffec 199.5px,#16ffe9 202.5px,#13ffec 203.5px,#00feff 204.5px,#00cbff 206.5px,#006aff 209.5px,#0026ff 213.5px,#0000fb 221.5px,#0000c3 244.5px,#0000a3 264.5px,#000095 279.5px,#0000bd 348.5px,#0003ff 440.5px,#0023ff 457.5px,#0035ff 459.5px,#00acff 469.5px,#00f9ff 477.5px,#08fff7 478.5px,#89ff76 485.5px,#fdff02 490.5px,#ff8500 492.5px,#ff3100 493.5px,#ef0000 494.5px,#a80000 496.5px,#910000 497.5px,#8f0000 526.5px,#ff0200 531.5px,#ffea00 536.5px,#f5ff0a 537.5px,#7bff84 544.5px,#00fcff 555.5px,#00dfff 559px)"></i>
<i style="height:1px;background:linear-gradient(90deg,#0000e6 0px,#0000f2 29.5px,#0000fc 31.5px,#0015ff 33.5px,#0058ff 61.5px,#00bfff 78.5px,#02fffd 86.5px,#e1ff1e 110.5px,#ffff00 114.5px,#ffc700 118.5px,#ffaf00 122.5px,#ffa800 126.5px,#ffaf00 130.5px,#ffd400 135.5px,#fdff02 141.5px,#adff52 149.5px,#09fff6 158.5px,#00fcff 159.5px,#00c3ff 169.5px,#00a5ff 178.5px,#00a5ff 193.5px,#00aeff 194.5px,#00faff 198.5px,#10ffef 199.5px,#15ffea 202.5px,#12ffed 203.5px,#04fffb 204.5px,#00d5ff 206.5px,#0073ff 209.5px,#004bff 211.5px,#0021ff 214.5px,#0000fc 221.5px,#0000c6 243.5px,#0000a4 264.5px,#000095 279.5px,#0000be 350.5px,#0004ff 441.5px,#0023ff 458.5px,#00b0ff 470.5px,#00fdff 478.5px,#7dff82 485.5px,#f0ff0f 490.5px,#ffe900 491.5px,#ff6200 493.5px,#ff0d00 494.5px,#df0000 495.5px,#b90000 496.5px,#9e0000 497.5px,#8f0000 498.5px,#8f0000 526.5px,#9c0000 527.5px,#f90000 531.5px,#ff2300 532.5px,#ffdd00 536.5px,#fbff04 537.5px,#7fff80 544.5px,#00ffff 555.5px,#00e1ff 559px)"></i>
<i style="height:1px;background:linear-gradient(90deg,#0000e6 0px,#0000f2 29.5px,#0000fd 31.5px,#0015ff 33.5px,#0058ff 61.5px,#00bfff 78.5px,#02fffd 86.5px,#e1ff1e 110.5px,#fffe00 114.5px,#ffc600 118.5px,#ffab00 123.5px,#ffac00 129.5px,#ffbb00 132.5px,#fdff02 141.5px,#acff53 149.5px,#09fff6 158.5px,#00fcff 159.5px,#00c2ff 169.5px,#00a4ff 178.5px,#00a8ff 194.5px,#00f2ff 198.5px,#08fff7 199.5px,#16ffe9 202.5px,#09fff6 204.5px,#00f2ff 205.5px,#00beff 207.5px,#0060ff 210.5px,#0023ff 214.5px,#0000fe 221.5px,#0000c9 242.5px,#0000a5 263.5px,#000095 279.5px,#0000c0 353.5px,#0003ff 441.5px,#0027ff 459.5px,#00aaff 470.5px,#00f8ff 478.5px,#05fffa 479.5px,#86ff79 486.5px,#f9ff06 491.5px,#ffcf00 492.5px,#ff8f00 493.5px,#ff3f00 494.5px,#f50000 495.5px,#ac0000 497.5px,#940000 498.5px,#8f0000 501.5px,#8f0000 526.5px,#950000 527.5px,#f20000 531.5px,#ff1500 532.5px,#fffd00 537.5px,#77ff88 545.5px,#03fffc 555.5px,#00e4ff 559px)"></i>
<i style="height:1px;background:linear-gradient(90deg,#0000e6 0px,#0000f2 29.5px,#0000fd 31.5px,#0015ff 33.5px,#0058ff 61.5px,#00bfff 78.5px,#02fffd 86.5px,#e2ff1d 110.5px,#fffd00 114.5px,#ffc600 118.5px,#ffab00 123.5px,#ffac00 129.5px,#ffbc00 132.5px,#fdff02 141.5px,#acff53 149.5px,#09fff6 158.5px,#00fcff 159.5px,#00c2ff 169.5px,#00a3ff 178.5px,#00a3ff 194.5px,#00eaff 198.5px,#00ffff 199.5px,#0efff1 200.5px,#15ffea 202.5px,#0dfff2 204.5px,#00f8ff 205.5px,#00c8ff 207.5px,#0067ff 210.5px,#0025ff 214.5px,#0001ff 221.5px,#0000ca 242.5px,#0000a4 264.5px,#000095 279.5px,#0000c2 356.5px,#0004ff 442.5px,#0023ff 459.5px,#00aeff 471.5px,#00fcff 479.5px,#31ffce 482.5px,#8fff70 487.5px,#ecff13 491.5px,#fff400 492.5px,#ff7000 494.5px,#ff1b00 495.5px,#e50000 496.5px,#bf0000 497.5px,#a20000 498.5px,#8f0000 499.5px,#8f0000 527.5px,#eb0000 531.5px,#ff0700 532.5px,#ffef00 537.5px,#f4ff0b 538.5px,#7aff85 545.5px,#06fff9 555.5px,#00f1ff 557.5px,#00e7ff 559px)"></i>
<i style="height:1px;background:linear-gradient(90deg,#0000e6 0px,#0000f2 29.5px,#0000fd 31.5px,#0015ff 33.5px,#0058ff 61.5px,#00bfff 78.5px,#03fffc 86.5px,#e2ff1d 110.5px,#fffd00 114.5px,#ffc600 118.5px,#ffab00 123.5px,#ffac00 129.5px,#ffbc00 132.5px,#fcff03 141.5px,#acff53 149.5px,#09fff6 158.5px,#00fcff 159.5px,#00c2ff 169.5px,#00a3ff 178.5px,#00a3ff 194.5px,#00beff 196.5px,#00f6ff 199.5px,#0afff5 200.5px,#12ffed 203.5px,#00fdff 205.5px,#00d2ff 207.5px,#0071ff 210.5px,#004aff 212.5px,#002bff 214.5px,#0002ff 221.5px,#0000c7 244.5px,#00009f 268.5px,#000095 279.5px,#0000c4 359.5px,#0002ff 442.5px,#0025ff 460.5px,#00a9ff 471.5px,#02fffd 480.5px,#82ff7d 487.5px,#f6ff09 492.5px,#ffd900 493.5px,#ff9900 494.5px,#fb0000 496.5px,#b00000 498.5px,#980000 499.5px,#8f0000 500.5px,#8f0000 527.5px,#9e0000 528.5px,#fb0000 532.5px,#ff5700 534.5px,#ffe100 537.5px,#f9ff06 538.5px,#7eff81 545.5px,#00feff 556.5px,#00eaff 559px)"></i>
<i style="height:1px;background:linear-gradient(90deg,#0000e6 0px,#0000f2 29.5px,#0000fe 31.5px,#0015ff 33.5px,#0059ff 61.5px,#00bfff 78.5px,#03fffc 86.5px,#e2ff1d 110.5px,#fffc00 114.5px,#ffc600 118.5px,#ffab00 123.5px,#ffac00 129.5px,#ffbc00 132.5px,#fcff03 141.5px,#acff53 149.5px,#09fff6 158.5px,#00fcff 159.5px,#00c2ff 169.5px,#00a2ff 178.5px,#00a6ff 195.5px,#03fffc 200.5px,#13ffec 203.5px,#03fffc 205.5px,#00daff 207.5px,#005fff 211.5px,#0023ff 215.5px,#0000fe 222.5px,#0000c7 244.5px,#00009f 268.5px,#000095 279.5px,#0000c7 364.5px,#0003ff 443.5px,#0023ff 460.5px,#004fff 464.5px,#00adff 472.5px,#00faff 480.5px,#09fff6 481.5px,#8bff74 488.5px,#ffff00 493.5px,#ff7f00 495.5px,#ff2a00 496.5px,#ec0000 497.5px,#a60000 499.5px,#8f0000 500.5px,#8f0000 527.5px,#970000 528.5px,#f50000 532.5px,#ff1a00 533.5px,#feff01 538.5px,#82ff7d 545.5px,#02fffd 556.5px,#00edff 559px)"></i>
<i style="height:1px;background:linear-gradient(90deg,#0000e6 0px,#0000f2 29.5px,#0000fe 31.5px,#0015ff 33.5px,#0059ff 61.5px,#00bfff 78.5px,#03fffc 86.5px,#e3ff1c 110.5px,#fffc00 114.5px,#ffc500 118.5px,#ffab00 123.5px,#ffad00 129.5px,#ffbd00 132.5px,#fcff03 141.5px,#abff54 149.5px,#09fff6 158.5px,#00fcff 159.5px,#00c2ff 169.5px,#00a2ff 178.5px,#00a2ff 195.5px,#00f9ff 200.5px,#13ffec 203.5px,#07fff8 205.5px,#00f4ff 206.5px,#00c7ff 208.5px,#0066ff 211.5px,#0025ff 215.5px,#0001ff 222.5px,#0000c8 244.5px,#00009e 269.5px,#000095 279.5px,#0000cb 369.5px,#0004ff 444.5px,#0024ff 461.5px,#00b1ff 473.5px,#00feff 481.5px,#7eff81 488.5px,#f1ff0e 493.5px,#ffe500 494.5px,#ffa500 495.5px,#ff5d00 496.5px,#ff0800 497.5px,#b60000 499.5px,#9d0000 500.5px,#8f0000 501.5px,#900000 528.5px,#ee0000 532.5px,#ff0c00 533.5px,#fff400 538.5px,#f2ff0d 539.5px,#79ff86 546.5px,#05fffa 556.5px,#00f0ff 559px)"></i>
<i style="height:1px;background:linear-gradient(90deg,#0000e6 0px,#0000f2 29.5px,#0000ff 31.5px,#0015ff 33.5px,#0059ff 61.5px,#00bfff 78.5px,#03fffc 86.5px,#e3ff1c 110.5px,#fffb00 114.5px,#ffc500 118.5px,#ffab00 123.5px,#ffad00 129.5px,#ffbd00 132.5px,#fcff03 141.5px,#abff54 149.5px,#09fff6 158.5px,#00fcff 159.5px,#00c2ff 169.5px,#00a1ff 178.5px,#00a1ff 195.5px,#00bbff 197.5px,#04fffb 201.5px,#10ffef 203.5px,#07fff8 205.5px,#00f9ff 206.5px,#00d2ff 208.5px,#0071ff 211.5px,#004aff 213.5px,#0021ff 216.5px,#0000fc 223.5px,#0000c3 247.5px,#000094 277.5px,#0000cc 371.5px,#0003ff 444.5px,#0027ff 462.5px,#00abff 473.5px,#00f8ff 481.5px,#06fff9 482.5px,#87ff78 489.5px,#faff05 494.5px,#ffcc00 495.5px,#ff8c00 496.5px,#ff3b00 497.5px,#f30000 498.5px,#ab0000 500.5px,#930000 501.5px,#8f0000 507.5px,#8f0000 528.5px,#cf0000 531.5px,#fe0000 533.5px,#ffe500 538.5px,#f7ff08 539.5px,#7dff82 546.5px,#00fdff 557.5px,#00f3ff 559px)"></i>
<i style="height:1px;background:linear-gradient(90deg,#0000e6 0px,#0000f2 29.5px,#0000ff 31.5px,#0015ff 33.5px,#0059ff 61.5px,#00bfff 78.5px,#04fffb 86.5px,#e3ff1c 110.5px,#fffa00 114.5px,#ffc500 118.5px,#ffab00 123.5px,#ffad00 129.5px,#ffbe00 132.5px,#fbff04 141.5px,#abff54 149.5px,#09fff6 158.5px,#00fcff 159.5px,#00c1ff 169.5px,#00a0ff 178.5px,#00a4ff 196.5px,#00fbff 201.5px,#10ffef 204.5px,#00feff 206.5px,#00d9ff 208.5px,#005fff 212.5px,#0023ff 216.5px,#0000fe 223.5px,#0000c6 246.5px,#000095 276.5px,#0000c5 360.5px,#0004ff 445.5px,#0023ff 462.5px,#00aeff 474.5px,#00fcff 482.5px,#31ffce 485.5px,#8fff70 490.5px,#ecff13 494.5px,#fff300 495.5px,#ff6f00 497.5px,#ff1a00 498.5px,#e50000 499.5px,#be0000 500.5px,#a20000 501.5px,#8f0000 502.5px,#8f0000 528.5px,#990000 529.5px,#f60000 533.5px,#ff1d00 534.5px,#ffd700 538.5px,#fdff02 539.5px,#81ff7e 546.5px,#01fffe 557.5px,#00f6ff 559px)"></i>
<i style="height:1px;background:linear-gradient(90deg,#0000e6 0px,#0000f2 29.5px,#0000ff 31.5px,#0015ff 33.5px,#0059ff 61.5px,#00bfff 78.5px,#04fffb 86.5px,#dcff23 109.5px,#faff05 113.5px,#fffa00 114.5px,#ffc400 118.5px,#ffaa00 123.5px,#ffad00 129.5px,#ffc600 133.5px,#fbff04 141.5px,#aaff55 149.5px,#09fff6 158.5px,#00fcff 159.5px,#00c1ff 169.5px,#00a0ff 178.5px,#00a0ff 196.5px,#00f3ff 201.5px,#02fffd 202.5px,#10ffef 204.5px,#01fffe 206.5px,#00deff 208.5px,#00c8ff 209.5px,#0067ff 212.5px,#0026ff 216.5px,#0000fb 224.5px,#0000bb 252.5px,#000095 278.5px,#0000d8 390.5px,#0002ff 445.5px,#0025ff 463.5px,#00a8ff 474.5px,#01fffe 483.5px,#81ff7e 490.5px,#f5ff0a 495.5px,#ffdb00 496.5px,#ff9b00 497.5px,#fc0000 499.5px,#b10000 501.5px,#990000 502.5px,#8f0000 503.5px,#910000 529.5px,#ef0000 533.5px,#ff0e00 534.5px,#fff600 539.5px,#f1ff0e 540.5px,#78ff87 547.5px,#05fffa 557.5px,#00f9ff 559px)"></i>
<i style="height:1px;background:linear-gradient(90deg,#0000e6 0px,#0000f2 29.5px,#0001ff 31.5px,#0015ff 33.5px,#0059ff 61.5px,#00bfff 78.5px,#04fffb 86.5px,#dcff23 109.5px,#fbff04 113.5px,#ffeb00 115.5px,#ffc400 118.5px,#ffaa00 123.5px,#ffad00 129.5px,#ffc600 133.5px,#fbff04 141.5px,#aaff55 149.5px,#09fff6 158.5px,#00fcff 159.5px,#00c1ff 169.5px,#009fff 178.5px,#009fff 196.5px,#00a7ff 197.5px,#00fcff 202.5px,#0cfff3 204.5px,#0cfff3 205.5px,#03fffc 206.5px,#00e4ff 208.5px,#00d3ff 209.5px,#0073ff 212.5px,#005aff 213.5px,#0021ff 217.5px,#0000fd 224.5px,#0000c2 249.5px,#000095 278.5px,#0000e1 404.5px,#0003ff 446.5px,#0023ff 463.5px,#0042ff 466.5px,#00acff 475.5px,#00faff 483.5px,#08fff7 484.5px,#8aff75 491.5px,#feff01 496.5px,#ff8300 498.5px,#ff2f00 499.5px,#ee0000 500.5px,#a80000 502.5px,#900000 503.5px,#8f0000 529.5px,#ff0000 534.5px,#ffe800 539.5px,#f6ff09 540.5px,#7cff83 547.5px,#00fcff 559px)"></i>
<i style="height:1px;background:linear-gradient(90deg,#0000e6 0px,#0000f2 29.5px,#0001ff 31.5px,#0016ff 33.5px,#0059ff 61.5px,#00bfff 78.5px,#00fbff 85.5px,#2bffd4 90.5px,#e4ff1b 110.5px,#fbff04 113.5px,#ffea00 115.5px,#ffc400 118.5px,#ffaa00 123.5px,#ffad00 129.5px,#ffc700 133.5px,#fffb00 140.5px,#d4ff2b 145.5px,#aaff55 149.5px,#09fff6 158.5px,#00fcff 159.5px,#00bdff 170.5px,#009eff 178.5px,#00a0ff 197.5px,#00f4ff 202.5px,#01fffe 203.5px,#0ffff0 205.5px,#00f9ff 207.5px,#00d8ff 209.5px,#009eff 211.5px,#0060ff 213.5px,#0023ff 217.5px,#0000ff 224.5px,#0000c7 247.5px,#000094 277.5px,#0000e9 416.5px,#0004ff 447.5px,#0023ff 464.5px,#00b0ff 476.5px,#00fdff 484.5px,#92ff6d 492.5px,#efff10 496.5px,#ffeb00 497.5px,#ff6500 499.5px,#ff1000 500.5px,#e00000 501.5px,#ba0000 502.5px,#9f0000 503.5px,#8f0000 504.5px,#8f0000 529.5px,#9a0000 530.5px,#f70000 534.5px,#ff1f00 535.5px,#ffd900 539.5px,#fcff03 540.5px,#80ff7f 547.5px,#00ffff 559px)"></i>
<i style="height:1px;background:linear-gradient(90deg,#0000e6 0px,#0000f2 29.5px,#0001ff 31.5px,#0016ff 33.5px,#005aff 61.5px,#00bfff 78.5px,#00fbff 85.5px,#36ffc9 91.5px,#e4ff1b 110.5px,#fbff04 113.5px,#ffea00 115.5px,#ffc300 118.5px,#ffaa00 123.5px,#ffad00 129.5px,#ffc700 133.5px,#fffc00 140.5px,#c1ff3e 147.5px,#a9ff56 149.5px,#09fff6 158.5px,#00fcff 159.5px,#00bdff 170.5px,#009eff 178.5px,#009eff 197.5px,#00fbff 203.5px,#0dfff2 205.5px,#00fbff 207.5px,#00c9ff 210.5px,#0068ff 213.5px,#0027ff 217.5px,#0000fb 225.5px,#0000b7 255.5px,#000095 278.5px,#0000fa 443.5px,#001eff 462.5px,#0026ff 465.5px,#00aaff 476.5px,#04fffb 485.5px,#84ff7b 492.5px,#f8ff07 497.5px,#ffd300 498.5px,#ff9300 499.5px,#ff4500 500.5px,#f80000 501.5px,#ae0000 503.5px,#960000 504.5px,#8f0000 506.5px,#920000 530.5px,#f00000 534.5px,#ff1000 535.5px,#fff800 540.5px,#deff21 542.5px,#78ff87 548.5px,#04fffb 559px)"></i>
</div>
<div class="hm" style="left:63px;top:453px;width:559px;height:132px">
<i style="height:1px;background:linear-gradient(90deg,#0000f0 0px,#0003ff 32.5px,#002aff 50.5px,#0050ff 61.5px,#009eff 73.5px,#00ceff 82.5px,#04fffb 88.5px,#ffff00 116.5px,#ff9f00 124.5px,#ff6a00 133.5px,#ff5900 141.5px,#ff7000 148.5px,#fdff02 169.5px,#63ff9c 184.5px,#00feff 195.5px,#00c5ff 205.5px,#0092ff 223.5px,#0080ff 240.5px,#00ebff 244.5px,#06fff9 245.5px,#39ffc6 247.5px,#06fff9 249.5px,#00c4ff 251.5px,#002fff 255.5px,#0000fa 260.5px,#0000c7 271.5px,#0000b2 279.5px,#0000a0 310.5px,#0000ac 522.5px,#0000b7 532.5px,#0000e1 545.5px,#0004ff 549.5px,#0035ff 554.5px,#006cff 559px)"></i>
<i style="height:1px;background:linear-gradient(90deg,#0000f0 0px,#0003ff 32.5px,#002aff 50.5px,#004fff 61.5px,#009dff 73.5px,#00cdff 82.5px,#04fffb 88.5px,#ffff00 116.5px,#ff9f00 124.5px,#ff6a00 133.5px,#ff5a00 141.5px,#ff7100 148.5px,#fffc00 168.5px,#e5ff1a 171.5px,#5fffa0 184.5px,#04fffb 194.5px,#00c3ff 205.5px,#0092ff 223.5px,#0081ff 239.5px,#00edff 243.5px,#08fff7 244.5px,#3bffc4 246.5px,#07fff8 248.5px,#00c3ff 250.5px,#002eff 254.5px,#0000fb 259.5px,#0000c8 270.5px,#0000b3 278.5px,#0000a1 309.5px,#0000ac 519.5px,#0000b7 529.5px,#0000df 542.5px,#0001ff 546.5px,#002fff 551.5px,#0089ff 559px)"></i>
<i style="height:1px;background:linear-gradient(90deg,#0000f0 0px,#0003ff 32.5px,#0029ff 50.5px,#004fff 61.5px,#009dff 73.5px,#00cdff 82.5px,#03fffc 88.5px,#ffff00 116.5px,#ff9f00 124.5px,#ff6b00 133.5px,#ff5b00 141.5px,#ff7300 148.5px,#fffe00 168.5px,#5cffa3 184.5px,#00ffff 194.5px,#00c2ff 205.5px,#0093ff 222.5px,#0083ff 238.5px,#00f0ff 242.5px,#0bfff4 243.5px,#3cffc3 245.5px,#08fff7 247.5px,#00c3ff 249.5px,#002fff 253.5px,#0000fb 258.5px,#0000c9 269.5px,#0000b4 277.5px,#0000a1 308.5px,#0000ad 516.5px,#0000b7 526.5px,#0000dc 539.5px,#0000fd 543.5px,#0029ff 548.5px,#0098ff 557.5px,#00aaff 559px)"></i>
<i style="height:1px;background:linear-gradient(90deg,#0000f0 0px,#0000fd 30.5px,#0029ff 50.5px,#004eff 61.5px,#009cff 73.5px,#00ccff 82.5px,#03fffc 88.5px,#ffff00 116.5px,#ff9f00 124.5px,#ff6b00 133.5px,#ff5a00 140.5px,#ff7500 148.5px,#feff01 168.5px,#62ff9d 183.5px,#00fdff 194.5px,#00c4ff 204.5px,#0094ff 221.5px,#0084ff 237.5px,#00f2ff 241.5px,#0efff1 242.5px,#3dffc2 244.5px,#09fff6 246.5px,#00e5ff 247.5px,#002fff 252.5px,#0000fc 257.5px,#0000ca 268.5px,#0000b5 276.5px,#0000a2 306.5px,#0000ac 512.5px,#0000b7 523.5px,#0000db 536.5px,#0004ff 541.5px,#0030ff 546.5px,#009aff 555.5px,#00cfff 559px)"></i>
<i style="height:1px;background:linear-gradient(90deg,#0000f0 0px,#0000fd 30.5px,#0029ff 50.5px,#004eff 61.5px,#009cff 73.5px,#00ccff 82.5px,#02fffd 88.5px,#ffff00 116.5px,#ff9f00 124.5px,#ff6c00 133.5px,#ff5a00 140.5px,#ff7600 148.5px,#fffb00 167.5px,#e5ff1a 170.5px,#5fffa0 183.5px,#02fffd 193.5px,#00c3ff 204.5px,#0094ff 221.5px,#0086ff 236.5px,#00f4ff 240.5px,#10ffef 241.5px,#3fffc0 243.5px,#0afff5 245.5px,#00e6ff 246.5px,#002fff 251.5px,#0000fc 256.5px,#0000cb 267.5px,#0000b6 275.5px,#0000a3 305.5px,#0000ac 509.5px,#0000b7 520.5px,#0000e1 534.5px,#0001ff 538.5px,#0036ff 544.5px,#009bff 553.5px,#00f5ff 559px)"></i>
<i style="height:1px;background:linear-gradient(90deg,#0000ef 0px,#0000fd 30.5px,#0028ff 50.5px,#004dff 61.5px,#00a1ff 74.5px,#00cbff 82.5px,#02fffd 88.5px,#ffff00 116.5px,#ffa000 124.5px,#ff6c00 133.5px,#ff5b00 140.5px,#ff7100 147.5px,#fffe00 167.5px,#5bffa4 183.5px,#00feff 193.5px,#00c4ff 203.5px,#0094ff 220.5px,#0087ff 235.5px,#00f5ff 239.5px,#12ffed 240.5px,#41ffbe 242.5px,#0cfff3 244.5px,#00e7ff 245.5px,#002fff 250.5px,#0000fd 255.5px,#0000cc 266.5px,#0000b7 274.5px,#0000a3 304.5px,#0000ac 506.5px,#0000b7 517.5px,#0000df 531.5px,#0000fe 535.5px,#003bff 542.5px,#009dff 551.5px,#00f6ff 556.5px,#14ffeb 557.5px,#3bffc4 559px)"></i>
<i style="height:1px;background:linear-gradient(90deg,#0000ef 0px,#0000fd 30.5px,#0028ff 50.5px,#004dff 61.5px,#00a0ff 74.5px,#00cbff 82.5px,#01fffe 88.5px,#ffff00 116.5px,#ffa000 124.5px,#ff6d00 133.5px,#ff5d00 140.5px,#ff7300 147.5px,#feff01 167.5px,#61ff9e 182.5px,#04fffb 192.5px,#00c3ff 203.5px,#0094ff 220.5px,#0087ff 234.5px,#00f7ff 238.5px,#2effd1 240.5px,#43ffbc 241.5px,#0dfff2 243.5px,#00e8ff 244.5px,#0030ff 249.5px,#0000fd 254.5px,#0000cd 265.5px,#0000b8 273.5px,#0000a4 302.5px,#0000ad 503.5px,#0000b7 514.5px,#0000dd 528.5px,#0004ff 533.5px,#0040ff 540.5px,#0090ff 548.5px,#00f8ff 554.5px,#18ffe7 555.5px,#8eff71 559px)"></i>
<i style="height:1px;background:linear-gradient(90deg,#0000ef 0px,#0000fd 30.5px,#0028ff 50.5px,#004cff 61.5px,#00a0ff 74.5px,#00caff 82.5px,#00ffff 88.5px,#feff01 116.5px,#ffa000 124.5px,#ff6d00 133.5px,#ff5e00 140.5px,#ff7400 147.5px,#fffb00 166.5px,#e5ff1a 169.5px,#55ffaa 183.5px,#00ffff 192.5px,#00c5ff 202.5px,#0095ff 219.5px,#0088ff 233.5px,#00f8ff 237.5px,#30ffcf 239.5px,#45ffba 240.5px,#0ffff0 242.5px,#00eaff 243.5px,#0030ff 248.5px,#0000fe 253.5px,#0000ce 264.5px,#0000b9 272.5px,#0000a5 301.5px,#0000ac 499.5px,#0000b7 511.5px,#0000db 525.5px,#0002ff 530.5px,#0045ff 538.5px,#0091ff 546.5px,#00faff 552.5px,#1bffe4 553.5px,#92ff6d 556.5px,#f1ff0e 559px)"></i>
<i style="height:1px;background:linear-gradient(90deg,#0000ef 0px,#0000fd 30.5px,#0027ff 50.5px,#004cff 61.5px,#009fff 74.5px,#00caff 82.5px,#00ffff 88.5px,#feff01 116.5px,#ffa000 124.5px,#ff6d00 133.5px,#ff5f00 140.5px,#ff7600 147.5px,#fffd00 166.5px,#51ffae 183.5px,#00fdff 192.5px,#00c4ff 202.5px,#0096ff 218.5px,#0088ff 232.5px,#00f9ff 236.5px,#47ffb8 239.5px,#12ffed 241.5px,#00ebff 242.5px,#0031ff 247.5px,#0000ff 252.5px,#0000cf 263.5px,#0000ba 271.5px,#0000a5 300.5px,#0000ac 496.5px,#0000b7 508.5px,#0000e1 523.5px,#0000fe 527.5px,#0040ff 535.5px,#0092ff 544.5px,#00fbff 550.5px,#1effe1 551.5px,#96ff69 554.5px,#f4ff0b 556.5px,#ffc800 557.5px,#ff8200 559px)"></i>
<i style="height:1px;background:linear-gradient(90deg,#0000ef 0px,#0000fd 30.5px,#0027ff 50.5px,#004bff 61.5px,#009fff 74.5px,#00caff 82.5px,#00feff 88.5px,#feff01 116.5px,#ffa000 124.5px,#ff6e00 133.5px,#ff6000 140.5px,#ff7800 147.5px,#feff01 166.5px,#57ffa8 182.5px,#02fffd 191.5px,#00c2ff 202.5px,#0096ff 218.5px,#0089ff 231.5px,#00faff 235.5px,#4affb5 238.5px,#14ffeb 240.5px,#00edff 241.5px,#0032ff 246.5px,#0000ff 251.5px,#0000cd 263.5px,#0000bb 270.5px,#0000a6 299.5px,#0000ac 493.5px,#0000b7 505.5px,#0000df 520.5px,#0004ff 525.5px,#0067ff 537.5px,#0092ff 542.5px,#00fcff 548.5px,#47ffb8 550.5px,#99ff66 552.5px,#f7ff08 554.5px,#ffc400 555.5px,#ff7d00 556.5px,#ff2800 557.5px,#e40000 559px)"></i>
<i style="height:1px;background:linear-gradient(90deg,#0000ef 0px,#0000fc 30.5px,#0027ff 50.5px,#004bff 61.5px,#009eff 74.5px,#00c9ff 82.5px,#00feff 88.5px,#feff01 116.5px,#ffa000 124.5px,#ff6e00 133.5px,#ff6100 140.5px,#ff7900 147.5px,#fffb00 165.5px,#f0ff0f 167.5px,#54ffab 182.5px,#00feff 191.5px,#00c4ff 201.5px,#0097ff 217.5px,#0089ff 230.5px,#00fbff 234.5px,#4cffb3 237.5px,#17ffe8 239.5px,#00f0ff 240.5px,#0032ff 245.5px,#0001ff 250.5px,#0000ce 262.5px,#0000bc 269.5px,#0000a7 297.5px,#0000ab 488.5px,#0000b7 502.5px,#0000dd 517.5px,#0002ff 522.5px,#0059ff 533.5px,#0097ff 540.5px,#03fffc 546.5px,#75ff8a 549.5px,#feff01 552.5px,#ff7400 554.5px,#ff2100 555.5px,#e10000 556.5px,#b00000 557.5px,#8f0000 559px)"></i>
<i style="height:1px;background:linear-gradient(90deg,#0000ef 0px,#0000fc 30.5px,#0027ff 50.5px,#004bff 61.5px,#009eff 74.5px,#00d1ff 83.5px,#00fdff 88.5px,#feff01 116.5px,#ffa100 124.5px,#ff6f00 133.5px,#ff6000 139.5px,#ff7400 146.5px,#fffd00 165.5px,#51ffae 182.5px,#04fffb 190.5px,#00cbff 199.5px,#0098ff 216.5px,#0088ff 229.5px,#00fbff 233.5px,#4fffb0 236.5px,#1affe5 238.5px,#00f2ff 239.5px,#0033ff 244.5px,#0002ff 249.5px,#0000cc 262.5px,#0000bc 269.5px,#0000a7 297.5px,#0000ac 487.5px,#0000b7 499.5px,#0000db 514.5px,#0000fe 519.5px,#003cff 527.5px,#0093ff 537.5px,#00f7ff 543.5px,#13ffec 544.5px,#81ff7e 547.5px,#daff25 549.5px,#fff300 550.5px,#ff6900 552.5px,#ff1900 553.5px,#de0000 554.5px,#af0000 555.5px,#8f0000 556.5px,#8f0000 559px)"></i>
<i style="height:1px;background:linear-gradient(90deg,#0000ef 0px,#0000fc 30.5px,#0026ff 50.5px,#004aff 61.5px,#009eff 74.5px,#00d1ff 83.5px,#00fdff 88.5px,#feff01 116.5px,#ffa100 124.5px,#ff7200 132.5px,#ff6000 139.5px,#ff7600 146.5px,#feff01 165.5px,#57ffa8 181.5px,#01fffe 190.5px,#00c4ff 200.5px,#0097ff 216.5px,#0089ff 228.5px,#00fcff 232.5px,#50ffaf 235.5px,#1dffe2 237.5px,#00f5ff 238.5px,#0035ff 243.5px,#0003ff 248.5px,#0000ca 262.5px,#0000bc 269.5px,#0000a8 296.5px,#0000ac 483.5px,#0000b7 496.5px,#0000e0 512.5px,#0003ff 517.5px,#0040ff 525.5px,#009dff 535.5px,#00feff 541.5px,#8eff71 545.5px,#e4ff1b 547.5px,#ffe700 548.5px,#ff6100 550.5px,#ff1400 551.5px,#dc0000 552.5px,#af0000 553.5px,#8f0000 554.5px,#8f0000 559px)"></i>
<i style="height:1px;background:linear-gradient(90deg,#0000ef 0px,#0000fc 30.5px,#0026ff 50.5px,#004aff 61.5px,#009dff 74.5px,#00d0ff 83.5px,#00fcff 88.5px,#feff01 116.5px,#ffa100 124.5px,#ff7200 132.5px,#ff6200 139.5px,#ff7700 146.5px,#fffb00 164.5px,#f0ff0f 166.5px,#53ffac 181.5px,#00fdff 190.5px,#00c3ff 200.5px,#0098ff 215.5px,#008aff 227.5px,#00fcff 231.5px,#51ffae 234.5px,#20ffdf 236.5px,#00f8ff 237.5px,#0037ff 242.5px,#0004ff 247.5px,#0000c1 264.5px,#0000a9 293.5px,#0000a6 360.5px,#0000ad 481.5px,#0000b9 494.5px,#0000dd 509.5px,#0000ff 514.5px,#003cff 522.5px,#0097ff 532.5px,#00f5ff 538.5px,#0cfff3 539.5px,#99ff66 543.5px,#ecff13 545.5px,#ffdd00 546.5px,#ff5b00 548.5px,#ff1000 549.5px,#dc0000 550.5px,#b00000 551.5px,#8f0000 552.5px,#8f0000 559px)"></i>
<i style="height:1px;background:linear-gradient(90deg,#0000ef 0px,#0000fc 30.5px,#0026ff 50.5px,#0049ff 61.5px,#009dff 74.5px,#00d0ff 83.5px,#00fcff 88.5px,#feff01 116.5px,#ffa100 124.5px,#ff7300 132.5px,#ff6300 139.5px,#ff7900 146.5px,#fffd00 164.5px,#46ffb9 182.5px,#03fffc 189.5px,#00c2ff 200.5px,#0098ff 215.5px,#008bff 226.5px,#00fcff 230.5px,#51ffae 233.5px,#24ffdb 235.5px,#00fcff 236.5px,#003aff 241.5px,#0005ff 246.5px,#0000f1 250.5px,#0000c3 263.5px,#0000aa 292.5px,#0000a6 353.5px,#0000ad 478.5px,#0000b9 491.5px,#0000e2 507.5px,#0004ff 512.5px,#0038ff 519.5px,#0092ff 529.5px,#00fbff 536.5px,#19ffe6 537.5px,#7bff84 540.5px,#f3ff0c 543.5px,#ffd500 544.5px,#ff5600 546.5px,#ff0e00 547.5px,#dc0000 548.5px,#b10000 549.5px,#8f0000 550.5px,#8f0000 559px)"></i>
<i style="height:1px;background:linear-gradient(90deg,#0000ef 0px,#0000fc 30.5px,#0025ff 50.5px,#0049ff 61.5px,#009cff 74.5px,#00d0ff 83.5px,#00fbff 88.5px,#feff01 116.5px,#ffa100 124.5px,#ff7300 132.5px,#ff6400 139.5px,#ff7b00 146.5px,#feff01 164.5px,#56ffa9 180.5px,#00feff 189.5px,#00c4ff 199.5px,#0099ff 214.5px,#008cff 225.5px,#00dcff 228.5px,#00fbff 229.5px,#52ffad 232.5px,#42ffbd 233.5px,#27ffd8 234.5px,#01fffe 235.5px,#003dff 240.5px,#001aff 243.5px,#0001ff 246.5px,#0000cd 259.5px,#0000be 267.5px,#0000a9 293.5px,#0000a9 469.5px,#0000b9 488.5px,#0000df 504.5px,#0001ff 509.5px,#0033ff 516.5px,#009aff 527.5px,#04fffb 534.5px,#84ff7b 538.5px,#f9ff06 541.5px,#ffce00 542.5px,#ff5200 544.5px,#ff0c00 545.5px,#dc0000 546.5px,#b30000 547.5px,#920000 548.5px,#8f0000 559px)"></i>
<i style="height:1px;background:linear-gradient(90deg,#0000ef 0px,#0000fc 30.5px,#0025ff 50.5px,#0048ff 61.5px,#009cff 74.5px,#00cfff 83.5px,#05fffa 89.5px,#feff01 116.5px,#ffa100 124.5px,#ff7300 132.5px,#ff6500 139.5px,#ff7c00 146.5px,#fbff04 164.5px,#53ffac 180.5px,#05fffa 188.5px,#00e3ff 193.5px,#00c2ff 199.5px,#0099ff 214.5px,#008dff 224.5px,#00beff 226.5px,#00faff 228.5px,#52ffad 231.5px,#46ffb9 232.5px,#2bffd4 233.5px,#05fffa 234.5px,#0040ff 239.5px,#0025ff 241.5px,#0002ff 245.5px,#0000c8 260.5px,#0000ac 288.5px,#0000a6 327.5px,#0000ac 471.5px,#0000b8 485.5px,#0000dd 501.5px,#0004ff 507.5px,#0037ff 514.5px,#0094ff 524.5px,#00f8ff 531.5px,#0ffff0 532.5px,#8dff72 536.5px,#feff01 539.5px,#ff9000 541.5px,#ff0c00 543.5px,#de0000 544.5px,#b50000 545.5px,#950000 546.5px,#8f0000 549.5px,#8f0000 559px)"></i>
<i style="height:1px;background:linear-gradient(90deg,#0000ef 0px,#0000fc 30.5px,#0025ff 50.5px,#0048ff 61.5px,#009bff 74.5px,#00cfff 83.5px,#04fffb 89.5px,#feff01 116.5px,#ffa200 124.5px,#ff7400 132.5px,#ff6600 139.5px,#ff7e00 146.5px,#fffd00 163.5px,#3cffc3 182.5px,#01fffe 188.5px,#00c4ff 198.5px,#0099ff 213.5px,#008dff 223.5px,#00a0ff 224.5px,#00f9ff 227.5px,#52ffad 230.5px,#49ffb6 231.5px,#2fffd0 232.5px,#09fff6 233.5px,#00deff 234.5px,#0043ff 238.5px,#0030ff 239.5px,#0003ff 244.5px,#0000c6 260.5px,#0000ac 288.5px,#0000a7 329.5px,#0000ac 468.5px,#0000b8 482.5px,#0000e0 499.5px,#0001ff 504.5px,#0032ff 511.5px,#009cff 522.5px,#00fdff 529.5px,#73ff8c 533.5px,#fffb00 537.5px,#ff8d00 539.5px,#ff0d00 541.5px,#df0000 542.5px,#980000 544.5px,#8f0000 545.5px,#8f0000 559px)"></i>
<i style="height:1px;background:linear-gradient(90deg,#0000ee 0px,#0000fc 30.5px,#0025ff 50.5px,#0047ff 61.5px,#009bff 74.5px,#00ceff 83.5px,#04fffb 89.5px,#feff01 116.5px,#ffa200 124.5px,#ff7400 132.5px,#ff6700 139.5px,#ff7900 145.5px,#ffff00 163.5px,#4cffb3 180.5px,#00fdff 188.5px,#00c3ff 198.5px,#009aff 212.5px,#008eff 222.5px,#009fff 223.5px,#00f8ff 226.5px,#37ffc8 228.5px,#52ffad 229.5px,#4dffb2 230.5px,#33ffcc 231.5px,#0efff1 232.5px,#00e2ff 233.5px,#0046ff 237.5px,#0031ff 238.5px,#0004ff 243.5px,#0000c6 260.5px,#0000ac 288.5px,#0000a7 332.5px,#0000ac 465.5px,#0000b8 479.5px,#0000de 496.5px,#0004ff 502.5px,#002dff 508.5px,#00a4ff 520.5px,#00f4ff 526.5px,#05fffa 527.5px,#79ff86 531.5px,#e2ff1d 534.5px,#fff500 535.5px,#ff8b00 537.5px,#ff0e00 539.5px,#e10000 540.5px,#9b0000 542.5px,#8f0000 543.5px,#8f0000 559px)"></i>
<i style="height:1px;background:linear-gradient(90deg,#0000ee 0px,#0000fc 30.5px,#0024ff 50.5px,#0047ff 61.5px,#009bff 74.5px,#00ceff 83.5px,#03fffc 89.5px,#feff01 116.5px,#ffa200 124.5px,#ff7500 132.5px,#ff6800 139.5px,#ff7a00 145.5px,#fbff04 163.5px,#48ffb7 180.5px,#03fffc 187.5px,#00c4ff 197.5px,#009aff 212.5px,#008fff 221.5px,#009dff 222.5px,#00f7ff 225.5px,#19ffe6 226.5px,#52ffad 228.5px,#52ffad 229.5px,#37ffc8 230.5px,#13ffec 231.5px,#00e7ff 232.5px,#0070ff 235.5px,#004aff 236.5px,#0032ff 237.5px,#0005ff 242.5px,#0000d5 254.5px,#0000c2 263.5px,#0000ac 288.5px,#0000a7 338.5px,#0000ac 462.5px,#0000b9 477.5px,#0000e1 494.5px,#0001ff 499.5px,#0031ff 506.5px,#009eff 517.5px,#00f9ff 524.5px,#0efff1 525.5px,#7fff80 529.5px,#e6ff19 532.5px,#fff100 533.5px,#ff8a00 535.5px,#ff1000 537.5px,#e30000 538.5px,#9f0000 540.5px,#8f0000 541.5px,#8f0000 559px)"></i>
<i style="height:1px;background:linear-gradient(90deg,#0000ee 0px,#0000fc 30.5px,#0024ff 50.5px,#0046ff 61.5px,#009aff 74.5px,#00cdff 83.5px,#02fffd 89.5px,#feff01 116.5px,#ffa200 124.5px,#ff7500 132.5px,#ff6700 138.5px,#ff7c00 145.5px,#fffc00 162.5px,#27ffd8 183.5px,#00ffff 187.5px,#00c3ff 197.5px,#009bff 211.5px,#0090ff 220.5px,#009cff 221.5px,#00f5ff 224.5px,#18ffe7 225.5px,#52ffad 227.5px,#56ffa9 228.5px,#19ffe6 230.5px,#00ecff 231.5px,#0073ff 234.5px,#004dff 235.5px,#0033ff 236.5px,#0006ff 241.5px,#0000eb 247.5px,#0000c6 260.5px,#0000ad 287.5px,#0000a8 332.5px,#0000ac 459.5px,#0000b9 474.5px,#0000df 491.5px,#0004ff 497.5px,#002cff 503.5px,#00a4ff 515.5px,#00fdff 522.5px,#69ff96 526.5px,#e9ff16 530.5px,#ffed00 531.5px,#ff8900 533.5px,#ff1200 535.5px,#e60000 536.5px,#a20000 538.5px,#8f0000 539.5px,#8f0000 559px)"></i>
<i style="height:1px;background:linear-gradient(90deg,#0000ee 0px,#0000fc 30.5px,#0024ff 50.5px,#0046ff 61.5px,#009aff 74.5px,#00cdff 83.5px,#02fffd 89.5px,#feff01 116.5px,#ffa200 124.5px,#ff7600 132.5px,#ff6800 138.5px,#ff7e00 145.5px,#ffff00 162.5px,#41ffbe 180.5px,#00fcff 187.5px,#00c5ff 196.5px,#009bff 211.5px,#0091ff 219.5px,#009aff 220.5px,#00f3ff 223.5px,#16ffe9 224.5px,#51ffae 226.5px,#5affa5 227.5px,#1fffe0 229.5px,#00f1ff 230.5px,#009dff 232.5px,#0051ff 234.5px,#0035ff 235.5px,#0007ff 240.5px,#0000f5 244.5px,#0000c8 258.5px,#0000ae 285.5px,#0000a8 322.5px,#0000ac 456.5px,#0000b9 471.5px,#0000e2 489.5px,#0001ff 494.5px,#0030ff 501.5px,#00abff 513.5px,#04fffb 520.5px,#8bff74 525.5px,#ecff13 528.5px,#ffea00 529.5px,#ff8900 531.5px,#ff1500 533.5px,#e90000 534.5px,#a60000 536.5px,#8f0000 537.5px,#8f0000 559px)"></i>
<i style="height:1px;background:linear-gradient(90deg,#0000ee 0px,#0000fb 30.5px,#0023ff 50.5px,#0045ff 61.5px,#0099ff 74.5px,#00ccff 83.5px,#01fffe 89.5px,#fdff02 116.5px,#ffa200 124.5px,#ff7600 132.5px,#ff6900 138.5px,#ff7f00 145.5px,#fbff04 162.5px,#3dffc2 180.5px,#01fffe 186.5px,#00c4ff 196.5px,#009cff 210.5px,#0092ff 218.5px,#0098ff 219.5px,#00f1ff 222.5px,#14ffeb 223.5px,#50ffaf 225.5px,#5fffa0 226.5px,#25ffda 228.5px,#00f7ff 229.5px,#00a1ff 231.5px,#0056ff 233.5px,#0036ff 234.5px,#0008ff 239.5px,#0000f6 243.5px,#0000c9 257.5px,#0000af 284.5px,#0000a8 319.5px,#0000ac 453.5px,#0000b8 468.5px,#0000e0 486.5px,#0004ff 492.5px,#002aff 498.5px,#00b0ff 511.5px,#00f8ff 517.5px,#0bfff4 518.5px,#90ff6f 523.5px,#efff10 526.5px,#ffe800 527.5px,#ff8900 529.5px,#ff1800 531.5px,#eb0000 532.5px,#aa0000 534.5px,#8f0000 535.5px,#8f0000 559px)"></i>
<i style="height:1px;background:linear-gradient(90deg,#0000ee 0px,#0000fb 30.5px,#0023ff 50.5px,#0045ff 61.5px,#0099ff 74.5px,#00ccff 83.5px,#01fffe 89.5px,#fdff02 116.5px,#ffa300 124.5px,#ff7700 132.5px,#ff6a00 138.5px,#ff8100 145.5px,#fffc00 161.5px,#07fff8 185.5px,#00f7ff 187.5px,#00c2ff 196.5px,#009dff 209.5px,#0095ff 218.5px,#00efff 221.5px,#12ffed 222.5px,#4fffb0 224.5px,#64ff9b 225.5px,#2bffd4 227.5px,#00fdff 228.5px,#00a6ff 230.5px,#0038ff 233.5px,#0009ff 238.5px,#0000f7 242.5px,#0000cb 256.5px,#0000af 283.5px,#0000a9 316.5px,#0000ac 450.5px,#0000b8 465.5px,#0000de 483.5px,#0001ff 489.5px,#002fff 496.5px,#00b6ff 509.5px,#00fcff 515.5px,#2bffd4 517.5px,#94ff6b 521.5px,#f1ff0e 524.5px,#ffe600 525.5px,#ff8900 527.5px,#ff1c00 529.5px,#ee0000 530.5px,#ad0000 532.5px,#930000 533.5px,#8f0000 541.5px,#8f0000 559px)"></i>
<i style="height:1px;background:linear-gradient(90deg,#0000ee 0px,#0000fb 30.5px,#0023ff 50.5px,#0045ff 61.5px,#0098ff 74.5px,#00cbff 83.5px,#00ffff 89.5px,#fdff02 116.5px,#ffa300 124.5px,#ff7700 132.5px,#ff6b00 138.5px,#ff8300 145.5px,#fff700 160.5px,#ffff00 161.5px,#36ffc9 180.5px,#03fffc 185.5px,#00c4ff 195.5px,#009cff 209.5px,#0093ff 217.5px,#00ecff 220.5px,#10ffef 221.5px,#4effb1 223.5px,#69ff96 224.5px,#32ffcd 226.5px,#04fffb 227.5px,#0085ff 230.5px,#0039ff 232.5px,#000aff 237.5px,#0000f8 241.5px,#0000cc 255.5px,#0000b0 282.5px,#0000a9 314.5px,#0000ac 446.5px,#0000b8 462.5px,#0000e1 481.5px,#0005ff 487.5px,#0029ff 493.5px,#00c6ff 508.5px,#00ffff 513.5px,#98ff67 519.5px,#f3ff0c 522.5px,#ffe400 523.5px,#ff8a00 525.5px,#ff2000 527.5px,#f20000 528.5px,#b10000 530.5px,#980000 531.5px,#8f0000 532.5px,#8f0000 559px)"></i>
<i style="height:1px;background:linear-gradient(90deg,#0000ee 0px,#0000fb 30.5px,#0025ff 51.5px,#0044ff 61.5px,#0098ff 74.5px,#00cbff 83.5px,#00ffff 89.5px,#fdff02 116.5px,#ffa300 124.5px,#ff7700 132.5px,#ff6c00 138.5px,#ff7d00 144.5px,#ffd800 156.5px,#fcff03 161.5px,#32ffcd 180.5px,#00ffff 185.5px,#00c3ff 195.5px,#009dff 208.5px,#0093ff 216.5px,#00e9ff 219.5px,#0dfff2 220.5px,#4dffb2 222.5px,#68ff97 223.5px,#37ffc8 225.5px,#0bfff4 226.5px,#00dbff 227.5px,#0064ff 230.5px,#003eff 231.5px,#000cff 236.5px,#0000fa 240.5px,#0000cd 254.5px,#0000b1 281.5px,#0000aa 312.5px,#0000ac 443.5px,#0000b8 459.5px,#0000df 478.5px,#0002ff 484.5px,#002eff 491.5px,#00d6ff 507.5px,#00f7ff 510.5px,#07fff8 511.5px,#7fff80 516.5px,#f4ff0b 520.5px,#ffe300 521.5px,#ff8b00 523.5px,#ff2400 525.5px,#f50000 526.5px,#b50000 528.5px,#9c0000 529.5px,#8f0000 530.5px,#8f0000 559px)"></i>
<i style="height:1px;background:linear-gradient(90deg,#0000ee 0px,#0000fb 30.5px,#0025ff 51.5px,#0044ff 61.5px,#0098ff 74.5px,#00caff 83.5px,#00feff 89.5px,#fdff02 116.5px,#ffa300 124.5px,#ff7a00 131.5px,#ff6d00 138.5px,#ff7f00 144.5px,#ffdb00 156.5px,#fffc00 160.5px,#06fff9 184.5px,#00efff 187.5px,#00c5ff 194.5px,#009dff 208.5px,#0094ff 215.5px,#00c9ff 217.5px,#00e7ff 218.5px,#0afff5 219.5px,#4bffb4 221.5px,#67ff98 222.5px,#58ffa7 223.5px,#3dffc2 224.5px,#12ffed 225.5px,#00e2ff 226.5px,#008fff 228.5px,#0043ff 230.5px,#002aff 232.5px,#0008ff 236.5px,#0000fb 239.5px,#0000ce 253.5px,#0000b1 280.5px,#0000aa 311.5px,#0000ac 440.5px,#0000b8 456.5px,#0000dd 475.5px,#0000fe 481.5px,#0028ff 488.5px,#00faff 508.5px,#0cfff3 509.5px,#82ff7d 514.5px,#f5ff0a 518.5px,#ffe300 519.5px,#ff5c00 522.5px,#ff2900 523.5px,#f80000 524.5px,#a10000 527.5px,#8f0000 528.5px,#8f0000 559px)"></i>
<i style="height:1px;background:linear-gradient(90deg,#0000ee 0px,#0000fb 30.5px,#0025ff 51.5px,#0043ff 61.5px,#0097ff 74.5px,#00caff 83.5px,#00feff 89.5px,#fdff02 116.5px,#ffa300 124.5px,#ff7b00 131.5px,#ff6e00 138.5px,#ff8100 144.5px,#ffd500 155.5px,#ffff00 160.5px,#20ffdf 181.5px,#02fffd 184.5px,#00c3ff 194.5px,#009eff 207.5px,#0095ff 214.5px,#00a8ff 215.5px,#00e4ff 217.5px,#07fff8 218.5px,#4affb5 220.5px,#65ff9a 221.5px,#5effa1 222.5px,#42ffbd 223.5px,#1affe5 224.5px,#00e9ff 225.5px,#00baff 226.5px,#0049ff 229.5px,#0035ff 230.5px,#0009ff 235.5px,#0000f8 239.5px,#0000ce 253.5px,#0000b2 279.5px,#0000ab 309.5px,#0000ac 437.5px,#0000b8 453.5px,#0000e1 473.5px,#0002ff 479.5px,#002dff 486.5px,#00fcff 506.5px,#28ffd7 508.5px,#a0ff5f 513.5px,#f5ff0a 516.5px,#ffe400 517.5px,#ff6100 520.5px,#fc0000 522.5px,#a50000 525.5px,#8f0000 526.5px,#8f0000 559px)"></i>
<i style="height:1px;background:linear-gradient(90deg,#0000ee 0px,#0000fb 30.5px,#0024ff 51.5px,#0043ff 61.5px,#0097ff 74.5px,#00c9ff 83.5px,#00fdff 89.5px,#fdff02 116.5px,#ffa300 124.5px,#ff7b00 131.5px,#ff6d00 137.5px,#ff8200 144.5px,#ffcf00 154.5px,#fcff03 160.5px,#27ffd8 180.5px,#00feff 184.5px,#00c5ff 193.5px,#009fff 206.5px,#0096ff 213.5px,#00a5ff 214.5px,#03fffc 217.5px,#48ffb7 219.5px,#63ff9c 220.5px,#64ff9b 221.5px,#48ffb7 222.5px,#22ffdd 223.5px,#00f0ff 224.5px,#00c0ff 225.5px,#004eff 228.5px,#0036ff 229.5px,#000bff 234.5px,#0000fa 238.5px,#0000ce 253.5px,#0000b3 278.5px,#0000ab 308.5px,#0000ac 434.5px,#0000b9 451.5px,#0000de 470.5px,#0000ff 476.5px,#0027ff 483.5px,#00fdff 504.5px,#85ff7a 510.5px,#f3ff0c 514.5px,#ffe700 515.5px,#ff6600 518.5px,#ff0300 520.5px,#920000 524.5px,#920000 557.5px,#a60000 559px)"></i>
<i style="height:1px;background:linear-gradient(90deg,#0000ee 0px,#0000fb 30.5px,#0024ff 51.5px,#0042ff 61.5px,#0096ff 74.5px,#00c9ff 83.5px,#00fdff 89.5px,#fdff02 116.5px,#ffa300 124.5px,#ff7c00 131.5px,#ff6e00 137.5px,#ff8400 144.5px,#ffc800 153.5px,#fffc00 159.5px,#04fffb 183.5px,#00c4ff 193.5px,#009fff 206.5px,#0097ff 212.5px,#00a1ff 213.5px,#00feff 216.5px,#46ffb9 218.5px,#62ff9d 219.5px,#69ff96 220.5px,#2affd5 222.5px,#00f8ff 223.5px,#00c7ff 224.5px,#0054ff 227.5px,#0038ff 228.5px,#000cff 233.5px,#0000fb 237.5px,#0000cf 252.5px,#0000b3 277.5px,#0000ab 306.5px,#0000ac 430.5px,#0000b9 448.5px,#0000e2 468.5px,#0002ff 474.5px,#002aff 481.5px,#00feff 502.5px,#85ff7a 508.5px,#f2ff0d 512.5px,#ffea00 513.5px,#ff6d00 516.5px,#ff0b00 518.5px,#e80000 519.5px,#980000 522.5px,#8f0000 523.5px,#8f0000 555.5px,#960000 556.5px,#c10000 559px)"></i>
<i style="height:1px;background:linear-gradient(90deg,#0000ee 0px,#0000fb 30.5px,#0024ff 51.5px,#0042ff 61.5px,#0096ff 74.5px,#00c9ff 83.5px,#00fcff 89.5px,#fdff02 116.5px,#ffa400 124.5px,#ff7c00 131.5px,#ff6f00 137.5px,#ff8600 144.5px,#ffcb00 153.5px,#fffe00 159.5px,#0afff5 182.5px,#00ffff 183.5px,#00c2ff 193.5px,#00a0ff 205.5px,#0098ff 211.5px,#009dff 212.5px,#00faff 215.5px,#5fffa0 218.5px,#6fff90 219.5px,#33ffcc 221.5px,#02fffd 222.5px,#00a6ff 224.5px,#005aff 226.5px,#003aff 227.5px,#000dff 232.5px,#0000fc 236.5px,#0000d1 251.5px,#0000b4 276.5px,#0000ac 304.5px,#0000ac 427.5px,#0000b9 445.5px,#0000df 465.5px,#0000ff 471.5px,#0024ff 478.5px,#00ffff 500.5px,#85ff7a 506.5px,#f0ff0f 510.5px,#ffee00 511.5px,#ff7300 514.5px,#ff1300 516.5px,#ee0000 517.5px,#b40000 519.5px,#9d0000 520.5px,#8f0000 521.5px,#8f0000 554.5px,#9b0000 555.5px,#e00000 559px)"></i>
<i style="height:1px;background:linear-gradient(90deg,#0000ed 0px,#0000fb 30.5px,#0024ff 51.5px,#0041ff 61.5px,#0095ff 74.5px,#00c8ff 83.5px,#00fbff 89.5px,#fdff02 116.5px,#ffa400 124.5px,#ff7c00 131.5px,#ff7000 137.5px,#ff8700 144.5px,#ffc400 152.5px,#fcff03 159.5px,#10ffef 181.5px,#00fcff 183.5px,#00c4ff 192.5px,#009fff 205.5px,#009aff 211.5px,#00f5ff 214.5px,#1cffe3 215.5px,#41ffbe 216.5px,#76ff89 218.5px,#3dffc2 220.5px,#0afff5 221.5px,#00d7ff 222.5px,#0060ff 225.5px,#003cff 226.5px,#000eff 231.5px,#0000fa 236.5px,#0000d2 250.5px,#0000b5 275.5px,#0000ac 302.5px,#0000ac 424.5px,#0000b9 442.5px,#0000dd 462.5px,#0002ff 469.5px,#0028ff 476.5px,#02fffd 498.5px,#9eff61 505.5px,#edff12 508.5px,#fff200 509.5px,#ff7b00 512.5px,#ff1c00 514.5px,#f30000 515.5px,#a20000 518.5px,#8f0000 519.5px,#8f0000 553.5px,#b20000 555.5px,#ff0000 559px)"></i>
<i style="height:1px;background:linear-gradient(90deg,#0000ed 0px,#0000fb 30.5px,#0023ff 51.5px,#0041ff 61.5px,#0095ff 74.5px,#00c8ff 83.5px,#00fbff 89.5px,#40ffbf 96.5px,#fdff02 116.5px,#ffa400 124.5px,#ff7d00 131.5px,#ff7100 137.5px,#ff8200 143.5px,#ffc600 152.5px,#fffb00 158.5px,#b6ff49 165.5px,#02fffd 182.5px,#00c3ff 192.5px,#00a0ff 204.5px,#0099ff 210.5px,#00f1ff 213.5px,#18ffe7 214.5px,#3effc1 215.5px,#77ff88 217.5px,#44ffbb 219.5px,#14ffeb 220.5px,#00e0ff 221.5px,#008cff 223.5px,#0041ff 225.5px,#0010ff 230.5px,#0000fb 235.5px,#0000d2 250.5px,#0000b5 274.5px,#0000ad 301.5px,#0000ac 421.5px,#0000b8 439.5px,#0000e0 460.5px,#0004ff 467.5px,#002bff 474.5px,#03fffc 496.5px,#9dff62 503.5px,#eaff15 506.5px,#fff700 507.5px,#ff8200 510.5px,#ff2500 512.5px,#f90000 513.5px,#a80000 516.5px,#920000 517.5px,#8f0000 552.5px,#d10000 555.5px,#ff0700 557.5px,#ff2a00 559px)"></i>
<i style="height:1px;background:linear-gradient(90deg,#0000ed 0px,#0000fb 30.5px,#0023ff 51.5px,#0040ff 61.5px,#0095ff 74.5px,#00c7ff 83.5px,#05fffa 90.5px,#fdff02 116.5px,#ffa400 124.5px,#ff7d00 131.5px,#ff7200 137.5px,#ff8400 143.5px,#ffc000 151.5px,#fffe00 158.5px,#08fff7 181.5px,#00feff 182.5px,#00c5ff 191.5px,#00a1ff 203.5px,#009aff 209.5px,#00b0ff 210.5px,#00edff 212.5px,#13ffec 213.5px,#58ffa7 215.5px,#74ff8b 216.5px,#67ff98 217.5px,#4bffb4 218.5px,#1dffe2 219.5px,#00e9ff 220.5px,#00b9ff 221.5px,#0047ff 224.5px,#002eff 226.5px,#000dff 230.5px,#0000f9 235.5px,#0000d3 249.5px,#0000b6 273.5px,#0000ad 300.5px,#0000ac 418.5px,#0000b8 436.5px,#0000dd 457.5px,#0001ff 464.5px,#002eff 472.5px,#03fffc 494.5px,#9bff64 501.5px,#fffc00 505.5px,#ff8900 508.5px,#ff0100 511.5px,#ae0000 514.5px,#990000 515.5px,#8f0000 516.5px,#930000 551.5px,#d60000 554.5px,#ef0000 555.5px,#ff0e00 556.5px,#ff5500 559px)"></i>
<i style="height:1px;background:linear-gradient(90deg,#0000ed 0px,#0000fa 30.5px,#0023ff 51.5px,#0040ff 61.5px,#009aff 75.5px,#00cfff 84.5px,#04fffb 90.5px,#fdff02 116.5px,#ffa400 124.5px,#ff7e00 131.5px,#ff7300 137.5px,#ff8500 143.5px,#ffc200 151.5px,#fcff03 158.5px,#04fffb 181.5px,#00c3ff 191.5px,#00a1ff 203.5px,#009bff 208.5px,#00acff 209.5px,#00e9ff 211.5px,#0dfff2 212.5px,#55ffaa 214.5px,#71ff8e 215.5px,#6eff91 216.5px,#51ffae 217.5px,#28ffd7 218.5px,#00f3ff 219.5px,#00c0ff 220.5px,#004eff 223.5px,#0039ff 224.5px,#000eff 229.5px,#0000fa 234.5px,#0000d4 248.5px,#0000b6 273.5px,#0000ad 300.5px,#0000ac 415.5px,#0000b9 434.5px,#0000e0 455.5px,#0003ff 462.5px,#0028ff 469.5px,#04fffb 492.5px,#98ff67 499.5px,#fdff02 503.5px,#ff6700 507.5px,#ff0c00 509.5px,#eb0000 510.5px,#9f0000 513.5px,#8f0000 514.5px,#8f0000 549.5px,#960000 550.5px,#db0000 553.5px,#f40000 554.5px,#ff1400 555.5px,#ff7f00 559px)"></i>
<i style="height:1px;background:linear-gradient(90deg,#0000ed 0px,#0000fa 30.5px,#0022ff 51.5px,#003fff 61.5px,#0099ff 75.5px,#00cfff 84.5px,#03fffc 90.5px,#fcff03 116.5px,#ffa400 124.5px,#ff7e00 131.5px,#ff7400 137.5px,#ff8700 143.5px,#ffbb00 150.5px,#fffb00 157.5px,#ccff33 162.5px,#00ffff 181.5px,#00c5ff 190.5px,#00a2ff 202.5px,#009cff 207.5px,#00a7ff 208.5px,#00e5ff 210.5px,#08fff7 211.5px,#52ffad 213.5px,#6eff91 214.5px,#75ff8a 215.5px,#58ffa7 216.5px,#33ffcc 217.5px,#00fdff 218.5px,#00c9ff 219.5px,#0056ff 222.5px,#003bff 223.5px,#000fff 228.5px,#0000fc 233.5px,#0000d4 248.5px,#0000b7 272.5px,#0000ae 298.5px,#0000ac 411.5px,#0000b9 431.5px,#0000dd 452.5px,#0000ff 459.5px,#002aff 467.5px,#04fffb 490.5px,#96ff69 497.5px,#f9ff06 501.5px,#ffe300 502.5px,#ff7000 505.5px,#ff1700 507.5px,#f20000 508.5px,#a50000 511.5px,#910000 512.5px,#8f0000 548.5px,#9a0000 549.5px,#f90000 553.5px,#ff1b00 554.5px,#ff8300 557.5px,#ff9b00 559px)"></i>
<i style="height:1px;background:linear-gradient(90deg,#0000ed 0px,#0000fa 30.5px,#001dff 49.5px,#003fff 61.5px,#0099ff 75.5px,#00ceff 84.5px,#03fffc 90.5px,#fcff03 116.5px,#ffa500 124.5px,#ff7f00 131.5px,#ff7500 137.5px,#ff8900 143.5px,#ffbd00 150.5px,#fffe00 157.5px,#07fff8 180.5px,#00f6ff 182.5px,#00c4ff 190.5px,#00a3ff 201.5px,#009dff 206.5px,#00a2ff 207.5px,#01fffe 210.5px,#4effb1 212.5px,#6bff94 213.5px,#7cff83 214.5px,#3effc1 216.5px,#09fff6 217.5px,#00d3ff 218.5px,#005dff 221.5px,#003dff 222.5px,#0011ff 227.5px,#0000fa 233.5px,#0000d5 247.5px,#0000b8 271.5px,#0000ae 297.5px,#0000ac 408.5px,#0000b9 428.5px,#0000e0 450.5px,#0002ff 457.5px,#002dff 465.5px,#03fffc 488.5px,#93ff6c 495.5px,#f5ff0a 499.5px,#ffe900 500.5px,#ff7b00 503.5px,#ff2200 505.5px,#f90000 506.5px,#970000 510.5px,#8f0000 511.5px,#8f0000 547.5px,#b10000 549.5px,#fd0000 552.5px,#ff8700 556.5px,#ffb700 559px)"></i>
<i style="height:1px;background:linear-gradient(90deg,#0000ed 0px,#0000fc 31.5px,#0024ff 52.5px,#003fff 61.5px,#0098ff 75.5px,#00ceff 84.5px,#02fffd 90.5px,#fcff03 116.5px,#ffa500 124.5px,#ff7f00 131.5px,#ff7600 137.5px,#ff8a00 143.5px,#ffbf00 150.5px,#fdff02 157.5px,#02fffd 180.5px,#00c2ff 190.5px,#00a3ff 201.5px,#009dff 206.5px,#00faff 209.5px,#4bffb4 211.5px,#83ff7c 213.5px,#4bffb4 215.5px,#15ffea 216.5px,#00dfff 217.5px,#008bff 219.5px,#003fff 221.5px,#0012ff 226.5px,#0000fb 232.5px,#0000d7 246.5px,#0000b8 270.5px,#0000af 295.5px,#0000ac 406.5px,#0000b9 426.5px,#0000e0 448.5px,#0002ff 455.5px,#002dff 463.5px,#03fffc 486.5px,#90ff6f 493.5px,#f1ff0e 497.5px,#fff100 498.5px,#ff8400 501.5px,#ff0300 504.5px,#9e0000 508.5px,#8f0000 509.5px,#8f0000 546.5px,#b50000 548.5px,#ff0400 551.5px,#ff6e00 554.5px,#ffbb00 557.5px,#ffd200 559px)"></i>
<i style="height:1px;background:linear-gradient(90deg,#0000ed 0px,#0000fc 31.5px,#0024ff 52.5px,#003eff 61.5px,#0098ff 75.5px,#00cdff 84.5px,#02fffd 90.5px,#fcff03 116.5px,#ffac00 123.5px,#ff8200 130.5px,#ff7700 137.5px,#ff8c00 143.5px,#ffc200 150.5px,#fffb00 156.5px,#d7ff28 160.5px,#00feff 180.5px,#00c4ff 189.5px,#00a4ff 200.5px,#009dff 205.5px,#00d5ff 207.5px,#00f4ff 208.5px,#1cffe3 209.5px,#44ffbb 210.5px,#80ff7f 212.5px,#6fff90 213.5px,#52ffad 214.5px,#21ffde 215.5px,#00eaff 216.5px,#00b9ff 217.5px,#0047ff 220.5px,#0027ff 223.5px,#0010ff 226.5px,#0000f9 232.5px,#0000d6 246.5px,#0000b9 269.5px,#0000af 294.5px,#0000ac 404.5px,#0000b8 424.5px,#0000de 446.5px,#0001ff 453.5px,#002aff 461.5px,#00f7ff 483.5px,#02fffd 484.5px,#8dff72 491.5px,#ecff13 495.5px,#fff800 496.5px,#ff6500 500.5px,#ff0f00 502.5px,#ee0000 503.5px,#a50000 506.5px,#910000 507.5px,#900000 545.5px,#d30000 548.5px,#ec0000 549.5px,#ff0900 550.5px,#ff7400 553.5px,#ffee00 559px)"></i>
<i style="height:1px;background:linear-gradient(90deg,#0000ed 0px,#0000fc 31.5px,#0024ff 52.5px,#003eff 61.5px,#0097ff 75.5px,#00cdff 84.5px,#01fffe 90.5px,#fcff03 116.5px,#ffac00 123.5px,#ff8200 130.5px,#ff7600 136.5px,#ff8700 142.5px,#ffba00 149.5px,#fffe00 156.5px,#05fffa 179.5px,#00d9ff 185.5px,#00bfff 190.5px,#00a3ff 200.5px,#009fff 204.5px,#00b0ff 205.5px,#00efff 207.5px,#15ffea 208.5px,#5fffa0 210.5px,#7cff83 211.5px,#77ff88 212.5px,#5affa5 213.5px,#2effd1 214.5px,#00f7ff 215.5px,#00c2ff 216.5px,#0050ff 219.5px,#003bff 220.5px,#0011ff 225.5px,#0000fb 231.5px,#0000d8 245.5px,#0000ba 268.5px,#0000b0 293.5px,#0000ac 402.5px,#0000b8 422.5px,#0000e2 445.5px,#0004ff 452.5px,#0027ff 459.5px,#00daff 478.5px,#00feff 482.5px,#86ff79 489.5px,#fdff02 494.5px,#ff7200 498.5px,#ff1d00 500.5px,#f70000 501.5px,#980000 505.5px,#8f0000 506.5px,#8f0000 543.5px,#930000 544.5px,#d70000 547.5px,#f00000 548.5px,#ff0f00 549.5px,#ff7900 552.5px,#fff100 557.5px,#f6ff09 559px)"></i>
<i style="height:1px;background:linear-gradient(90deg,#0000ed 0px,#0000fc 31.5px,#0024ff 52.5px,#003dff 61.5px,#0097ff 75.5px,#00ccff 84.5px,#00ffff 90.5px,#fcff03 116.5px,#ffac00 123.5px,#ff8300 130.5px,#ff7700 136.5px,#ff8800 142.5px,#ffb300 148.5px,#fdff02 156.5px,#00ffff 179.5px,#00c5ff 188.5px,#00a4ff 199.5px,#00a0ff 203.5px,#00aaff 204.5px,#00e9ff 206.5px,#0dfff2 207.5px,#5bffa4 209.5px,#77ff88 210.5px,#7fff80 211.5px,#62ff9d 212.5px,#3cffc3 213.5px,#05fffa 214.5px,#00ccff 215.5px,#0059ff 218.5px,#003dff 219.5px,#0013ff 224.5px,#0000fc 230.5px,#0000d8 245.5px,#0000ba 268.5px,#0000b0 293.5px,#0000ac 401.5px,#0000b9 421.5px,#0000e0 443.5px,#0002ff 450.5px,#0024ff 457.5px,#00faff 480.5px,#09fff6 481.5px,#95ff6a 488.5px,#f3ff0c 492.5px,#ffed00 493.5px,#ff8200 496.5px,#ff0200 499.5px,#9f0000 503.5px,#8f0000 504.5px,#8f0000 542.5px,#960000 543.5px,#db0000 546.5px,#f40000 547.5px,#ff1400 548.5px,#ff7f00 551.5px,#fff500 556.5px,#f3ff0c 557.5px,#ddff22 559px)"></i>
<i style="height:1px;background:linear-gradient(90deg,#0000ed 0px,#0000fc 31.5px,#0023ff 52.5px,#003dff 61.5px,#0097ff 75.5px,#00ccff 84.5px,#00ffff 90.5px,#fcff03 116.5px,#ffac00 123.5px,#ff8300 130.5px,#ff7800 136.5px,#ff8a00 142.5px,#ffb500 148.5px,#fffa00 155.5px,#e3ff1c 158.5px,#00fdff 179.5px,#00c3ff 188.5px,#00a5ff 198.5px,#00a4ff 203.5px,#05fffa 206.5px,#56ffa9 208.5px,#73ff8c 209.5px,#87ff78 210.5px,#4affb5 212.5px,#12ffed 213.5px,#00daff 214.5px,#0087ff 216.5px,#0040ff 218.5px,#0014ff 223.5px,#0000fb 230.5px,#0000d7 245.5px,#0000bb 267.5px,#0000b0 291.5px,#0000ac 399.5px,#0000b8 419.5px,#0000de 441.5px,#0000ff 448.5px,#0029ff 456.5px,#00ffff 479.5px,#8bff74 486.5px,#fffb00 491.5px,#ff6800 495.5px,#ff1300 497.5px,#f00000 498.5px,#a70000 501.5px,#930000 502.5px,#8f0000 541.5px,#990000 542.5px,#f80000 546.5px,#ff1a00 547.5px,#ff8300 550.5px,#fff900 555.5px,#daff25 557.5px,#c5ff3a 559px)"></i>
<i style="height:1px;background:linear-gradient(90deg,#0000ed 0px,#0000fc 31.5px,#0023ff 52.5px,#003cff 61.5px,#0096ff 75.5px,#00ccff 84.5px,#00feff 90.5px,#fcff03 116.5px,#ffac00 123.5px,#ff8400 130.5px,#ff7900 136.5px,#ff8c00 142.5px,#ffb700 148.5px,#fffd00 155.5px,#03fffc 178.5px,#00c2ff 188.5px,#00a5ff 198.5px,#00a0ff 202.5px,#00fcff 205.5px,#50ffaf 207.5px,#8bff74 209.5px,#56ffa9 211.5px,#20ffdf 212.5px,#00e7ff 213.5px,#00b6ff 214.5px,#0045ff 217.5px,#0016ff 222.5px,#0000fc 229.5px,#0000d9 244.5px,#0000bc 266.5px,#0000b1 290.5px,#0000ac 397.5px,#0000b9 418.5px,#0000e1 440.5px,#0003ff 447.5px,#0026ff 454.5px,#00fbff 477.5px,#0bfff4 478.5px,#98ff67 485.5px,#f8ff07 489.5px,#ffe600 490.5px,#ff7900 493.5px,#ff2300 495.5px,#fb0000 496.5px,#ae0000 499.5px,#9a0000 500.5px,#8f0000 501.5px,#8f0000 540.5px,#b00000 542.5px,#fc0000 545.5px,#ff8600 549.5px,#fffc00 554.5px,#adff52 559px)"></i>
<i style="height:1px;background:linear-gradient(90deg,#0000ed 0px,#0000fc 31.5px,#0023ff 52.5px,#003cff 61.5px,#0096ff 75.5px,#00cbff 84.5px,#00feff 90.5px,#fcff03 116.5px,#ffac00 123.5px,#ff8400 130.5px,#ff7a00 136.5px,#ff8d00 142.5px,#ffba00 148.5px,#fdff02 155.5px,#00feff 178.5px,#00c4ff 187.5px,#00a6ff 197.5px,#00a1ff 201.5px,#00b7ff 202.5px,#00f6ff 204.5px,#1effe1 205.5px,#48ffb7 206.5px,#86ff79 208.5px,#7cff83 209.5px,#5fffa0 210.5px,#2fffd0 211.5px,#00f5ff 212.5px,#00c0ff 213.5px,#004eff 216.5px,#003cff 217.5px,#0013ff 222.5px,#0000fb 229.5px,#0000d8 244.5px,#0000bc 265.5px,#0000b1 289.5px,#0000ab 395.5px,#0000b9 416.5px,#0000df 438.5px,#0002ff 445.5px,#002bff 453.5px,#02fffd 476.5px,#8eff71 483.5px,#eeff11 487.5px,#fff500 488.5px,#ff6000 492.5px,#ff0a00 494.5px,#eb0000 495.5px,#a20000 498.5px,#8f0000 499.5px,#8f0000 539.5px,#b30000 541.5px,#ff0000 544.5px,#ff8900 548.5px,#ffff00 553.5px,#95ff6a 559px)"></i>
<i style="height:1px;background:linear-gradient(90deg,#0000ec 0px,#0000fc 31.5px,#0022ff 52.5px,#003bff 61.5px,#0095ff 75.5px,#00cbff 84.5px,#00fdff 90.5px,#fcff03 116.5px,#ffac00 123.5px,#ff8500 130.5px,#ff7b00 136.5px,#ff8f00 142.5px,#ffbc00 148.5px,#fffa00 154.5px,#e3ff1c 157.5px,#05fffa 177.5px,#00e7ff 181.5px,#00c2ff 187.5px,#00a6ff 197.5px,#00a3ff 200.5px,#00b0ff 201.5px,#00efff 203.5px,#15ffea 204.5px,#64ff9b 206.5px,#81ff7e 207.5px,#85ff7a 208.5px,#68ff97 209.5px,#3fffc0 210.5px,#05fffa 211.5px,#00cbff 212.5px,#0058ff 215.5px,#003fff 216.5px,#0015ff 221.5px,#0000fc 228.5px,#0000d8 244.5px,#0000bc 265.5px,#0000b2 289.5px,#0000ac 394.5px,#0000b8 414.5px,#0000dd 436.5px,#0004ff 444.5px,#0028ff 451.5px,#00fcff 474.5px,#20ffdf 476.5px,#9bff64 482.5px,#fbff04 486.5px,#ff9800 489.5px,#ff1c00 492.5px,#f60000 493.5px,#aa0000 496.5px,#960000 497.5px,#8f0000 499.5px,#8f0000 538.5px,#d00000 541.5px,#ff0500 543.5px,#ff6f00 546.5px,#ffbc00 549.5px,#fcff03 552.5px,#7dff82 559px)"></i>
<i style="height:1px;background:linear-gradient(90deg,#0000ec 0px,#0000fc 31.5px,#0022ff 52.5px,#003bff 61.5px,#0095ff 75.5px,#00caff 84.5px,#00fdff 90.5px,#fcff03 116.5px,#ffac00 123.5px,#ff8500 130.5px,#ff7c00 136.5px,#ff9000 142.5px,#ffb400 147.5px,#fffd00 154.5px,#01fffe 177.5px,#00c4ff 186.5px,#00a7ff 196.5px,#00a4ff 199.5px,#00a9ff 200.5px,#00e8ff 202.5px,#0bfff4 203.5px,#5fffa0 205.5px,#7cff83 206.5px,#8eff71 207.5px,#4fffb0 209.5px,#15ffea 210.5px,#00daff 211.5px,#0088ff 213.5px,#0041ff 215.5px,#0016ff 220.5px,#0000fb 228.5px,#0000d8 244.5px,#0000bd 264.5px,#0000b2 288.5px,#0000ac 392.5px,#0000b9 413.5px,#0000e0 435.5px,#0002ff 442.5px,#002dff 450.5px,#03fffc 473.5px,#90ff6f 480.5px,#f1ff0e 484.5px,#fff000 485.5px,#ff8400 488.5px,#ff0300 491.5px,#9e0000 495.5px,#8f0000 496.5px,#900000 537.5px,#d30000 540.5px,#ed0000 541.5px,#ff0a00 542.5px,#ff7400 545.5px,#ffee00 550.5px,#f9ff06 551.5px,#7bff84 557.5px,#6cff93 559px)"></i>
<i style="height:1px;background:linear-gradient(90deg,#0000ec 0px,#0000fb 31.5px,#0022ff 52.5px,#003aff 61.5px,#0094ff 75.5px,#00caff 84.5px,#00fcff 90.5px,#fcff03 116.5px,#ffac00 123.5px,#ff8600 130.5px,#ff7d00 136.5px,#ff8b00 141.5px,#ffb700 147.5px,#fdff02 154.5px,#00fdff 177.5px,#00c3ff 186.5px,#00a8ff 195.5px,#00a4ff 199.5px,#02fffd 202.5px,#58ffa7 204.5px,#93ff6c 206.5px,#5dffa2 208.5px,#25ffda 209.5px,#00e9ff 210.5px,#00b8ff 211.5px,#0046ff 214.5px,#0018ff 219.5px,#0000fc 227.5px,#0000d8 244.5px,#0000be 263.5px,#0000b3 286.5px,#0000ab 390.5px,#0000b8 411.5px,#0000de 433.5px,#0000ff 440.5px,#0029ff 448.5px,#00fcff 471.5px,#21ffde 473.5px,#9dff62 479.5px,#feff01 483.5px,#ff6d00 487.5px,#ff1500 489.5px,#f20000 490.5px,#a70000 493.5px,#920000 494.5px,#930000 536.5px,#d60000 539.5px,#f00000 540.5px,#ff0e00 541.5px,#ff7800 544.5px,#fff100 549.5px,#f6ff09 550.5px,#79ff86 556.5px,#5bffa4 559px)"></i>
<i style="height:1px;background:linear-gradient(90deg,#0000ec 0px,#0000fb 31.5px,#0021ff 52.5px,#003aff 61.5px,#0094ff 75.5px,#00c9ff 84.5px,#00fcff 90.5px,#fcff03 116.5px,#ffac00 123.5px,#ff8600 130.5px,#ff7e00 136.5px,#ff8d00 141.5px,#ffb900 147.5px,#fff900 153.5px,#e3ff1c 156.5px,#03fffc 176.5px,#00c5ff 185.5px,#00a8ff 195.5px,#00a5ff 198.5px,#00baff 199.5px,#00faff 201.5px,#23ffdc 202.5px,#4fffb0 203.5px,#8eff71 205.5px,#84ff7b 206.5px,#67ff98 207.5px,#00faff 209.5px,#00c2ff 210.5px,#0050ff 213.5px,#003eff 214.5px,#0016ff 219.5px,#0000fb 227.5px,#0000d6 245.5px,#0000be 263.5px,#0000b3 286.5px,#0000ac 389.5px,#0000b9 410.5px,#0000e1 432.5px,#0003ff 439.5px,#002eff 447.5px,#03fffc 470.5px,#91ff6e 477.5px,#f2ff0d 481.5px,#ffed00 482.5px,#ff8000 485.5px,#fd0000 488.5px,#b00000 491.5px,#9b0000 492.5px,#8f0000 493.5px,#8f0000 534.5px,#950000 535.5px,#d90000 538.5px,#f30000 539.5px,#ff1300 540.5px,#ff7d00 543.5px,#fff400 548.5px,#f4ff0b 549.5px,#77ff88 555.5px,#4affb5 559px)"></i>
<i style="height:1px;background:linear-gradient(90deg,#0000ec 0px,#0000fb 31.5px,#0021ff 52.5px,#0039ff 61.5px,#0094ff 75.5px,#00c9ff 84.5px,#00fbff 90.5px,#57ffa8 99.5px,#fcff03 116.5px,#ffad00 123.5px,#ff8600 130.5px,#ff7d00 135.5px,#ff8f00 141.5px,#ffbb00 147.5px,#fffd00 153.5px,#00feff 176.5px,#00c3ff 185.5px,#00a9ff 194.5px,#00a6ff 197.5px,#00b2ff 198.5px,#00f2ff 200.5px,#18ffe7 201.5px,#6bff94 203.5px,#88ff77 204.5px,#8eff71 205.5px,#70ff8f 206.5px,#47ffb8 207.5px,#0bfff4 208.5px,#00cfff 209.5px,#005bff 212.5px,#0041ff 213.5px,#0018ff 218.5px,#0000fd 226.5px,#0000d5 245.5px,#0000be 263.5px,#0000b3 286.5px,#0000ab 387.5px,#0000b9 408.5px,#0000df 430.5px,#0001ff 437.5px,#002aff 445.5px,#00fcff 468.5px,#21ffde 470.5px,#9eff61 476.5px,#ffff00 480.5px,#ff6900 484.5px,#ff1100 486.5px,#ef0000 487.5px,#a40000 490.5px,#900000 491.5px,#8f0000 533.5px,#970000 534.5px,#f60000 538.5px,#ff1700 539.5px,#ff8100 542.5px,#fff800 547.5px,#dbff24 549.5px,#75ff8a 554.5px,#38ffc7 559px)"></i>
<i style="height:1px;background:linear-gradient(90deg,#0000ec 0px,#0000fb 31.5px,#0021ff 52.5px,#0039ff 61.5px,#0093ff 75.5px,#00c8ff 84.5px,#00fbff 90.5px,#24ffdb 94.5px,#fbff04 116.5px,#ffad00 123.5px,#ff8700 130.5px,#ff7e00 135.5px,#ff9000 141.5px,#ffb300 146.5px,#feff01 153.5px,#06fff9 175.5px,#00edff 178.5px,#00c2ff 185.5px,#00a9ff 193.5px,#00aaff 197.5px,#00ebff 199.5px,#0efff1 200.5px,#65ff9a 202.5px,#98ff67 204.5px,#59ffa6 206.5px,#1dffe2 207.5px,#00e0ff 208.5px,#00b1ff 209.5px,#0044ff 212.5px,#0019ff 217.5px,#0000fc 226.5px,#0000d3 246.5px,#0000bd 264.5px,#0000b3 287.5px,#0000ac 386.5px,#0000b9 407.5px,#0000e1 429.5px,#0003ff 436.5px,#002fff 444.5px,#02fffd 467.5px,#91ff6e 474.5px,#f3ff0c 478.5px,#ffec00 479.5px,#ff7e00 482.5px,#fc0000 485.5px,#ae0000 488.5px,#990000 489.5px,#8f0000 490.5px,#8f0000 532.5px,#990000 533.5px,#f90000 537.5px,#ff1b00 538.5px,#ff8400 541.5px,#fffb00 546.5px,#82ff7d 552.5px,#26ffd9 559px)"></i>
<i style="height:1px;background:linear-gradient(90deg,#0000ec 0px,#0000fb 31.5px,#0020ff 52.5px,#0038ff 61.5px,#0093ff 75.5px,#00c8ff 84.5px,#04fffb 91.5px,#e8ff17 114.5px,#fbff04 116.5px,#ffad00 123.5px,#ff8700 130.5px,#ff7f00 135.5px,#ff9200 141.5px,#ffb500 146.5px,#fff900 152.5px,#efff10 154.5px,#01fffe 175.5px,#00c4ff 184.5px,#00aaff 192.5px,#00a7ff 196.5px,#04fffb 199.5px,#5cffa3 201.5px,#99ff66 203.5px,#84ff7b 204.5px,#67ff98 205.5px,#2fffd0 206.5px,#00f1ff 207.5px,#00bcff 208.5px,#004bff 211.5px,#001bff 216.5px,#0000fe 225.5px,#0000d1 247.5px,#0000b8 270.5px,#0000ab 383.5px,#0000b9 405.5px,#0000df 427.5px,#0001ff 434.5px,#002aff 442.5px,#00fbff 465.5px,#0bfff4 466.5px,#9dff62 473.5px,#ffff00 477.5px,#ff6800 481.5px,#ff1000 483.5px,#ee0000 484.5px,#a30000 487.5px,#8f0000 488.5px,#8f0000 531.5px,#b00000 533.5px,#fc0000 536.5px,#ff8700 540.5px,#fffe00 545.5px,#7fff80 551.5px,#14ffeb 559px)"></i>
<i style="height:1px;background:linear-gradient(90deg,#0000ec 0px,#0000fb 31.5px,#0020ff 52.5px,#0038ff 61.5px,#0092ff 75.5px,#00c7ff 84.5px,#04fffb 91.5px,#e8ff17 114.5px,#fbff04 116.5px,#ffc500 121.5px,#ffa700 124.5px,#ff8800 130.5px,#ff8000 135.5px,#ff9300 141.5px,#ffb800 146.5px,#fffc00 152.5px,#00fdff 175.5px,#00c2ff 184.5px,#00aaff 192.5px,#00a8ff 195.5px,#00baff 196.5px,#00fbff 198.5px,#24ffdb 199.5px,#51ffae 200.5px,#93ff6c 202.5px,#8fff70 203.5px,#71ff8e 204.5px,#41ffbe 205.5px,#04fffb 206.5px,#00c8ff 207.5px,#0056ff 210.5px,#0041ff 211.5px,#0019ff 216.5px,#0000fd 225.5px,#0000c8 252.5px,#0000b5 280.5px,#0000ab 382.5px,#0000b8 403.5px,#0000e1 426.5px,#0004ff 433.5px,#002fff 441.5px,#00ffff 464.5px,#90ff6f 471.5px,#f2ff0d 475.5px,#ffee00 476.5px,#ff7f00 479.5px,#fb0000 482.5px,#ad0000 485.5px,#990000 486.5px,#8f0000 487.5px,#8f0000 530.5px,#b20000 532.5px,#ff0000 535.5px,#ff8a00 539.5px,#fdff02 544.5px,#7dff82 550.5px,#02fffd 559px)"></i>
<i style="height:1px;background:linear-gradient(90deg,#0000ec 0px,#0000fb 31.5px,#0020ff 52.5px,#0038ff 61.5px,#0092ff 75.5px,#00c7ff 84.5px,#03fffc 91.5px,#e8ff17 114.5px,#fbff04 116.5px,#ffc500 121.5px,#ffa700 124.5px,#ff8800 130.5px,#ff8100 135.5px,#ff8e00 140.5px,#ffaf00 145.5px,#feff01 152.5px,#04fffb 174.5px,#00c4ff 183.5px,#00abff 191.5px,#00a9ff 194.5px,#00b1ff 195.5px,#00f3ff 197.5px,#18ffe7 198.5px,#6fff90 200.5px,#8dff72 201.5px,#99ff66 202.5px,#7cff83 203.5px,#55ffaa 204.5px,#17ffe8 205.5px,#00d8ff 206.5px,#0061ff 209.5px,#0044ff 210.5px,#001aff 215.5px,#0000fc 225.5px,#0000c7 253.5px,#0000b5 279.5px,#0000ab 381.5px,#0000b9 402.5px,#0000df 424.5px,#0001ff 431.5px,#002aff 439.5px,#00f9ff 462.5px,#08fff7 463.5px,#9aff65 470.5px,#fdff02 474.5px,#ff6a00 478.5px,#ff1100 480.5px,#ef0000 481.5px,#a30000 484.5px,#8f0000 485.5px,#8f0000 529.5px,#b40000 531.5px,#ff0300 534.5px,#ff6f00 537.5px,#ffbd00 540.5px,#faff05 543.5px,#7bff84 549.5px,#00ffff 557.5px,#00f8ff 559px)"></i>
<i style="height:1px;background:linear-gradient(90deg,#0000ec 0px,#0000fb 31.5px,#0020ff 52.5px,#0037ff 61.5px,#0091ff 75.5px,#00c6ff 84.5px,#03fffc 91.5px,#e8ff17 114.5px,#fbff04 116.5px,#ffd200 120.5px,#ffad00 123.5px,#ff8b00 129.5px,#ff8200 135.5px,#ff9000 140.5px,#ffb100 145.5px,#fff800 151.5px,#efff10 153.5px,#00feff 174.5px,#00c3ff 183.5px,#00acff 190.5px,#00a9ff 194.5px,#00eaff 196.5px,#0cfff3 197.5px,#68ff97 199.5px,#a3ff5c 201.5px,#69ff96 203.5px,#2affd5 204.5px,#00ebff 205.5px,#00b9ff 206.5px,#0047ff 209.5px,#001cff 214.5px,#0000fb 225.5px,#0000c6 254.5px,#0000b6 279.5px,#0000ab 379.5px,#0000b9 401.5px,#0000e1 423.5px,#0003ff 430.5px,#002eff 438.5px,#00fdff 461.5px,#8cff73 468.5px,#efff10 472.5px,#fff100 473.5px,#ff8200 476.5px,#fd0000 479.5px,#ae0000 482.5px,#990000 483.5px,#8f0000 484.5px,#8f0000 528.5px,#b60000 530.5px,#ea0000 532.5px,#ff0700 533.5px,#ff7300 536.5px,#ffef00 541.5px,#f7ff08 542.5px,#78ff87 548.5px,#00feff 556.5px,#00f1ff 559px)"></i>
<i style="height:1px;background:linear-gradient(90deg,#0000ec 0px,#0000fb 31.5px,#0022ff 53.5px,#0037ff 61.5px,#0097ff 76.5px,#00c6ff 84.5px,#02fffd 91.5px,#deff21 113.5px,#fbff04 116.5px,#ffd200 120.5px,#ffae00 123.5px,#ff8b00 129.5px,#ff8300 135.5px,#ff9200 140.5px,#ffb400 145.5px,#fffc00 151.5px,#06fff9 173.5px,#00f4ff 175.5px,#00c5ff 182.5px,#00acff 190.5px,#00aaff 193.5px,#00c0ff 194.5px,#03fffc 196.5px,#5cffa3 198.5px,#9cff63 200.5px,#91ff6e 201.5px,#73ff8c 202.5px,#3fffc0 203.5px,#00ffff 204.5px,#00c5ff 205.5px,#0053ff 208.5px,#0041ff 209.5px,#001bff 214.5px,#0000fd 224.5px,#0000c6 254.5px,#0000b6 278.5px,#0000ab 378.5px,#0000b8 399.5px,#0000df 421.5px,#0001ff 428.5px,#0029ff 436.5px,#00dbff 456.5px,#04fffb 460.5px,#96ff69 467.5px,#faff05 471.5px,#ffbc00 473.5px,#ff6f00 475.5px,#ff1500 477.5px,#f10000 478.5px,#a40000 481.5px,#900000 482.5px,#8f0000 527.5px,#d20000 530.5px,#ec0000 531.5px,#ff0a00 532.5px,#ff7700 535.5px,#fff200 540.5px,#f5ff0a 541.5px,#76ff89 547.5px,#0afff5 554.5px,#00fdff 555.5px,#00e9ff 559px)"></i>
<i style="height:1px;background:linear-gradient(90deg,#0000ec 0px,#0000fb 31.5px,#0021ff 53.5px,#0036ff 61.5px,#0096ff 76.5px,#00ceff 85.5px,#01fffe 91.5px,#deff21 113.5px,#fbff04 116.5px,#ffd200 120.5px,#ffae00 123.5px,#ff8c00 129.5px,#ff8400 135.5px,#ff9300 140.5px,#ffb600 145.5px,#feff01 151.5px,#02fffd 173.5px,#00c3ff 182.5px,#00adff 189.5px,#00abff 192.5px,#00b7ff 193.5px,#00f9ff 195.5px,#20ffdf 196.5px,#77ff88 198.5px,#95ff6a 199.5px,#9cff63 200.5px,#7eff81 201.5px,#54ffab 202.5px,#14ffeb 203.5px,#00d4ff 204.5px,#005fff 207.5px,#0044ff 208.5px,#001cff 213.5px,#0000fc 224.5px,#0000c6 254.5px,#0000b7 278.5px,#0000ab 376.5px,#0000b9 398.5px,#0000e1 420.5px,#0003ff 427.5px,#002dff 435.5px,#00ccff 453.5px,#00fbff 458.5px,#0cfff3 459.5px,#87ff78 465.5px,#ebff14 469.5px,#fff700 470.5px,#ff8700 473.5px,#ff0200 476.5px,#b00000 479.5px,#9b0000 480.5px,#8f0000 481.5px,#900000 526.5px,#d40000 529.5px,#ef0000 530.5px,#ff0e00 531.5px,#ff7a00 534.5px,#fff500 539.5px,#f2ff0d 540.5px,#74ff8b 546.5px,#07fff8 553.5px,#00f5ff 555.5px,#00e1ff 559px)"></i>
<i style="height:1px;background:linear-gradient(90deg,#0000ec 0px,#0000fb 31.5px,#0021ff 53.5px,#0036ff 61.5px,#0096ff 76.5px,#00cdff 85.5px,#01fffe 91.5px,#deff21 113.5px,#fbff04 116.5px,#ffdf00 119.5px,#ffae00 123.5px,#ff8c00 129.5px,#ff8500 135.5px,#ff9500 140.5px,#ffb900 145.5px,#fff800 150.5px,#efff10 152.5px,#00fdff 173.5px,#00c5ff 181.5px,#00adff 189.5px,#00adff 192.5px,#00efff 194.5px,#12ffed 195.5px,#70ff8f 197.5px,#a8ff57 199.5px,#6aff95 201.5px,#2affd5 202.5px,#00e9ff 203.5px,#00b7ff 204.5px,#0048ff 207.5px,#001eff 212.5px,#0000fc 224.5px,#0000c7 253.5px,#0000b7 277.5px,#0000ab 375.5px,#0000b8 396.5px,#0000de 418.5px,#0000ff 425.5px,#0028ff 433.5px,#00c6ff 451.5px,#00feff 457.5px,#91ff6e 464.5px,#f5ff0a 468.5px,#ffe800 469.5px,#ff7600 472.5px,#ff1c00 474.5px,#f50000 475.5px,#a70000 478.5px,#920000 479.5px,#910000 525.5px,#d70000 528.5px,#f10000 529.5px,#ff1100 530.5px,#ff7e00 533.5px,#fff800 538.5px,#daff25 540.5px,#83ff7c 544.5px,#05fffa 552.5px,#00e7ff 556.5px,#00daff 559px)"></i>
<i style="height:1px;background:linear-gradient(90deg,#0000eb 0px,#0000fa 31.5px,#0021ff 53.5px,#0035ff 61.5px,#0095ff 76.5px,#00cdff 85.5px,#00ffff 91.5px,#deff21 113.5px,#fbff04 116.5px,#ffdf00 119.5px,#ffae00 123.5px,#ff8d00 129.5px,#ff8400 134.5px,#ff9600 140.5px,#ffb000 144.5px,#fffc00 150.5px,#04fffb 172.5px,#00c4ff 181.5px,#00aeff 188.5px,#00acff 191.5px,#00c4ff 192.5px,#08fff7 194.5px,#63ff9c 196.5px,#a4ff5b 198.5px,#96ff69 199.5px,#78ff87 200.5px,#40ffbf 201.5px,#00ffff 202.5px,#00c4ff 203.5px,#0053ff 206.5px,#003aff 208.5px,#001cff 212.5px,#0000fb 224.5px,#0000c8 252.5px,#0000b7 276.5px,#0000ab 373.5px,#0000b9 395.5px,#0000e0 417.5px,#0002ff 424.5px,#002cff 432.5px,#00bfff 449.5px,#00f8ff 455.5px,#06fff9 456.5px,#9aff65 463.5px,#ffff00 467.5px,#ff6400 471.5px,#ff0a00 473.5px,#ea0000 474.5px,#9e0000 477.5px,#8f0000 478.5px,#930000 524.5px,#d90000 527.5px,#f30000 528.5px,#ff1400 529.5px,#ff8000 532.5px,#fffa00 537.5px,#96ff69 542.5px,#70ff8f 544.5px,#03fffc 551.5px,#00d2ff 559px)"></i>
<i style="height:1px;background:linear-gradient(90deg,#0000eb 0px,#0000fa 31.5px,#001cff 51.5px,#0035ff 61.5px,#0095ff 76.5px,#00cdff 85.5px,#00ffff 91.5px,#e7ff18 114.5px,#fbff04 116.5px,#ffdf00 119.5px,#ffae00 123.5px,#ff8d00 129.5px,#ff8500 134.5px,#ff9800 140.5px,#ffb200 144.5px,#feff01 150.5px,#00ffff 172.5px,#00c2ff 181.5px,#00afff 187.5px,#00adff 190.5px,#00baff 191.5px,#00fdff 193.5px,#25ffda 194.5px,#7eff81 196.5px,#9cff63 197.5px,#a2ff5d 198.5px,#84ff7b 199.5px,#57ffa8 200.5px,#16ffe9 201.5px,#00d4ff 202.5px,#0060ff 205.5px,#0046ff 206.5px,#001eff 211.5px,#0000fd 223.5px,#0000c8 252.5px,#0000b8 276.5px,#0000ab 372.5px,#0000b8 393.5px,#0000e2 416.5px,#0004ff 423.5px,#002fff 431.5px,#00b9ff 447.5px,#00fbff 454.5px,#0dfff2 455.5px,#8aff75 461.5px,#efff10 465.5px,#fff100 466.5px,#ff8000 469.5px,#ff2500 471.5px,#fa0000 472.5px,#ab0000 475.5px,#950000 476.5px,#8f0000 478.5px,#8f0000 522.5px,#940000 523.5px,#da0000 526.5px,#f50000 527.5px,#ff1600 528.5px,#ff8300 531.5px,#fffc00 536.5px,#7eff81 542.5px,#01fffe 550.5px,#00cbff 559px)"></i>
<i style="height:1px;background:linear-gradient(90deg,#0000eb 0px,#0000fa 31.5px,#0017ff 49.5px,#0034ff 61.5px,#0095ff 76.5px,#00ccff 85.5px,#00feff 91.5px,#f1ff0e 115.5px,#fff800 117.5px,#ffae00 123.5px,#ff8e00 129.5px,#ff8600 134.5px,#ff9300 139.5px,#ffb500 144.5px,#fff700 149.5px,#fbff04 150.5px,#07fff8 171.5px,#00f5ff 173.5px,#00c4ff 180.5px,#00afff 187.5px,#00b0ff 190.5px,#00f2ff 192.5px,#15ffea 193.5px,#75ff8a 195.5px,#aeff51 197.5px,#6fff90 199.5px,#2effd1 200.5px,#00ebff 201.5px,#00b9ff 202.5px,#0049ff 205.5px,#0020ff 210.5px,#0000fc 223.5px,#0000c9 251.5px,#0000b8 274.5px,#0000ab 370.5px,#0000b9 392.5px,#0000df 414.5px,#0001ff 421.5px,#002aff 429.5px,#00b2ff 445.5px,#00feff 453.5px,#93ff6c 460.5px,#f8ff07 464.5px,#ffe300 465.5px,#ff6f00 468.5px,#ff1400 470.5px,#ef0000 471.5px,#a20000 474.5px,#8f0000 475.5px,#8f0000 521.5px,#950000 522.5px,#dc0000 525.5px,#f60000 526.5px,#ff1900 527.5px,#ff8400 530.5px,#ffff00 535.5px,#7cff83 541.5px,#00feff 549.5px,#00c3ff 559px)"></i>
<i style="height:1px;background:linear-gradient(90deg,#0000eb 0px,#0000fa 31.5px,#0014ff 47.5px,#0034ff 61.5px,#0094ff 76.5px,#00ccff 85.5px,#00feff 91.5px,#fbff04 116.5px,#ffdf00 119.5px,#ffaf00 123.5px,#ff8e00 129.5px,#ff8700 134.5px,#ff9500 139.5px,#ffb800 144.5px,#fffb00 149.5px,#02fffd 171.5px,#00c2ff 180.5px,#00b0ff 186.5px,#00aeff 189.5px,#00c6ff 190.5px,#00e8ff 191.5px,#0afff5 192.5px,#67ff98 194.5px,#a9ff56 196.5px,#9cff63 197.5px,#7eff81 198.5px,#46ffb9 199.5px,#04fffb 200.5px,#00c6ff 201.5px,#0055ff 204.5px,#0044ff 205.5px,#001eff 210.5px,#0000fc 223.5px,#0000ca 250.5px,#0000b9 274.5px,#0000ab 369.5px,#0000b9 391.5px,#0000e1 413.5px,#0003ff 420.5px,#002dff 428.5px,#00b5ff 444.5px,#00f8ff 451.5px,#05fffa 452.5px,#9bff64 459.5px,#fffc00 463.5px,#ff8a00 466.5px,#ff0300 469.5px,#9a0000 473.5px,#8f0000 474.5px,#8f0000 520.5px,#960000 521.5px,#de0000 524.5px,#f80000 525.5px,#ff1b00 526.5px,#ff8600 529.5px,#fdff02 534.5px,#7bff84 540.5px,#00feff 548.5px,#00bbff 559px)"></i>
<i style="height:1px;background:linear-gradient(90deg,#0000eb 0px,#0000fa 31.5px,#0012ff 46.5px,#0033ff 61.5px,#0094ff 76.5px,#00cbff 85.5px,#00fdff 91.5px,#faff05 116.5px,#ffdf00 119.5px,#ffaf00 123.5px,#ff8f00 129.5px,#ff8800 134.5px,#ff9600 139.5px,#ffaf00 143.5px,#ffff00 149.5px,#00fdff 171.5px,#00c5ff 179.5px,#00b0ff 185.5px,#00afff 188.5px,#00bbff 189.5px,#00feff 191.5px,#26ffd9 192.5px,#82ff7d 194.5px,#a0ff5f 195.5px,#a9ff56 196.5px,#8bff74 197.5px,#5fffa0 198.5px,#1cffe3 199.5px,#00d8ff 200.5px,#0063ff 203.5px,#0047ff 204.5px,#0020ff 209.5px,#0000fb 223.5px,#0000ca 250.5px,#0000b9 273.5px,#0000ab 367.5px,#0000b8 389.5px,#0000de 411.5px,#0000ff 418.5px,#0030ff 427.5px,#00adff 442.5px,#00fbff 450.5px,#0bfff4 451.5px,#8aff75 457.5px,#f0ff0f 461.5px,#ffef00 462.5px,#ff7c00 465.5px,#ff2000 467.5px,#f70000 468.5px,#a70000 471.5px,#920000 472.5px,#8f0000 519.5px,#970000 520.5px,#fa0000 524.5px,#ff4200 526.5px,#ff8800 528.5px,#fbff04 533.5px,#79ff86 539.5px,#0afff5 546.5px,#00fdff 547.5px,#00b4ff 559px)"></i>
<i style="height:1px;background:linear-gradient(90deg,#0000eb 0px,#0000fa 31.5px,#0011ff 45.5px,#0033ff 61.5px,#0093ff 76.5px,#00cbff 85.5px,#00fdff 91.5px,#faff05 116.5px,#ffec00 118.5px,#ffaf00 123.5px,#ff8f00 129.5px,#ff8900 134.5px,#ff9800 139.5px,#ffb100 143.5px,#fff600 148.5px,#fbff04 149.5px,#05fffa 170.5px,#00c7ff 178.5px,#00b1ff 185.5px,#00b0ff 188.5px,#00f3ff 190.5px,#16ffe9 191.5px,#79ff86 193.5px,#b6ff49 195.5px,#79ff86 197.5px,#36ffc9 198.5px,#00f1ff 199.5px,#00bdff 200.5px,#004bff 203.5px,#0022ff 208.5px,#0000fd 222.5px,#0000cb 249.5px,#0000ba 272.5px,#0000ab 366.5px,#0000b9 388.5px,#0000df 410.5px,#0002ff 417.5px,#002bff 425.5px,#00b0ff 441.5px,#00fdff 449.5px,#92ff6d 456.5px,#f8ff07 460.5px,#ffe300 461.5px,#ff6c00 464.5px,#ff1000 466.5px,#ed0000 467.5px,#a00000 470.5px,#8f0000 471.5px,#8f0000 518.5px,#980000 519.5px,#e00000 522.5px,#fb0000 523.5px,#ff8a00 527.5px,#ffec00 531.5px,#faff05 532.5px,#78ff87 538.5px,#09fff6 545.5px,#00fcff 546.5px,#00acff 559px)"></i>
<i style="height:1px;background:linear-gradient(90deg,#0000eb 0px,#0000fa 31.5px,#000fff 44.5px,#0032ff 61.5px,#0093ff 76.5px,#00caff 85.5px,#00fcff 91.5px,#faff05 116.5px,#ffec00 118.5px,#ffaf00 123.5px,#ff9000 129.5px,#ff8a00 134.5px,#ff9900 139.5px,#ffb200 143.5px,#fffa00 148.5px,#a6ff59 156.5px,#00ffff 170.5px,#00c1ff 179.5px,#00b1ff 184.5px,#00b1ff 187.5px,#00c6ff 188.5px,#00e8ff 189.5px,#0afff5 190.5px,#68ff97 192.5px,#adff52 194.5px,#a4ff5b 195.5px,#86ff79 196.5px,#50ffaf 197.5px,#0cfff3 198.5px,#00cbff 199.5px,#0059ff 202.5px,#0046ff 203.5px,#0020ff 208.5px,#0000fd 222.5px,#0000cb 249.5px,#0000ba 272.5px,#0000ab 364.5px,#0000b8 386.5px,#0000e1 409.5px,#0003ff 416.5px,#002dff 424.5px,#00a9ff 439.5px,#02fffd 448.5px,#9aff65 455.5px,#fffd00 459.5px,#ff8900 462.5px,#ff0100 465.5px,#ae0000 468.5px,#980000 469.5px,#8f0000 470.5px,#8f0000 517.5px,#990000 518.5px,#e20000 521.5px,#fc0000 522.5px,#ff8b00 526.5px,#ffee00 530.5px,#f8ff07 531.5px,#76ff89 537.5px,#07fff8 544.5px,#00f4ff 546.5px,#00a4ff 559px)"></i>
<i style="height:1px;background:linear-gradient(90deg,#0000eb 0px,#0000fa 31.5px,#000eff 43.5px,#0032ff 61.5px,#0092ff 76.5px,#00caff 85.5px,#00fcff 91.5px,#faff05 116.5px,#ffec00 118.5px,#ffaf00 123.5px,#ff9000 129.5px,#ff8b00 134.5px,#ff9b00 139.5px,#ffb500 143.5px,#ffff00 148.5px,#07fff8 169.5px,#00f5ff 171.5px,#00c3ff 178.5px,#00b2ff 183.5px,#00b1ff 186.5px,#00baff 187.5px,#00feff 189.5px,#25ffda 190.5px,#85ff7a 192.5px,#a3ff5c 193.5px,#b2ff4d 194.5px,#93ff6c 195.5px,#6bff94 196.5px,#26ffd9 197.5px,#00e1ff 198.5px,#008eff 200.5px,#004aff 202.5px,#0022ff 207.5px,#0000fc 222.5px,#0000cc 248.5px,#0000ba 271.5px,#0000ab 363.5px,#0000b8 385.5px,#0000de 407.5px,#0000ff 414.5px,#0030ff 423.5px,#00abff 438.5px,#00f9ff 446.5px,#08fff7 447.5px,#87ff78 453.5px,#efff10 457.5px,#fff100 458.5px,#ff7d00 461.5px,#ff2000 463.5px,#f60000 464.5px,#a60000 467.5px,#910000 468.5px,#8f0000 516.5px,#990000 517.5px,#e30000 520.5px,#fe0000 521.5px,#ff6e00 524.5px,#ffbe00 527.5px,#fff000 529.5px,#f6ff09 530.5px,#75ff8a 536.5px,#05fffa 543.5px,#00e6ff 547.5px,#009dff 559px)"></i>
<i style="height:1px;background:linear-gradient(90deg,#0000eb 0px,#0000fa 31.5px,#000cff 42.5px,#002dff 60.5px,#009dff 78.5px,#00c9ff 85.5px,#00fbff 91.5px,#30ffcf 96.5px,#faff05 116.5px,#ffec00 118.5px,#ffaf00 123.5px,#ff9100 129.5px,#ff8c00 134.5px,#ff9c00 139.5px,#ffb900 143.5px,#fff500 147.5px,#fbff04 148.5px,#02fffd 169.5px,#00c2ff 178.5px,#00b2ff 183.5px,#00b2ff 186.5px,#00f2ff 188.5px,#15ffea 189.5px,#78ff87 191.5px,#b8ff47 193.5px,#82ff7d 195.5px,#00fcff 197.5px,#00c2ff 198.5px,#0051ff 201.5px,#0024ff 206.5px,#0000fc 222.5px,#0000cd 247.5px,#0000bb 270.5px,#0000ab 362.5px,#0000b9 384.5px,#0000e0 406.5px,#0002ff 413.5px,#002bff 421.5px,#00a3ff 436.5px,#00fbff 445.5px,#0dfff2 446.5px,#8fff70 452.5px,#f6ff09 456.5px,#ffe600 457.5px,#ff6f00 460.5px,#ff1100 462.5px,#ee0000 463.5px,#9f0000 466.5px,#8f0000 467.5px,#8f0000 515.5px,#9a0000 516.5px,#e40000 519.5px,#ff0000 520.5px,#ff6f00 523.5px,#ffbf00 526.5px,#fff100 528.5px,#f5ff0a 529.5px,#85ff7a 534.5px,#03fffc 542.5px,#0095ff 559px)"></i>
<i style="height:1px;background:linear-gradient(90deg,#0000eb 0px,#0000fa 31.5px,#000cff 42.5px,#002dff 60.5px,#00a3ff 79.5px,#00d2ff 86.5px,#00fbff 91.5px,#30ffcf 96.5px,#fbff04 116.5px,#ffde00 119.5px,#ffaf00 123.5px,#ff9300 128.5px,#ff8c00 133.5px,#ff9900 138.5px,#ffb100 142.5px,#fffa00 147.5px,#b1ff4e 154.5px,#00feff 169.5px,#00c4ff 177.5px,#00b2ff 182.5px,#00b2ff 185.5px,#00c3ff 186.5px,#00e5ff 187.5px,#08fff7 188.5px,#33ffcc 189.5px,#66ff99 190.5px,#8fff70 191.5px,#adff52 192.5px,#aeff51 193.5px,#8fff70 194.5px,#5dffa2 195.5px,#18ffe7 196.5px,#00d1ff 197.5px,#0060ff 200.5px,#0048ff 201.5px,#0022ff 206.5px,#0000fb 222.5px,#0000cd 247.5px,#0000bb 270.5px,#0000ab 360.5px,#0000b8 382.5px,#0000e1 405.5px,#0003ff 412.5px,#002dff 420.5px,#00a5ff 435.5px,#00feff 444.5px,#96ff69 451.5px,#fdff02 455.5px,#ff8d00 458.5px,#ff0300 461.5px,#980000 465.5px,#8f0000 466.5px,#8f0000 514.5px,#9b0000 515.5px,#e50000 518.5px,#ff0100 519.5px,#ff7100 522.5px,#fff300 527.5px,#f4ff0b 528.5px,#83ff7c 533.5px,#02fffd 541.5px,#0091ff 559px)"></i>
<i style="height:1px;background:linear-gradient(90deg,#0000eb 0px,#0000f9 31.5px,#000bff 41.5px,#002cff 60.5px,#00a4ff 79.5px,#00d3ff 86.5px,#00fcff 91.5px,#fcff03 116.5px,#ffb700 122.5px,#ff9400 128.5px,#ff8e00 133.5px,#ff9c00 138.5px,#ffb500 142.5px,#feff01 147.5px,#05fffa 168.5px,#00e4ff 172.5px,#00c2ff 177.5px,#00b2ff 182.5px,#00b6ff 185.5px,#00faff 187.5px,#1fffe0 188.5px,#83ff7c 190.5px,#baff45 192.5px,#78ff87 194.5px,#33ffcc 195.5px,#00edff 196.5px,#00baff 197.5px,#004cff 200.5px,#0023ff 205.5px,#0000fc 221.5px,#0000cd 246.5px,#0000bb 269.5px,#0000ab 359.5px,#0000b8 381.5px,#0000de 403.5px,#0000ff 410.5px,#002fff 419.5px,#00a7ff 434.5px,#02fffd 443.5px,#9cff63 450.5px,#eaff15 453.5px,#fff700 454.5px,#ff8200 457.5px,#ff2500 459.5px,#f90000 460.5px,#a80000 463.5px,#920000 464.5px,#8f0000 513.5px,#9b0000 514.5px,#ff0200 518.5px,#ff7300 521.5px,#fff400 526.5px,#f2ff0d 527.5px,#82ff7d 532.5px,#00ffff 540.5px,#0090ff 557.5px,#008dff 559px)"></i>
<i style="height:1px;background:linear-gradient(90deg,#0000eb 0px,#0000f9 31.5px,#000bff 41.5px,#002cff 60.5px,#00aaff 80.5px,#00dcff 87.5px,#00fdff 91.5px,#f4ff0b 115.5px,#feff01 116.5px,#ffb500 122.5px,#ff9500 128.5px,#ff9000 133.5px,#ff9f00 138.5px,#ffbb00 142.5px,#fff700 146.5px,#eeff11 148.5px,#01fffe 168.5px,#00c1ff 177.5px,#00b2ff 182.5px,#00b2ff 184.5px,#00caff 185.5px,#00ecff 186.5px,#10ffef 187.5px,#71ff8e 189.5px,#b4ff4b 191.5px,#a7ff58 192.5px,#88ff77 193.5px,#4effb1 194.5px,#09fff6 195.5px,#00c9ff 196.5px,#0058ff 199.5px,#0047ff 200.5px,#0022ff 205.5px,#0000fb 221.5px,#0000cd 246.5px,#0000bb 269.5px,#0000ab 358.5px,#0000b9 380.5px,#0000df 402.5px,#0001ff 409.5px,#002aff 417.5px,#00a9ff 433.5px,#00f8ff 441.5px,#06fff9 442.5px,#88ff77 448.5px,#f1ff0e 452.5px,#ffed00 453.5px,#ff7600 456.5px,#ff1800 458.5px,#f10000 459.5px,#a10000 462.5px,#8f0000 463.5px,#8f0000 512.5px,#9b0000 513.5px,#ff0300 517.5px,#ff7400 520.5px,#fff500 525.5px,#f1ff0e 526.5px,#80ff7f 531.5px,#00ffff 539.5px,#0090ff 556.5px,#0089ff 559px)"></i>
<i style="height:1px;background:linear-gradient(90deg,#0000eb 0px,#0000f9 31.5px,#000bff 41.5px,#002cff 60.5px,#00aaff 80.5px,#00dcff 87.5px,#00fdff 91.5px,#ceff31 111.5px,#ffff00 116.5px,#ffb500 122.5px,#ff9600 128.5px,#ff9200 133.5px,#ffa300 138.5px,#ffb500 141.5px,#fffd00 146.5px,#15ffea 166.5px,#00fdff 168.5px,#00c3ff 176.5px,#00b2ff 181.5px,#00b2ff 183.5px,#00bcff 184.5px,#02fffd 186.5px,#29ffd6 187.5px,#89ff76 189.5px,#a8ff57 190.5px,#b4ff4b 191.5px,#95ff6a 192.5px,#6aff95 193.5px,#25ffda 194.5px,#00deff 195.5px,#008dff 197.5px,#0067ff 198.5px,#004aff 199.5px,#0023ff 204.5px,#0000fc 220.5px,#0000cd 245.5px,#0000bc 268.5px,#0000ab 356.5px,#0000b8 378.5px,#0000e0 401.5px,#0003ff 408.5px,#002cff 416.5px,#00a1ff 431.5px,#00faff 440.5px,#0bfff4 441.5px,#8eff71 447.5px,#f7ff08 451.5px,#ffe300 452.5px,#ff6a00 455.5px,#ff0b00 457.5px,#e90000 458.5px,#b10000 460.5px,#9b0000 461.5px,#8f0000 462.5px,#8f0000 511.5px,#9b0000 512.5px,#ff0300 516.5px,#ff7500 519.5px,#fff600 524.5px,#f0ff0f 525.5px,#7fff80 530.5px,#00feff 538.5px,#0093ff 554.5px,#0085ff 559px)"></i>
<i style="height:1px;background:linear-gradient(90deg,#0000ea 0px,#0000f9 31.5px,#000bff 41.5px,#002cff 60.5px,#00b1ff 81.5px,#00feff 91.5px,#c5ff3a 110.5px,#fffd00 116.5px,#ffb500 122.5px,#ff9900 127.5px,#ff9200 132.5px,#ffa000 137.5px,#ffb900 141.5px,#fcff03 146.5px,#04fffb 167.5px,#00c2ff 176.5px,#00b2ff 181.5px,#00b2ff 183.5px,#00f3ff 185.5px,#16ffe9 186.5px,#7aff85 188.5px,#baff45 190.5px,#83ff7c 192.5px,#00fbff 194.5px,#00c2ff 195.5px,#0050ff 198.5px,#0025ff 203.5px,#0000fd 219.5px,#0000ce 244.5px,#0000bc 267.5px,#0000ab 355.5px,#0000b8 377.5px,#0000e2 400.5px,#0004ff 407.5px,#002eff 415.5px,#00a2ff 430.5px,#00fcff 439.5px,#25ffda 441.5px,#94ff6b 446.5px,#fdff02 450.5px,#ff8b00 453.5px,#fe0000 456.5px,#ab0000 459.5px,#950000 460.5px,#8f0000 462.5px,#8f0000 510.5px,#9b0000 511.5px,#ff0400 515.5px,#ff7600 518.5px,#fff700 523.5px,#d9ff26 525.5px,#7eff81 529.5px,#00fdff 537.5px,#0092ff 553.5px,#0081ff 559px)"></i>
<i style="height:1px;background:linear-gradient(90deg,#0000ea 0px,#0000f9 31.5px,#0009ff 40.5px,#002aff 59.5px,#003eff 63.5px,#00abff 80.5px,#00deff 87.5px,#00ffff 91.5px,#bdff42 109.5px,#fffb00 116.5px,#ffb500 122.5px,#ff9a00 127.5px,#ff9400 132.5px,#ffa300 137.5px,#ffbf00 141.5px,#fffa00 145.5px,#c9ff36 150.5px,#00feff 167.5px,#00c4ff 175.5px,#00b2ff 180.5px,#00b2ff 182.5px,#00c2ff 183.5px,#00e5ff 184.5px,#08fff7 185.5px,#33ffcc 186.5px,#66ff99 187.5px,#8fff70 188.5px,#aeff51 189.5px,#aeff51 190.5px,#8fff70 191.5px,#5dffa2 192.5px,#18ffe7 193.5px,#00d2ff 194.5px,#0060ff 197.5px,#0048ff 198.5px,#0022ff 203.5px,#0000fc 219.5px,#0000cd 244.5px,#0000bc 267.5px,#0000ab 354.5px,#0000b8 376.5px,#0000de 398.5px,#0000ff 405.5px,#0030ff 414.5px,#00a4ff 429.5px,#00feff 438.5px,#7fff80 444.5px,#e9ff16 448.5px,#fff900 449.5px,#ff8200 452.5px,#ff2300 454.5px,#f80000 455.5px,#a60000 458.5px,#8f0000 459.5px,#8f0000 509.5px,#9b0000 510.5px,#ff0400 514.5px,#ff7600 517.5px,#fff800 522.5px,#d8ff27 524.5px,#7dff82 528.5px,#0bfff4 535.5px,#00fdff 536.5px,#0092ff 552.5px,#007eff 559px)"></i>
<i style="height:1px;background:linear-gradient(90deg,#0000ea 0px,#0000f9 31.5px,#0009ff 40.5px,#0029ff 59.5px,#003eff 63.5px,#00acff 80.5px,#00dfff 87.5px,#01fffe 91.5px,#b4ff4b 108.5px,#f9ff06 115.5px,#ffed00 117.5px,#ffbc00 121.5px,#ff9b00 127.5px,#ff9700 132.5px,#ffa700 137.5px,#ffb900 140.5px,#feff01 145.5px,#13ffec 165.5px,#00fcff 167.5px,#00c2ff 175.5px,#00b2ff 180.5px,#00b4ff 182.5px,#00f9ff 184.5px,#1dffe2 185.5px,#82ff7d 187.5px,#bbff44 189.5px,#7aff85 191.5px,#35ffca 192.5px,#00efff 193.5px,#00bbff 194.5px,#004cff 197.5px,#0024ff 202.5px,#0000fd 218.5px,#0000ce 243.5px,#0000bc 266.5px,#0000ab 352.5px,#0000b9 375.5px,#0000df 397.5px,#0002ff 404.5px,#0031ff 413.5px,#00a5ff 428.5px,#01fffe 437.5px,#84ff7b 443.5px,#eeff11 447.5px,#fff100 448.5px,#ff7800 451.5px,#ff1800 453.5px,#f10000 454.5px,#a00000 457.5px,#8f0000 458.5px,#8f0000 508.5px,#9b0000 509.5px,#ff0400 513.5px,#ff7600 516.5px,#fff800 521.5px,#d7ff28 523.5px,#7dff82 527.5px,#0afff5 534.5px,#00fdff 535.5px,#0091ff 551.5px,#007aff 559px)"></i>
<i style="height:1px;background:linear-gradient(90deg,#0000ea 0px,#0000f9 31.5px,#0009ff 40.5px,#0029ff 59.5px,#003eff 63.5px,#00b2ff 81.5px,#02fffd 91.5px,#b6ff49 108.5px,#fbff04 115.5px,#ffbb00 121.5px,#ff9c00 127.5px,#ff9700 131.5px,#ffa400 136.5px,#ffbd00 140.5px,#fff700 144.5px,#eeff11 146.5px,#0efff1 165.5px,#02fffd 166.5px,#00c1ff 175.5px,#00b2ff 180.5px,#00b1ff 181.5px,#00c8ff 182.5px,#00eaff 183.5px,#0dfff2 184.5px,#6eff91 186.5px,#b3ff4c 188.5px,#aaff55 189.5px,#8aff75 190.5px,#53ffac 191.5px,#0dfff2 192.5px,#00ccff 193.5px,#005aff 196.5px,#0047ff 197.5px,#0022ff 202.5px,#0000fc 218.5px,#0000ce 243.5px,#0000bc 266.5px,#0000ab 351.5px,#0000b7 373.5px,#0000e0 396.5px,#0003ff 403.5px,#002bff 411.5px,#009cff 426.5px,#04fffb 436.5px,#89ff76 442.5px,#f3ff0c 446.5px,#ffe900 447.5px,#ff6e00 450.5px,#ff0e00 452.5px,#eb0000 453.5px,#b10000 455.5px,#9b0000 456.5px,#8f0000 457.5px,#8f0000 507.5px,#9a0000 508.5px,#ff0400 512.5px,#ff7600 515.5px,#fff900 520.5px,#d7ff28 522.5px,#7cff83 526.5px,#0afff5 533.5px,#00fcff 534.5px,#0091ff 550.5px,#0076ff 559px)"></i>
<i style="height:1px;background:linear-gradient(90deg,#0000ea 0px,#0000f9 31.5px,#0009ff 40.5px,#0029ff 59.5px,#003dff 63.5px,#00d0ff 85.5px,#03fffc 91.5px,#adff52 107.5px,#fcff03 115.5px,#ffbb00 121.5px,#ff9d00 127.5px,#ff9900 131.5px,#ffa700 136.5px,#ffc300 140.5px,#fffd00 144.5px,#3bffc4 161.5px,#00feff 166.5px,#00c3ff 174.5px,#00b2ff 179.5px,#00b9ff 181.5px,#00fdff 183.5px,#25ffda 184.5px,#86ff79 186.5px,#a6ff59 187.5px,#b7ff48 188.5px,#98ff67 189.5px,#71ff8e 190.5px,#2bffd4 191.5px,#00e5ff 192.5px,#00b6ff 193.5px,#006aff 195.5px,#004bff 196.5px,#0023ff 201.5px,#0000fd 217.5px,#0000ce 242.5px,#0000bc 265.5px,#0000ab 350.5px,#0000b8 372.5px,#0000e1 395.5px,#0004ff 402.5px,#0034ff 411.5px,#009dff 425.5px,#00f8ff 434.5px,#08fff7 435.5px,#8dff72 441.5px,#f8ff07 445.5px,#ffe100 446.5px,#ff6400 449.5px,#ff0400 451.5px,#960000 455.5px,#8f0000 457.5px,#8f0000 506.5px,#9a0000 507.5px,#ff0300 511.5px,#ff7600 514.5px,#fff900 519.5px,#bfff40 522.5px,#7cff83 525.5px,#09fff6 532.5px,#00fcff 533.5px,#0091ff 549.5px,#0072ff 559px)"></i>
<i style="height:1px;background:linear-gradient(90deg,#0000ea 0px,#0000f9 31.5px,#0009ff 40.5px,#0029ff 59.5px,#003dff 63.5px,#00d0ff 85.5px,#04fffb 91.5px,#afff50 107.5px,#feff01 115.5px,#ffba00 121.5px,#ffa000 126.5px,#ff9b00 131.5px,#ffab00 136.5px,#ffbc00 139.5px,#fcff03 144.5px,#36ffc9 161.5px,#05fffa 165.5px,#00e4ff 169.5px,#00c2ff 174.5px,#00b2ff 179.5px,#00b1ff 180.5px,#00eeff 182.5px,#12ffed 183.5px,#74ff8b 185.5px,#b7ff48 187.5px,#a6ff59 188.5px,#87ff78 189.5px,#4affb5 190.5px,#04fffb 191.5px,#00c7ff 192.5px,#0055ff 195.5px,#003eff 197.5px,#0022ff 201.5px,#0000fc 217.5px,#0000ce 242.5px,#0000bc 265.5px,#0000ab 349.5px,#0000b8 371.5px,#0000de 393.5px,#0000ff 400.5px,#002eff 409.5px,#009eff 424.5px,#00faff 433.5px,#0bfff4 434.5px,#92ff6d 440.5px,#fdff02 444.5px,#ff8900 447.5px,#fc0000 450.5px,#a80000 453.5px,#910000 454.5px,#8f0000 505.5px,#990000 506.5px,#ff0200 510.5px,#ff7600 513.5px,#fff900 518.5px,#bfff40 521.5px,#7bff84 524.5px,#08fff7 531.5px,#00fbff 532.5px,#0090ff 548.5px,#006eff 559px)"></i>
<i style="height:1px;background:linear-gradient(90deg,#0000ea 0px,#0000f9 31.5px,#0009ff 40.5px,#0028ff 59.5px,#003dff 63.5px,#00d1ff 85.5px,#00fbff 90.5px,#10ffef 92.5px,#b0ff4f 107.5px,#fffe00 115.5px,#ffba00 121.5px,#ffa100 126.5px,#ff9d00 131.5px,#ffa800 135.5px,#ffc100 139.5px,#fffa00 143.5px,#d5ff2a 147.5px,#0dfff2 164.5px,#01fffe 165.5px,#00c4ff 173.5px,#00b2ff 178.5px,#00b1ff 179.5px,#00bcff 180.5px,#02fffd 182.5px,#2affd5 183.5px,#8aff75 185.5px,#a9ff56 186.5px,#b4ff4b 187.5px,#95ff6a 188.5px,#69ff96 189.5px,#23ffdc 190.5px,#00ddff 191.5px,#0066ff 194.5px,#004aff 195.5px,#0023ff 200.5px,#0000fd 216.5px,#0000ce 241.5px,#0000bc 265.5px,#0000ab 347.5px,#0000b8 370.5px,#0000de 392.5px,#0001ff 399.5px,#0030ff 408.5px,#009fff 423.5px,#00fbff 432.5px,#0dfff2 433.5px,#96ff69 439.5px,#fffc00 443.5px,#ff8200 446.5px,#ff2200 448.5px,#f60000 449.5px,#a30000 452.5px,#8f0000 453.5px,#8f0000 504.5px,#980000 505.5px,#e40000 508.5px,#ff0100 509.5px,#ff7500 512.5px,#fff900 517.5px,#bfff40 520.5px,#7bff84 523.5px,#07fff8 530.5px,#00f4ff 532.5px,#0090ff 547.5px,#006bff 559px)"></i>
<i style="height:1px;background:linear-gradient(90deg,#0000ea 0px,#0000f9 31.5px,#0009ff 40.5px,#0028ff 59.5px,#003dff 63.5px,#00d2ff 85.5px,#00fbff 90.5px,#27ffd8 94.5px,#b1ff4e 107.5px,#fffc00 115.5px,#ffc100 120.5px,#ffa200 126.5px,#ff9d00 130.5px,#ffac00 135.5px,#ffc700 139.5px,#feff01 143.5px,#39ffc6 160.5px,#00fdff 165.5px,#00c3ff 173.5px,#00b2ff 178.5px,#00b1ff 179.5px,#00f1ff 181.5px,#15ffea 182.5px,#79ff86 184.5px,#baff45 186.5px,#a3ff5c 187.5px,#84ff7b 188.5px,#00fdff 190.5px,#00c3ff 191.5px,#0051ff 194.5px,#0025ff 199.5px,#0000fc 216.5px,#0000ce 241.5px,#0000bc 264.5px,#0000ab 346.5px,#0000b9 369.5px,#0000df 391.5px,#0002ff 398.5px,#0031ff 407.5px,#00a0ff 422.5px,#00fcff 431.5px,#3dffc2 434.5px,#9aff65 438.5px,#ebff14 441.5px,#fff500 442.5px,#ff7b00 445.5px,#ff1900 447.5px,#f10000 448.5px,#9f0000 451.5px,#8f0000 452.5px,#8f0000 503.5px,#970000 504.5px,#e30000 507.5px,#ff0000 508.5px,#ff7400 511.5px,#fff900 516.5px,#d6ff29 518.5px,#7bff84 522.5px,#07fff8 529.5px,#00f4ff 531.5px,#0090ff 546.5px,#0067ff 559px)"></i>
<i style="height:1px;background:linear-gradient(90deg,#0000ea 0px,#0000f9 31.5px,#0009ff 40.5px,#0028ff 59.5px,#003dff 63.5px,#00d3ff 85.5px,#00fcff 90.5px,#bdff42 108.5px,#fffb00 115.5px,#ffc000 120.5px,#ffa300 126.5px,#ff9f00 130.5px,#ffaf00 135.5px,#ffc000 138.5px,#fff700 142.5px,#eeff11 144.5px,#35ffca 160.5px,#04fffb 164.5px,#00c1ff 173.5px,#00b1ff 178.5px,#00bfff 179.5px,#05fffa 181.5px,#2effd1 182.5px,#8cff73 184.5px,#acff53 185.5px,#b2ff4d 186.5px,#92ff6d 187.5px,#63ff9c 188.5px,#1effe1 189.5px,#00d8ff 190.5px,#0063ff 193.5px,#0049ff 194.5px,#0023ff 199.5px,#0000fb 216.5px,#0000cf 240.5px,#0000bc 264.5px,#0000ab 345.5px,#0000b7 367.5px,#0000e0 390.5px,#0003ff 397.5px,#0032ff 406.5px,#00a2ff 421.5px,#00feff 430.5px,#83ff7c 436.5px,#efff10 440.5px,#ffef00 441.5px,#ff7300 444.5px,#ff1100 446.5px,#ec0000 447.5px,#b20000 449.5px,#9b0000 450.5px,#8f0000 451.5px,#8f0000 502.5px,#960000 503.5px,#e20000 506.5px,#fe0000 507.5px,#ff7300 510.5px,#fff900 515.5px,#d6ff29 517.5px,#7bff84 521.5px,#06fff9 528.5px,#00f4ff 530.5px,#0090ff 545.5px,#0063ff 559px)"></i>
<i style="height:1px;background:linear-gradient(90deg,#0000ea 0px,#0000f9 31.5px,#0009ff 40.5px,#0028ff 59.5px,#003dff 63.5px,#00d4ff 85.5px,#00fdff 90.5px,#b4ff4b 107.5px,#f9ff06 114.5px,#ffe100 117.5px,#ffc000 120.5px,#ffa600 125.5px,#ffa100 130.5px,#ffac00 134.5px,#ffc500 138.5px,#fffd00 142.5px,#49ffb6 158.5px,#00feff 164.5px,#00c3ff 172.5px,#00b1ff 177.5px,#00b0ff 178.5px,#00f4ff 180.5px,#17ffe8 181.5px,#7cff83 183.5px,#bdff42 185.5px,#82ff7d 187.5px,#00f8ff 189.5px,#00c1ff 190.5px,#004fff 193.5px,#0024ff 198.5px,#0000fc 215.5px,#0000cf 239.5px,#0000bd 263.5px,#0000ab 344.5px,#0000b8 366.5px,#0000e1 389.5px,#0003ff 396.5px,#0033ff 405.5px,#00a3ff 420.5px,#00ffff 429.5px,#86ff79 435.5px,#f3ff0c 439.5px,#ffe900 440.5px,#ff6b00 443.5px,#ff0a00 445.5px,#e80000 446.5px,#980000 449.5px,#8f0000 450.5px,#8f0000 501.5px,#950000 502.5px,#e10000 505.5px,#fd0000 506.5px,#ff7200 509.5px,#fff800 514.5px,#d7ff28 516.5px,#7bff84 520.5px,#06fff9 527.5px,#00f4ff 529.5px,#0093ff 543.5px,#005fff 559px)"></i>
<i style="height:1px;background:linear-gradient(90deg,#0000ea 0px,#0000f9 31.5px,#0009ff 40.5px,#0028ff 59.5px,#003cff 63.5px,#00d4ff 85.5px,#00feff 90.5px,#acff53 106.5px,#fbff04 114.5px,#ffc000 120.5px,#ffa700 125.5px,#ffa100 129.5px,#ffb000 134.5px,#ffcb00 138.5px,#fcff03 142.5px,#44ffbb 158.5px,#07fff8 163.5px,#00f4ff 165.5px,#00c2ff 172.5px,#00b1ff 177.5px,#00c0ff 178.5px,#07fff8 180.5px,#31ffce 181.5px,#64ff9b 182.5px,#8eff71 183.5px,#aeff51 184.5px,#b0ff4f 185.5px,#91ff6e 186.5px,#60ff9f 187.5px,#1affe5 188.5px,#00d4ff 189.5px,#0061ff 192.5px,#0049ff 193.5px,#0023ff 198.5px,#0000fb 215.5px,#0000cf 239.5px,#0000bd 263.5px,#0000ab 343.5px,#0000b8 365.5px,#0000e2 388.5px,#0004ff 395.5px,#0034ff 404.5px,#009aff 418.5px,#03fffc 428.5px,#8aff75 434.5px,#f6ff09 438.5px,#ffe400 439.5px,#ff6500 442.5px,#ff0300 444.5px,#940000 448.5px,#8f0000 451.5px,#8f0000 500.5px,#940000 501.5px,#df0000 504.5px,#fb0000 505.5px,#ff7000 508.5px,#ffdd00 512.5px,#fff700 513.5px,#d7ff28 515.5px,#7bff84 519.5px,#06fff9 526.5px,#00ecff 529.5px,#0092ff 542.5px,#005bff 559px)"></i>
<i style="height:1px;background:linear-gradient(90deg,#0000ea 0px,#0000f9 31.5px,#0009ff 40.5px,#0027ff 59.5px,#003cff 63.5px,#00d5ff 85.5px,#00feff 90.5px,#a3ff5c 105.5px,#fdff02 114.5px,#ffc000 120.5px,#ffa800 125.5px,#ffa400 129.5px,#ffb300 134.5px,#ffc400 137.5px,#fffa00 141.5px,#d6ff29 145.5px,#33ffcc 159.5px,#02fffd 163.5px,#00c4ff 171.5px,#00b0ff 177.5px,#00f5ff 179.5px,#19ffe6 180.5px,#7eff81 182.5px,#beff41 184.5px,#80ff7f 186.5px,#3cffc3 187.5px,#00f6ff 188.5px,#00bfff 189.5px,#004dff 192.5px,#0024ff 197.5px,#0000fc 214.5px,#0000cf 238.5px,#0000bd 262.5px,#0000ab 341.5px,#0000b8 364.5px,#0000dd 386.5px,#0004ff 394.5px,#0035ff 403.5px,#009aff 417.5px,#00f7ff 426.5px,#05fffa 427.5px,#8cff73 433.5px,#f9ff06 437.5px,#ffdf00 438.5px,#ff5f00 441.5px,#fd0000 443.5px,#a80000 446.5px,#920000 447.5px,#920000 500.5px,#de0000 503.5px,#fa0000 504.5px,#ff4700 506.5px,#ff8e00 508.5px,#fff700 512.5px,#efff10 513.5px,#7bff84 518.5px,#06fff9 525.5px,#00ecff 528.5px,#0092ff 541.5px,#0057ff 559px)"></i>
<i style="height:1px;background:linear-gradient(90deg,#0000ea 0px,#0000f9 31.5px,#0009ff 40.5px,#0027ff 59.5px,#003cff 63.5px,#00d6ff 85.5px,#00ffff 90.5px,#a5ff5a 105.5px,#feff01 114.5px,#ffc600 119.5px,#ffa900 125.5px,#ffa600 129.5px,#ffb600 134.5px,#ffc900 137.5px,#ffff00 141.5px,#47ffb8 157.5px,#00fdff 163.5px,#00c3ff 171.5px,#00b1ff 176.5px,#00c1ff 177.5px,#08fff7 179.5px,#32ffcd 180.5px,#65ff9a 181.5px,#8fff70 182.5px,#afff50 183.5px,#b0ff4f 184.5px,#90ff6f 185.5px,#5effa1 186.5px,#19ffe6 187.5px,#00d2ff 188.5px,#0060ff 191.5px,#0049ff 192.5px,#0022ff 197.5px,#0000fb 214.5px,#0000cf 238.5px,#0000bd 262.5px,#0000ab 340.5px,#0000b8 363.5px,#0000de 385.5px,#0000ff 392.5px,#002fff 401.5px,#009bff 416.5px,#00f8ff 425.5px,#06fff9 426.5px,#8fff70 432.5px,#fcff03 436.5px,#ff8900 439.5px,#ff2900 441.5px,#fa0000 442.5px,#a60000 445.5px,#8f0000 446.5px,#910000 499.5px,#dc0000 502.5px,#f80000 503.5px,#ff1e00 504.5px,#ff6d00 506.5px,#ffa700 508.5px,#fff600 511.5px,#f0ff0f 512.5px,#7bff84 517.5px,#06fff9 524.5px,#00ecff 527.5px,#0092ff 540.5px,#0054ff 559px)"></i>
<i style="height:1px;background:linear-gradient(90deg,#0000e9 0px,#0000f9 31.5px,#0007ff 39.5px,#0025ff 58.5px,#0035ff 62.5px,#00d7ff 85.5px,#01fffe 90.5px,#9cff63 104.5px,#fffe00 114.5px,#ffc600 119.5px,#ffac00 124.5px,#ffa800 129.5px,#ffb400 133.5px,#ffcf00 137.5px,#fff700 140.5px,#eeff11 142.5px,#4fffb0 156.5px,#05fffa 162.5px,#00e3ff 166.5px,#00c1ff 171.5px,#00b0ff 176.5px,#00f5ff 178.5px,#19ffe6 179.5px,#7fff80 181.5px,#bfff40 183.5px,#80ff7f 185.5px,#3bffc4 186.5px,#00f5ff 187.5px,#00bfff 188.5px,#004dff 191.5px,#0024ff 196.5px,#0000fd 213.5px,#0000d0 237.5px,#0000bd 261.5px,#0000ab 339.5px,#0000b8 362.5px,#0000de 384.5px,#0001ff 391.5px,#002fff 400.5px,#009cff 415.5px,#00f8ff 424.5px,#08fff7 425.5px,#91ff6e 431.5px,#feff01 435.5px,#ff8600 438.5px,#ff2500 440.5px,#f80000 441.5px,#a40000 444.5px,#8f0000 445.5px,#8f0000 498.5px,#da0000 501.5px,#f70000 502.5px,#ff1c00 503.5px,#ff6a00 505.5px,#ffa600 507.5px,#fff500 510.5px,#f0ff0f 511.5px,#7cff83 516.5px,#06fff9 523.5px,#00ecff 526.5px,#0092ff 539.5px,#0050ff 559px)"></i>
<i style="height:1px;background:linear-gradient(90deg,#0000e9 0px,#0000f9 31.5px,#0007ff 39.5px,#0025ff 58.5px,#0034ff 62.5px,#00d7ff 85.5px,#02fffd 90.5px,#9dff62 104.5px,#fffc00 114.5px,#ffc600 119.5px,#ffad00 124.5px,#ffa800 128.5px,#ffb700 133.5px,#ffc800 136.5px,#fffd00 140.5px,#57ffa8 155.5px,#01fffe 162.5px,#00c3ff 170.5px,#00b1ff 175.5px,#00c1ff 176.5px,#08fff7 178.5px,#32ffcd 179.5px,#65ff9a 180.5px,#8fff70 181.5px,#afff50 182.5px,#b0ff4f 183.5px,#90ff6f 184.5px,#5effa1 185.5px,#18ffe7 186.5px,#00d2ff 187.5px,#0060ff 190.5px,#0049ff 191.5px,#0022ff 196.5px,#0000fc 213.5px,#0000cf 237.5px,#0000bd 261.5px,#0000ab 338.5px,#0000b9 361.5px,#0000df 383.5px,#0001ff 390.5px,#0030ff 399.5px,#009cff 414.5px,#00f9ff 423.5px,#09fff6 424.5px,#92ff6d 430.5px,#fffe00 434.5px,#ff8300 437.5px,#ff2200 439.5px,#f60000 440.5px,#a20000 443.5px,#8f0000 444.5px,#8f0000 497.5px,#bc0000 499.5px,#f50000 501.5px,#ff1900 502.5px,#ff8a00 505.5px,#fff400 509.5px,#f1ff0e 510.5px,#7cff83 515.5px,#06fff9 522.5px,#00ecff 525.5px,#0092ff 538.5px,#004cff 559px)"></i>
<i style="height:1px;background:linear-gradient(90deg,#0000e9 0px,#0000f8 31.5px,#0007ff 39.5px,#0024ff 58.5px,#0034ff 62.5px,#00d8ff 85.5px,#03fffc 90.5px,#9fff60 104.5px,#fffb00 114.5px,#ffc600 119.5px,#ffae00 124.5px,#ffaa00 128.5px,#ffba00 133.5px,#ffcd00 136.5px,#fcff03 140.5px,#52ffad 155.5px,#00fcff 162.5px,#00c2ff 170.5px,#00b0ff 175.5px,#00f5ff 177.5px,#19ffe6 178.5px,#7eff81 180.5px,#bfff40 182.5px,#80ff7f 184.5px,#3cffc3 185.5px,#00f5ff 186.5px,#00bfff 187.5px,#004dff 190.5px,#0024ff 195.5px,#0000fd 212.5px,#0000d0 236.5px,#0000bd 260.5px,#0000ab 337.5px,#0000b9 360.5px,#0000df 382.5px,#0001ff 389.5px,#0030ff 398.5px,#009cff 413.5px,#00f9ff 422.5px,#0afff5 423.5px,#94ff6b 429.5px,#fffc00 433.5px,#ff8100 436.5px,#ff1f00 438.5px,#f40000 439.5px,#a00000 442.5px,#8f0000 443.5px,#8f0000 496.5px,#ba0000 498.5px,#f30000 500.5px,#ff1600 501.5px,#ff8900 504.5px,#fff300 508.5px,#f2ff0d 509.5px,#7dff82 514.5px,#06fff9 521.5px,#00ecff 524.5px,#0092ff 537.5px,#004bff 559px)"></i>
<i style="height:1px;background:linear-gradient(90deg,#0000e9 0px,#0000f8 31.5px,#0007ff 39.5px,#0026ff 59.5px,#003bff 63.5px,#00e1ff 86.5px,#04fffb 90.5px,#a0ff5f 104.5px,#faff05 113.5px,#ffe300 116.5px,#ffc600 119.5px,#ffaf00 124.5px,#ffac00 128.5px,#ffb800 132.5px,#ffd300 136.5px,#fffa00 139.5px,#ccff33 144.5px,#4effb1 155.5px,#04fffb 161.5px,#00c0ff 170.5px,#00b1ff 174.5px,#00bfff 175.5px,#07fff8 177.5px,#31ffce 178.5px,#64ff9b 179.5px,#8eff71 180.5px,#aeff51 181.5px,#b1ff4e 182.5px,#91ff6e 183.5px,#60ff9f 184.5px,#1affe5 185.5px,#00d4ff 186.5px,#0061ff 189.5px,#0049ff 190.5px,#0023ff 195.5px,#0000fc 212.5px,#0000d0 236.5px,#0000bd 260.5px,#0000ab 336.5px,#0000b9 359.5px,#0000df 381.5px,#0002ff 388.5px,#0031ff 397.5px,#009cff 412.5px,#00f9ff 421.5px,#0afff5 422.5px,#95ff6a 428.5px,#fffa00 432.5px,#ff7f00 435.5px,#ff1c00 437.5px,#f20000 438.5px,#9f0000 441.5px,#8f0000 442.5px,#8f0000 495.5px,#b70000 497.5px,#f00000 499.5px,#ff1400 500.5px,#ff8700 503.5px,#fff100 507.5px,#f4ff0b 508.5px,#7dff82 513.5px,#06fff9 520.5px,#00ecff 523.5px,#0091ff 536.5px,#004aff 557.5px,#0049ff 559px)"></i>
<i style="height:1px;background:linear-gradient(90deg,#0000e9 0px,#0000f8 31.5px,#0007ff 39.5px,#0026ff 59.5px,#003bff 63.5px,#00e2ff 86.5px,#05fffa 90.5px,#98ff67 103.5px,#fbff04 113.5px,#ffcb00 118.5px,#ffb000 124.5px,#ffae00 128.5px,#ffc000 133.5px,#ffcb00 135.5px,#ffff00 139.5px,#55ffaa 154.5px,#00feff 161.5px,#00c3ff 169.5px,#00afff 174.5px,#00f3ff 176.5px,#17ffe8 177.5px,#7cff83 179.5px,#beff41 181.5px,#81ff7e 183.5px,#00f8ff 185.5px,#00c0ff 186.5px,#004fff 189.5px,#0024ff 194.5px,#0000fd 211.5px,#0000d0 235.5px,#0000be 259.5px,#0000ab 335.5px,#0000b9 358.5px,#0000df 380.5px,#0002ff 387.5px,#0031ff 396.5px,#009cff 411.5px,#00f9ff 420.5px,#0afff5 421.5px,#95ff6a 427.5px,#e7ff18 430.5px,#fff900 431.5px,#ff7d00 434.5px,#ff1b00 436.5px,#f10000 437.5px,#9e0000 440.5px,#8f0000 441.5px,#8f0000 494.5px,#b50000 496.5px,#ee0000 498.5px,#ff1000 499.5px,#ff8500 502.5px,#fff000 506.5px,#f5ff0a 507.5px,#7eff81 512.5px,#06fff9 519.5px,#00f3ff 521.5px,#0091ff 535.5px,#004aff 556.5px,#0047ff 559px)"></i>
<i style="height:1px;background:linear-gradient(90deg,#0000e9 0px,#0000f8 31.5px,#0007ff 39.5px,#0026ff 59.5px,#0034ff 62.5px,#00e3ff 86.5px,#00fbff 89.5px,#29ffd6 93.5px,#a3ff5c 104.5px,#fdff02 113.5px,#ffcb00 118.5px,#ffb300 123.5px,#ffae00 127.5px,#ffbe00 132.5px,#ffd100 135.5px,#fff800 138.5px,#efff10 140.5px,#51ffae 154.5px,#07fff8 160.5px,#00f3ff 162.5px,#00c1ff 169.5px,#00b1ff 173.5px,#00beff 174.5px,#05fffa 176.5px,#2fffd0 177.5px,#8dff72 179.5px,#adff52 180.5px,#b3ff4c 181.5px,#92ff6d 182.5px,#63ff9c 183.5px,#1effe1 184.5px,#00d7ff 185.5px,#0063ff 188.5px,#0049ff 189.5px,#0023ff 194.5px,#0000fd 211.5px,#0000d0 235.5px,#0000be 259.5px,#0000ab 334.5px,#0000b9 357.5px,#0000e0 379.5px,#0002ff 386.5px,#0031ff 395.5px,#009cff 410.5px,#00f9ff 419.5px,#0afff5 420.5px,#95ff6a 426.5px,#e8ff17 429.5px,#fff900 430.5px,#ff7d00 433.5px,#ff1a00 435.5px,#f10000 436.5px,#9e0000 439.5px,#8f0000 440.5px,#8f0000 493.5px,#9c0000 494.5px,#cf0000 496.5px,#ec0000 497.5px,#ff0d00 498.5px,#ff8300 501.5px,#ffee00 505.5px,#f6ff09 506.5px,#7fff80 511.5px,#06fff9 518.5px,#00f3ff 520.5px,#0091ff 534.5px,#004aff 555.5px,#0046ff 559px)"></i>
<i style="height:1px;background:linear-gradient(90deg,#0000e9 0px,#0000f8 31.5px,#0007ff 39.5px,#0026ff 59.5px,#0033ff 62.5px,#00e3ff 86.5px,#00fcff 89.5px,#a4ff5b 104.5px,#feff01 113.5px,#ffcb00 118.5px,#ffb400 123.5px,#ffb000 127.5px,#ffbc00 131.5px,#ffd700 135.5px,#fffd00 138.5px,#59ffa6 153.5px,#02fffd 160.5px,#00c4ff 168.5px,#00afff 173.5px,#00f1ff 175.5px,#15ffea 176.5px,#79ff86 178.5px,#bdff42 180.5px,#83ff7c 182.5px,#00fcff 184.5px,#00c3ff 185.5px,#0051ff 188.5px,#0025ff 193.5px,#0000fe 210.5px,#0000d0 235.5px,#0000be 259.5px,#0000ab 333.5px,#0000b9 356.5px,#0000e0 378.5px,#0002ff 385.5px,#0031ff 394.5px,#009cff 409.5px,#00f9ff 418.5px,#0afff5 419.5px,#95ff6a 425.5px,#e8ff17 428.5px,#fff900 429.5px,#ff7c00 432.5px,#ff1900 434.5px,#f00000 435.5px,#b50000 437.5px,#9d0000 438.5px,#8f0000 439.5px,#8f0000 492.5px,#990000 493.5px,#cc0000 495.5px,#e90000 496.5px,#ff0900 497.5px,#ff8100 500.5px,#ffec00 504.5px,#f8ff07 505.5px,#7fff80 510.5px,#07fff8 517.5px,#00f3ff 519.5px,#0091ff 533.5px,#004aff 554.5px,#0044ff 559px)"></i>
<i style="height:1px;background:linear-gradient(90deg,#0000e9 0px,#0000f8 31.5px,#0007ff 39.5px,#0025ff 59.5px,#0033ff 62.5px,#00e4ff 86.5px,#00fdff 89.5px,#9cff63 103.5px,#fffe00 113.5px,#ffcb00 118.5px,#ffb300 124.5px,#ffb600 129.5px,#ffcf00 134.5px,#fcff03 138.5px,#54ffab 153.5px,#00fdff 160.5px,#00c2ff 168.5px,#00b1ff 172.5px,#00bbff 173.5px,#02fffd 175.5px,#2bffd4 176.5px,#8bff74 178.5px,#abff54 179.5px,#b5ff4a 180.5px,#95ff6a 181.5px,#67ff98 182.5px,#22ffdd 183.5px,#00dcff 184.5px,#0065ff 187.5px,#004aff 188.5px,#0023ff 193.5px,#0000fd 210.5px,#0000d0 234.5px,#0000be 259.5px,#0000ab 332.5px,#0000b9 355.5px,#0000e0 377.5px,#0002ff 384.5px,#0031ff 393.5px,#009bff 408.5px,#00f9ff 417.5px,#09fff6 418.5px,#95ff6a 424.5px,#e7ff18 427.5px,#fff900 428.5px,#ff7d00 431.5px,#ff1900 433.5px,#f00000 434.5px,#b50000 436.5px,#9d0000 437.5px,#8f0000 438.5px,#8f0000 491.5px,#970000 492.5px,#e60000 495.5px,#ff0500 496.5px,#ff7e00 499.5px,#ffea00 503.5px,#faff05 504.5px,#81ff7e 509.5px,#08fff7 516.5px,#00f4ff 518.5px,#0091ff 532.5px,#004aff 553.5px,#0043ff 559px)"></i>
<i style="height:1px;background:linear-gradient(90deg,#0000e9 0px,#0000f8 31.5px,#0007ff 39.5px,#0025ff 59.5px,#0033ff 62.5px,#00edff 87.5px,#00feff 89.5px,#9dff62 103.5px,#fffd00 113.5px,#ffcb00 118.5px,#ffb600 123.5px,#ffb500 127.5px,#ffc700 132.5px,#ffe100 135.5px,#fffa00 137.5px,#b7ff48 144.5px,#43ffbc 154.5px,#05fffa 159.5px,#00e2ff 163.5px,#00c0ff 168.5px,#00afff 172.5px,#00eeff 174.5px,#13ffec 175.5px,#76ff89 177.5px,#baff45 179.5px,#a6ff59 180.5px,#86ff79 181.5px,#02fffd 183.5px,#00c6ff 184.5px,#0054ff 187.5px,#0036ff 190.5px,#0022ff 193.5px,#0000fc 210.5px,#0000d0 234.5px,#0000be 258.5px,#0000ab 331.5px,#0000b9 354.5px,#0000e0 376.5px,#0002ff 383.5px,#0031ff 392.5px,#009bff 407.5px,#00f8ff 416.5px,#08fff7 417.5px,#94ff6b 423.5px,#fffa00 427.5px,#ff7e00 430.5px,#ff1a00 432.5px,#f10000 433.5px,#b50000 435.5px,#9d0000 436.5px,#8f0000 437.5px,#8f0000 490.5px,#940000 491.5px,#e30000 494.5px,#ff0100 495.5px,#ff7a00 498.5px,#fcff03 503.5px,#82ff7d 508.5px,#08fff7 515.5px,#00fbff 516.5px,#0091ff 531.5px,#004aff 552.5px,#0041ff 559px)"></i>
<i style="height:1px;background:linear-gradient(90deg,#0000e9 0px,#0000f6 30.5px,#0006ff 38.5px,#0025ff 59.5px,#0033ff 62.5px,#00eeff 87.5px,#00feff 89.5px,#95ff6a 102.5px,#fffb00 113.5px,#ffd100 117.5px,#ffb900 122.5px,#ffb500 126.5px,#ffc500 131.5px,#ffda00 134.5px,#ffff00 137.5px,#57ffa8 152.5px,#01fffe 159.5px,#00c3ff 167.5px,#00b1ff 171.5px,#00b8ff 172.5px,#00feff 174.5px,#27ffd8 175.5px,#88ff77 177.5px,#a9ff56 178.5px,#b8ff47 179.5px,#98ff67 180.5px,#6eff91 181.5px,#28ffd7 182.5px,#00e2ff 183.5px,#008eff 185.5px,#004aff 187.5px,#0023ff 192.5px,#0000fd 209.5px,#0000d1 233.5px,#0000be 258.5px,#0000ab 330.5px,#0000b9 353.5px,#0000e0 375.5px,#0002ff 382.5px,#0031ff 391.5px,#009aff 406.5px,#00f8ff 415.5px,#07fff8 416.5px,#93ff6c 422.5px,#fffc00 426.5px,#ff7f00 429.5px,#ff1c00 431.5px,#f20000 432.5px,#9e0000 435.5px,#8f0000 436.5px,#910000 490.5px,#df0000 493.5px,#fd0000 494.5px,#ff7600 497.5px,#feff01 502.5px,#84ff7b 507.5px,#09fff6 514.5px,#00fcff 515.5px,#0091ff 530.5px,#004aff 551.5px,#0040ff 559px)"></i>
<i style="height:1px;background:linear-gradient(90deg,#0000e9 0px,#0000f6 30.5px,#0006ff 38.5px,#0025ff 59.5px,#0033ff 62.5px,#00efff 87.5px,#00ffff 89.5px,#96ff69 102.5px,#faff05 112.5px,#ffda00 116.5px,#ffba00 122.5px,#ffb700 126.5px,#ffc800 131.5px,#ffd300 133.5px,#fff800 136.5px,#efff10 138.5px,#5fffa0 151.5px,#00fcff 159.5px,#00c1ff 167.5px,#00afff 171.5px,#00c7ff 172.5px,#00ebff 173.5px,#0ffff0 174.5px,#70ff8f 176.5px,#b7ff48 178.5px,#aaff55 179.5px,#89ff76 180.5px,#4fffb0 181.5px,#09fff6 182.5px,#00c9ff 183.5px,#0058ff 186.5px,#0047ff 187.5px,#0022ff 192.5px,#0000fd 209.5px,#0000d1 233.5px,#0000be 257.5px,#0000ab 329.5px,#0000b9 352.5px,#0000df 374.5px,#0002ff 381.5px,#0030ff 390.5px,#0099ff 405.5px,#00f7ff 414.5px,#06fff9 415.5px,#91ff6e 421.5px,#fffe00 425.5px,#ff8100 428.5px,#ff1d00 430.5px,#f30000 431.5px,#9f0000 434.5px,#8f0000 435.5px,#8f0000 489.5px,#dc0000 492.5px,#f90000 493.5px,#ff2000 494.5px,#ff7200 496.5px,#fffe00 501.5px,#86ff79 506.5px,#0afff5 513.5px,#00fcff 514.5px,#0091ff 529.5px,#004aff 550.5px,#003eff 559px)"></i>
<i style="height:1px;background:linear-gradient(90deg,#0000e9 0px,#0000f6 30.5px,#0006ff 38.5px,#0024ff 59.5px,#0032ff 62.5px,#01fffe 89.5px,#97ff68 102.5px,#fbff04 112.5px,#ffd100 117.5px,#ffb900 123.5px,#ffbd00 128.5px,#ffd900 133.5px,#fffd00 136.5px,#67ff98 150.5px,#04fffb 158.5px,#00c4ff 166.5px,#00b2ff 170.5px,#00b3ff 171.5px,#00faff 173.5px,#21ffde 174.5px,#84ff7b 176.5px,#a5ff5a 177.5px,#bcff43 178.5px,#76ff89 180.5px,#30ffcf 181.5px,#00eaff 182.5px,#00b9ff 183.5px,#004bff 186.5px,#0023ff 191.5px,#0000fe 208.5px,#0000d1 232.5px,#0000be 257.5px,#0000ab 328.5px,#0000b9 351.5px,#0000df 373.5px,#0001ff 380.5px,#0030ff 389.5px,#0098ff 404.5px,#04fffb 414.5px,#8fff70 420.5px,#feff01 424.5px,#ff8300 427.5px,#ff2000 429.5px,#f40000 430.5px,#a00000 433.5px,#8f0000 434.5px,#8f0000 488.5px,#bb0000 490.5px,#f50000 492.5px,#ff1b00 493.5px,#ff6d00 495.5px,#ffaa00 497.5px,#fffb00 500.5px,#74ff8b 506.5px,#0bfff4 512.5px,#00fcff 513.5px,#0091ff 528.5px,#004aff 549.5px,#003cff 559px)"></i>
<i style="height:1px;background:linear-gradient(90deg,#0000e8 0px,#0000f6 30.5px,#0005ff 38.5px,#0024ff 59.5px,#0032ff 62.5px,#02fffd 89.5px,#99ff66 102.5px,#fdff02 112.5px,#ffd100 117.5px,#ffbc00 122.5px,#ffb900 125.5px,#ffc900 130.5px,#ffde00 133.5px,#fcff03 136.5px,#62ff9d 150.5px,#00feff 158.5px,#00c2ff 166.5px,#00b0ff 170.5px,#00c2ff 171.5px,#00e6ff 172.5px,#0afff5 173.5px,#6aff95 175.5px,#b3ff4c 177.5px,#aeff51 178.5px,#8eff71 179.5px,#58ffa7 180.5px,#13ffec 181.5px,#00ceff 182.5px,#005dff 185.5px,#0048ff 186.5px,#0022ff 191.5px,#0000fd 208.5px,#0000d1 232.5px,#0000be 257.5px,#0000ab 327.5px,#0000b9 350.5px,#0000df 372.5px,#0001ff 379.5px,#0037ff 389.5px,#0097ff 403.5px,#02fffd 413.5px,#8dff72 419.5px,#fdff02 423.5px,#ff8600 426.5px,#ff2300 428.5px,#f60000 429.5px,#a10000 432.5px,#8f0000 433.5px,#8f0000 487.5px,#b70000 489.5px,#f20000 491.5px,#ff1600 492.5px,#ff8b00 495.5px,#fff800 499.5px,#d4ff2b 501.5px,#76ff89 505.5px,#0cfff3 511.5px,#00fdff 512.5px,#0091ff 527.5px,#004aff 548.5px,#003bff 559px)"></i>
<i style="height:1px;background:linear-gradient(90deg,#0000e8 0px,#0000f6 30.5px,#0005ff 38.5px,#0024ff 59.5px,#0032ff 62.5px,#03fffc 89.5px,#90ff6f 101.5px,#feff01 112.5px,#ffd100 117.5px,#ffbd00 122.5px,#ffbd00 126.5px,#ffd100 131.5px,#ffef00 134.5px,#f7ff08 136.5px,#5effa1 150.5px,#07fff8 157.5px,#00f3ff 159.5px,#00c0ff 166.5px,#00aeff 170.5px,#00f5ff 172.5px,#19ffe6 173.5px,#7fff80 175.5px,#c1ff3e 177.5px,#80ff7f 179.5px,#3bffc4 180.5px,#00f4ff 181.5px,#00beff 182.5px,#004dff 185.5px,#0024ff 190.5px,#0000ff 207.5px,#0000d2 231.5px,#0000be 256.5px,#0000ab 326.5px,#0000b9 349.5px,#0000df 371.5px,#0001ff 378.5px,#0036ff 388.5px,#00a0ff 403.5px,#00ffff 412.5px,#8bff74 418.5px,#faff05 422.5px,#ffb200 424.5px,#ff5800 426.5px,#ff2600 427.5px,#f80000 428.5px,#a20000 431.5px,#8f0000 432.5px,#8f0000 486.5px,#9b0000 487.5px,#d00000 489.5px,#ed0000 490.5px,#ff1100 491.5px,#ff8800 494.5px,#fff500 498.5px,#efff10 499.5px,#77ff88 504.5px,#00fdff 511.5px,#0091ff 526.5px,#0049ff 547.5px,#0039ff 559px)"></i>
<i style="height:1px;background:linear-gradient(90deg,#0000e8 0px,#0000f6 30.5px,#0005ff 38.5px,#0024ff 59.5px,#0032ff 62.5px,#00faff 88.5px,#10ffef 90.5px,#91ff6e 101.5px,#fffe00 112.5px,#ffd100 117.5px,#ffbd00 122.5px,#ffc100 127.5px,#ffdd00 132.5px,#feff01 135.5px,#65ff9a 149.5px,#02fffd 157.5px,#00c3ff 165.5px,#00b1ff 169.5px,#00bcff 170.5px,#04fffb 172.5px,#2effd1 173.5px,#8dff72 175.5px,#aeff51 176.5px,#b4ff4b 177.5px,#93ff6c 178.5px,#63ff9c 179.5px,#1effe1 180.5px,#00d8ff 181.5px,#0063ff 184.5px,#0049ff 185.5px,#0023ff 190.5px,#0000fe 207.5px,#0000d1 231.5px,#0000be 256.5px,#0000ab 325.5px,#0000b8 348.5px,#0000de 370.5px,#0001ff 377.5px,#0035ff 387.5px,#009fff 402.5px,#00feff 411.5px,#88ff77 417.5px,#f8ff07 421.5px,#ffe000 422.5px,#ff5d00 425.5px,#fa0000 427.5px,#a40000 430.5px,#8f0000 431.5px,#8f0000 485.5px,#980000 486.5px,#cb0000 488.5px,#e90000 489.5px,#ff0b00 490.5px,#ff8400 493.5px,#fff200 497.5px,#f2ff0d 498.5px,#79ff86 503.5px,#00feff 510.5px,#0091ff 525.5px,#0049ff 546.5px,#0038ff 559px)"></i>
<i style="height:1px;background:linear-gradient(90deg,#0000e8 0px,#0000f6 30.5px,#0004ff 37.5px,#0024ff 59.5px,#0032ff 62.5px,#00fbff 88.5px,#12ffed 90.5px,#93ff6c 101.5px,#fffd00 112.5px,#ffd600 116.5px,#ffbe00 122.5px,#ffc300 127.5px,#ffd700 131.5px,#fff900 134.5px,#efff10 136.5px,#61ff9e 149.5px,#00fdff 157.5px,#00c1ff 165.5px,#00aeff 169.5px,#00eeff 171.5px,#13ffec 172.5px,#76ff89 174.5px,#bbff44 176.5px,#a7ff58 177.5px,#86ff79 178.5px,#02fffd 180.5px,#00c5ff 181.5px,#0054ff 184.5px,#0036ff 187.5px,#0022ff 190.5px,#0000ff 206.5px,#0000d1 231.5px,#0000be 256.5px,#0000ab 324.5px,#0000b8 347.5px,#0000de 369.5px,#0000ff 376.5px,#0035ff 386.5px,#009eff 401.5px,#00fdff 410.5px,#6dff92 415.5px,#f5ff0a 420.5px,#ffe400 421.5px,#ff6100 424.5px,#fd0000 426.5px,#a60000 429.5px,#8f0000 430.5px,#8f0000 484.5px,#940000 485.5px,#ff0500 489.5px,#ff8000 492.5px,#ffef00 496.5px,#f5ff0a 497.5px,#7bff84 502.5px,#00ffff 509.5px,#0091ff 524.5px,#0049ff 545.5px,#0036ff 559px)"></i>
<i style="height:1px;background:linear-gradient(90deg,#0000e8 0px,#0000f5 30.5px,#0004ff 37.5px,#0023ff 59.5px,#0031ff 62.5px,#00fbff 88.5px,#1fffe0 91.5px,#94ff6b 101.5px,#fffc00 112.5px,#ffd600 116.5px,#ffbf00 122.5px,#ffcb00 128.5px,#ffdb00 131.5px,#fffe00 134.5px,#69ff96 148.5px,#05fffa 156.5px,#00e2ff 160.5px,#00bfff 165.5px,#00b1ff 168.5px,#00b5ff 169.5px,#00fcff 171.5px,#24ffdb 172.5px,#86ff79 174.5px,#a8ff57 175.5px,#bbff44 176.5px,#71ff8e 178.5px,#2cffd3 179.5px,#00e5ff 180.5px,#00b6ff 181.5px,#006aff 183.5px,#004bff 184.5px,#0023ff 189.5px,#0000ff 206.5px,#0000d2 230.5px,#0000bf 255.5px,#0000ab 323.5px,#0000b8 346.5px,#0000dd 368.5px,#0004ff 376.5px,#0034ff 385.5px,#009cff 400.5px,#00fbff 409.5px,#0ffff0 410.5px,#82ff7d 415.5px,#f2ff0d 419.5px,#ffe900 420.5px,#ff6700 423.5px,#ff0200 425.5px,#a90000 428.5px,#910000 429.5px,#900000 484.5px,#e00000 487.5px,#fe0000 488.5px,#ff7b00 491.5px,#ffeb00 495.5px,#f8ff07 496.5px,#7dff82 501.5px,#00ffff 508.5px,#0092ff 523.5px,#004bff 543.5px,#0034ff 559px)"></i>
<i style="height:1px;background:linear-gradient(90deg,#0000e8 0px,#0000f5 30.5px,#0004ff 37.5px,#0023ff 59.5px,#0031ff 62.5px,#00fcff 88.5px,#6aff95 97.5px,#f9ff06 111.5px,#ffe600 114.5px,#ffc700 119.5px,#ffc200 124.5px,#ffd800 130.5px,#fcff03 134.5px,#64ff9b 148.5px,#00ffff 156.5px,#00c2ff 164.5px,#00afff 168.5px,#00c3ff 169.5px,#00e7ff 170.5px,#0bfff4 171.5px,#6bff94 173.5px,#b5ff4a 175.5px,#aeff51 176.5px,#8dff72 177.5px,#56ffa9 178.5px,#10ffef 179.5px,#00cdff 180.5px,#005cff 183.5px,#0048ff 184.5px,#0022ff 189.5px,#0000fe 206.5px,#0000d2 230.5px,#0000bf 255.5px,#0000aa 322.5px,#0000b8 345.5px,#0000e2 368.5px,#0004ff 375.5px,#003aff 385.5px,#009aff 399.5px,#00faff 408.5px,#0cfff3 409.5px,#7eff81 414.5px,#eeff11 418.5px,#ffee00 419.5px,#ff6d00 422.5px,#ff0800 424.5px,#e60000 425.5px,#940000 428.5px,#8f0000 433.5px,#8f0000 483.5px,#bd0000 485.5px,#f90000 487.5px,#ff2100 488.5px,#ff7500 490.5px,#fbff04 495.5px,#7fff80 500.5px,#02fffd 507.5px,#0092ff 522.5px,#004bff 542.5px,#0033ff 559px)"></i>
<i style="height:1px;background:linear-gradient(90deg,#0000e8 0px,#0000f5 30.5px,#0004ff 37.5px,#0023ff 59.5px,#0031ff 62.5px,#00fdff 88.5px,#97ff68 101.5px,#fbff04 111.5px,#ffd600 116.5px,#ffc300 121.5px,#ffc800 126.5px,#ffdb00 130.5px,#fffc00 133.5px,#6cff93 147.5px,#00fcff 156.5px,#00c5ff 163.5px,#00adff 168.5px,#00f4ff 170.5px,#19ffe6 171.5px,#7fff80 173.5px,#c2ff3d 175.5px,#80ff7f 177.5px,#3bffc4 178.5px,#00f4ff 179.5px,#00bfff 180.5px,#004dff 183.5px,#0024ff 188.5px,#0000ff 205.5px,#0000d1 230.5px,#0000bf 255.5px,#0000aa 321.5px,#0000b8 344.5px,#0000e1 367.5px,#0003ff 374.5px,#0039ff 384.5px,#0098ff 398.5px,#00f8ff 407.5px,#08fff7 408.5px,#96ff69 414.5px,#eaff15 417.5px,#fff500 418.5px,#ff7400 421.5px,#ff0f00 423.5px,#ea0000 424.5px,#ae0000 426.5px,#970000 427.5px,#8f0000 428.5px,#8f0000 482.5px,#b80000 484.5px,#f40000 486.5px,#ff1b00 487.5px,#ff6e00 489.5px,#ffc700 492.5px,#ffff00 494.5px,#82ff7d 499.5px,#04fffb 506.5px,#0092ff 521.5px,#004bff 541.5px,#0031ff 559px)"></i>
<i style="height:1px;background:linear-gradient(90deg,#0000e8 0px,#0000f5 30.5px,#0004ff 37.5px,#0023ff 59.5px,#0031ff 62.5px,#00feff 88.5px,#98ff67 101.5px,#fcff03 111.5px,#ffd700 116.5px,#ffc200 122.5px,#ffd400 128.5px,#ffea00 131.5px,#feff01 133.5px,#67ff98 147.5px,#04fffb 155.5px,#00c3ff 163.5px,#00b0ff 167.5px,#00baff 168.5px,#03fffc 170.5px,#2cffd3 171.5px,#8cff73 173.5px,#adff52 174.5px,#b6ff49 175.5px,#95ff6a 176.5px,#66ff99 177.5px,#20ffdf 178.5px,#00daff 179.5px,#0064ff 182.5px,#0049ff 183.5px,#0023ff 188.5px,#0000ff 205.5px,#0000d2 229.5px,#0000bf 255.5px,#0000aa 320.5px,#0000b7 343.5px,#0000e0 366.5px,#0002ff 373.5px,#0031ff 382.5px,#0096ff 397.5px,#04fffb 407.5px,#91ff6e 413.5px,#fffb00 417.5px,#ff7c00 420.5px,#ff1700 422.5px,#ef0000 423.5px,#b20000 425.5px,#9a0000 426.5px,#8f0000 427.5px,#8f0000 481.5px,#9b0000 482.5px,#d10000 484.5px,#ef0000 485.5px,#ff1400 486.5px,#ff8b00 489.5px,#fffb00 493.5px,#85ff7a 498.5px,#06fff9 505.5px,#00ebff 508.5px,#0092ff 520.5px,#004bff 540.5px,#0030ff 559px)"></i>
<i style="height:1px;background:linear-gradient(90deg,#0000e8 0px,#0000f5 30.5px,#0004ff 37.5px,#0022ff 59.5px,#0031ff 62.5px,#00feff 88.5px,#90ff6f 100.5px,#fdff02 111.5px,#ffd700 116.5px,#ffc400 122.5px,#ffd700 128.5px,#ffef00 131.5px,#f9ff06 133.5px,#63ff9c 147.5px,#00feff 155.5px,#00c1ff 163.5px,#00aeff 167.5px,#00c7ff 168.5px,#00ebff 169.5px,#10ffef 170.5px,#72ff8d 172.5px,#baff45 174.5px,#aaff55 175.5px,#88ff77 176.5px,#4cffb3 177.5px,#07fff8 178.5px,#00c8ff 179.5px,#0056ff 182.5px,#003eff 184.5px,#0022ff 188.5px,#0000fe 205.5px,#0000d2 229.5px,#0000be 255.5px,#0000aa 319.5px,#0000b9 343.5px,#0000df 365.5px,#0002ff 372.5px,#0037ff 382.5px,#009fff 397.5px,#00ffff 406.5px,#8cff73 412.5px,#fcff03 416.5px,#ff8400 419.5px,#ff2000 421.5px,#f30000 422.5px,#9e0000 425.5px,#8f0000 426.5px,#8f0000 480.5px,#970000 481.5px,#cc0000 483.5px,#ea0000 484.5px,#ff0d00 485.5px,#ff8700 488.5px,#fff700 492.5px,#d4ff2b 494.5px,#74ff8b 498.5px,#08fff7 504.5px,#00f3ff 506.5px,#0092ff 519.5px,#004bff 539.5px,#002eff 559px)"></i>
<i style="height:1px;background:linear-gradient(90deg,#0000e8 0px,#0000f5 30.5px,#0004ff 37.5px,#0022ff 59.5px,#0030ff 62.5px,#00ffff 88.5px,#91ff6e 100.5px,#ffff00 111.5px,#ffdc00 115.5px,#ffc600 121.5px,#ffd000 126.5px,#ffe900 130.5px,#fffe00 132.5px,#6bff94 146.5px,#07fff8 154.5px,#00f3ff 156.5px,#00c4ff 162.5px,#00b1ff 167.5px,#00f9ff 169.5px,#1fffe0 170.5px,#83ff7c 172.5px,#bfff40 174.5px,#78ff87 176.5px,#32ffcd 177.5px,#00ecff 178.5px,#00baff 179.5px,#004cff 182.5px,#0023ff 187.5px,#0001ff 204.5px,#0000d2 229.5px,#0000bf 254.5px,#0000aa 318.5px,#0000b9 342.5px,#0000df 364.5px,#0001ff 371.5px,#0036ff 381.5px,#009dff 396.5px,#00fdff 405.5px,#40ffbf 408.5px,#a3ff5c 412.5px,#f7ff08 415.5px,#ffe000 416.5px,#ff8c00 418.5px,#ff2800 420.5px,#f90000 421.5px,#a20000 424.5px,#8f0000 425.5px,#930000 480.5px,#ff0500 484.5px,#ff8200 487.5px,#fff300 491.5px,#f1ff0e 492.5px,#76ff89 497.5px,#0afff5 503.5px,#00fbff 504.5px,#0093ff 518.5px,#004bff 538.5px,#002eff 559px)"></i>
<i style="height:1px;background:linear-gradient(90deg,#0000e8 0px,#0000f5 30.5px,#0004ff 37.5px,#0022ff 59.5px,#0030ff 62.5px,#01fffe 88.5px,#92ff6d 100.5px,#fffe00 111.5px,#ffdc00 115.5px,#ffc700 121.5px,#ffd300 126.5px,#ffee00 130.5px,#fbff04 132.5px,#66ff99 146.5px,#02fffd 154.5px,#00c2ff 162.5px,#00afff 166.5px,#00bdff 167.5px,#06fff9 169.5px,#8fff70 172.5px,#b1ff4e 173.5px,#b3ff4c 174.5px,#91ff6e 175.5px,#5fffa0 176.5px,#19ffe6 177.5px,#00d3ff 178.5px,#0061ff 181.5px,#0049ff 182.5px,#0022ff 187.5px,#0000ff 204.5px,#0000d3 228.5px,#0000bf 254.5px,#0000ab 318.5px,#0000b8 341.5px,#0000de 363.5px,#0000ff 370.5px,#0034ff 380.5px,#009aff 395.5px,#00faff 404.5px,#0dfff2 405.5px,#81ff7e 410.5px,#f2ff0d 414.5px,#ffe900 415.5px,#ff6500 418.5px,#fe0000 420.5px,#a60000 423.5px,#8f0000 424.5px,#8f0000 479.5px,#df0000 482.5px,#fd0000 483.5px,#ff7c00 486.5px,#ffee00 490.5px,#f5ff0a 491.5px,#79ff86 496.5px,#0cfff3 502.5px,#00fcff 503.5px,#0093ff 517.5px,#004bff 537.5px,#002dff 559px)"></i>
<i style="height:1px;background:linear-gradient(90deg,#0000e8 0px,#0000f5 30.5px,#0004ff 37.5px,#0022ff 59.5px,#0030ff 62.5px,#02fffd 88.5px,#8aff75 99.5px,#fffd00 111.5px,#ffdc00 115.5px,#ffc900 121.5px,#ffdb00 127.5px,#fffc00 131.5px,#6eff91 145.5px,#00fdff 154.5px,#00c0ff 162.5px,#00adff 166.5px,#00eeff 168.5px,#13ffec 169.5px,#77ff88 171.5px,#bdff42 173.5px,#a7ff58 174.5px,#85ff7a 175.5px,#01fffe 177.5px,#00c5ff 178.5px,#0053ff 181.5px,#002dff 185.5px,#001cff 189.5px,#0000fc 205.5px,#0000d2 228.5px,#0000bf 254.5px,#0000aa 317.5px,#0000b8 340.5px,#0000e2 363.5px,#0004ff 370.5px,#003aff 380.5px,#0098ff 394.5px,#00f8ff 403.5px,#08fff7 404.5px,#97ff68 410.5px,#ecff13 413.5px,#fff100 414.5px,#ff6f00 417.5px,#ff0900 419.5px,#e60000 420.5px,#930000 423.5px,#8f0000 433.5px,#8f0000 478.5px,#ba0000 480.5px,#f80000 482.5px,#ff2000 483.5px,#ff7500 485.5px,#ffea00 489.5px,#f9ff06 490.5px,#7bff84 495.5px,#00fdff 502.5px,#0093ff 516.5px,#004bff 536.5px,#002dff 559px)"></i>
<i style="height:1px;background:linear-gradient(90deg,#0000e8 0px,#0000f5 30.5px,#0004ff 37.5px,#0022ff 59.5px,#0030ff 62.5px,#03fffc 88.5px,#8bff74 99.5px,#fffc00 111.5px,#ffdc00 115.5px,#ffcb00 121.5px,#ffde00 127.5px,#fdff02 131.5px,#69ff96 145.5px,#05fffa 153.5px,#00e1ff 157.5px,#00c3ff 161.5px,#00b0ff 165.5px,#00b2ff 166.5px,#00fbff 168.5px,#22ffdd 169.5px,#85ff7a 171.5px,#a7ff58 172.5px,#bdff42 173.5px,#73ff8c 175.5px,#2effd1 176.5px,#00e8ff 177.5px,#00b8ff 178.5px,#004bff 181.5px,#0023ff 186.5px,#0003ff 202.5px,#0000d2 228.5px,#0000bf 254.5px,#0000aa 316.5px,#0000b8 339.5px,#0000e1 362.5px,#0003ff 369.5px,#0038ff 379.5px,#00a0ff 394.5px,#03fffc 403.5px,#91ff6e 409.5px,#fffa00 413.5px,#ff7a00 416.5px,#ff1400 418.5px,#ec0000 419.5px,#b00000 421.5px,#980000 422.5px,#8f0000 423.5px,#8f0000 477.5px,#9c0000 478.5px,#d30000 480.5px,#f20000 481.5px,#ff1800 482.5px,#ff6d00 484.5px,#ffac00 486.5px,#fdff02 489.5px,#7eff81 494.5px,#00ffff 501.5px,#0090ff 516.5px,#0049ff 536.5px,#002dff 557.5px,#002dff 559px)"></i>
<i style="height:1px;background:linear-gradient(90deg,#0000e7 0px,#0000f5 30.5px,#0004ff 37.5px,#0023ff 60.5px,#00b0ff 78.5px,#00faff 87.5px,#05fffa 88.5px,#8dff72 99.5px,#faff05 110.5px,#ffe100 114.5px,#ffcc00 120.5px,#ffd700 125.5px,#fff100 129.5px,#f9ff06 131.5px,#65ff9a 145.5px,#00ffff 153.5px,#00c1ff 161.5px,#00aeff 165.5px,#00bfff 166.5px,#00e3ff 167.5px,#08fff7 168.5px,#91ff6e 171.5px,#b3ff4c 172.5px,#b2ff4d 173.5px,#90ff6f 174.5px,#5cffa3 175.5px,#16ffe9 176.5px,#00d0ff 177.5px,#005fff 180.5px,#0048ff 181.5px,#0022ff 186.5px,#0000ff 203.5px,#0000d3 227.5px,#0000bf 254.5px,#0000aa 315.5px,#0000b9 339.5px,#0000e0 361.5px,#0002ff 368.5px,#0037ff 378.5px,#009dff 393.5px,#00feff 402.5px,#8aff75 408.5px,#fcff03 412.5px,#ff8400 415.5px,#ff1f00 417.5px,#f30000 418.5px,#b60000 420.5px,#9d0000 421.5px,#8f0000 422.5px,#8f0000 476.5px,#970000 477.5px,#cd0000 479.5px,#eb0000 480.5px,#ff0f00 481.5px,#ff8a00 484.5px,#fffb00 488.5px,#83ff7c 493.5px,#03fffc 500.5px,#0091ff 515.5px,#004aff 535.5px,#002dff 556.5px,#002dff 559px)"></i>
<i style="height:1px;background:linear-gradient(90deg,#0000e7 0px,#0000f5 30.5px,#0004ff 37.5px,#0023ff 60.5px,#00a8ff 77.5px,#00fbff 87.5px,#13ffec 89.5px,#8eff71 99.5px,#fbff04 110.5px,#ffdd00 115.5px,#ffcd00 120.5px,#ffdf00 126.5px,#ffff00 130.5px,#6cff93 144.5px,#00fcff 153.5px,#00c4ff 160.5px,#00acff 165.5px,#00efff 167.5px,#14ffeb 168.5px,#78ff87 170.5px,#bfff40 172.5px,#a6ff59 173.5px,#84ff7b 174.5px,#00feff 176.5px,#00c4ff 177.5px,#0052ff 180.5px,#0025ff 185.5px,#0006ff 199.5px,#0000f9 206.5px,#0000d3 227.5px,#0000bf 253.5px,#0000aa 314.5px,#0000b8 338.5px,#0000de 360.5px,#0001ff 367.5px,#0035ff 377.5px,#009bff 392.5px,#00fbff 401.5px,#0ffff0 402.5px,#84ff7b 407.5px,#f5ff0a 411.5px,#ffe300 412.5px,#ff5e00 415.5px,#fa0000 417.5px,#a30000 420.5px,#8f0000 421.5px,#920000 476.5px,#e50000 479.5px,#ff0600 480.5px,#ff8400 483.5px,#fff500 487.5px,#eeff11 488.5px,#74ff8b 493.5px,#06fff9 499.5px,#00f2ff 501.5px,#0091ff 514.5px,#004aff 534.5px,#002dff 556.5px,#002dff 559px)"></i>
<i style="height:1px;background:linear-gradient(90deg,#0000e7 0px,#0000f5 30.5px,#0004ff 37.5px,#0023ff 60.5px,#00a0ff 76.5px,#00fbff 87.5px,#21ffde 90.5px,#8fff70 99.5px,#fcff03 110.5px,#ffe200 114.5px,#ffcf00 120.5px,#ffe200 126.5px,#fbff04 130.5px,#68ff97 144.5px,#03fffc 152.5px,#00c2ff 160.5px,#00afff 164.5px,#00b3ff 165.5px,#00fbff 167.5px,#23ffdc 168.5px,#86ff79 170.5px,#a8ff57 171.5px,#bdff42 172.5px,#72ff8d 174.5px,#2dffd2 175.5px,#00e6ff 176.5px,#00b7ff 177.5px,#004bff 180.5px,#0023ff 185.5px,#0004ff 200.5px,#0000ee 211.5px,#0000d2 228.5px,#0000bf 254.5px,#0000ab 314.5px,#0000b8 337.5px,#0000dd 359.5px,#0004ff 367.5px,#003aff 377.5px,#0098ff 391.5px,#00f9ff 400.5px,#09fff6 401.5px,#99ff66 407.5px,#eeff11 410.5px,#ffee00 411.5px,#ff6b00 414.5px,#ff0500 416.5px,#910000 420.5px,#8f0000 475.5px,#c00000 477.5px,#fd0000 479.5px,#ff7d00 482.5px,#ffef00 486.5px,#f4ff0b 487.5px,#78ff87 492.5px,#0afff5 498.5px,#00fcff 499.5px,#0092ff 513.5px,#004aff 533.5px,#002dff 555.5px,#002cff 559px)"></i>
<i style="height:1px;background:linear-gradient(90deg,#0000e7 0px,#0000f5 30.5px,#0004ff 37.5px,#0022ff 60.5px,#00a1ff 76.5px,#00fcff 87.5px,#48ffb7 93.5px,#91ff6e 99.5px,#fdff02 110.5px,#ffe200 114.5px,#ffd100 119.5px,#ffdb00 124.5px,#fff400 128.5px,#fffe00 129.5px,#70ff8f 143.5px,#00feff 152.5px,#00c0ff 160.5px,#00aeff 164.5px,#00beff 165.5px,#00e3ff 166.5px,#08fff7 167.5px,#91ff6e 170.5px,#b3ff4c 171.5px,#b2ff4d 172.5px,#90ff6f 173.5px,#5bffa4 174.5px,#16ffe9 175.5px,#00d0ff 176.5px,#005fff 179.5px,#0048ff 180.5px,#0022ff 185.5px,#0003ff 201.5px,#0000d3 227.5px,#0000bf 254.5px,#0000aa 313.5px,#0000b8 336.5px,#0000e1 359.5px,#0003ff 366.5px,#0038ff 376.5px,#0095ff 390.5px,#03fffc 400.5px,#92ff6d 406.5px,#e7ff18 409.5px,#fff900 410.5px,#ff7800 413.5px,#ff1200 415.5px,#eb0000 416.5px,#af0000 418.5px,#970000 419.5px,#8f0000 420.5px,#8f0000 474.5px,#a00000 475.5px,#f60000 478.5px,#ff1e00 479.5px,#ff7300 481.5px,#ffe900 485.5px,#faff05 486.5px,#7cff83 491.5px,#00fdff 498.5px,#0093ff 512.5px,#004bff 532.5px,#002dff 554.5px,#002cff 559px)"></i>
<i style="height:1px;background:linear-gradient(90deg,#0000e7 0px,#0000f5 30.5px,#0003ff 37.5px,#0022ff 60.5px,#0098ff 75.5px,#00fdff 87.5px,#92ff6d 99.5px,#feff01 110.5px,#ffe200 114.5px,#ffd200 119.5px,#ffe300 125.5px,#fcff03 129.5px,#6bff94 143.5px,#07fff8 151.5px,#00f3ff 153.5px,#00c3ff 159.5px,#00acff 164.5px,#00eeff 166.5px,#14ffeb 167.5px,#78ff87 169.5px,#bfff40 171.5px,#a7ff58 172.5px,#85ff7a 173.5px,#00ffff 175.5px,#00c4ff 176.5px,#0052ff 179.5px,#0025ff 184.5px,#0007ff 198.5px,#0000f7 206.5px,#0000d3 226.5px,#0000bf 253.5px,#0000aa 312.5px,#0000b9 336.5px,#0000df 358.5px,#0002ff 365.5px,#0037ff 375.5px,#009dff 390.5px,#00fdff 399.5px,#8aff75 405.5px,#fbff04 409.5px,#ffb000 411.5px,#ff5400 413.5px,#ff2100 414.5px,#f40000 415.5px,#9e0000 418.5px,#8f0000 419.5px,#8f0000 473.5px,#9a0000 474.5px,#d10000 476.5px,#ef0000 477.5px,#ff1500 478.5px,#ff6a00 480.5px,#ffaa00 482.5px,#ffff00 485.5px,#80ff7f 490.5px,#00ffff 497.5px,#0090ff 512.5px,#0049ff 532.5px,#002dff 553.5px,#002cff 559px)"></i>
<i style="height:1px;background:linear-gradient(90deg,#0000e7 0px,#0000f5 30.5px,#0003ff 37.5px,#0022ff 60.5px,#0099ff 75.5px,#00feff 87.5px,#89ff76 98.5px,#ffff00 110.5px,#ffe300 114.5px,#ffd300 119.5px,#ffe500 125.5px,#fffc00 128.5px,#73ff8c 142.5px,#02fffd 151.5px,#00c1ff 159.5px,#00afff 163.5px,#00b1ff 164.5px,#00faff 166.5px,#22ffdd 167.5px,#85ff7a 169.5px,#a7ff58 170.5px,#bfff40 171.5px,#74ff8b 173.5px,#2fffd0 174.5px,#00e9ff 175.5px,#00b8ff 176.5px,#004bff 179.5px,#0023ff 184.5px,#0006ff 198.5px,#0000f9 205.5px,#0000d3 226.5px,#0000bf 253.5px,#0000aa 311.5px,#0000b8 335.5px,#0000de 357.5px,#0000ff 364.5px,#0035ff 374.5px,#009aff 389.5px,#00faff 398.5px,#0dfff2 399.5px,#81ff7e 404.5px,#f3ff0c 408.5px,#ffe700 409.5px,#ff6300 412.5px,#fd0000 414.5px,#a50000 417.5px,#8f0000 418.5px,#8f0000 472.5px,#950000 473.5px,#e80000 476.5px,#ff0b00 477.5px,#ff8700 480.5px,#fff800 484.5px,#d2ff2d 486.5px,#86ff79 489.5px,#04fffb 496.5px,#00b4ff 506.5px,#0091ff 511.5px,#004aff 531.5px,#002dff 553.5px,#002cff 559px)"></i>
<i style="height:1px;background:linear-gradient(90deg,#0000e7 0px,#0000f5 30.5px,#0003ff 37.5px,#0022ff 60.5px,#0099ff 75.5px,#00feff 87.5px,#8bff74 98.5px,#fffe00 110.5px,#ffe300 114.5px,#ffd500 119.5px,#ffe800 125.5px,#feff01 128.5px,#6eff91 142.5px,#00fdff 151.5px,#00c4ff 158.5px,#00adff 163.5px,#00bcff 164.5px,#06fff9 166.5px,#90ff6f 169.5px,#b2ff4d 170.5px,#b4ff4b 171.5px,#92ff6d 172.5px,#5fffa0 173.5px,#1affe5 174.5px,#00d3ff 175.5px,#0061ff 178.5px,#0049ff 179.5px,#0023ff 184.5px,#0005ff 199.5px,#0000f0 209.5px,#0000d3 226.5px,#0000be 254.5px,#0000aa 311.5px,#0000b8 334.5px,#0000e1 357.5px,#0004ff 364.5px,#0039ff 374.5px,#0097ff 388.5px,#00f7ff 397.5px,#06fff9 398.5px,#95ff6a 404.5px,#eaff15 407.5px,#fff400 408.5px,#ff7200 411.5px,#ff0c00 413.5px,#e80000 414.5px,#940000 417.5px,#8f0000 420.5px,#8f0000 472.5px,#e10000 475.5px,#ff0100 476.5px,#ff8000 479.5px,#fff100 483.5px,#f2ff0d 484.5px,#76ff89 489.5px,#09fff6 495.5px,#00fbff 496.5px,#0092ff 510.5px,#004aff 530.5px,#002dff 552.5px,#002cff 559px)"></i>
<i style="height:1px;background:linear-gradient(90deg,#0000e7 0px,#0000f5 30.5px,#0003ff 37.5px,#0022ff 60.5px,#0090ff 74.5px,#00ffff 87.5px,#8cff73 98.5px,#f9ff06 109.5px,#fff400 111.5px,#ffd900 117.5px,#ffde00 122.5px,#fff200 126.5px,#faff05 128.5px,#6aff95 142.5px,#05fffa 150.5px,#00e0ff 154.5px,#00c2ff 158.5px,#00acff 163.5px,#00c7ff 164.5px,#00ebff 165.5px,#11ffee 166.5px,#74ff8b 168.5px,#bcff43 170.5px,#aaff55 171.5px,#87ff78 172.5px,#4affb5 173.5px,#05fffa 174.5px,#00c7ff 175.5px,#0055ff 178.5px,#003eff 180.5px,#0022ff 184.5px,#0006ff 198.5px,#0000f4 207.5px,#0000d4 225.5px,#0000bf 252.5px,#0000aa 310.5px,#0000b7 333.5px,#0000e0 356.5px,#0002ff 363.5px,#0037ff 373.5px,#009eff 388.5px,#00feff 397.5px,#8cff73 403.5px,#feff01 407.5px,#ff8200 410.5px,#ff1c00 412.5px,#f10000 413.5px,#b40000 415.5px,#9c0000 416.5px,#8f0000 417.5px,#8f0000 471.5px,#bb0000 473.5px,#f80000 475.5px,#ff2100 476.5px,#ff7600 478.5px,#ffeb00 482.5px,#f8ff07 483.5px,#7aff85 488.5px,#0dfff2 494.5px,#00fdff 495.5px,#0093ff 509.5px,#004bff 529.5px,#002dff 551.5px,#002cff 559px)"></i>
<i style="height:1px;background:linear-gradient(90deg,#0000e7 0px,#0000f4 30.5px,#0003ff 37.5px,#0021ff 60.5px,#0091ff 74.5px,#01fffe 87.5px,#8dff72 98.5px,#faff05 109.5px,#ffec00 112.5px,#ffd800 118.5px,#ffe900 124.5px,#ffff00 127.5px,#72ff8d 141.5px,#00ffff 150.5px,#00c0ff 158.5px,#00adff 163.5px,#00f6ff 165.5px,#1cffe3 166.5px,#82ff7d 168.5px,#c2ff3d 170.5px,#7bff84 172.5px,#36ffc9 173.5px,#00f0ff 174.5px,#00bcff 175.5px,#004cff 178.5px,#0024ff 183.5px,#0007ff 197.5px,#0000f7 205.5px,#0000d4 225.5px,#0000bf 252.5px,#0000aa 309.5px,#0000b8 333.5px,#0000de 355.5px,#0001ff 362.5px,#0035ff 372.5px,#009bff 387.5px,#00fbff 396.5px,#0efff1 397.5px,#83ff7c 402.5px,#f4ff0b 406.5px,#ffe400 407.5px,#ff6000 410.5px,#fb0000 412.5px,#a40000 415.5px,#8f0000 416.5px,#8f0000 470.5px,#9c0000 471.5px,#d20000 473.5px,#f10000 474.5px,#ff1700 475.5px,#ff6c00 477.5px,#ffab00 479.5px,#feff01 482.5px,#7fff80 487.5px,#00ffff 494.5px,#0090ff 509.5px,#004bff 528.5px,#002dff 550.5px,#002bff 559px)"></i>
<i style="height:1px;background:linear-gradient(90deg,#0000e7 0px,#0000f4 30.5px,#0003ff 37.5px,#0021ff 60.5px,#0091ff 74.5px,#00f8ff 86.5px,#02fffd 87.5px,#8fff70 98.5px,#fbff04 109.5px,#ffe000 115.5px,#ffdc00 119.5px,#fff200 125.5px,#fbff04 127.5px,#6dff92 141.5px,#00fcff 150.5px,#00c3ff 157.5px,#00adff 162.5px,#00b7ff 163.5px,#01fffe 165.5px,#2bffd4 166.5px,#8bff74 168.5px,#aeff51 169.5px,#b9ff46 170.5px,#96ff69 171.5px,#68ff97 172.5px,#23ffdc 173.5px,#00dcff 174.5px,#0066ff 177.5px,#004aff 178.5px,#0023ff 183.5px,#0007ff 197.5px,#0000f9 204.5px,#0000d4 225.5px,#0000bf 253.5px,#0000aa 308.5px,#0000b8 332.5px,#0000e1 355.5px,#0004ff 362.5px,#0039ff 372.5px,#0097ff 386.5px,#00f7ff 395.5px,#07fff8 396.5px,#96ff69 402.5px,#ebff14 405.5px,#fff300 406.5px,#ff7100 409.5px,#ff0b00 411.5px,#e70000 412.5px,#940000 415.5px,#8f0000 419.5px,#8f0000 469.5px,#960000 470.5px,#cb0000 472.5px,#e90000 473.5px,#ff0c00 474.5px,#ff8800 477.5px,#fff900 481.5px,#d1ff2e 483.5px,#85ff7a 486.5px,#04fffb 493.5px,#0091ff 508.5px,#004aff 528.5px,#002dff 549.5px,#002bff 559px)"></i>
<i style="height:1px;background:linear-gradient(90deg,#0000e7 0px,#0000f4 30.5px,#0003ff 37.5px,#0021ff 60.5px,#0091ff 74.5px,#00f9ff 86.5px,#04fffb 87.5px,#86ff79 97.5px,#fbff04 109.5px,#ffe000 115.5px,#ffde00 119.5px,#fff600 125.5px,#f8ff07 127.5px,#75ff8a 140.5px,#03fffc 149.5px,#00c1ff 157.5px,#00acff 162.5px,#00c1ff 163.5px,#00e6ff 164.5px,#0bfff4 165.5px,#6cff93 167.5px,#b7ff48 169.5px,#b0ff4f 170.5px,#8dff72 171.5px,#55ffaa 172.5px,#0ffff0 173.5px,#00cdff 174.5px,#005bff 177.5px,#0047ff 178.5px,#0022ff 183.5px,#0006ff 197.5px,#0000f7 205.5px,#0000d5 224.5px,#0000bf 252.5px,#0000aa 308.5px,#0000b7 331.5px,#0000e0 354.5px,#0002ff 361.5px,#0037ff 371.5px,#009eff 386.5px,#00feff 395.5px,#8cff73 401.5px,#fdff02 405.5px,#ff8200 408.5px,#ff1d00 410.5px,#f20000 411.5px,#b40000 413.5px,#9c0000 414.5px,#8f0000 415.5px,#900000 469.5px,#e10000 472.5px,#ff0100 473.5px,#ff8000 476.5px,#fff200 480.5px,#f1ff0e 481.5px,#76ff89 486.5px,#09fff6 492.5px,#00fbff 493.5px,#0092ff 507.5px,#004aff 527.5px,#002dff 549.5px,#002bff 559px)"></i>
<i style="height:1px;background:linear-gradient(90deg,#0000e7 0px,#0000f4 30.5px,#0003ff 37.5px,#0021ff 60.5px,#0088ff 73.5px,#00f2ff 85.5px,#05fffa 87.5px,#88ff77 97.5px,#fcff03 109.5px,#ffe100 115.5px,#ffe000 119.5px,#fff200 124.5px,#fcff03 126.5px,#70ff8f 140.5px,#00feff 149.5px,#00c4ff 156.5px,#00abff 162.5px,#00efff 164.5px,#15ffea 165.5px,#7aff85 167.5px,#c1ff3e 169.5px,#a6ff59 170.5px,#84ff7b 171.5px,#00fcff 173.5px,#00c3ff 174.5px,#0051ff 177.5px,#0025ff 182.5px,#0009ff 195.5px,#0000f8 204.5px,#0000d4 224.5px,#0000bf 252.5px,#0000aa 307.5px,#0000b8 331.5px,#0000de 353.5px,#0000ff 360.5px,#0035ff 370.5px,#009aff 385.5px,#00faff 394.5px,#0dfff2 395.5px,#81ff7e 400.5px,#f3ff0c 404.5px,#ffe700 405.5px,#ff6200 408.5px,#fd0000 410.5px,#a50000 413.5px,#8f0000 414.5px,#8f0000 468.5px,#bb0000 470.5px,#f80000 472.5px,#ff2100 473.5px,#ff7600 475.5px,#ffea00 479.5px,#f8ff07 480.5px,#7bff84 485.5px,#0dfff2 491.5px,#00fdff 492.5px,#0093ff 506.5px,#004bff 526.5px,#002dff 548.5px,#002bff 559px)"></i>
<i style="height:1px;background:linear-gradient(90deg,#0000e7 0px,#0000f4 30.5px,#0003ff 37.5px,#0020ff 60.5px,#0088ff 73.5px,#00eaff 84.5px,#00fbff 86.5px,#13ffec 88.5px,#89ff76 97.5px,#fdff02 109.5px,#ffe200 115.5px,#ffe200 119.5px,#fff500 124.5px,#f9ff06 126.5px,#6cff93 140.5px,#07fff8 148.5px,#00f2ff 150.5px,#00c2ff 156.5px,#00adff 161.5px,#00b0ff 162.5px,#00f9ff 164.5px,#21ffde 165.5px,#85ff7a 167.5px,#a7ff58 168.5px,#c0ff3f 169.5px,#75ff8a 171.5px,#30ffcf 172.5px,#00eaff 173.5px,#00b9ff 174.5px,#004bff 177.5px,#0023ff 182.5px,#0008ff 195.5px,#0000f8 204.5px,#0000d4 224.5px,#0000bf 252.5px,#0000aa 306.5px,#0000b8 330.5px,#0000e1 353.5px,#0003ff 360.5px,#0039ff 370.5px,#0096ff 384.5px,#00f6ff 393.5px,#04fffb 394.5px,#93ff6c 400.5px,#e8ff17 403.5px,#fff700 404.5px,#ff7600 407.5px,#ff1000 409.5px,#ea0000 410.5px,#ae0000 412.5px,#960000 413.5px,#8f0000 415.5px,#8f0000 467.5px,#9b0000 468.5px,#d10000 470.5px,#f00000 471.5px,#ff1600 472.5px,#ff6b00 474.5px,#ffaa00 476.5px,#ffff00 479.5px,#7fff80 484.5px,#00ffff 491.5px,#0090ff 506.5px,#004bff 525.5px,#002dff 547.5px,#002bff 559px)"></i>
<i style="height:1px;background:linear-gradient(90deg,#0000e6 0px,#0000f4 30.5px,#0003ff 37.5px,#0020ff 60.5px,#0089ff 73.5px,#00e3ff 83.5px,#00fbff 86.5px,#15ffea 88.5px,#8aff75 97.5px,#f6ff09 108.5px,#fff800 110.5px,#ffe100 116.5px,#ffee00 122.5px,#fdff02 125.5px,#74ff8b 139.5px,#02fffd 148.5px,#00c0ff 156.5px,#00acff 161.5px,#00b9ff 162.5px,#04fffb 164.5px,#2effd1 165.5px,#8eff71 167.5px,#b1ff4e 168.5px,#b7ff48 169.5px,#94ff6b 170.5px,#63ff9c 171.5px,#1effe1 172.5px,#00d8ff 173.5px,#0063ff 176.5px,#0049ff 177.5px,#0023ff 182.5px,#0008ff 195.5px,#0000f9 203.5px,#0000d4 224.5px,#0000bf 253.5px,#0000aa 306.5px,#0000b9 330.5px,#0000df 352.5px,#0001ff 359.5px,#0036ff 369.5px,#009cff 384.5px,#00fdff 393.5px,#6fff90 398.5px,#f9ff06 403.5px,#ffdd00 404.5px,#ff8800 406.5px,#ff2400 408.5px,#f60000 409.5px,#9f0000 412.5px,#8f0000 413.5px,#8f0000 466.5px,#940000 467.5px,#e80000 470.5px,#ff0a00 471.5px,#ff8600 474.5px,#fff800 478.5px,#d3ff2c 480.5px,#86ff79 483.5px,#05fffa 490.5px,#00d3ff 496.5px,#0091ff 505.5px,#004aff 525.5px,#002dff 546.5px,#002bff 559px)"></i>
<i style="height:1px;background:linear-gradient(90deg,#0000e6 0px,#0000f4 30.5px,#0003ff 37.5px,#0020ff 60.5px,#0089ff 73.5px,#00e4ff 83.5px,#00fcff 86.5px,#3fffc0 91.5px,#8cff73 97.5px,#f7ff08 108.5px,#fff800 110.5px,#ffe200 116.5px,#fff100 122.5px,#faff05 125.5px,#6fff90 139.5px,#00fdff 148.5px,#00c3ff 155.5px,#00abff 161.5px,#00c2ff 162.5px,#00e7ff 163.5px,#0dfff2 164.5px,#6eff91 166.5px,#b9ff46 168.5px,#afff50 169.5px,#8cff73 170.5px,#52ffad 171.5px,#0dfff2 172.5px,#00cbff 173.5px,#005aff 176.5px,#0047ff 177.5px,#0022ff 182.5px,#0008ff 195.5px,#0000f9 203.5px,#0000d5 223.5px,#0000bf 252.5px,#0000aa 305.5px,#0000b8 329.5px,#0000e2 352.5px,#0004ff 359.5px,#003aff 369.5px,#0098ff 383.5px,#00f9ff 392.5px,#09fff6 393.5px,#99ff66 399.5px,#eeff11 402.5px,#ffee00 403.5px,#ff6b00 406.5px,#ff0500 408.5px,#910000 412.5px,#8f0000 466.5px,#df0000 469.5px,#fe0000 470.5px,#ff7e00 473.5px,#fff000 477.5px,#f3ff0c 478.5px,#77ff88 483.5px,#0afff5 489.5px,#00fbff 490.5px,#0092ff 504.5px,#004aff 524.5px,#002dff 546.5px,#002bff 559px)"></i>
<i style="height:1px;background:linear-gradient(90deg,#0000e6 0px,#0000f4 30.5px,#0003ff 37.5px,#0020ff 60.5px,#0089ff 73.5px,#00ddff 82.5px,#00fdff 86.5px,#8dff72 97.5px,#f0ff0f 107.5px,#ffff00 109.5px,#ffe500 115.5px,#ffef00 121.5px,#feff01 124.5px,#83ff7c 137.5px,#05fffa 147.5px,#00d7ff 152.5px,#00bcff 156.5px,#00aaff 161.5px,#00f0ff 163.5px,#16ffe9 164.5px,#7aff85 166.5px,#c2ff3d 168.5px,#83ff7c 170.5px,#00fbff 172.5px,#00c2ff 173.5px,#0050ff 176.5px,#0025ff 181.5px,#000aff 193.5px,#0000fb 202.5px,#0000d5 223.5px,#0000bf 252.5px,#0000aa 305.5px,#0000b7 328.5px,#0000e0 351.5px,#0002ff 358.5px,#0037ff 368.5px,#009eff 383.5px,#00ffff 392.5px,#8dff72 398.5px,#feff01 402.5px,#ff8000 405.5px,#ff1b00 407.5px,#f00000 408.5px,#b30000 410.5px,#9b0000 411.5px,#8f0000 412.5px,#8f0000 465.5px,#9f0000 466.5px,#f50000 469.5px,#ff1d00 470.5px,#ff7200 472.5px,#ffe800 476.5px,#faff05 477.5px,#7cff83 482.5px,#00feff 489.5px,#008fff 504.5px,#004bff 523.5px,#002dff 545.5px,#002aff 559px)"></i>
<i style="height:1px;background:linear-gradient(90deg,#0000e6 0px,#0000f4 30.5px,#0003ff 37.5px,#0020ff 60.5px,#0089ff 73.5px,#00ddff 82.5px,#00feff 86.5px,#8eff71 97.5px,#f1ff0e 107.5px,#fffe00 109.5px,#ffe600 115.5px,#fff200 121.5px,#fbff04 124.5px,#72ff8d 138.5px,#00ffff 147.5px,#00c4ff 154.5px,#00acff 160.5px,#00afff 161.5px,#00f9ff 163.5px,#21ffde 164.5px,#84ff7b 166.5px,#a7ff58 167.5px,#c1ff3e 168.5px,#76ff89 170.5px,#31ffce 171.5px,#00eaff 172.5px,#00b9ff 173.5px,#004bff 176.5px,#0023ff 181.5px,#0009ff 194.5px,#0000f8 203.5px,#0000d5 223.5px,#0000bf 252.5px,#0000aa 304.5px,#0000b8 328.5px,#0000de 350.5px,#0000ff 357.5px,#0035ff 367.5px,#009aff 382.5px,#00faff 391.5px,#0dfff2 392.5px,#81ff7e 397.5px,#f2ff0d 401.5px,#ffe700 402.5px,#ff6300 405.5px,#fd0000 407.5px,#a50000 410.5px,#8f0000 411.5px,#8f0000 464.5px,#980000 465.5px,#ce0000 467.5px,#ed0000 468.5px,#ff1100 469.5px,#ff8b00 472.5px,#fffc00 476.5px,#82ff7d 481.5px,#02fffd 488.5px,#0091ff 503.5px,#004aff 523.5px,#002dff 544.5px,#002aff 559px)"></i>
<i style="height:1px;background:linear-gradient(90deg,#0000e6 0px,#0000f4 30.5px,#0003ff 37.5px,#001fff 60.5px,#0089ff 73.5px,#00d6ff 81.5px,#00feff 86.5px,#86ff79 96.5px,#f2ff0d 107.5px,#fffe00 109.5px,#ffe700 115.5px,#fff500 121.5px,#feff01 123.5px,#d4ff2b 128.5px,#6eff91 138.5px,#08fff7 146.5px,#00fcff 147.5px,#00c2ff 154.5px,#00abff 160.5px,#00b7ff 161.5px,#02fffd 163.5px,#2cffd3 164.5px,#8cff73 166.5px,#b0ff4f 167.5px,#b9ff46 168.5px,#96ff69 169.5px,#66ff99 170.5px,#21ffde 171.5px,#00daff 172.5px,#0064ff 175.5px,#0049ff 176.5px,#0023ff 181.5px,#0009ff 194.5px,#0000f8 203.5px,#0000d5 223.5px,#0000be 253.5px,#0000aa 303.5px,#0000b8 327.5px,#0000e1 350.5px,#0003ff 357.5px,#0038ff 367.5px,#00a0ff 382.5px,#03fffc 391.5px,#91ff6e 397.5px,#fffa00 401.5px,#ff7a00 404.5px,#ff1400 406.5px,#ec0000 407.5px,#b00000 409.5px,#980000 410.5px,#8f0000 411.5px,#910000 464.5px,#ff0400 468.5px,#ff8200 471.5px,#fff400 475.5px,#f0ff0f 476.5px,#74ff8b 481.5px,#07fff8 487.5px,#00f3ff 489.5px,#0092ff 502.5px,#004aff 522.5px,#002dff 544.5px,#002aff 559px)"></i>
<i style="height:1px;background:linear-gradient(90deg,#0000e6 0px,#0000f4 30.5px,#0003ff 37.5px,#001fff 60.5px,#008aff 73.5px,#00d7ff 81.5px,#00ffff 86.5px,#87ff78 96.5px,#f2ff0d 107.5px,#fffd00 109.5px,#ffe700 115.5px,#fff700 121.5px,#f5ff0a 124.5px,#76ff89 137.5px,#03fffc 146.5px,#00c0ff 154.5px,#00aaff 160.5px,#00bfff 161.5px,#00e4ff 162.5px,#0afff5 163.5px,#6bff94 165.5px,#b8ff47 167.5px,#b1ff4e 168.5px,#8eff71 169.5px,#57ffa8 170.5px,#11ffee 171.5px,#00ceff 172.5px,#005cff 175.5px,#0048ff 176.5px,#0022ff 181.5px,#0008ff 194.5px,#0000f8 203.5px,#0000d5 223.5px,#0000be 254.5px,#0000aa 303.5px,#0000b8 327.5px,#0000de 349.5px,#0001ff 356.5px,#0035ff 366.5px,#009bff 381.5px,#00fbff 390.5px,#27ffd8 392.5px,#a1ff5e 397.5px,#f6ff09 400.5px,#ffe300 401.5px,#ff5d00 404.5px,#ff2a00 405.5px,#fa0000 406.5px,#a30000 409.5px,#8f0000 410.5px,#8f0000 463.5px,#bc0000 465.5px,#f90000 467.5px,#ff2200 468.5px,#ff7700 470.5px,#ffeb00 474.5px,#f7ff08 475.5px,#7aff85 480.5px,#0dfff2 486.5px,#00fdff 487.5px,#0093ff 501.5px,#004aff 521.5px,#002dff 543.5px,#002aff 559px)"></i>
<i style="height:1px;background:linear-gradient(90deg,#0000e6 0px,#0000f4 30.5px,#0003ff 37.5px,#001fff 60.5px,#0080ff 72.5px,#00d8ff 81.5px,#01fffe 86.5px,#89ff76 96.5px,#ecff13 106.5px,#fffd00 109.5px,#ffe900 115.5px,#fffa00 121.5px,#f2ff0d 124.5px,#71ff8e 137.5px,#00feff 146.5px,#00c3ff 153.5px,#00a9ff 160.5px,#00ecff 162.5px,#12ffed 163.5px,#76ff89 165.5px,#bfff40 167.5px,#aaff55 168.5px,#86ff79 169.5px,#02fffd 171.5px,#00c5ff 172.5px,#0054ff 175.5px,#0036ff 178.5px,#0022ff 181.5px,#0009ff 193.5px,#0000fa 202.5px,#0000d6 222.5px,#0000bf 252.5px,#0000aa 302.5px,#0000b8 326.5px,#0000e1 349.5px,#0003ff 356.5px,#0039ff 366.5px,#0096ff 380.5px,#00f7ff 389.5px,#05fffa 390.5px,#94ff6b 396.5px,#e9ff16 399.5px,#fff600 400.5px,#ff7500 403.5px,#ff0f00 405.5px,#e90000 406.5px,#ad0000 408.5px,#960000 409.5px,#8f0000 411.5px,#8f0000 462.5px,#9b0000 463.5px,#d10000 465.5px,#f00000 466.5px,#ff1600 467.5px,#ff6b00 469.5px,#ffaa00 471.5px,#ffff00 474.5px,#7fff80 479.5px,#00ffff 486.5px,#0090ff 501.5px,#004bff 520.5px,#002dff 542.5px,#002aff 559px)"></i>
<i style="height:1px;background:linear-gradient(90deg,#0000e6 0px,#0000f4 30.5px,#0003ff 37.5px,#001fff 60.5px,#0080ff 72.5px,#00d8ff 81.5px,#03fffc 86.5px,#8aff75 96.5px,#edff12 106.5px,#fffd00 109.5px,#ffeb00 115.5px,#fbff04 122.5px,#dbff24 126.5px,#6cff93 137.5px,#07fff8 145.5px,#00f2ff 147.5px,#00c1ff 153.5px,#00abff 159.5px,#00aaff 160.5px,#00f4ff 162.5px,#1affe5 163.5px,#80ff7f 165.5px,#c6ff39 167.5px,#7eff81 169.5px,#39ffc6 170.5px,#00f2ff 171.5px,#00bdff 172.5px,#004cff 175.5px,#0024ff 180.5px,#000bff 192.5px,#0000f9 202.5px,#0000d6 222.5px,#0000bf 252.5px,#0000aa 302.5px,#0000b9 326.5px,#0000df 348.5px,#0001ff 355.5px,#0036ff 365.5px,#009cff 380.5px,#00fcff 389.5px,#40ffbf 392.5px,#a3ff5c 396.5px,#f8ff07 399.5px,#ffdf00 400.5px,#ff8a00 402.5px,#ff2700 404.5px,#f80000 405.5px,#a10000 408.5px,#8f0000 409.5px,#8f0000 461.5px,#940000 462.5px,#e70000 465.5px,#ff0900 466.5px,#ff8500 469.5px,#fff700 473.5px,#edff12 474.5px,#87ff78 478.5px,#05fffa 485.5px,#00eaff 488.5px,#0091ff 500.5px,#004aff 520.5px,#002dff 541.5px,#002aff 559px)"></i>
<i style="height:1px;background:linear-gradient(90deg,#0000e6 0px,#0000f4 30.5px,#0003ff 37.5px,#001eff 60.5px,#0080ff 72.5px,#00d9ff 81.5px,#04fffb 86.5px,#8bff74 96.5px,#eeff11 106.5px,#fffc00 109.5px,#ffed00 115.5px,#feff01 121.5px,#e1ff1e 125.5px,#74ff8b 136.5px,#02fffd 145.5px,#00bfff 153.5px,#00aaff 159.5px,#00b1ff 160.5px,#00fcff 162.5px,#25ffda 163.5px,#88ff77 165.5px,#abff54 166.5px,#bfff40 167.5px,#70ff8f 169.5px,#2affd5 170.5px,#00e4ff 171.5px,#00b6ff 172.5px,#006aff 174.5px,#004bff 175.5px,#0023ff 180.5px,#000aff 192.5px,#0000fb 201.5px,#0000d6 222.5px,#0000be 253.5px,#0000aa 301.5px,#0000b8 325.5px,#0000e1 348.5px,#0004ff 355.5px,#0039ff 365.5px,#0097ff 379.5px,#00f7ff 388.5px,#06fff9 389.5px,#95ff6a 395.5px,#eaff15 398.5px,#fff400 399.5px,#ff7200 402.5px,#ff0c00 404.5px,#e80000 405.5px,#950000 408.5px,#8f0000 411.5px,#8f0000 461.5px,#bf0000 463.5px,#fc0000 465.5px,#ff7b00 468.5px,#ffee00 472.5px,#f5ff0a 473.5px,#78ff87 478.5px,#0bfff4 484.5px,#00fcff 485.5px,#0092ff 499.5px,#004aff 519.5px,#002dff 541.5px,#002aff 559px)"></i>
<i style="height:1px;background:linear-gradient(90deg,#0000e6 0px,#0000f4 30.5px,#0002ff 37.5px,#001eff 60.5px,#0080ff 72.5px,#00d2ff 80.5px,#00faff 85.5px,#05fffa 86.5px,#83ff7c 95.5px,#eeff11 106.5px,#fffd00 109.5px,#ffef00 115.5px,#fbff04 121.5px,#e7ff18 124.5px,#70ff8f 136.5px,#00fdff 145.5px,#00c2ff 152.5px,#00aeff 157.5px,#00aaff 159.5px,#00b8ff 160.5px,#04fffb 162.5px,#8fff70 165.5px,#b2ff4d 166.5px,#b7ff48 167.5px,#94ff6b 168.5px,#62ff9d 169.5px,#1dffe2 170.5px,#00d6ff 171.5px,#0062ff 174.5px,#0049ff 175.5px,#0023ff 180.5px,#000aff 192.5px,#0000fb 201.5px,#0000d6 222.5px,#0000be 254.5px,#0000aa 301.5px,#0000b9 325.5px,#0000df 347.5px,#0001ff 354.5px,#0036ff 364.5px,#009cff 379.5px,#00fcff 388.5px,#40ffbf 391.5px,#a3ff5c 395.5px,#f8ff07 398.5px,#ffde00 399.5px,#ff8900 401.5px,#ff2500 403.5px,#f70000 404.5px,#a00000 407.5px,#8f0000 408.5px,#8f0000 460.5px,#9d0000 461.5px,#d40000 463.5px,#f20000 464.5px,#ff1900 465.5px,#ff6e00 467.5px,#ffc900 470.5px,#fdff02 472.5px,#7eff81 477.5px,#00feff 484.5px,#0090ff 499.5px,#0049ff 519.5px,#002dff 540.5px,#002aff 559px)"></i>
<i style="height:1px;background:linear-gradient(90deg,#0000e6 0px,#0000f4 30.5px,#0002ff 37.5px,#001eff 60.5px,#0080ff 72.5px,#00d3ff 80.5px,#00fbff 85.5px,#15ffea 87.5px,#84ff7b 95.5px,#e8ff17 105.5px,#fffd00 109.5px,#fff000 114.5px,#feff01 120.5px,#e3ff1c 124.5px,#78ff87 135.5px,#05fffa 144.5px,#00d6ff 149.5px,#00b6ff 154.5px,#00a9ff 159.5px,#00c0ff 160.5px,#00e5ff 161.5px,#0bfff4 162.5px,#6cff93 164.5px,#b9ff46 166.5px,#b1ff4e 167.5px,#8dff72 168.5px,#54ffab 169.5px,#0ffff0 170.5px,#00ccff 171.5px,#005bff 174.5px,#0047ff 175.5px,#0022ff 180.5px,#000aff 192.5px,#0000fb 201.5px,#0000d7 221.5px,#0000be 253.5px,#0000aa 300.5px,#0000b8 324.5px,#0000e1 347.5px,#0004ff 354.5px,#0039ff 364.5px,#0097ff 378.5px,#00f7ff 387.5px,#06fff9 388.5px,#95ff6a 394.5px,#eaff15 397.5px,#fff400 398.5px,#ff7200 401.5px,#ff0c00 403.5px,#e80000 404.5px,#950000 407.5px,#8f0000 410.5px,#8f0000 459.5px,#950000 460.5px,#e80000 463.5px,#ff0b00 464.5px,#ff8700 467.5px,#fff800 471.5px,#d2ff2d 473.5px,#86ff79 476.5px,#04fffb 483.5px,#00a5ff 495.5px,#008dff 499.5px,#004aff 518.5px,#002dff 539.5px,#0029ff 559px)"></i>
</div>
<div style="position:absolute;left:63px;top:316px;width:1px;height:132px;background:rgba(60,60,70,0.6)"></div>
<div style="position:absolute;left:63px;top:447px;width:559px;height:1px;background:rgba(40,40,40,0.45)"></div>
<div style="position:absolute;left:63px;top:453px;width:1px;height:132px;background:rgba(60,60,70,0.6)"></div>
<div style="position:absolute;left:63px;top:584px;width:559px;height:1px;background:rgba(40,40,40,0.45)"></div>
<div class="cb" style="left:633px;top:315px;width:18px;height:132px"></div>
<div class="cb" style="left:633px;top:452.5px;width:18px;height:132px"></div>
<svg width="685" height="636" viewBox="0 0 685 636">
<circle cx="186.6" cy="171.5" r="32.1" fill="#e4e4e4"/>
<circle cx="186.6" cy="171.5" r="30" fill="#969696"/>
<circle cx="186.5" cy="171.6" r="19.5" fill="#767676"/>
<circle cx="387.9" cy="35.1" r="31.9" fill="#e4e4e4"/>
<circle cx="387.9" cy="35.1" r="29.9" fill="#969698"/>
<circle cx="387.7" cy="35.6" r="19.8" fill="#f4b733"/>
<circle cx="387.7" cy="35.6" r="14.4" fill="#707072"/>
<circle cx="565.5" cy="111.1" r="19.2" fill="#f4b733"/>
<circle cx="565.5" cy="111.1" r="14.4" fill="#6e6e72"/>
<line x1="124.6" y1="215.3" x2="124.4" y2="87" stroke="#000" stroke-width="2.4"/>
<polygon points="124.4,80.3 120.2,89 128.6,89" fill="#000"/>
<line x1="283.5" y1="164.5" x2="323.2" y2="164.5" stroke="#000" stroke-width="2"/>
<line x1="283" y1="222.2" x2="322.8" y2="222.2" stroke="#000" stroke-width="2"/>
<line x1="350.2" y1="74.5" x2="421.2" y2="74.5" stroke="#000" stroke-width="2"/>
<line x1="350.2" y1="137.3" x2="421.2" y2="137.3" stroke="#000" stroke-width="2"/>
<line x1="350.8" y1="194.6" x2="421.2" y2="194.6" stroke="#000" stroke-width="2"/>
<line x1="350.8" y1="293.2" x2="421.2" y2="293.2" stroke="#000" stroke-width="2"/>
<line x1="435.8" y1="118.2" x2="476.2" y2="118.2" stroke="#000" stroke-width="2"/>
<line x1="435.8" y1="151.1" x2="476.2" y2="151.1" stroke="#000" stroke-width="2"/>
<line x1="323.2" y1="164.5" x2="350.2" y2="74.5" stroke="#f2b534" stroke-width="1.3" stroke-dasharray="4 2"/>
<line x1="323.2" y1="164.5" x2="350.8" y2="194.6" stroke="#f2b534" stroke-width="1.3" stroke-dasharray="4 2"/>
<line x1="421.2" y1="74.5" x2="435.8" y2="118.2" stroke="#f2b534" stroke-width="1.3" stroke-dasharray="4 2"/>
<line x1="435.8" y1="118.2" x2="421.2" y2="194.6" stroke="#f2b534" stroke-width="1.3" stroke-dasharray="4 2"/>
<line x1="322.8" y1="222.2" x2="350.2" y2="137.3" stroke="#2f73b8" stroke-width="1.3" stroke-dasharray="4 2"/>
<line x1="322.8" y1="222.2" x2="350.8" y2="293.2" stroke="#2f73b8" stroke-width="1.3" stroke-dasharray="4 2"/>
<line x1="421.2" y1="137.3" x2="435.8" y2="151.1" stroke="#2f73b8" stroke-width="1.3" stroke-dasharray="4 2"/>
<line x1="435.8" y1="151.1" x2="421.2" y2="293.2" stroke="#2f73b8" stroke-width="1.3" stroke-dasharray="4 2"/>
<defs><clipPath id="cb"><rect x="63" y="316" width="559" height="132"/></clipPath><clipPath id="cc"><rect x="63" y="453" width="559" height="132"/></clipPath></defs>
<g clip-path="url(#cb)">
<path d="M117.40 317.70 C116.87 328.42 115.27 360.12 114.20 382.00 C113.13 403.88 111.53 437.83 111.00 449.00" fill="none" stroke="rgba(255,255,255,0.8)" stroke-width="4.5" stroke-dasharray="17.5 13.5" stroke-dashoffset="0"/>
<path d="M192.30 317.70 C191.82 328.42 190.42 360.12 189.40 382.00 C188.38 403.88 186.73 437.83 186.20 449.00" fill="none" stroke="rgba(255,255,255,0.8)" stroke-width="4.5" stroke-dasharray="17.5 13.5" stroke-dashoffset="0"/>
<path d="M261.50 316.50 C261.30 321.25 260.75 335.25 260.30 345.00 C259.85 354.75 259.02 365.83 258.80 375.00 C258.58 384.17 258.60 392.50 259.00 400.00 C259.40 407.50 260.20 414.17 261.20 420.00 C262.20 425.83 263.53 430.17 265.00 435.00 C266.47 439.83 269.17 446.67 270.00 449.00" fill="none" stroke="rgba(255,255,255,0.8)" stroke-width="4.5" stroke-dasharray="17.5 13.5" stroke-dashoffset="0"/>
<path d="M548.40 316.20 C549.00 319.00 550.85 325.20 552.00 333.00 C553.15 340.80 554.20 352.72 555.30 363.00 C556.40 373.28 557.48 387.03 558.60 394.70 C559.72 402.37 560.53 403.85 562.00 409.00 C563.47 414.15 565.40 421.00 567.40 425.60 C569.40 430.20 571.57 432.70 574.00 436.60 C576.43 440.50 580.67 446.93 582.00 449.00" fill="none" stroke="rgba(255,255,255,0.8)" stroke-width="4.5" stroke-dasharray="17.5 13.5" stroke-dashoffset="0"/>
</g><g clip-path="url(#cc)">
<path d="M113.50 456.60 C113.72 463.33 114.33 485.10 114.80 497.00 C115.27 508.90 115.87 517.67 116.30 528.00 C116.73 538.33 117.08 549.17 117.40 559.00 C117.72 568.83 118.07 582.33 118.20 587.00" fill="none" stroke="rgba(255,255,255,0.8)" stroke-width="4.5" stroke-dasharray="17.5 13.5" stroke-dashoffset="0"/>
<path d="M206.50 455.50 C205.17 460.63 201.12 476.05 198.50 486.30 C195.88 496.55 193.38 506.93 190.80 517.00 C188.22 527.07 185.57 536.80 183.00 546.70 C180.43 556.60 177.10 569.68 175.40 576.40 C173.70 583.12 173.23 585.23 172.80 587.00" fill="none" stroke="rgba(255,255,255,0.8)" stroke-width="4.5" stroke-dasharray="17.5 13.5" stroke-dashoffset="0"/>
<path d="M314.20 450.00 C312.48 451.67 307.22 456.67 303.90 460.00 C300.58 463.33 297.40 466.67 294.30 470.00 C291.20 473.33 288.20 476.67 285.30 480.00 C282.40 483.33 279.58 486.67 276.90 490.00 C274.22 493.33 271.67 496.67 269.20 500.00 C266.73 503.33 264.35 506.67 262.10 510.00 C259.85 513.33 257.73 516.67 255.70 520.00 C253.67 523.33 251.72 526.67 249.90 530.00 C248.08 533.33 246.40 536.67 244.80 540.00 C243.20 543.33 241.68 546.67 240.30 550.00 C238.92 553.33 237.67 556.67 236.50 560.00 C235.33 563.33 234.25 566.67 233.30 570.00 C232.35 573.33 231.53 576.67 230.80 580.00 C230.07 583.33 229.22 588.33 228.90 590.00" fill="none" stroke="rgba(255,255,255,0.8)" stroke-width="4.5" stroke-dasharray="17.5 13.5" stroke-dashoffset="23.57"/>
<path d="M626.40 470.00 C623.65 471.67 615.23 476.67 609.90 480.00 C604.57 483.33 599.40 486.67 594.40 490.00 C589.40 493.33 584.58 496.67 579.90 500.00 C575.22 503.33 570.67 506.67 566.30 510.00 C561.93 513.33 557.75 516.67 553.70 520.00 C549.65 523.33 545.75 526.67 542.00 530.00 C538.25 533.33 534.63 536.67 531.20 540.00 C527.77 543.33 524.52 546.67 521.40 550.00 C518.28 553.33 515.30 556.67 512.50 560.00 C509.70 563.33 507.07 566.67 504.60 570.00 C502.13 573.33 499.85 576.67 497.70 580.00 C495.55 583.33 492.70 588.33 491.70 590.00" fill="none" stroke="rgba(255,255,255,0.8)" stroke-width="4.5" stroke-dasharray="17.5 13.5" stroke-dashoffset="21.68"/>
</g>
<text transform="translate(112.2,172.2) rotate(-90)" font-family="Liberation Sans" font-size="15" fill="#000">Energy</text>
<text transform="translate(14.9,405.3) rotate(-90)" fill="#000"><tspan font-family="Liberation Serif" font-style="italic" font-size="21">r</tspan><tspan font-family="Liberation Serif" font-size="13" dx="-0.8" dy="4">4</tspan></text>
<text transform="translate(14.9,389.0) rotate(-90)" fill="#000" font-family="Liberation Sans" font-size="15.5" textLength="36" lengthAdjust="spacingAndGlyphs">(um)</text>
<text transform="translate(14.9,546.3) rotate(-90)" fill="#000"><tspan font-family="Liberation Serif" font-style="italic" font-size="21">r</tspan><tspan font-family="Liberation Serif" font-size="13" dx="-0.8" dy="4">2</tspan></text>
<text transform="translate(14.9,530.0) rotate(-90)" fill="#000" font-family="Liberation Sans" font-size="15.5" textLength="36" lengthAdjust="spacingAndGlyphs">(um)</text>
</svg>
<div class="t" style="left:68.50px;top:43.38px;font-size:22.00px;font-family:'Liberation Sans', sans-serif;color:#000;letter-spacing:0.6px;">(a)</div>
<div class="t" style="left:160.30px;top:210.70px;font-size:15.00px;font-family:'Liberation Sans', sans-serif;color:#000;">Ag shell</div>
<div class="t" style="left:540.20px;top:138.80px;font-size:15.00px;font-family:'Liberation Sans', sans-serif;color:#000;">Au shell</div>
<div class="t" style="left:230.50px;top:154.35px;font-size:20.00px;font-family:'Liberation Serif', serif;color:#000;font-style:italic;">l</div>
<div style="position:absolute;left:244.10px;top:163px;width:12.2px;height:1.3px;background:#000"></div>
<div style="position:absolute;left:244.10px;top:167px;width:12.2px;height:1.3px;background:#000"></div>
<div class="t" style="left:263.80px;top:154.35px;font-size:20.00px;font-family:'Liberation Serif', serif;color:#000;">2</div>
<div class="t" style="left:230.50px;top:211.45px;font-size:20.00px;font-family:'Liberation Serif', serif;color:#000;font-style:italic;">l</div>
<div style="position:absolute;left:244.10px;top:220px;width:12.2px;height:1.3px;background:#000"></div>
<div style="position:absolute;left:244.10px;top:224px;width:12.2px;height:1.3px;background:#000"></div>
<div class="t" style="left:263.80px;top:211.45px;font-size:20.00px;font-family:'Liberation Serif', serif;color:#000;">1</div>
<div class="t" style="left:483.30px;top:108.25px;font-size:20.00px;font-family:'Liberation Serif', serif;color:#000;font-style:italic;">l</div>
<div style="position:absolute;left:496.20px;top:118px;width:12.2px;height:1.3px;background:#000"></div>
<div style="position:absolute;left:496.20px;top:121px;width:12.2px;height:1.3px;background:#000"></div>
<div class="t" style="left:516.60px;top:108.25px;font-size:20.00px;font-family:'Liberation Serif', serif;color:#000;">2</div>
<div class="t" style="left:483.30px;top:142.05px;font-size:20.00px;font-family:'Liberation Serif', serif;color:#000;font-style:italic;">l</div>
<div style="position:absolute;left:496.20px;top:150px;width:12.2px;height:1.3px;background:#000"></div>
<div style="position:absolute;left:496.20px;top:154px;width:12.2px;height:1.3px;background:#000"></div>
<div class="t" style="left:516.60px;top:142.05px;font-size:20.00px;font-family:'Liberation Serif', serif;color:#000;">1</div>
<div class="t" style="left:373.80px;top:79.87px;font-size:19.50px;font-family:'Liberation Serif', serif;color:#000;font-style:italic;-webkit-text-stroke:0.3px #000;">M</div>
<div class="t" style="left:389.30px;top:89.29px;font-size:13.50px;font-family:'Liberation Serif', serif;color:#000;-webkit-text-stroke:0.25px #000;">2</div>
<div class="t" style="left:391.60px;top:77.31px;font-size:13.00px;font-family:'Liberation Serif', serif;color:#000;font-style:italic;-webkit-text-stroke:0.25px #000;">A</div>
<div class="t" style="left:373.80px;top:111.77px;font-size:19.50px;font-family:'Liberation Serif', serif;color:#000;font-style:italic;-webkit-text-stroke:0.3px #000;">M</div>
<div class="t" style="left:389.30px;top:121.19px;font-size:13.50px;font-family:'Liberation Serif', serif;color:#000;-webkit-text-stroke:0.25px #000;">1</div>
<div class="t" style="left:391.60px;top:109.21px;font-size:13.00px;font-family:'Liberation Serif', serif;color:#000;font-style:italic;-webkit-text-stroke:0.25px #000;">A</div>
<div class="t" style="left:374.00px;top:169.97px;font-size:19.50px;font-family:'Liberation Serif', serif;color:#000;font-style:italic;-webkit-text-stroke:0.3px #000;">M</div>
<div class="t" style="left:389.50px;top:179.39px;font-size:13.50px;font-family:'Liberation Serif', serif;color:#000;-webkit-text-stroke:0.25px #000;">2</div>
<div class="t" style="left:391.80px;top:167.41px;font-size:13.00px;font-family:'Liberation Serif', serif;color:#000;font-style:italic;-webkit-text-stroke:0.25px #000;">B</div>
<div class="t" style="left:375.80px;top:266.87px;font-size:19.50px;font-family:'Liberation Serif', serif;color:#000;font-style:italic;-webkit-text-stroke:0.3px #000;">M</div>
<div class="t" style="left:391.30px;top:276.29px;font-size:13.50px;font-family:'Liberation Serif', serif;color:#000;-webkit-text-stroke:0.25px #000;">1</div>
<div class="t" style="left:393.60px;top:264.31px;font-size:13.00px;font-family:'Liberation Serif', serif;color:#000;font-style:italic;-webkit-text-stroke:0.25px #000;">B</div>
<div class="t" style="left:69.30px;top:322.93px;font-size:23.00px;font-family:'Liberation Sans', sans-serif;color:#fff;letter-spacing:0.3px;">(b)</div>
<div class="t" style="left:69.30px;top:461.43px;font-size:23.00px;font-family:'Liberation Sans', sans-serif;color:#fff;letter-spacing:0.3px;">(c)</div>
<div class="t" style="left:81.20px;top:380.57px;font-size:19.50px;font-family:'Liberation Serif', serif;color:#111;font-style:italic;-webkit-text-stroke:0.3px #111;">M</div>
<div class="t" style="left:96.70px;top:389.99px;font-size:13.50px;font-family:'Liberation Serif', serif;color:#111;-webkit-text-stroke:0.25px #111;">2</div>
<div class="t" style="left:99.00px;top:378.01px;font-size:13.00px;font-family:'Liberation Serif', serif;color:#111;font-style:italic;-webkit-text-stroke:0.25px #111;">A</div>
<div class="t" style="left:153.20px;top:380.57px;font-size:19.50px;font-family:'Liberation Serif', serif;color:#111;font-style:italic;-webkit-text-stroke:0.3px #111;">M</div>
<div class="t" style="left:168.70px;top:389.99px;font-size:13.50px;font-family:'Liberation Serif', serif;color:#111;-webkit-text-stroke:0.25px #111;">1</div>
<div class="t" style="left:171.00px;top:378.01px;font-size:13.00px;font-family:'Liberation Serif', serif;color:#111;font-style:italic;-webkit-text-stroke:0.25px #111;">A</div>
<div class="t" style="left:227.70px;top:380.57px;font-size:19.50px;font-family:'Liberation Serif', serif;color:#111;font-style:italic;-webkit-text-stroke:0.3px #111;">M</div>
<div class="t" style="left:243.20px;top:389.99px;font-size:13.50px;font-family:'Liberation Serif', serif;color:#111;-webkit-text-stroke:0.25px #111;">2</div>
<div class="t" style="left:245.50px;top:378.01px;font-size:13.00px;font-family:'Liberation Serif', serif;color:#111;font-style:italic;-webkit-text-stroke:0.25px #111;">B</div>
<div class="t" style="left:519.70px;top:380.87px;font-size:19.50px;font-family:'Liberation Serif', serif;color:#111;font-style:italic;-webkit-text-stroke:0.3px #111;">M</div>
<div class="t" style="left:535.20px;top:390.29px;font-size:13.50px;font-family:'Liberation Serif', serif;color:#111;-webkit-text-stroke:0.25px #111;">1</div>
<div class="t" style="left:537.50px;top:378.31px;font-size:13.00px;font-family:'Liberation Serif', serif;color:#111;font-style:italic;-webkit-text-stroke:0.25px #111;">B</div>
<div class="t" style="left:81.10px;top:505.57px;font-size:19.50px;font-family:'Liberation Serif', serif;color:#111;font-style:italic;-webkit-text-stroke:0.3px #111;">M</div>
<div class="t" style="left:96.60px;top:514.99px;font-size:13.50px;font-family:'Liberation Serif', serif;color:#111;-webkit-text-stroke:0.25px #111;">2</div>
<div class="t" style="left:98.90px;top:503.01px;font-size:13.00px;font-family:'Liberation Serif', serif;color:#111;font-style:italic;-webkit-text-stroke:0.25px #111;">A</div>
<div class="t" style="left:157.00px;top:505.57px;font-size:19.50px;font-family:'Liberation Serif', serif;color:#111;font-style:italic;-webkit-text-stroke:0.3px #111;">M</div>
<div class="t" style="left:172.50px;top:514.99px;font-size:13.50px;font-family:'Liberation Serif', serif;color:#111;-webkit-text-stroke:0.25px #111;">1</div>
<div class="t" style="left:174.80px;top:503.01px;font-size:13.00px;font-family:'Liberation Serif', serif;color:#111;font-style:italic;-webkit-text-stroke:0.25px #111;">A</div>
<div class="t" style="left:218.90px;top:505.57px;font-size:19.50px;font-family:'Liberation Serif', serif;color:#111;font-style:italic;-webkit-text-stroke:0.3px #111;">M</div>
<div class="t" style="left:234.40px;top:514.99px;font-size:13.50px;font-family:'Liberation Serif', serif;color:#111;-webkit-text-stroke:0.25px #111;">2</div>
<div class="t" style="left:236.70px;top:503.01px;font-size:13.00px;font-family:'Liberation Serif', serif;color:#111;font-style:italic;-webkit-text-stroke:0.25px #111;">B</div>
<div class="t" style="left:505.30px;top:505.37px;font-size:19.50px;font-family:'Liberation Serif', serif;color:#111;font-style:italic;-webkit-text-stroke:0.3px #111;">M</div>
<div class="t" style="left:520.80px;top:514.79px;font-size:13.50px;font-family:'Liberation Serif', serif;color:#111;-webkit-text-stroke:0.25px #111;">1</div>
<div class="t" style="left:523.10px;top:502.81px;font-size:13.00px;font-family:'Liberation Serif', serif;color:#111;font-style:italic;-webkit-text-stroke:0.25px #111;">B</div>
<div class="t" style="right:624.40px;top:320.78px;font-size:15.50px;font-family:'Liberation Sans', sans-serif;color:#000;">0.064</div>
<div class="t" style="right:624.40px;top:346.98px;font-size:15.50px;font-family:'Liberation Sans', sans-serif;color:#000;">0.062</div>
<div class="t" style="right:624.40px;top:373.08px;font-size:15.50px;font-family:'Liberation Sans', sans-serif;color:#000;">0.060</div>
<div class="t" style="right:624.40px;top:400.08px;font-size:15.50px;font-family:'Liberation Sans', sans-serif;color:#000;">0.058</div>
<div class="t" style="right:624.40px;top:426.98px;font-size:15.50px;font-family:'Liberation Sans', sans-serif;color:#000;">0.056</div>
<div class="t" style="right:624.40px;top:460.78px;font-size:15.50px;font-family:'Liberation Sans', sans-serif;color:#000;">0.040</div>
<div class="t" style="right:624.40px;top:486.98px;font-size:15.50px;font-family:'Liberation Sans', sans-serif;color:#000;">0.038</div>
<div class="t" style="right:624.40px;top:513.08px;font-size:15.50px;font-family:'Liberation Sans', sans-serif;color:#000;">0.036</div>
<div class="t" style="right:624.40px;top:540.28px;font-size:15.50px;font-family:'Liberation Sans', sans-serif;color:#000;">0.034</div>
<div class="t" style="right:624.40px;top:566.98px;font-size:15.50px;font-family:'Liberation Sans', sans-serif;color:#000;">0.032</div>
<div class="t" style="left:64.00px;transform:translateX(-50%);top:589.28px;font-size:15.50px;font-family:'Liberation Sans', sans-serif;color:#000;">0.5</div>
<div class="t" style="left:143.50px;transform:translateX(-50%);top:589.28px;font-size:15.50px;font-family:'Liberation Sans', sans-serif;color:#000;">0.6</div>
<div class="t" style="left:223.00px;transform:translateX(-50%);top:589.28px;font-size:15.50px;font-family:'Liberation Sans', sans-serif;color:#000;">0.7</div>
<div class="t" style="left:302.50px;transform:translateX(-50%);top:589.28px;font-size:15.50px;font-family:'Liberation Sans', sans-serif;color:#000;">0.8</div>
<div class="t" style="left:382.00px;transform:translateX(-50%);top:589.28px;font-size:15.50px;font-family:'Liberation Sans', sans-serif;color:#000;">0.9</div>
<div class="t" style="left:461.50px;transform:translateX(-50%);top:589.28px;font-size:15.50px;font-family:'Liberation Sans', sans-serif;color:#000;">1.0</div>
<div class="t" style="left:541.00px;transform:translateX(-50%);top:589.28px;font-size:15.50px;font-family:'Liberation Sans', sans-serif;color:#000;">1.1</div>
<div class="t" style="left:620.50px;transform:translateX(-50%);top:589.28px;font-size:15.50px;font-family:'Liberation Sans', sans-serif;color:#000;">1.2</div>
<div class="t" style="left:347.20px;transform:translateX(-50%);top:613.76px;font-size:18.00px;font-family:'Liberation Sans', sans-serif;color:#000;">Wavelength (um)</div>
<div class="t" style="left:653.30px;top:310.28px;font-size:15.50px;font-family:'Liberation Sans', sans-serif;color:#000;">max</div>
<div class="t" style="left:653.30px;top:434.38px;font-size:15.50px;font-family:'Liberation Sans', sans-serif;color:#000;">min</div>
<div class="t" style="left:653.30px;top:447.18px;font-size:15.50px;font-family:'Liberation Sans', sans-serif;color:#000;">max</div>
<div class="t" style="left:653.30px;top:572.18px;font-size:15.50px;font-family:'Liberation Sans', sans-serif;color:#000;">min</div>
</body></html>
